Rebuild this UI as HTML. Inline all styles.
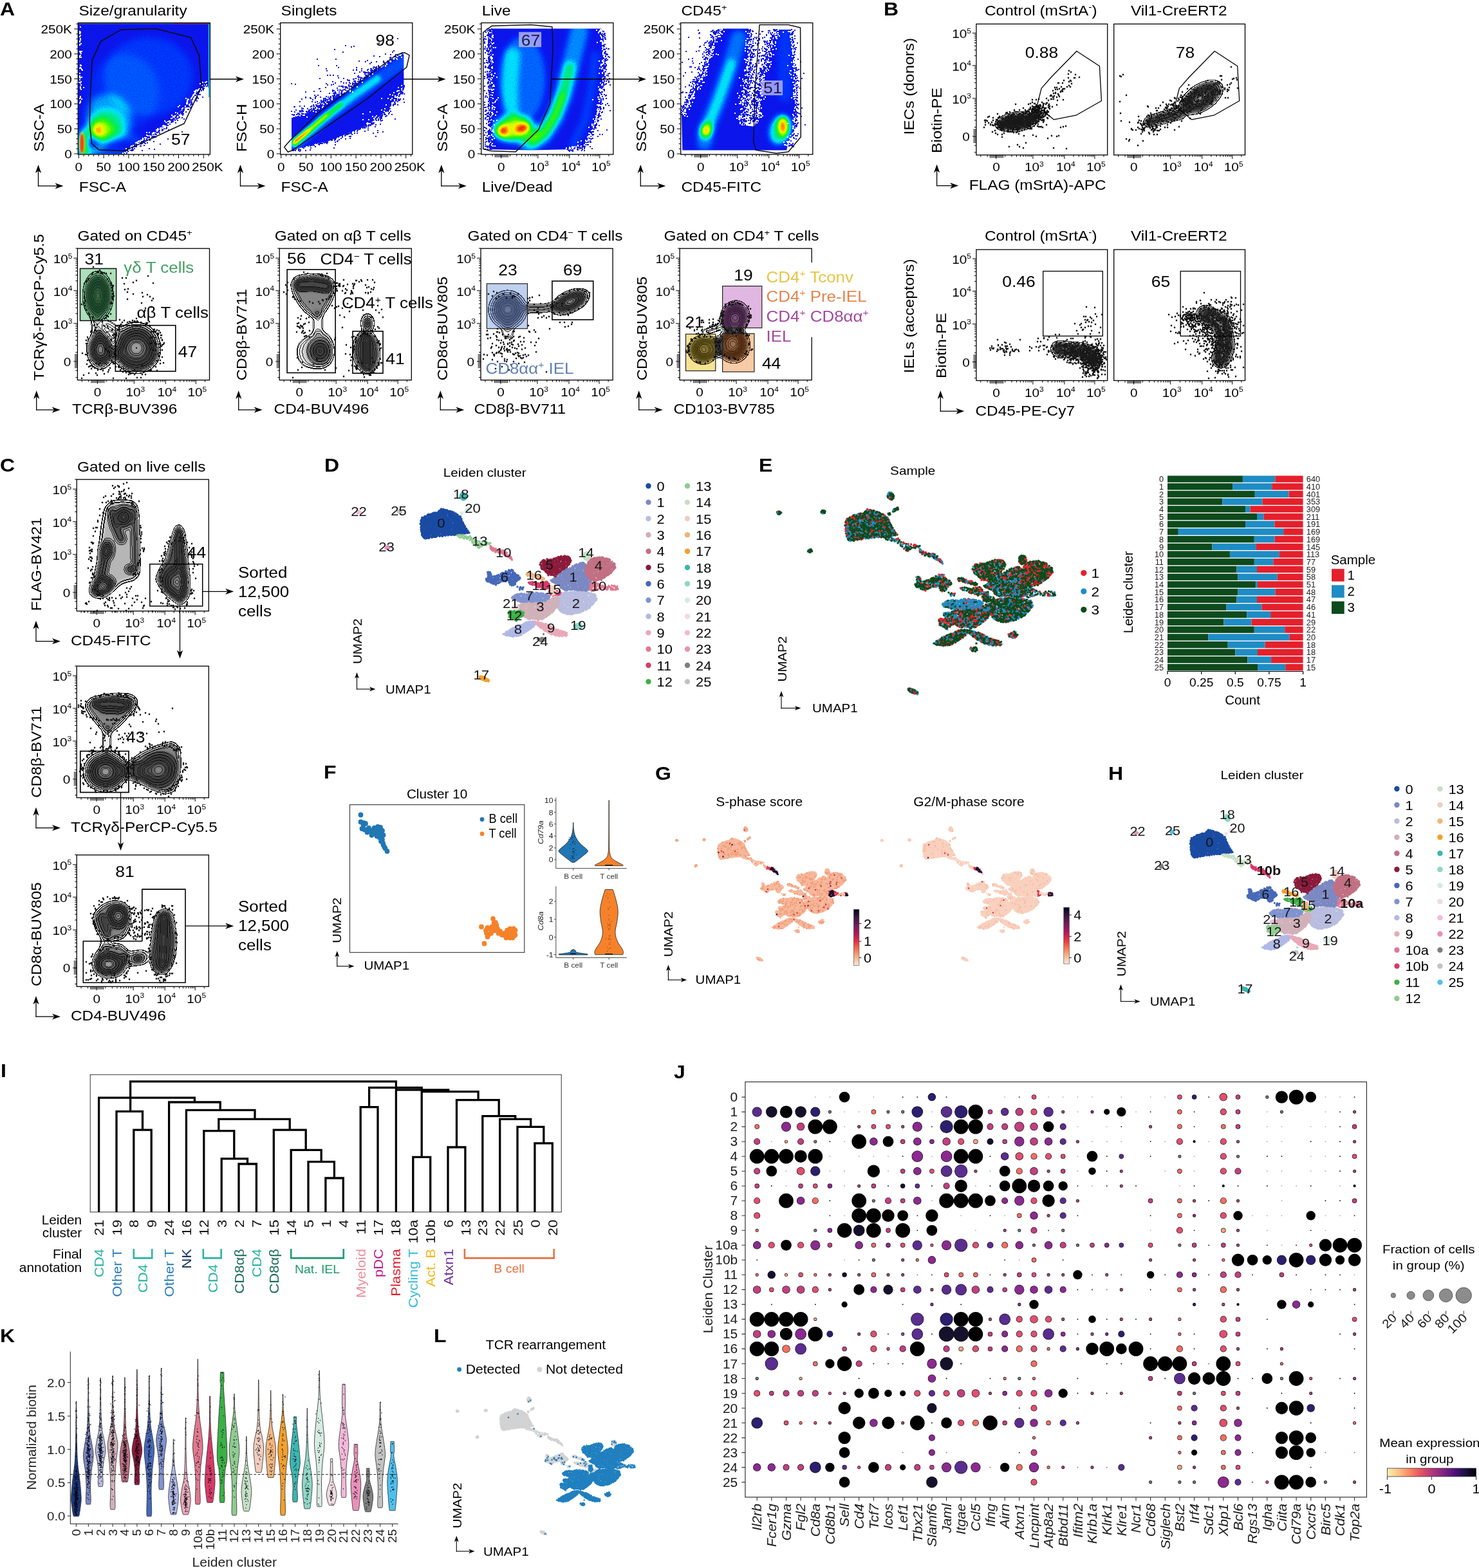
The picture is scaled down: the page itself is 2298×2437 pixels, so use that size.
<!DOCTYPE html>
<html lang="en"><head><meta charset="utf-8"><title>Figure</title><style>html,body{margin:0;padding:0;background:#fff}svg{display:block}text{font-family:"Liberation Sans",sans-serif}</style></head><body><svg width="2298" height="2437" viewBox="0 0 2298 2437"><defs><clipPath id="cp1"><rect x="121.9" y="36.1" width="203.9" height="203.3"/></clipPath><filter id="fA1" filterUnits="userSpaceOnUse" x="91.3" y="5.5" width="265.1" height="264.5" color-interpolation-filters="sRGB"><feGaussianBlur stdDeviation="5.5" result="b"/><feTurbulence type="fractalNoise" baseFrequency="0.5" numOctaves="2" seed="5" result="n"/><feColorMatrix in="n" type="matrix" values="1 0 0 0 0 1 0 0 0 0 1 0 0 0 0 0 0 0 0 1" result="m"/><feComposite in="b" in2="m" operator="arithmetic" k1="0" k2="1" k3="0.1" k4="-0.05"/><feComponentTransfer><feFuncR type="table" tableValues="0.05 0.03 0.02 0.01 0 0 0 0 0 0 0 0 0 0 0 0 0 0 0 0 0.03 0.09 0.15 0.21 0.31 0.44 0.58 0.71 0.8 0.88 0.97 1 1 1 1 0.99 0.98 0.97 0.92 0.88"/><feFuncG type="table" tableValues="0.08 0.11 0.14 0.17 0.2 0.25 0.3 0.35 0.4 0.47 0.55 0.63 0.71 0.8 0.88 0.89 0.9 0.9 0.91 0.92 0.93 0.94 0.95 0.96 0.97 0.98 0.99 1 0.99 0.97 0.95 0.88 0.76 0.65 0.54 0.42 0.31 0.21 0.15 0.08"/><feFuncB type="table" tableValues="0.92 0.94 0.95 0.97 0.98 0.99 0.99 0.99 1 1 1 1 1 1 1 0.89 0.77 0.65 0.53 0.41 0.31 0.22 0.13 0.04 0 0 0 0 0 0 0 0 0 0 0 0 0 0.01 0.02 0.04"/></feComponentTransfer></filter><clipPath id="sA1"><path d="M121.4 35.5 L326.4 35.5 L326.4 124.8 L314.9 132.5 L303.4 145.9 L288 165.1 L268.8 184.3 L240 206.4 L211.2 224.7 L192 240 L121.4 240Z"/></clipPath><clipPath id="cp2"><rect x="436.3" y="36.1" width="203.9" height="203.3"/></clipPath><filter id="fA2" filterUnits="userSpaceOnUse" x="405.7" y="5.5" width="265.1" height="264.5" color-interpolation-filters="sRGB"><feGaussianBlur stdDeviation="2.6" result="b"/><feTurbulence type="fractalNoise" baseFrequency="0.5" numOctaves="2" seed="8" result="n"/><feColorMatrix in="n" type="matrix" values="1 0 0 0 0 1 0 0 0 0 1 0 0 0 0 0 0 0 0 1" result="m"/><feComposite in="b" in2="m" operator="arithmetic" k1="0" k2="1" k3="0.1" k4="-0.05"/><feComponentTransfer><feFuncR type="table" tableValues="0.05 0.03 0.02 0.01 0 0 0 0 0 0 0 0 0 0 0 0 0 0 0 0 0.03 0.09 0.15 0.21 0.31 0.44 0.58 0.71 0.8 0.88 0.97 1 1 1 1 0.99 0.98 0.97 0.92 0.88"/><feFuncG type="table" tableValues="0.08 0.11 0.14 0.17 0.2 0.25 0.3 0.35 0.4 0.47 0.55 0.63 0.71 0.8 0.88 0.89 0.9 0.9 0.91 0.92 0.93 0.94 0.95 0.96 0.97 0.98 0.99 1 0.99 0.97 0.95 0.88 0.76 0.65 0.54 0.42 0.31 0.21 0.15 0.08"/><feFuncB type="table" tableValues="0.92 0.94 0.95 0.97 0.98 0.99 0.99 0.99 1 1 1 1 1 1 1 0.89 0.77 0.65 0.53 0.41 0.31 0.22 0.13 0.04 0 0 0 0 0 0 0 0 0 0 0 0 0 0.01 0.02 0.04"/></feComponentTransfer></filter><clipPath id="sA2"><path d="M453 181.3 L471.2 177.4 L490.4 169.8 L509.6 155.7 L528.8 146.7 L548 135.2 L567.2 119.8 L586.4 107 L605.6 95.5 L619.7 86.6 L627.4 84 L627.4 132.6 L619.7 148 L605.6 167.2 L586.4 183.8 L567.2 196.6 L548 204.3 L528.8 212 L509.6 219.7 L490.4 223.5 L471.2 228.6 L453 233.8Z"/></clipPath><clipPath id="cp3"><rect x="748.4" y="36.1" width="203.9" height="203.3"/></clipPath><filter id="fA3" filterUnits="userSpaceOnUse" x="717.8" y="5.5" width="265.1" height="264.5" color-interpolation-filters="sRGB"><feGaussianBlur stdDeviation="4.2" result="b"/><feTurbulence type="fractalNoise" baseFrequency="0.5" numOctaves="2" seed="12" result="n"/><feColorMatrix in="n" type="matrix" values="1 0 0 0 0 1 0 0 0 0 1 0 0 0 0 0 0 0 0 1" result="m"/><feComposite in="b" in2="m" operator="arithmetic" k1="0" k2="1" k3="0.1" k4="-0.05"/><feComponentTransfer><feFuncR type="table" tableValues="0.05 0.03 0.02 0.01 0 0 0 0 0 0 0 0 0 0 0 0 0 0 0 0 0.03 0.09 0.15 0.21 0.31 0.44 0.58 0.71 0.8 0.88 0.97 1 1 1 1 0.99 0.98 0.97 0.92 0.88"/><feFuncG type="table" tableValues="0.08 0.11 0.14 0.17 0.2 0.25 0.3 0.35 0.4 0.47 0.55 0.63 0.71 0.8 0.88 0.89 0.9 0.9 0.91 0.92 0.93 0.94 0.95 0.96 0.97 0.98 0.99 1 0.99 0.97 0.95 0.88 0.76 0.65 0.54 0.42 0.31 0.21 0.15 0.08"/><feFuncB type="table" tableValues="0.92 0.94 0.95 0.97 0.98 0.99 0.99 0.99 1 1 1 1 1 1 1 0.89 0.77 0.65 0.53 0.41 0.31 0.22 0.13 0.04 0 0 0 0 0 0 0 0 0 0 0 0 0 0.01 0.02 0.04"/></feComponentTransfer></filter><clipPath id="sA3"><path d="M764.4 44.6 L934.3 44.6 L939.2 86.3 L935.5 135.4 L929.4 178.3 L919.6 206.6 L909.7 226.2 L879.1 232.3 L823.9 233.5 L764.4 232.3Z"/></clipPath><clipPath id="cp4"><rect x="1058.3" y="36.1" width="203.9" height="203.3"/></clipPath><filter id="fA4" filterUnits="userSpaceOnUse" x="1027.7" y="5.5" width="265.1" height="264.5" color-interpolation-filters="sRGB"><feGaussianBlur stdDeviation="4.2" result="b"/><feTurbulence type="fractalNoise" baseFrequency="0.5" numOctaves="2" seed="21" result="n"/><feColorMatrix in="n" type="matrix" values="1 0 0 0 0 1 0 0 0 0 1 0 0 0 0 0 0 0 0 1" result="m"/><feComposite in="b" in2="m" operator="arithmetic" k1="0" k2="1" k3="0.1" k4="-0.05"/><feComponentTransfer><feFuncR type="table" tableValues="0.05 0.03 0.02 0.01 0 0 0 0 0 0 0 0 0 0 0 0 0 0 0 0 0.03 0.09 0.15 0.21 0.31 0.44 0.58 0.71 0.8 0.88 0.97 1 1 1 1 0.99 0.98 0.97 0.92 0.88"/><feFuncG type="table" tableValues="0.08 0.11 0.14 0.17 0.2 0.25 0.3 0.35 0.4 0.47 0.55 0.63 0.71 0.8 0.88 0.89 0.9 0.9 0.91 0.92 0.93 0.94 0.95 0.96 0.97 0.98 0.99 1 0.99 0.97 0.95 0.88 0.76 0.65 0.54 0.42 0.31 0.21 0.15 0.08"/><feFuncB type="table" tableValues="0.92 0.94 0.95 0.97 0.98 0.99 0.99 0.99 1 1 1 1 1 1 1 0.89 0.77 0.65 0.53 0.41 0.31 0.22 0.13 0.04 0 0 0 0 0 0 0 0 0 0 0 0 0 0.01 0.02 0.04"/></feComponentTransfer></filter><clipPath id="sA4"><path d="M1060.3 233.5 L1059 178.3 L1066.4 166.1 L1078.7 141.5 L1094.6 110.9 L1103.2 80.2 L1111.8 55.7 L1121.6 44.6 L1163.3 44.6 L1165.8 74.1 L1162.1 110.9 L1157.2 147.7 L1152.3 178.3 L1153.5 194.3 L1171.9 196.7 L1174.3 190.6 L1180.5 147.7 L1189.1 98.6 L1201.3 61.8 L1207.5 45.9 L1227.1 45.9 L1232 74.1 L1235.7 123.1 L1236.9 172.2 L1232 202.9 L1223.4 227.4 L1222.2 233.5Z"/></clipPath><clipPath id="cp5"><rect x="121" y="386.8" width="203.9" height="203.3"/></clipPath><filter id="fA5" filterUnits="userSpaceOnUse" x="90.4" y="356.2" width="265.1" height="264.5" color-interpolation-filters="sRGB"><feGaussianBlur stdDeviation="3.6" result="b"/><feComponentTransfer result="p"><feFuncR type="discrete" tableValues="0 0 0 0 0 0 0 0 1 1 1 1 1 1 0 0 0 0 0 0 1 1 1 1 1 1 0 0 0 0 0 0 1 1 1 1 1 1 0 0 0 0 0 0 1 1 1 1 1 1 0 0 0 0 0 0 1 1 1 1 1 1 0 0 0 0 0 0 1 1 1 1 1 1 0 0 0 0 0 0 1 1 1 1 1 1 1 0 0 0 0 0 0 1 1 1 1 1 1 0 0 0 0 0 0 1 1 1 1 1 1 0 0 0 0 0 0 1 1 1 1 1 1 0 0 0 0 0"/></feComponentTransfer><feConvolveMatrix order="3" kernelMatrix="0 -1 0 -1 4 -1 0 -1 0" preserveAlpha="true" result="e"/><feColorMatrix type="matrix" values="0 0 0 0 0.1 0 0 0 0 0.1 0 0 0 0 0.1 4.0 0 0 0 0" result="ln"/><feColorMatrix in="b" type="matrix" values="0 0 0 0 0.1 0 0 0 0 0.1 0 0 0 0 0.1 1 0 0 0 0"/><feComponentTransfer result="fl"><feFuncA type="table" tableValues="0 0 0.1 0.45 0.72 0.82 0.85 0.85 0.8 0.66 0.42 0.1"/></feComponentTransfer><feMerge><feMergeNode in="fl"/><feMergeNode in="ln"/></feMerge></filter><clipPath id="cp6"><rect x="434.8" y="386.8" width="203.9" height="203.3"/></clipPath><filter id="fA6" filterUnits="userSpaceOnUse" x="404.2" y="356.2" width="265.1" height="264.5" color-interpolation-filters="sRGB"><feGaussianBlur stdDeviation="3.4" result="b"/><feComponentTransfer result="p"><feFuncR type="discrete" tableValues="0 0 0 0 0 0 0 0 1 1 1 1 1 1 0 0 0 0 0 0 1 1 1 1 1 1 0 0 0 0 0 0 1 1 1 1 1 1 0 0 0 0 0 0 1 1 1 1 1 1 0 0 0 0 0 0 1 1 1 1 1 1 0 0 0 0 0 0 1 1 1 1 1 1 0 0 0 0 0 0 1 1 1 1 1 1 1 0 0 0 0 0 0 1 1 1 1 1 1 0 0 0 0 0 0 1 1 1 1 1 1 0 0 0 0 0 0 1 1 1 1 1 1 0 0 0 0 0"/></feComponentTransfer><feConvolveMatrix order="3" kernelMatrix="0 -1 0 -1 4 -1 0 -1 0" preserveAlpha="true" result="e"/><feColorMatrix type="matrix" values="0 0 0 0 0.1 0 0 0 0 0.1 0 0 0 0 0.1 4.0 0 0 0 0" result="ln"/><feColorMatrix in="b" type="matrix" values="0 0 0 0 0.1 0 0 0 0 0.1 0 0 0 0 0.1 1 0 0 0 0"/><feComponentTransfer result="fl"><feFuncA type="table" tableValues="0 0 0.1 0.45 0.72 0.82 0.85 0.85 0.8 0.66 0.42 0.1"/></feComponentTransfer><feMerge><feMergeNode in="fl"/><feMergeNode in="ln"/></feMerge></filter><clipPath id="cp7"><rect x="747.6" y="386.8" width="203.9" height="203.3"/></clipPath><filter id="fA7" filterUnits="userSpaceOnUse" x="717" y="356.2" width="265.1" height="264.5" color-interpolation-filters="sRGB"><feGaussianBlur stdDeviation="3.2" result="b"/><feComponentTransfer result="p"><feFuncR type="discrete" tableValues="0 0 0 0 0 0 0 0 1 1 1 1 1 1 0 0 0 0 0 0 1 1 1 1 1 1 0 0 0 0 0 0 1 1 1 1 1 1 0 0 0 0 0 0 1 1 1 1 1 1 0 0 0 0 0 0 1 1 1 1 1 1 0 0 0 0 0 0 1 1 1 1 1 1 0 0 0 0 0 0 1 1 1 1 1 1 1 0 0 0 0 0 0 1 1 1 1 1 1 0 0 0 0 0 0 1 1 1 1 1 1 0 0 0 0 0 0 1 1 1 1 1 1 0 0 0 0 0"/></feComponentTransfer><feConvolveMatrix order="3" kernelMatrix="0 -1 0 -1 4 -1 0 -1 0" preserveAlpha="true" result="e"/><feColorMatrix type="matrix" values="0 0 0 0 0.1 0 0 0 0 0.1 0 0 0 0 0.1 4.0 0 0 0 0" result="ln"/><feColorMatrix in="b" type="matrix" values="0 0 0 0 0.1 0 0 0 0 0.1 0 0 0 0 0.1 1 0 0 0 0"/><feComponentTransfer result="fl"><feFuncA type="table" tableValues="0 0 0.1 0.45 0.72 0.82 0.85 0.85 0.8 0.66 0.42 0.1"/></feComponentTransfer><feMerge><feMergeNode in="fl"/><feMergeNode in="ln"/></feMerge></filter><clipPath id="cp8"><rect x="1056.7" y="386.8" width="203.9" height="203.3"/></clipPath><filter id="fA8" filterUnits="userSpaceOnUse" x="1026.1" y="356.2" width="265.1" height="264.5" color-interpolation-filters="sRGB"><feGaussianBlur stdDeviation="3.2" result="b"/><feComponentTransfer result="p"><feFuncR type="discrete" tableValues="0 0 0 0 0 0 0 0 1 1 1 1 1 1 0 0 0 0 0 0 1 1 1 1 1 1 0 0 0 0 0 0 1 1 1 1 1 1 0 0 0 0 0 0 1 1 1 1 1 1 0 0 0 0 0 0 1 1 1 1 1 1 0 0 0 0 0 0 1 1 1 1 1 1 0 0 0 0 0 0 1 1 1 1 1 1 1 0 0 0 0 0 0 1 1 1 1 1 1 0 0 0 0 0 0 1 1 1 1 1 1 0 0 0 0 0 0 1 1 1 1 1 1 0 0 0 0 0"/></feComponentTransfer><feConvolveMatrix order="3" kernelMatrix="0 -1 0 -1 4 -1 0 -1 0" preserveAlpha="true" result="e"/><feColorMatrix type="matrix" values="0 0 0 0 0.1 0 0 0 0 0.1 0 0 0 0 0.1 4.0 0 0 0 0" result="ln"/><feColorMatrix in="b" type="matrix" values="0 0 0 0 0.1 0 0 0 0 0.1 0 0 0 0 0.1 1 0 0 0 0"/><feComponentTransfer result="fl"><feFuncA type="table" tableValues="0 0 0.1 0.45 0.72 0.82 0.85 0.85 0.8 0.66 0.42 0.1"/></feComponentTransfer><feMerge><feMergeNode in="fl"/><feMergeNode in="ln"/></feMerge></filter><clipPath id="cp9"><rect x="1517.5" y="37.9" width="202.6" height="202.4"/></clipPath><filter id="fB0" filterUnits="userSpaceOnUse" x="1486.9" y="7.3" width="263.8" height="263.6" color-interpolation-filters="sRGB"><feGaussianBlur stdDeviation="3.0" result="b"/><feComponentTransfer result="p"><feFuncR type="discrete" tableValues="0 0 0 0 0 0 0 0 1 1 1 1 1 1 0 0 0 0 0 0 1 1 1 1 1 1 0 0 0 0 0 0 1 1 1 1 1 1 0 0 0 0 0 0 1 1 1 1 1 1 0 0 0 0 0 0 1 1 1 1 1 1 0 0 0 0 0 0 1 1 1 1 1 1 0 0 0 0 0 0 1 1 1 1 1 1 1 0 0 0 0 0 0 1 1 1 1 1 1 0 0 0 0 0 0 1 1 1 1 1 1 0 0 0 0 0 0 1 1 1 1 1 1 0 0 0 0 0"/></feComponentTransfer><feConvolveMatrix order="3" kernelMatrix="0 -1 0 -1 4 -1 0 -1 0" preserveAlpha="true" result="e"/><feColorMatrix type="matrix" values="0 0 0 0 0.1 0 0 0 0 0.1 0 0 0 0 0.1 4.0 0 0 0 0" result="ln"/><feColorMatrix in="b" type="matrix" values="0 0 0 0 0.1 0 0 0 0 0.1 0 0 0 0 0.1 1 0 0 0 0"/><feComponentTransfer result="fl"><feFuncA type="table" tableValues="0 0 0.1 0.45 0.72 0.82 0.85 0.85 0.8 0.66 0.42 0.1"/></feComponentTransfer><feMerge><feMergeNode in="fl"/><feMergeNode in="ln"/></feMerge></filter><clipPath id="cp10"><rect x="1731.3" y="37.9" width="202.6" height="202.4"/></clipPath><filter id="fB1" filterUnits="userSpaceOnUse" x="1700.7" y="7.3" width="263.8" height="263.6" color-interpolation-filters="sRGB"><feGaussianBlur stdDeviation="3.0" result="b"/><feComponentTransfer result="p"><feFuncR type="discrete" tableValues="0 0 0 0 0 0 0 0 1 1 1 1 1 1 0 0 0 0 0 0 1 1 1 1 1 1 0 0 0 0 0 0 1 1 1 1 1 1 0 0 0 0 0 0 1 1 1 1 1 1 0 0 0 0 0 0 1 1 1 1 1 1 0 0 0 0 0 0 1 1 1 1 1 1 0 0 0 0 0 0 1 1 1 1 1 1 1 0 0 0 0 0 0 1 1 1 1 1 1 0 0 0 0 0 0 1 1 1 1 1 1 0 0 0 0 0 0 1 1 1 1 1 1 0 0 0 0 0"/></feComponentTransfer><feConvolveMatrix order="3" kernelMatrix="0 -1 0 -1 4 -1 0 -1 0" preserveAlpha="true" result="e"/><feColorMatrix type="matrix" values="0 0 0 0 0.1 0 0 0 0 0.1 0 0 0 0 0.1 4.0 0 0 0 0" result="ln"/><feColorMatrix in="b" type="matrix" values="0 0 0 0 0.1 0 0 0 0 0.1 0 0 0 0 0.1 1 0 0 0 0"/><feComponentTransfer result="fl"><feFuncA type="table" tableValues="0 0 0.1 0.45 0.72 0.82 0.85 0.85 0.8 0.66 0.42 0.1"/></feComponentTransfer><feMerge><feMergeNode in="fl"/><feMergeNode in="ln"/></feMerge></filter><clipPath id="cp11"><rect x="1517.5" y="388.5" width="202.6" height="202.4"/></clipPath><filter id="fB2" filterUnits="userSpaceOnUse" x="1486.9" y="357.9" width="263.8" height="263.6" color-interpolation-filters="sRGB"><feGaussianBlur stdDeviation="3.0" result="b"/><feComponentTransfer result="p"><feFuncR type="discrete" tableValues="0 0 0 0 0 0 0 0 1 1 1 1 1 1 0 0 0 0 0 0 1 1 1 1 1 1 0 0 0 0 0 0 1 1 1 1 1 1 0 0 0 0 0 0 1 1 1 1 1 1 0 0 0 0 0 0 1 1 1 1 1 1 0 0 0 0 0 0 1 1 1 1 1 1 0 0 0 0 0 0 1 1 1 1 1 1 1 0 0 0 0 0 0 1 1 1 1 1 1 0 0 0 0 0 0 1 1 1 1 1 1 0 0 0 0 0 0 1 1 1 1 1 1 0 0 0 0 0"/></feComponentTransfer><feConvolveMatrix order="3" kernelMatrix="0 -1 0 -1 4 -1 0 -1 0" preserveAlpha="true" result="e"/><feColorMatrix type="matrix" values="0 0 0 0 0.1 0 0 0 0 0.1 0 0 0 0 0.1 4.0 0 0 0 0" result="ln"/><feColorMatrix in="b" type="matrix" values="0 0 0 0 0.1 0 0 0 0 0.1 0 0 0 0 0.1 1 0 0 0 0"/><feComponentTransfer result="fl"><feFuncA type="table" tableValues="0 0 0.1 0.45 0.72 0.82 0.85 0.85 0.8 0.66 0.42 0.1"/></feComponentTransfer><feMerge><feMergeNode in="fl"/><feMergeNode in="ln"/></feMerge></filter><clipPath id="cp12"><rect x="1731.3" y="388.5" width="202.6" height="202.4"/></clipPath><filter id="fB3" filterUnits="userSpaceOnUse" x="1700.7" y="357.9" width="263.8" height="263.6" color-interpolation-filters="sRGB"><feGaussianBlur stdDeviation="3.0" result="b"/><feComponentTransfer result="p"><feFuncR type="discrete" tableValues="0 0 0 0 0 0 0 0 1 1 1 1 1 1 0 0 0 0 0 0 1 1 1 1 1 1 0 0 0 0 0 0 1 1 1 1 1 1 0 0 0 0 0 0 1 1 1 1 1 1 0 0 0 0 0 0 1 1 1 1 1 1 0 0 0 0 0 0 1 1 1 1 1 1 0 0 0 0 0 0 1 1 1 1 1 1 1 0 0 0 0 0 0 1 1 1 1 1 1 0 0 0 0 0 0 1 1 1 1 1 1 0 0 0 0 0 0 1 1 1 1 1 1 0 0 0 0 0"/></feComponentTransfer><feConvolveMatrix order="3" kernelMatrix="0 -1 0 -1 4 -1 0 -1 0" preserveAlpha="true" result="e"/><feColorMatrix type="matrix" values="0 0 0 0 0.1 0 0 0 0 0.1 0 0 0 0 0.1 4.0 0 0 0 0" result="ln"/><feColorMatrix in="b" type="matrix" values="0 0 0 0 0.1 0 0 0 0 0.1 0 0 0 0 0.1 1 0 0 0 0"/><feComponentTransfer result="fl"><feFuncA type="table" tableValues="0 0 0.1 0.45 0.72 0.82 0.85 0.85 0.8 0.66 0.42 0.1"/></feComponentTransfer><feMerge><feMergeNode in="fl"/><feMergeNode in="ln"/></feMerge></filter><clipPath id="cp13"><rect x="119.8" y="745.8" width="203.9" height="203.3"/></clipPath><filter id="fC1" filterUnits="userSpaceOnUse" x="89.2" y="715.2" width="265.1" height="264.5" color-interpolation-filters="sRGB"><feGaussianBlur stdDeviation="3.2" result="b"/><feComponentTransfer result="p"><feFuncR type="discrete" tableValues="0 0 0 0 0 0 0 0 1 1 1 1 1 1 0 0 0 0 0 0 1 1 1 1 1 1 0 0 0 0 0 0 1 1 1 1 1 1 0 0 0 0 0 0 1 1 1 1 1 1 0 0 0 0 0 0 1 1 1 1 1 1 0 0 0 0 0 0 1 1 1 1 1 1 0 0 0 0 0 0 1 1 1 1 1 1 1 0 0 0 0 0 0 1 1 1 1 1 1 0 0 0 0 0 0 1 1 1 1 1 1 0 0 0 0 0 0 1 1 1 1 1 1 0 0 0 0 0"/></feComponentTransfer><feConvolveMatrix order="3" kernelMatrix="0 -1 0 -1 4 -1 0 -1 0" preserveAlpha="true" result="e"/><feColorMatrix type="matrix" values="0 0 0 0 0.1 0 0 0 0 0.1 0 0 0 0 0.1 4.0 0 0 0 0" result="ln"/><feColorMatrix in="b" type="matrix" values="0 0 0 0 0.1 0 0 0 0 0.1 0 0 0 0 0.1 1 0 0 0 0"/><feComponentTransfer result="fl"><feFuncA type="table" tableValues="0 0 0.1 0.45 0.72 0.82 0.85 0.85 0.8 0.66 0.42 0.1"/></feComponentTransfer><feMerge><feMergeNode in="fl"/><feMergeNode in="ln"/></feMerge></filter><clipPath id="cp14"><rect x="119.8" y="1035.9" width="203.9" height="203.3"/></clipPath><filter id="fC2" filterUnits="userSpaceOnUse" x="89.2" y="1005.3" width="265.1" height="264.5" color-interpolation-filters="sRGB"><feGaussianBlur stdDeviation="3.2" result="b"/><feComponentTransfer result="p"><feFuncR type="discrete" tableValues="0 0 0 0 0 0 0 0 1 1 1 1 1 1 0 0 0 0 0 0 1 1 1 1 1 1 0 0 0 0 0 0 1 1 1 1 1 1 0 0 0 0 0 0 1 1 1 1 1 1 0 0 0 0 0 0 1 1 1 1 1 1 0 0 0 0 0 0 1 1 1 1 1 1 0 0 0 0 0 0 1 1 1 1 1 1 1 0 0 0 0 0 0 1 1 1 1 1 1 0 0 0 0 0 0 1 1 1 1 1 1 0 0 0 0 0 0 1 1 1 1 1 1 0 0 0 0 0"/></feComponentTransfer><feConvolveMatrix order="3" kernelMatrix="0 -1 0 -1 4 -1 0 -1 0" preserveAlpha="true" result="e"/><feColorMatrix type="matrix" values="0 0 0 0 0.1 0 0 0 0 0.1 0 0 0 0 0.1 4.0 0 0 0 0" result="ln"/><feColorMatrix in="b" type="matrix" values="0 0 0 0 0.1 0 0 0 0 0.1 0 0 0 0 0.1 1 0 0 0 0"/><feComponentTransfer result="fl"><feFuncA type="table" tableValues="0 0 0.1 0.45 0.72 0.82 0.85 0.85 0.8 0.66 0.42 0.1"/></feComponentTransfer><feMerge><feMergeNode in="fl"/><feMergeNode in="ln"/></feMerge></filter><clipPath id="cp15"><rect x="119.8" y="1329.4" width="203.9" height="203.3"/></clipPath><filter id="fC3" filterUnits="userSpaceOnUse" x="89.2" y="1298.8" width="265.1" height="264.5" color-interpolation-filters="sRGB"><feGaussianBlur stdDeviation="3.2" result="b"/><feComponentTransfer result="p"><feFuncR type="discrete" tableValues="0 0 0 0 0 0 0 0 1 1 1 1 1 1 0 0 0 0 0 0 1 1 1 1 1 1 0 0 0 0 0 0 1 1 1 1 1 1 0 0 0 0 0 0 1 1 1 1 1 1 0 0 0 0 0 0 1 1 1 1 1 1 0 0 0 0 0 0 1 1 1 1 1 1 0 0 0 0 0 0 1 1 1 1 1 1 1 0 0 0 0 0 0 1 1 1 1 1 1 0 0 0 0 0 0 1 1 1 1 1 1 0 0 0 0 0 0 1 1 1 1 1 1 0 0 0 0 0"/></feComponentTransfer><feConvolveMatrix order="3" kernelMatrix="0 -1 0 -1 4 -1 0 -1 0" preserveAlpha="true" result="e"/><feColorMatrix type="matrix" values="0 0 0 0 0.1 0 0 0 0 0.1 0 0 0 0 0.1 4.0 0 0 0 0" result="ln"/><feColorMatrix in="b" type="matrix" values="0 0 0 0 0.1 0 0 0 0 0.1 0 0 0 0 0.1 1 0 0 0 0"/><feComponentTransfer result="fl"><feFuncA type="table" tableValues="0 0 0.1 0.45 0.72 0.82 0.85 0.85 0.8 0.66 0.42 0.1"/></feComponentTransfer><feMerge><feMergeNode in="fl"/><feMergeNode in="ln"/></feMerge></filter><g id="uall"><path id="u0" d="M1371 1582h0m7 1h0m-15 7h0m2-2h0m3-2h0m2 3h0m2-2h0m2-3h0m1 5h0m3 2h0m1-4h0m2-2h0m3 4h0m1 2h0m0-6h0m2 3h0m3-2h0m1 5h0m2-2h0m4 0h0m3 0h0m6 2h0m-74 8h0m5 0h0m3-1h0m3-1h0m3-2h0m3-1h0m1 4h0m2-4h0m3 0h0m0 3h0m4 0h0m0-3h0m4 0h0m1 4h0m2-6h0m1 6h0m2-6h0m3 4h0m1-3h0m2 2h0m0 3h0m3 0h0m1-3h0m2-3h0m2 4h0m1 3h0m3-1h0m1-4h0m6 1h0m0 4h0m2-7h0m2 4h0m1-3h0m3 4h0m0-5h0m3 7h0m2-5h0m3 5h0m0-6h0m3 4h0m3-1h0m3 3h0m-99 6h0m3 1h0m3-2h0m3-4h0m1 6h0m3-3h0m4 1h0m3-2h0m2 3h0m2 2h0m0-6h0m2 3h0m2-4h0m1 6h0m2-3h0m3-2h0m1 3h0m2 3h0m1-7h0m2 5h0m1-5h0m3 5h0m2-4h0m3 3h0m1-4h0m1 7h0m1-5h0m3 0h0m1 5h0m2-6h0m2 6h0m1-3h0m1-3h0m2 1h0m0 3h0m3-1h0m2-4h0m3 7h0m3-4h0m1-2h0m4 5h0m0-5h0m2 2h0m5 1h0m0-3h0m2 6h0m1-3h0m3 3h0m1-3h0m3 3h0m0-4h0m5 2h0m0-5h0m2 7h0m3-2h0m4 1h0m-121 9h0m1-6h0m3 5h0m1-5h0m2 3h0m1 3h0m1-7h0m2 4h0m3-1h0m0 3h0m4-1h0m2-3h0m1 5h0m3-5h0m1 4h0m3-1h0m0-5h0m3 1h0m3 4h0m4 2h0m0-6h0m4 2h0m1-3h0m2 5h0m2 2h0m1-5h0m2 4h0m1-4h0m4 3h0m2-3h0m1 5h0m4 0h0m2-4h0m1 3h0m2-3h0m4 1h0m0 3h0m2-7h0m1 6h0m1-3h0m3 0h0m1-3h0m2 5h0m1-4h0m4 4h0m1-4h0m3 1h0m2 5h0m3-7h0m0 3h0m1 2h0m5-1h0m2 2h0m2-4h0m3 3h0m1-4h0m2 6h0m1-4h0m3 0h0m0 4h0m3-2h0m3-2h0m3 2h0m-126 8h0m0-3h0m4 1h0m2 3h0m3 1h0m0-5h0m3 2h0m2-4h0m3 5h0m2-4h0m1 4h0m2-3h0m2 3h0m3-3h0m3-1h0m0 3h0m1 3h0m3-5h0m4 1h0m0 4h0m3-4h0m2 3h0m3-5h0m1 3h0m4 0h0m4-3h0m3 3h0m4 1h0m4-1h0m2-3h0m1 5h0m3-4h0m2 4h0m2-4h0m1 3h0m3 2h0m0-6h0m2 3h0m3 3h0m1-6h0m2 3h0m2-1h0m2 3h0m3-3h0m1 3h0m3-5h0m1 5h0m2-3h0m3 1h0m3-4h0m1 6h0m4-2h0m1 3h0m2-3h0m3-2h0m2 4h0m2-6h0m1 4h0m2-4h0m2 5h0m-130 7h0m3-1h0m2-2h0m3 3h0m4 0h0m3-4h0m0 3h0m0 4h0m4-4h0m1 3h0m1-6h0m2 5h0m1-4h0m3 0h0m0 4h0m3-5h0m2 5h0m4-5h0m0 6h0m4-4h0m0 4h0m3-6h0m2 4h0m2 3h0m0-6h0m3-1h0m1 4h0m1-2h0m2 4h0m1-6h0m3 4h0m0 3h0m2-6h0m1 4h0m3-4h0m0 4h0m3 0h0m3-4h0m1 3h0m0 3h0m3-5h0m1 3h0m2-3h0m1 3h0m3 1h0m2-3h0m4 1h0m3-2h0m2 4h0m0-6h0m4 6h0m1-3h0m2 2h0m3 1h0m3-6h0m0 3h0m2 3h0m3-4h0m3-2h0m1 4h0m3 1h0m3-4h0m1 3h0m3 0h0m1 3h0m3-4h0m0-3h0m3 6h0m2-5h0m2 5h0m-133 9h0m1-3h0m0-3h0m3 1h0m1 3h0m3-5h0m1 3h0m3-1h0m1 3h0m3 0h0m2-2h0m3 1h0m1-3h0m2 4h0m2-5h0m0 7h0m1-3h0m3-3h0m1 3h0m2-2h0m0 4h0m3-3h0m4 3h0m1-5h0m5 1h0m0 3h0m3-4h0m1 6h0m3-5h0m2 5h0m1-4h0m3-2h0m2 3h0m3 2h0m2-5h0m2 3h0m3-2h0m1 3h0m1 2h0m3-6h0m1 6h0m4-1h0m0-3h0m2-3h0m2 6h0m2-4h0m2 3h0m2-4h0m3 4h0m2-3h0m4 0h0m2 4h0m1-6h0m2 6h0m3-4h0m1 3h0m1-5h0m3 6h0m1-4h0m3 4h0m0-6h0m3 4h0m5 1h0m3 1h0m0-5h0m3-1h0m1 5h0m2-3h0m1 4h0m2-2h0m-137 10h0m2-4h0m1 3h0m3-4h0m0 6h0m3-4h0m3-2h0m3 3h0m3 0h0m1-4h0m1 7h0m2-5h0m1 5h0m3-4h0m3 3h0m2-4h0m2 3h0m3-5h0m0 4h0m1 3h0m2-4h0m3 0h0m3 1h0m1-3h0m1 6h0m4-3h0m1 3h0m1-6h0m3 2h0m5-3h0m1 4h0m4 0h0m1-4h0m1 6h0m2-4h0m1 3h0m4 2h0m0-3h0m3 1h0m3-2h0m0 4h0m2-6h0m3 4h0m2-5h0m1 7h0m0-3h0m4-1h0m1-3h0m3 0h0m2 3h0m3 2h0m1-4h0m2 5h0m2-3h0m2 3h0m1-5h0m2 3h0m3-3h0m2 4h0m1-4h0m2-1h0m2 5h0m1-4h0m3 0h0m1 3h0m3 3h0m0-5h0m4-1h0m1 4h0m3-3h0m0 4h0m3-3h0m1 3h0m-141 6h0m2 2h0m0-6h0m4 3h0m2 2h0m0-5h0m3 4h0m1-3h0m2 6h0m1-6h0m1 4h0m4-2h0m4 3h0m2-5h0m2 3h0m2-3h0m1 4h0m2-5h0m1 7h0m1-5h0m3 2h0m1-4h0m4 0h0m0 4h0m2 3h0m2-4h0m4 4h0m1-3h0m2 3h0m1-6h0m1 4h0m3 2h0m0-6h0m3 5h0m1-6h0m1 3h0m4-1h0m2 3h0m1-4h0m2 5h0m1-3h0m2 3h0m1-4h0m3 5h0m2-3h0m3 3h0m1-5h0m2 4h0m3-3h0m3-2h0m0 6h0m4-3h0m0-4h0m2 6h0m1-6h0m2 4h0m1-2h0m3 3h0m3 0h0m1-5h0m2 6h0m0-3h0m3-1h0m1 5h0m3-1h0m1-6h0m4 4h0m1-4h0m3 7h0m1-5h0m4-1h0m0 4h0m2 2h0m1-4h0m3 3h0m0-5h0m3 5h0m2-4h0m1 3h0m-144 6h0m0 4h0m3-7h0m2 3h0m2-2h0m2 4h0m4-1h0m4 2h0m0-6h0m2 4h0m1-3h0m1 6h0m2-3h0m1-3h0m4 3h0m2-3h0m1 4h0m3-4h0m3 5h0m2-6h0m2 5h0m3 2h0m1-4h0m2 3h0m3-3h0m1 4h0m2-5h0m2 3h0m3 2h0m4-4h0m1-3h0m3 4h0m3-3h0m1 3h0m0 3h0m4-4h0m3 2h0m1-3h0m3 0h0m1 3h0m3 1h0m1-5h0m2-1h0m1 4h0m2 3h0m0-5h0m4 2h0m1 2h0m3-2h0m1-3h0m1 6h0m1-7h0m2 3h0m3 0h0m0 3h0m3-5h0m2 4h0m3-2h0m2-2h0m1 5h0m3-1h0m1-4h0m4 2h0m3 1h0m1-4h0m2 2h0m3 0h0m4-2h0m3 1h0m5-1h0m-144 12h0m2-3h0m1 6h0m1-3h0m1-4h0m2 6h0m2-5h0m2 6h0m1-6h0m3 0h0m2 2h0m4-2h0m2 3h0m3 0h0m2-3h0m0 6h0m3-7h0m2 5h0m1-3h0m3 3h0m1-4h0m2 4h0m1-3h0m3 1h0m8 0h0m5-2h0m4 2h0m2-3h0m7 1h0m8-1h0m-72 9h0m3 1h0m5-2h0m4 1h0m2-1h0" vector-effect="non-scaling-stroke"/><path id="u1" d="M1803 1750h0m5 0h0m3-1h0m3 1h0m-28 7h0m4 0h0m1-3h0m2 3h0m5-3h0m1 4h0m3-2h0m2 3h0m1-6h0m3 4h0m1-4h0m3 0h0m2 5h0m4-4h0m3 2h0m-50 10h0m6-1h0m2-5h0m2 5h0m2-3h0m3 0h0m4-1h0m1 3h0m3-2h0m0 3h0m3 2h0m0-6h0m3 5h0m1-4h0m2 3h0m4-2h0m2 3h0m2-5h0m2 5h0m1-4h0m3-2h0m1 6h0m3-3h0m1-3h0m-72 14h0m4-2h0m4-1h0m3-2h0m1 4h0m2-4h0m1 5h0m3-5h0m2 6h0m1-3h0m2-3h0m1 5h0m2-2h0m2-4h0m0 6h0m3-4h0m2 3h0m1-5h0m2 3h0m5-2h0m2 5h0m2-4h0m3 2h0m6-2h0m1 5h0m4-3h0m6-2h0m3 0h0m-77 11h0m3 1h0m1-2h0m4 0h0m3-1h0m2-2h0m1 5h0m2-6h0m0 3h0m3 3h0m0-6h0m3 6h0m2-4h0m2 5h0m3-2h0m3 0h0m0-3h0m3 5h0m3-5h0m1 5h0m2-6h0m3 0h0m1 4h0m4-5h0m1 2h0m0 4h0m4-1h0m1-4h0m3-1h0m1 5h0m3-4h0m2 6h0m2-4h0m1-3h0m4 4h0m3 2h0m0-6h0m3 5h0m1-4h0m-89 13h0m2-3h0m5-1h0m1 5h0m4-2h0m0-3h0m3-1h0m4 5h0m0-5h0m3-1h0m0 3h0m4 3h0m1-6h0m4 1h0m0 5h0m3-4h0m6 2h0m2-3h0m2 5h0m2-4h0m2 5h0m2-5h0m1 5h0m3-5h0m1 3h0m3-3h0m5 0h0m1 5h0m2-7h0m0 3h0m4 0h0m1 4h0m4-4h0m3 2h0m2-5h0m1 7h0m1-3h0m2-3h0m4-1h0m0 4h0m4 3h0m-101 7h0m4-3h0m2 3h0m1-4h0m2 4h0m3-3h0m3 3h0m3-2h0m1-3h0m5 1h0m2 3h0m4-1h0m2-3h0m1 5h0m3-1h0m1-4h0m2 3h0m4 0h0m1-4h0m3 6h0m1-6h0m3 2h0m0 3h0m3-4h0m4 4h0m6 0h0m0-3h0m3 0h0m1 4h0m2-6h0m1 6h0m4-3h0m2-3h0m2 5h0m3-2h0m1 3h0m3-2h0m1-3h0m4 3h0m2-4h0m2 4h0m1 3h0m1-6h0m5 2h0m0 4h0m2-6h0m4 5h0m-117 6h0m2 2h0m3-4h0m2 3h0m4 1h0m1-5h0m4 1h0m1 5h0m2-4h0m1 4h0m3-5h0m3-1h0m0 5h0m4-1h0m0-5h0m4 2h0m2 5h0m3-3h0m1 3h0m1-6h0m3 3h0m0 3h0m1-6h0m3 3h0m1-4h0m4 2h0m1 4h0m2-3h0m3-1h0m2 4h0m1-5h0m3-1h0m0 4h0m6 0h0m2-2h0m0 4h0m5 0h0m2-4h0m2 5h0m2-4h0m3 4h0m0-6h0m3 1h0m0 3h0m3-2h0m2 3h0m2-6h0m3 2h0m5 0h0m0 5h0m3-2h0m2-3h0m4 0h0m6-1h0m1 4h0m3 1h0m-119 3h0m5 2h0m3-3h0m2 6h0m1-4h0m2 3h0m4-3h0m2 1h0m2 3h0m2-5h0m1 4h0m5-4h0m2 3h0m6 0h0m3-1h0m1 3h0m4-6h0m2 6h0m2-3h0m3-3h0m2 4h0m2-3h0m3 5h0m3-5h0m1 4h0m2-3h0m3 2h0m4-2h0m1 3h0m6 1h0m1-4h0m3 1h0m5 2h0m0-3h0m3 2h0m3 2h0m1-6h0m4 4h0m3-3h0m0 6h0m4-3h0m2-4h0m2 4h0m2-4h0m2 2h0m2 3h0m3-2h0m-103 5h0m5 3h0m3-3h0m0 4h0m4-4h0m2 5h0m3-4h0m1 4h0m2-5h0m4 3h0m4 4h0m0-5h0m6 5h0m0-7h0m3 7h0m2-4h0m3 2h0m2-3h0m1 3h0m3-5h0m1 4h0m2-3h0m1 4h0m2-5h0m1 6h0m4-3h0m3 1h0m4-1h0m2-3h0m2 4h0m4-4h0m1 6h0m4 0h0m1-4h0m3 1h0m3 3h0m3-3h0m1 3h0m2-6h0m2 3h0m4-3h0m0 6h0m4-5h0m1 3h0m-94 5h0m2 3h0m3-4h0m1 4h0m2 3h0m2-5h0m2 2h0m2-2h0m3 5h0m2-4h0m2 2h0m1-5h0m2 7h0m4-3h0m4 2h0m3-6h0m2 5h0m3 2h0m1-7h0m1 5h0m3-4h0m1 3h0m1 3h0m4-1h0m0-5h0m3 5h0m3-1h0m1-4h0m3 5h0m2-4h0m4 2h0m1-3h0m4 5h0m0-5h0m5 4h0m3 2h0m2-6h0m2 3h0m2-4h0m1 4h0m4 3h0m1-7h0m0 4h0m-79 6h0m5 1h0m2-3h0m2 2h0m6-2h0m4 1h0m3 0h0m9 1h0m6 0h0m4 2h0m4 0h0m1-3h0m4-1h0m1 4h0m3-2h0m2 3h0m5-2h0m3 4h0m0-5h0m3 3h0m3-3h0m4-1h0" vector-effect="non-scaling-stroke"/><path id="u2" d="M1786 1839h0m-39 6h0m4-1h0m1 3h0m2-4h0m1 3h0m3-5h0m2 5h0m2-4h0m4 0h0m3 3h0m2-2h0m1-3h0m3 5h0m2-4h0m3 3h0m1-4h0m2 5h0m3-1h0m4 0h0m1-4h0m4 2h0m0 4h0m4-2h0m0 3h0m1-7h0m3 6h0m3-5h0m0 4h0m3-3h0m0 4h0m3-5h0m2 5h0m3-4h0m3 3h0m3-2h0m4-1h0m2 5h0m1-4h0m2 4h0m5-3h0m5 3h0m6 0h0m-114 8h0m5-4h0m4 1h0m1-4h0m3 7h0m1-5h0m3 1h0m3 3h0m2-2h0m2 3h0m0-6h0m5-1h0m1 4h0m1 3h0m2-4h0m0-3h0m4 4h0m0 3h0m2-7h0m1 5h0m3-5h0m0 4h0m1 3h0m2-7h0m1 7h0m1-3h0m1-4h0m5 5h0m0-5h0m3 7h0m0-6h0m2 4h0m3-2h0m3 2h0m1-3h0m4 2h0m2 3h0m0-7h0m2 4h0m2-3h0m1 6h0m2-2h0m2 2h0m2-6h0m1 4h0m2-2h0m3 2h0m0-5h0m4 6h0m7 0h0m1-4h0m3 0h0m2 5h0m2-4h0m4 4h0m1-5h0m4 2h0m-118 11h0m3-5h0m3 3h0m2-4h0m1 3h0m4 0h0m5-4h0m0 4h0m3 3h0m3-4h0m2 3h0m3-5h0m3 6h0m1-4h0m3-2h0m2 2h0m4-1h0m1 4h0m2-3h0m4 1h0m2 3h0m1-7h0m2 5h0m1-3h0m3 1h0m1 4h0m2-5h0m1-2h0m1 5h0m3-4h0m2 5h0m2-4h0m2 4h0m1-3h0m4 4h0m2-3h0m4-1h0m0 4h0m4-2h0m2-4h0m4 5h0m0-5h0m5 5h0m1-6h0m2 4h0m1 3h0m2-5h0m2 5h0m1-3h0m3 3h0m0-6h0m3 5h0m3-2h0m1-3h0m4 4h0m-119 7h0m1-2h0m2 2h0m5 1h0m0-5h0m3 7h0m0-7h0m2 3h0m3 3h0m3-2h0m5-2h0m3-2h0m0 3h0m2 4h0m2-4h0m2 3h0m0-5h0m3 4h0m2-4h0m1 4h0m5-5h0m1 5h0m3-2h0m1 4h0m3-6h0m3 3h0m2 2h0m3 0h0m0-5h0m6 2h0m4 2h0m3-3h0m2 3h0m3-5h0m4 4h0m4 2h0m0-5h0m4 0h0m1 4h0m3-2h0m0 4h0m4-1h0m2-3h0m1 3h0m3-2h0m4-1h0m3 4h0m1-4h0m2-2h0m1 3h0m3-3h0m-119 8h0m2 4h0m1 2h0m2-3h0m1-4h0m2 3h0m2 4h0m4-2h0m2-2h0m1 3h0m5-1h0m1-4h0m3 5h0m1-5h0m2 4h0m4 2h0m0-4h0m4 2h0m1-5h0m3 3h0m2-3h0m0 6h0m3 0h0m3-3h0m2 4h0m2-3h0m2-3h0m3 1h0m0 3h0m4 2h0m1-3h0m1-4h0m2 7h0m1-5h0m3-1h0m1 4h0m3 1h0m2-4h0m2 5h0m2-4h0m3 3h0m0-6h0m3 2h0m3 3h0m1-3h0m3 4h0m4 1h0m2-5h0m3 1h0m0 3h0m4-4h0m3 3h0m2-3h0m-112 6h0m4 3h0m0 4h0m3-2h0m3-3h0m1 4h0m4 0h0m1-5h0m2 2h0m2 4h0m2-2h0m4-3h0m2 5h0m1-6h0m1 4h0m4-1h0m4 0h0m3-4h0m2 4h0m3-2h0m3 2h0m6-1h0m3-3h0m0 4h0m5 1h0m1-3h0m4 1h0m1 3h0m4-6h0m0 7h0m2-4h0m3 2h0m4-2h0m1 4h0m3-2h0m1-4h0m3 5h0m1-4h0m3 2h0m3 3h0m1-4h0m3 3h0m1-3h0m5-3h0m-105 10h0m2 4h0m4-6h0m0 4h0m3 3h0m3-5h0m1 4h0m4-3h0m4 2h0m2-4h0m4 3h0m0 3h0m4-2h0m2 2h0m1-7h0m1 3h0m4 0h0m1-3h0m3 6h0m2-6h0m3 6h0m3-6h0m2 6h0m3 1h0m1-7h0m1 5h0m3-4h0m3 4h0m1-4h0m3 5h0m1-4h0m3 4h0m1-4h0m3-2h0m1 5h0m3-3h0m2 4h0m3-5h0m0 4h0m3 1h0m2-6h0m2 3h0m4-1h0m-91 8h0m3 2h0m3 2h0m1-4h0m3 1h0m1-3h0m3 7h0m0-7h0m3 3h0m3 4h0m1-3h0m4-2h0m1 4h0m2-3h0m3-2h0m0 4h0m4-4h0m0 4h0m5 1h0m1-6h0m2 3h0m3 2h0m1-4h0m2 2h0m1 3h0m4-1h0m1-5h0m5 0h0m0 4h0m1 3h0m3-4h0m1 4h0m4-4h0m3-3h0m1 3h0m8-3h0m-72 8h0m5 2h0m4-1h0m3 4h0m3 0h0m0-5h0m3 5h0m1-3h0m3 2h0m2-4h0m2 6h0m2-5h0m2 3h0m3 0h0m0-3h0m3 0h0m5 1h0m4-1h0m4 0h0" vector-effect="non-scaling-stroke"/><path id="u3" d="M1709 1863h0m6-2h0m3-3h0m2 3h0m4 1h0m0-5h0m3-1h0m3 4h0m1-4h0m2 4h0m-51 11h0m5-1h0m6 0h0m4 0h0m4-1h0m3-3h0m1 3h0m2-2h0m1 4h0m4-4h0m0 4h0m4 0h0m1-3h0m2-2h0m0 4h0m5-4h0m1 3h0m4-5h0m1 6h0m2-3h0m2-3h0m0 7h0m4-2h0m-118 9h0m4 0h0m1-3h0m4 1h0m5 1h0m2-3h0m5 4h0m1-4h0m3 4h0m4-5h0m1 4h0m4 1h0m2-4h0m1 4h0m3-2h0m1 3h0m0-7h0m3 5h0m0-5h0m3 2h0m3 3h0m1-4h0m2 3h0m2-2h0m1 4h0m2-5h0m2 4h0m3-1h0m3 3h0m0-5h0m4 1h0m2 4h0m3-6h0m0 4h0m5-5h0m1 5h0m4 1h0m0-5h0m3 4h0m1-3h0m3 3h0m2-3h0m1 3h0m2-3h0m3 4h0m2-5h0m1 3h0m2 2h0m1-4h0m3 1h0m0 3h0m4-2h0m3-2h0m-124 8h0m0 4h0m4 0h0m0-3h0m2-3h0m3 1h0m0 4h0m4-2h0m4-3h0m1 7h0m3 0h0m0-3h0m5 2h0m1-5h0m3 1h0m3 2h0m0 3h0m3-6h0m2 5h0m1-4h0m4-1h0m0 4h0m3-1h0m5-3h0m3 2h0m3-3h0m0 4h0m6-2h0m0 4h0m5-4h0m0 4h0m3-6h0m0 4h0m4 1h0m5 1h0m0-4h0m3 1h0m3-3h0m0 4h0m6-1h0m2 2h0m4-1h0m2-3h0m2 3h0m3 2h0m1-5h0m3 6h0m1-7h0m1 3h0m2 4h0m2-3h0m2-3h0m2 6h0m2-3h0m1-3h0m-121 10h0m1 3h0m0-5h0m4 1h0m1 4h0m3 1h0m1-3h0m1-3h0m2 4h0m4-3h0m1 3h0m6 1h0m3-4h0m3 4h0m0-5h0m3 4h0m4-4h0m3 0h0m0 6h0m2-3h0m4 2h0m0-6h0m4 7h0m0-5h0m2 2h0m2-4h0m2 5h0m2-5h0m1 4h0m5-2h0m1 5h0m2-3h0m3-3h0m1 5h0m2-4h0m3-1h0m2 4h0m2-4h0m2 3h0m3-3h0m3 6h0m0-7h0m3 5h0m0-3h0m3 4h0m2-6h0m1 3h0m0 4h0m2-7h0m1 3h0m2 3h0m1-5h0m2 5h0m2-4h0m1 4h0m3-2h0m4-3h0m-110 9h0m4 3h0m3-3h0m1 3h0m3-5h0m1 6h0m1-3h0m3-3h0m2 5h0m3-2h0m1-3h0m1 6h0m1-4h0m3-1h0m0 4h0m5 2h0m0-7h0m0 4h0m4-1h0m4 2h0m1-4h0m3 1h0m0 4h0m4 1h0m1-7h0m1 3h0m3 4h0m1-5h0m3 3h0m0-5h0m3 5h0m2-2h0m3-1h0m4 3h0m0-4h0m4 2h0m1 4h0m1-7h0m3 2h0m2-2h0m0 6h0m3-3h0m2 4h0m2-7h0m0 4h0m4-1h0m4 3h0m1-3h0m4-1h0m0 3h0m4-4h0m-97 9h0m1 3h0m4-2h0m0 4h0m3-5h0m4 1h0m0 3h0m3-5h0m4 3h0m0 3h0m2-7h0m1 4h0m4 1h0m2-4h0m2 6h0m3-5h0m2 4h0m3-3h0m1 4h0m3-4h0m5 3h0m1-5h0m5 2h0m0 4h0m3-2h0m0-5h0m3 3h0m1-3h0m1 4h0m2 3h0m2-5h0m1 4h0m3-1h0m1-5h0m3 3h0m1 3h0m2-5h0m1 6h0m2-4h0m2 4h0m1-4h0m1-3h0m2 4h0m6-4h0m-88 11h0m2 2h0m3 2h0m0-7h0m3 2h0m1 3h0m3-2h0m1-3h0m2 2h0m1 4h0m5-3h0m1-3h0m0 7h0m3-6h0m1 5h0m3-5h0m5 5h0m0-5h0m5 3h0m1-4h0m1 3h0m2 3h0m2-4h0m3 3h0m3 0h0m3 0h0m0-5h0m4 3h0m1 3h0m3-1h0m2-2h0m1 4h0m3-5h0m2 3h0m3-3h0m-65 6h0m5 0h0m0 4h0m3 0h0m3-4h0m1 4h0m4-2h0m3 1h0m2-3h0m2 2h0m3 2h0m4-3h0m1 3h0m3-3h0m1 5h0m2-3h0m1-3h0m0 7h0m4-4h0m2-3h0m1 3h0m3 2h0m1-3h0m3 1h0m2-2h0" vector-effect="non-scaling-stroke"/><path id="u4" d="M1846 1734h0m4 1h0m3-1h0m5-1h0m4 2h0m2-3h0m2 3h0m3 0h0m2-3h0m4 2h0m-42 6h0m0 3h0m4-5h0m0 4h0m3-1h0m1-4h0m3 0h0m0 4h0m5-1h0m3 2h0m3-4h0m3 5h0m1-5h0m5 1h0m2 3h0m1-4h0m2 5h0m3-4h0m5-3h0m1 7h0m0-4h0m2-2h0m2 6h0m2-4h0m0-3h0m2 7h0m1-6h0m1 3h0m4-2h0m3 2h0m-68 10h0m2-4h0m1 5h0m4-3h0m1 3h0m4-2h0m2-3h0m4 1h0m1-3h0m1 7h0m1-4h0m3 2h0m3-4h0m3 4h0m3-1h0m1-4h0m3 5h0m2-4h0m2 3h0m5-3h0m0 4h0m2 2h0m2-3h0m3 2h0m0-4h0m3 2h0m4 0h0m4-4h0m1 5h0m3-5h0m0 3h0m4 3h0m3-4h0m6 5h0m-85 6h0m4-1h0m4 2h0m2-4h0m3 2h0m5 2h0m0-6h0m4 1h0m1 6h0m2-3h0m2 3h0m0-5h0m2 2h0m2-3h0m3 4h0m2-3h0m2-2h0m1 3h0m1 3h0m3 0h0m1-5h0m4 0h0m0 4h0m3-3h0m0 3h0m4-1h0m2-3h0m2 3h0m1-3h0m1 5h0m2-3h0m2 4h0m3-7h0m1 4h0m4-1h0m4 1h0m4-3h0m0 4h0m3-1h0m3 2h0m0-5h0m-89 9h0m2 3h0m1-5h0m4 0h0m1 5h0m4-2h0m2 4h0m1-7h0m1 3h0m1 4h0m2-4h0m4-1h0m2 4h0m1-3h0m3 4h0m1-4h0m3 2h0m0-5h0m5 2h0m0 5h0m4 0h0m3-3h0m0 3h0m4-6h0m1 3h0m1 3h0m1-6h0m2 4h0m3-2h0m3-3h0m1 5h0m4 1h0m2-3h0m4-3h0m0 4h0m1 2h0m3-3h0m0-3h0m1 7h0m3-2h0m2-5h0m1 3h0m2 3h0m3-1h0m0-5h0m3 2h0m1 3h0m-92 5h0m1 5h0m1-3h0m4-3h0m0 3h0m4 0h0m0-4h0m4 3h0m1 4h0m5-2h0m1-5h0m2 7h0m2-5h0m1 5h0m4-5h0m5 4h0m2-4h0m4 3h0m4-3h0m3 3h0m1-3h0m4 4h0m1-3h0m3-2h0m1 4h0m2-3h0m4 2h0m2-3h0m2 6h0m2-3h0m1-3h0m4 6h0m1-5h0m5 2h0m2 2h0m2-2h0m3-3h0m-88 9h0m1 5h0m3-3h0m1-4h0m1 7h0m1-2h0m2-4h0m3 2h0m1 4h0m4-2h0m3 0h0m0-5h0m3 3h0m6 3h0m1-6h0m3 6h0m1-4h0m6 2h0m0 3h0m4 0h0m0-7h0m1 4h0m2 3h0m2-7h0m0 4h0m4 0h0m3-3h0m0 4h0m3-2h0m1 4h0m1-7h0m2 7h0m1-6h0m1 4h0m3 2h0m0-4h0m4-3h0m1 5h0m3-1h0m3 1h0m2-4h0m-79 9h0m3 3h0m4-5h0m2 3h0m4 4h0m2-7h0m0 4h0m2 3h0m2-6h0m3 1h0m0 4h0m4-4h0m0 4h0m3-5h0m1 3h0m3-1h0m2-3h0m1 4h0m3 3h0m3-5h0m1 5h0m5-3h0m3-4h0m1 5h0m3-4h0m1 3h0m3 1h0m3 1h0m2-4h0m3 2h0m2-2h0m3-2h0m-67 9h0m3-1h0m0 4h0m3 1h0m5-1h0m4-2h0m1 5h0m4-3h0m3-3h0m5-1h0m2 5h0m1-4h0m4 4h0m1-2h0m4 2h0m2 2h0m1-6h0m3 1h0m0 3h0m3-4h0m0 3h0m3-1h0m-42 5h0m2 3h0m4-1h0m2 4h0m1-5h0m2 6h0m1-3h0m1-4h0m3 1h0m0 4h0m5-5h0m1 3h0m4-2h0m3 0h0m3 2h0" vector-effect="non-scaling-stroke"/><path id="u5" d="M1729 1734h0m6-3h0m2 3h0m4-3h0m3-2h0m1 4h0m3 2h0m3-5h0m1 4h0m3 1h0m0-7h0m2 4h0m3-2h0m1 4h0m3-4h0m3 1h0m4 4h0m-85 8h0m3-2h0m4 1h0m7-4h0m3 3h0m3-1h0m2 3h0m4-4h0m4 2h0m4-4h0m1 4h0m2-5h0m2 3h0m2 3h0m3-1h0m3-5h0m3 1h0m1 4h0m3-5h0m1 4h0m4-3h0m1 5h0m4-3h0m0 3h0m5 0h0m1-3h0m2 4h0m2-6h0m3 3h0m3-3h0m1 4h0m5-2h0m2 4h0m-94 6h0m4-3h0m2 3h0m5-3h0m3 1h0m1 3h0m3-2h0m2-4h0m3 1h0m3 3h0m1 3h0m5-7h0m0 5h0m2-3h0m4 3h0m1-5h0m3 3h0m3 3h0m2-3h0m4 1h0m0-4h0m4 4h0m0-4h0m4 1h0m0 5h0m5 0h0m2-2h0m1 3h0m1-6h0m4 6h0m1-4h0m5 3h0m5-3h0m0-3h0m3 5h0m2-5h0m3 1h0m1 3h0m-94 7h0m3 2h0m3-1h0m4-1h0m2-3h0m3 4h0m5 1h0m1-4h0m3-1h0m2 6h0m3 1h0m2-4h0m3 2h0m2-5h0m2 5h0m1-4h0m4 3h0m2-4h0m3 7h0m1-7h0m2 5h0m2-3h0m2 4h0m2-4h0m4 4h0m3-2h0m3 1h0m6-1h0m6-1h0m4 1h0m3-4h0m1 5h0m4-3h0m-87 7h0m0 4h0m6-4h0m0 6h0m3-3h0m1-3h0m1 6h0m3-5h0m4 1h0m2-3h0m1 7h0m2-5h0m3 3h0m1-4h0m5 2h0m2-2h0m3 4h0m3-4h0m2 4h0m4 0h0m0-3h0m4 1h0m5-2h0m2 3h0m3-1h0m2 4h0m4-1h0m0-5h0m3-1h0m1 5h0m3-5h0m0 4h0m5 0h0m2-2h0m-78 7h0m6 2h0m4 3h0m2-3h0m2 3h0m1-6h0m4 7h0m3-4h0m2 3h0m1-6h0m2 3h0m2-3h0m3 2h0m1 4h0m3-4h0m3 0h0m3 4h0m1-6h0m3 7h0m1-6h0m2 4h0m2-5h0m1 5h0m4-1h0m3 3h0m4-4h0m4-2h0m3-1h0m-58 10h0m4 0h0m1 4h0m5 1h0m0-5h0m5-1h0m0 4h0m3-5h0m2 5h0m4-2h0m0-3h0m4 1h0m3 4h0m3-2h0m3 2h0m1-4h0m2 3h0m4-2h0m-36 10h0m7-1h0m2-3h0m2 3h0m3-1h0m3 3h0m3-5h0m4 2h0m3-2h0m-5 8h0" vector-effect="non-scaling-stroke"/><path id="u6" d="M1581 1772h0m1 3h0m4-2h0m2 2h0m2-4h0m4 2h0m-79 6h0m3 3h0m1-4h0m2 4h0m2-3h0m1 3h0m36-1h0m4 0h0m3 2h0m4-2h0m0-5h0m4 1h0m1 4h0m5-2h0m0 3h0m4-4h0m1 5h0m7-2h0m0-5h0m5 4h0m3 3h0m-85 3h0m5 5h0m1-5h0m4 2h0m0-3h0m11 6h0m5 0h0m2-2h0m5-2h0m3 3h0m4-6h0m0 7h0m1-4h0m2-2h0m0 6h0m3 0h0m1-5h0m2 5h0m2-4h0m3 2h0m2-5h0m3 4h0m2-4h0m1 7h0m2-5h0m6 0h0m0 4h0m3-1h0m2-3h0m4 4h0m0-6h0m2 3h0m5 3h0m2-3h0m4 1h0m3 1h0m-100 10h0m5-3h0m1-4h0m5 4h0m3 3h0m2-4h0m0-3h0m4 7h0m1-7h0m5 4h0m2 3h0m3-5h0m3-2h0m3 6h0m3-4h0m6 4h0m2-4h0m3 2h0m2 3h0m1-3h0m3 2h0m1-4h0m3-1h0m3 5h0m0-6h0m5 7h0m0-5h0m3 4h0m2-4h0m4 2h0m2-3h0m1 5h0m2-4h0m1 4h0m4-5h0m2 4h0m3-3h0m3 0h0m2 5h0m3-4h0m3 0h0m1 3h0m-105 5h0m2 3h0m2-6h0m1 3h0m3-3h0m1 5h0m3-4h0m0 5h0m4-4h0m0 4h0m4 0h0m2-3h0m2 2h0m1-4h0m2 3h0m5-4h0m0 5h0m2-3h0m4 2h0m2-3h0m4 0h0m1 4h0m3 0h0m3-2h0m1 4h0m3-4h0m3 4h0m2-5h0m1 5h0m2-3h0m3-3h0m3 4h0m3-2h0m1 4h0m2-4h0m2-3h0m0 6h0m4-1h0m5-2h0m1 3h0m3-6h0m3 4h0m1-4h0m1 6h0m3-3h0m4-2h0m-97 7h0m6 1h0m4 3h0m2-3h0m3 5h0m3-2h0m0-3h0m1 6h0m4-6h0m0 4h0m4-2h0m2 2h0m4-4h0m0 4h0m3-2h0m4-3h0m26 3h0m3 3h0m2-5h0m4 3h0m2-4h0m2 6h0m4-4h0m2 2h0m1-4h0m-61 10h0m44-1h0m4 0h0m1 3h0m3-4h0m3 3h0m5-3h0m7 8h0m7 5h0m2-4h0m4 5h0m2-3h0m3-1h0m-11 7h0m9-1h0" vector-effect="non-scaling-stroke"/><path id="u7" d="M1607 1847h0m6 0h0m4-1h0m4-1h0m8 1h0m7 1h0m7-2h0m4-1h0m1 3h0m5-4h0m2 4h0m2-5h0m2 3h0m4 2h0m3-5h0m4 1h0m3 2h0m4 0h0m4 2h0m0-3h0m4 1h0m3 0h0m8 2h0m-103 8h0m5-3h0m3 3h0m1-6h0m4 4h0m4-1h0m4 0h0m4-3h0m4 0h0m2 4h0m1-5h0m3 7h0m0-4h0m3-1h0m5 2h0m3 0h0m2-4h0m1 5h0m3-4h0m0 4h0m3 1h0m3-3h0m0-3h0m2 6h0m1-3h0m5-1h0m1 4h0m3-3h0m3-1h0m1 4h0m2-5h0m1 4h0m2-4h0m2 4h0m1-3h0m2 5h0m2-2h0m5-2h0m3-3h0m2 4h0m1 3h0m1-6h0m2 3h0m5-1h0m0 4h0m1-7h0m4 2h0m0 4h0m3-2h0m2 3h0m-117 3h0m2 3h0m4-1h0m0-3h0m3 4h0m4-4h0m0 4h0m4-5h0m1 5h0m2-3h0m1-2h0m0 6h0m2-3h0m2-3h0m2 4h0m3-3h0m2 5h0m2-5h0m4 2h0m3 3h0m1-4h0m3-2h0m2 4h0m3-1h0m5-1h0m2 3h0m2-2h0m1 4h0m3-4h0m2 4h0m0-7h0m2 4h0m5-1h0m1 4h0m3-4h0m5 4h0m0-4h0m1-3h0m3 2h0m3 4h0m2-6h0m2 3h0m2-3h0m5 6h0m2-2h0m1-4h0m3 5h0m4 1h0m1-5h0m4 0h0m0 4h0m-109 3h0m4 2h0m6-1h0m3 3h0m0-4h0m3 4h0m3-3h0m1 5h0m1-3h0m1-2h0m1 6h0m4-5h0m1 4h0m3 1h0m0-7h0m3 3h0m1 3h0m3-2h0m2 3h0m1-5h0m4-2h0m0 5h0m4-1h0m1-4h0m3 7h0m1-5h0m3 5h0m2-3h0m4 2h0m1-5h0m4 3h0m4-3h0m2 5h0m1-4h0m3 0h0m1 3h0m3-4h0m2 4h0m2-3h0m3-2h0m1 4h0m4-2h0m3 2h0m3-4h0m0 3h0" vector-effect="non-scaling-stroke"/><path id="u8" d="M1634 1935h0m3-1h0m4 0h0m3 1h0m2-3h0m2 1h0m3 1h0m4-3h0m2 4h0m5-3h0m-42 11h0m3 0h0m2-2h0m4-3h0m0 5h0m2-3h0m3 3h0m1-4h0m2 4h0m3-6h0m1 6h0m1-4h0m3 4h0m2-2h0m3-3h0m2 3h0m1-4h0m3 2h0m2 4h0m1-3h0m2-3h0m1 5h0m1-3h0m1-3h0m-64 15h0m3-3h0m3 3h0m1-4h0m4-2h0m1 6h0m1-3h0m2-4h0m2 7h0m1-3h0m4-2h0m3 2h0m4 1h0m1 2h0m1-6h0m3 5h0m2-3h0m3 4h0m2-5h0m2 4h0m1-3h0m3-1h0m1 3h0m2-4h0m1 3h0m0 3h0m3-2h0m1-3h0m3 2h0m-74 10h0m4 1h0m1-4h0m2 2h0m3-5h0m1 5h0m2-3h0m2 3h0m3 0h0m0-4h0m3 2h0m0 4h0m5-5h0m1 5h0m3-5h0m1 5h0m3-5h0m1 3h0m4-5h0m1 4h0m2-4h0m1 6h0m2-2h0m3 1h0m0-3h0m3 2h0m3 1h0m2 2h0m0-5h0m3 4h0m1-4h0m3 0h0m3 0h0m-77 10h0m3 0h0m1 3h0m3-5h0m1 4h0m3-2h0m1-3h0m3 6h0m1-5h0m4 5h0m1-4h0m2-2h0m1 3h0m5-1h0m0 4h0m0-7h0m5 4h0m1-4h0m3 2h0m0 3h0m3-2h0m2 4h0m1-5h0m4 3h0m2-4h0m2 6h0m1-3h0m4 2h0m0-5h0m4 3h0m1-3h0m3 0h0m-74 10h0m3 0h0m3 2h0m1-5h0m1 6h0m0-3h0m2-3h0m4 5h0m1-3h0m2 2h0m3-3h0m2 5h0m1-3h0m4 3h0m0-5h0m3 2h0m1-3h0m0 6h0m3-6h0m0 3h0m3 4h0m0-3h0m4 1h0m2-5h0m2 5h0m4-3h0m3 1h0m2 3h0m1-5h0m2 3h0m1-3h0m6-1h0m-53 8h0m7 0h0m5 1h0m4 0h0m3 2h0m4-2h0m7 0h0m4-1h0m3 0h0" vector-effect="non-scaling-stroke"/><path id="u9" d="M1661 1932h0m4 2h0m5-1h0m2 1h0m-6 3h0m3 4h0m2-3h0m0 5h0m4-1h0m0-3h0m1-3h0m2 4h0m3-4h0m0 4h0m3 0h0m2-2h0m3 2h0m3 2h0m3-3h0m3 2h0m4 1h0m-28 4h0m4 3h0m0-3h0m4-2h0m2 5h0m3 1h0m1-6h0m1 4h0m3 2h0m0-6h0m3 7h0m0-7h0m1 4h0m3-1h0m0-3h0m2 7h0m2-6h0m2 3h0m2 3h0m0-6h0m2 4h0m3-2h0m2 2h0m7 2h0m-41 1h0m4 0h0m4 1h0m0 3h0m3 3h0m1-4h0m4 3h0m2-2h0m2 2h0m1-3h0m3-3h0m1 3h0m3 1h0m3 3h0m0-7h0m2 4h0m2-4h0m1 7h0m2-6h0m1 5h0m1-3h0m2-1h0m2 3h0m2 1h0m4-1h0m5 1h0m-42 3h0m4 1h0m2-1h0m3 3h0m2-4h0m1 7h0m0-4h0m2 2h0m2-2h0m3-1h0m0 4h0m2-3h0m3 4h0m0-3h0m1-3h0m4 2h0m1-3h0m1 6h0m2-5h0m2 2h0m1-3h0m4 2h0m1 4h0m2-3h0m1 3h0m3-6h0m1 3h0m2-1h0m0 3h0m3 0h0m0-3h0m3 4h0m0-3h0m3 2h0m3-1h0m6 3h0m-53 1h0m3 1h0m2 3h0m1-3h0m3 2h0m3 0h0m3 2h0m0-3h0m3 0h0m3-2h0m1 2h0m2 4h0m3-5h0m0 3h0m3 0h0m1-4h0m3 4h0m2-4h0m1 5h0m3-4h0m0 4h0m2 2h0m1-6h0m1 4h0m1 2h0m1-7h0m1 3h0m1 4h0m1-7h0m2 5h0m1-2h0m2 3h0m-35 2h0m9 1h0m3 0h0m3-1h0m5 1h0m11 0h0" vector-effect="non-scaling-stroke"/><path id="u10a" d="M1833 1814h0m8-2h0m3-2h0m5 1h0m5 2h0m5 2h0m-24 6h0m3-4h0m4 3h0m0-4h0m4 7h0m0-4h0m4-3h0m2 3h0m6 0h0m3 4h0m1-6h0m3 2h0m5 3h0m4-1h0m18 0h0m9-1h0m5 2h0m4-1h0m8 2h0m-85 5h0m4 2h0m3-2h0m0-4h0m7 7h0m3-4h0m3 2h0m0-5h0m8 6h0m5-1h0m3-2h0m7-2h0m0 5h0m4-2h0m6-3h0m3 3h0m1-3h0m5 0h0m4 2h0m5 2h0m8-4h0m2 4h0m4-1h0m2 3h0m-87 1h0m5 4h0m4 1h0m5-1h0m5-2h0m5-1h0m27-1h0m4 0h0m10 0h0m4 1h0m4 0h0m6 0h0m4-1h0" vector-effect="non-scaling-stroke"/><path id="u10b" d="M1524 1697h0m0 5h0m3-2h0m2 2h0m-4 4h0m4 4h0m2-3h0m2 2h0m1-5h0m4 3h0m3 3h0m0-4h0m3 5h0m5-1h0m3 1h0m10 0h0m-30 1h0m6 0h0m1 4h0m3-1h0m6-2h0m1 5h0m2-3h0m2 4h0m1-5h0m4-2h0m0 6h0m1-3h0m3 3h0m1-4h0m4 5h0m0-7h0m0 3h0m3 2h0m5 1h0m-11 4h0m4 4h0m2-3h0m3-1h0m2 3h0m6 1h0m3 1h0m-12 2h0m4-1h0m3 2h0m4 2h0m1 3h0m3-4h0m2 3h0m0 3h0m2 3h0" vector-effect="non-scaling-stroke"/><path id="u11" d="M1643 1811h0m3 3h0m2-4h0m6-1h0m1 4h0m6-3h0m3 2h0m1 3h0m4-2h0m3 0h0m6 1h0m3-3h0m2 3h0m4-5h0m1 6h0m2-4h0m4 3h0m1-5h0m4-1h0m1 6h0m2-3h0m4 4h0m-56 1h0m5 2h0m6 0h0m6 4h0m4-4h0m3 3h0m1-5h0m3 3h0m1 4h0m4-4h0m4 2h0m3-2h0m4 0h0m3 2h0m0-3h0m5 4h0m0-6h0m5 4h0m-36 5h0m5 0h0m7 1h0m2 2h0m5 0h0m3-3h0m3 3h0m4 1h0m1-3h0m4 1h0m-11 5h0m13 7h0m1-4h0m3 3h0m1-4h0m4 4h0m6 1h0m5-2h0m4 0h0m8 1h0m-29 7h0m6-1h0m3-2h0m1 5h0m4-5h0m2 3h0m3-5h0m2 5h0m6-1h0m2 3h0m3-5h0m-31 6h0m5 0h0m3 3h0m6-2h0m5-1h0m4 1h0" vector-effect="non-scaling-stroke"/><path id="u12" d="M1581 1902h0m4-3h0m0 4h0m4-3h0m5 1h0m4 2h0m1-5h0m4 5h0m3-4h0m3 2h0m3-2h0m3 2h0m3-2h0m5 4h0m-43 3h0m2 3h0m4 0h0m3-2h0m2 4h0m1-6h0m5 3h0m4-1h0m4 0h0m5 2h0m0-4h0m4 6h0m2-5h0m4 3h0m0-5h0m5 3h0m2-3h0m-45 14h0m1-4h0m3 5h0m0-5h0m6 4h0m3-4h0m3 2h0m4-4h0m2 5h0m2-5h0m4 7h0m1-5h0m4 1h0m0 3h0m5-1h0m0-4h0m3 2h0m3-3h0m-37 8h0m3 2h0m5 2h0m1-4h0m5 1h0m1 4h0m4-2h0m4-1h0m-11 6h0m4 2h0" vector-effect="non-scaling-stroke"/><path id="u13" d="M1426 1663h0m5 0h0m9 0h0m-19 1h0m4 4h0m5 3h0m4-3h0m1-4h0m3 7h0m5-4h0m3 4h0m2-4h0m2 4h0m5-2h0m3 2h0m3-4h0m-19 7h0m9 1h0m3-1h0m6 5h0m3-3h0m2-4h0m5 5h0m6 1h0m-9 4h0m1 5h0m6-3h0m4-3h0m5 6h0m1-5h0m6 1h0m1 4h0m8-3h0m7 3h0m3-2h0m4 1h0m-40 4h0m8 3h0m4-2h0m3 2h0m4 1h0m2-4h0m4 0h0m2 4h0m6-1h0m5-3h0m0 5h0m4-5h0m3-2h0m2 3h0m4-3h0m-46 9h0m6-1h0m1 5h0m3-4h0m1 6h0m3-3h0m5-2h0" vector-effect="non-scaling-stroke"/><path id="u14" d="M1817 1719h0m4-2h0m2 2h0m2-2h0m2 1h0m3 0h0m-16 7h0m2-4h0m1 2h0m0 2h0m1 2h0m2-1h0m0-4h0m2 3h0m1 2h0m1-4h0m1 3h0m1-5h0m2 4h0m3-2h0m1-3h0m0 5h0m1-2h0m-18 9h0m0 3h0m1-7h0m1 3h0m1 3h0m1-1h0m1-4h0m2 4h0m2 0h0m2-5h0m1 5h0m2-5h0m0 3h0m0 3h0m2-3h0m2-3h0m0 5h0m2-4h0m0 2h0m-17 8h0m2 0h0m3-3h0m0 2h0m0 3h0m2-2h0m2-2h0m1 3h0m3-4h0" vector-effect="non-scaling-stroke"/><path id="u15" d="M1713 1823h0m5 0h0m5-1h0m-13 5h0m1-3h0m0 5h0m2-1h0m1 2h0m0-4h0m2 3h0m2-4h0m0 3h0m0 3h0m3-4h0m0 4h0m1-7h0m2 5h0m0-4h0m-13 11h0m0 2h0m1-6h0m1 1h0m1 3h0m1-4h0m1 6h0m1-4h0m0 2h0m2 0h0m2 2h0m0-4h0m3 3h0m1-4h0m1 2h0m0 4h0m-11 2h0m0 2h0m2 3h0m0-4h0m2-1h0m1 4h0m2-4h0m0 6h0m1-4h0m1 3h0m1-5h0m1 2h0m2-2h0m-10 8h0" vector-effect="non-scaling-stroke"/><path id="u16" d="M1638 1782h0m2 1h0m4-1h0m2-2h0m2 3h0m3-1h0m-15 3h0m2 2h0m1 3h0m1-4h0m2 3h0m2-4h0m1 4h0m2-3h0m2 3h0m3 1h0m0-3h0m2 2h0m1-4h0m4 1h0m0 5h0m3-1h0m3 1h0m5 0h0m3-1h0m3 1h0m-26 1h0m5 1h0m2 1h0m6 0h0m2 2h0m2-4h0m2 3h0m3 2h0m2 2h0m1-5h0m2 4h0m1-3h0m4 0h0m1 3h0m3-3h0m2 2h0m3 2h0m-11 1h0m4 2h0m3-1h0m3 0h0" vector-effect="non-scaling-stroke"/><path id="u17" d="M1490 2103h0m4-1h0m1 1h0m3 0h0m-7 2h0m0 2h0m2 2h0m1-4h0m0 2h0m2 2h0m0-3h0m2 2h0m0-2h0m2 5h0m0-7h0m0 3h0m2-2h0m1 4h0m1-3h0m1-2h0m0 4h0m1 2h0m2-3h0m0 2h0m2 2h0m0-3h0m3 3h0m2 0h0m-19 1h0m2 0h0m2 1h0m3 1h0m1-1h0m2 3h0m1-2h0m0-2h0m3 3h0m0 2h0m1-3h0m2 2h0m0-3h0m2 2h0m1 2h0m2-4h0m0 5h0m1-2h0" vector-effect="non-scaling-stroke"/><path id="u18" d="M1434 1535h0m1-2h0m2 0h0m3 1h0m2 0h0m-11 5h0m1-2h0m0 5h0m2-2h0m1 2h0m2-5h0m1 3h0m1 3h0m1-5h0m1 2h0m2 2h0m1-4h0m2 1h0m0 4h0m2 0h0m-18 1h0m1 2h0m1 2h0m2-1h0m1 2h0m0-5h0m1 3h0m2-1h0m1 3h0m2-1h0m0-3h0m1 6h0m2-6h0m1 2h0m0 3h0m2 0h0m1-5h0m-12 7h0m3 1h0m3 0h0m2-1h0" vector-effect="non-scaling-stroke"/><path id="u19" d="M1790 1943h0m2-3h0m2 3h0m3-4h0m1 4h0m2-6h0m1 6h0m3-2h0m0-3h0m-21 7h0m2 5h0m2-2h0m0-3h0m4 2h0m5 2h0m1-3h0m3 5h0m0-4h0m4 3h0m1-5h0m3 3h0m2-2h0m-23 6h0m4 0h0m3 1h0m2 3h0m1-4h0m5 2h0m4-2h0" vector-effect="non-scaling-stroke"/><path id="u20" d="M1448 1582h0m2-1h0m5-1h0m2 2h0m1-5h0m1 4h0m1-4h0m0 6h0m1-3h0m-15 8h0m1-3h0m1 3h0m1-2h0m1 1h0m2-2h0m3 0h0m-23 8h0m1 4h0m1-3h0m1 4h0m2-1h0m0-4h0" vector-effect="non-scaling-stroke"/><path id="u21" d="M1594 1885h0m2-2h0m4 4h0m0-5h0m1 3h0m3 1h0m0-3h0m2-2h0m3 4h0m-15 4h0m2-1h0m0 3h0m2 2h0m4 1h0m1-3h0m3 3h0m1-3h0m1-3h0m2 4h0m1-4h0" vector-effect="non-scaling-stroke"/><path id="u22" d="M1108 1590h0m3-2h0m2 3h0m0-3h0m1 1h0m2 0h0m2 2h0m-10 2h0m2 0h0m0 2h0m1 1h0m1-4h0m1 2h0m2-2h0m0 3h0m1-2h0m2 0h0m2-1h0" vector-effect="non-scaling-stroke"/><path id="u23" d="M1199 1702h0m2-3h0m1 3h0m1-4h0m1 4h0m1-2h0m0 3h0m0-5h0m2 0h0m0 2h0m1 1h0m-10 3h0m2 0h0m0 2h0m3-1h0m1 2h0m2-3h0m3 0h0" vector-effect="non-scaling-stroke"/><path id="u24" d="M1689 1971h0m-7 12h0m4 0h0m-15 4h0m2-3h0m3 7h0m1-5h0m3 1h0m1 3h0m3-4h0m4 4h0m2-5h0m0 3h0m1 3h0m-12 2h0m3 0h0m4 1h0" vector-effect="non-scaling-stroke"/><path id="u25" d="M1236 1590h0m2-2h0m1-2h0m1 4h0m2-5h0m0 3h0m0 2h0m2-4h0m1 2h0m2 2h0m1-3h0m-10 5h0m3 1h0m4 0h0m2-1h0" vector-effect="non-scaling-stroke"/></g><linearGradient id="rk" x1="0" y1="1" x2="0" y2="0"><stop offset="0.0" stop-color="#faebdd"/><stop offset="0.143" stop-color="#f6b48f"/><stop offset="0.286" stop-color="#f37651"/><stop offset="0.429" stop-color="#e13342"/><stop offset="0.571" stop-color="#ad1759"/><stop offset="0.714" stop-color="#701f57"/><stop offset="0.857" stop-color="#35193e"/><stop offset="1.0" stop-color="#03051a"/></linearGradient><linearGradient id="mg" x1="0" y1="0" x2="1" y2="0"><stop offset="0.0" stop-color="#fcf0b2"/><stop offset="0.125" stop-color="#fec488"/><stop offset="0.25" stop-color="#fb8861"/><stop offset="0.375" stop-color="#e85362"/><stop offset="0.5" stop-color="#b5367a"/><stop offset="0.625" stop-color="#822681"/><stop offset="0.75" stop-color="#51127c"/><stop offset="0.875" stop-color="#1d1147"/><stop offset="1.0" stop-color="#000004"/></linearGradient></defs><rect width="2298" height="2437" fill="#fff"/><g id="panel_A_top"><g clip-path="url(#cp1)"><g clip-path="url(#sA1)"><g filter="url(#fA1)"><rect x="81.3" y="-4.5" width="285.1" height="284.5" fill="#000"/><ellipse cx="230.4" cy="119" rx="70" ry="62" fill="#fff" opacity="0.11"/><ellipse cx="192" cy="144" rx="55" ry="60" fill="#fff" opacity="0.07"/><path d="M124.8 237.7 L192 237.7" fill="none" stroke="#fff" stroke-width="5" stroke-linecap="round" stroke-linejoin="round" opacity="0.35"/><path d="M172.8 201.6 L211.2 217" fill="none" stroke="#fff" stroke-width="14" stroke-linecap="round" stroke-linejoin="round" opacity="0.14"/><ellipse cx="169" cy="184.3" rx="36" ry="40" fill="#fff" opacity="0.22" transform="rotate(-30 169 184.3)"/><ellipse cx="163.2" cy="195.9" rx="30" ry="26" fill="#fff" opacity="0.25" transform="rotate(-20 163.2 195.9)"/><ellipse cx="157.5" cy="201.6" rx="17" ry="17" fill="#fff" opacity="0.4"/><ellipse cx="152.6" cy="202.6" rx="7" ry="8" fill="#fff" opacity="0.9"/><ellipse cx="130.6" cy="220.8" rx="7" ry="24" fill="#fff" opacity="0.5"/><ellipse cx="127.5" cy="223.7" rx="2.2" ry="17" fill="#fff"/><ellipse cx="127.5" cy="223.7" rx="3" ry="15" fill="#fff"/><ellipse cx="145.9" cy="233.3" rx="25" ry="5" fill="#fff" opacity="0.3" transform="rotate(-25 145.9 233.3)"/></g></g></g><path d="M197 238h0m1-2h0m1-1h0m3-3h0m0 1h0m2-1h0m0 1h0m0 1h0m1-3h0m0 2h0m1-4h0m0 1h0m0 2h0m0 2h0m1-6h0m0 5h0m2-6h0m0 1h0m0 3h0m1-3h0m1-1h0m1-3h0m0 1h0m0 1h0m0 2h0m2-5h0m4-2h0m0 1h0m0 5h0m1-7h0m0 1h0m0 1h0m0 2h0m0 3h0m1-7h0m1-1h0m0 1h0m0 2h0m0 1h0m0 11h0m2-16h0m0 1h0m0 2h0m1 1h0m0 4h0m1-8h0m1 5h0m2-9h0m0 1h0m0 2h0m0 1h0m1-5h0m0 9h0m1-9h0m0 1h0m2-2h0m0 1h0m0 1h0m0 3h0m0 14h0m1-13h0m1-8h0m0 6h0m1-6h0m1 3h0m1-1h0m1-4h0m0 1h0m1 3h0m0 2h0m0 6h0m1-8h0m0 20h0m1-24h0m0 1h0m0 4h0m1 0h0m1-7h0m0 3h0m2-3h0m1-1h0m1-3h0m0 1h0m0 2h0m1-2h0m0 4h0m1 17h0m3-23h0m0 2h0m1-6h0m0 5h0m2-2h0m2-6h0m1-1h0m0 1h0m0 6h0m1-7h0m0 2h0m0 3h0m0 1h0m1-4h0m1-4h0m0 4h0m0 21h0m1-27h0m0 1h0m0 12h0m2-9h0m2-6h0m0 3h0m1-3h0m0 2h0m0 1h0m1-5h0m1 0h0m0 1h0m0 2h0m0 1h0m1-5h0m0 1h0m1 0h0m1 2h0m1-5h0m0 1h0m0 8h0m1-11h0m0 2h0m0 3h0m2-6h0m0 5h0m0 3h0m1-11h0m0 1h0m0 3h0m1-5h0m0 8h0m1-8h0m0 1h0m0 1h0m0 5h0m1-7h0m1-1h0m1-1h0m0 1h0m0 2h0m0 1h0m1-3h0m0 9h0m0 22h0m1-35h0m0 2h0m0 1h0m0 2h0m0 2h0m0 2h0m1-6h0m0 4h0m1-9h0m0 2h0m0 1h0m0 14h0m2-19h0m1-2h0m0 1h0m0 9h0m1-8h0m1-2h0m0 1h0m1-5h0m0 1h0m0 2h0m0 3h0m0 4h0m1-5h0m0 5h0m1-10h0m0 6h0m1-9h0m0 1h0m0 2h0m1 0h0m0 3h0m0 5h0m1-11h0m0 6h0m0 3h0m1-11h0m0 4h0m0 1h0m0 2h0m1-10h0m0 1h0m0 1h0m1-3h0m0 11h0m1-13h0m0 1h0m1-2h0m2 0h0m0 8h0m1-11h0m0 9h0m1-8h0m0 6h0m0 5h0m1-13h0m0 1h0m0 6h0m1-9h0m0 4h0m0 7h0m1-14h0m0 4h0m0 1h0m0 3h0m1-5h0m1-5h0m0 2h0m0 8h0m1-8h0m1-4h0m0 1h0m0 5h0m2-7h0m0 1h0m0 2h0m0 2h0m0 12h0m1-19h0m0 2h0m0 5h0m0 1h0m1-3h0m1-3h0m1-4h0m0 2h0m2-2h0m0 4h0m1-6h0m1 1h0m0 1h0m0 1h0m0 2h0m1-6h0m0 1h0m0 2h0m0 5h0" fill="none" stroke="#1218e0" stroke-width="2" stroke-linecap="square"/><path d="M123 128h0m1-79h0m0 1h0m0 2h0m0 5h0m0 7h0m0 1h0m0 4h0m0 1h0m0 10h0m0 7h0m0 1h0m0 1h0m0 17h0m0 8h0m0 4h0m0 1h0m0 2h0m0 3h0m0 29h0m0 7h0m1-118h0m0 8h0m0 1h0m0 4h0m0 5h0m0 2h0m0 18h0m0 2h0m0 4h0m0 15h0m0 1h0m0 3h0m0 16h0m0 8h0m0 6h0m0 2h0m0 13h0m0 2h0m0 5h0m0 2h0m1-91h0m0 12h0m0 3h0m0 6h0m0 13h0m0 4h0m0 21h0m0 5h0m0 7h0m1-59h0m0 28h0m0 12h0m0 34h0m1-45h0m2 27h0m61 102h0m3-1h0m2-6h0m1 5h0m3-4h0m0 1h0m2-2h0m0 1h0m1-3h0m0 1h0m0 1h0m1-4h0m0 4h0m2-3h0m1-2h0m4-4h0m1 0h0m1-1h0m1 2h0m1-3h0m1-1h0m2 1h0m1-2h0m2 0h0m1-3h0m0 1h0m0 1h0m3-3h0m2 0h0m1-8h0m0 4h0m2 1h0m2-5h0m1 5h0m4-4h0m0 1h0m1-1h0m1-1h0m0 1h0m4-5h0m2-2h0m0 2h0m1-1h0m3-2h0m4-3h0m1-1h0m2-7h0m2 2h0m3-1h0m2-1h0m3-4h0m1-5h0m0 5h0m2-3h0m0 1h0m1-1h0m2-1h0m1-5h0m3 1h0m1-10h0m2-2h0m4 5h0m1-1h0m4-3h0m1-12h0m1 7h0m0 1h0m1-5h0m0 2h0m0 1h0m0 2h0m1-7h0m1 1h0m4-2h0m1-1h0m1-2h0m1-2h0m0 1h0m1-2h0m0 1h0m1-6h0m0 4h0m1-2h0m0 1h0m1-4h0m0 2h0m1-3h0m2 1h0m1-2h0m2-1h0m1-8h0m2 3h0m1 0h0m1-5h0m4 0h0m2-1h0" fill="none" stroke="#fff" stroke-width="2" stroke-linecap="square"/><g style="filter:blur(1.1px)"><ellipse cx="127.6" cy="222.5" rx="4.6" ry="17.5" fill="#e8d020" opacity="0.85"/><ellipse cx="127.4" cy="223" rx="2.9" ry="15" fill="#e8401a"/></g><rect x="323.8" y="36.5" width="1.8" height="114.5" fill="#19c8e8"/><rect x="122.3" y="36.1" width="203.1" height="1.2" fill="#4a6fa0"/><rect x="271.3" y="36.1" width="54" height="1.2" fill="#8a3050"/><path d="M153.6 232.9 L142.5 223.1 L139.2 192 L140.2 153.6 L143 94.1 L156.5 64.3 L188.2 46.1 L241.9 44.5 L296.7 58.6 L309.5 86.4 L313 134.4 L286.1 192 L193.9 234.3 Z" fill="none" stroke="#101018" stroke-width="1.6" stroke-linejoin="round"/><rect x="121.3" y="35.5" width="205.1" height="204.5" fill="none" stroke="#000" stroke-width="1.3"/><text transform="translate(122.3 265.5) scale(1.08 1)" font-size="19.2" text-anchor="middle">0</text><text transform="translate(161.1 265.5) scale(1.08 1)" font-size="19.2" text-anchor="middle">50</text><text transform="translate(199.9 265.5) scale(1.08 1)" font-size="19.2" text-anchor="middle">100</text><text transform="translate(238.7 265.5) scale(1.08 1)" font-size="19.2" text-anchor="middle">150</text><text transform="translate(277.5 265.5) scale(1.08 1)" font-size="19.2" text-anchor="middle">200</text><text transform="translate(322.3 265.5) scale(1.08 1)" font-size="19.2" text-anchor="middle">250K</text><text transform="translate(111.8 246) scale(1.08 1)" font-size="19.2" text-anchor="end">0</text><text transform="translate(111.8 207.2) scale(1.08 1)" font-size="19.2" text-anchor="end">50</text><text transform="translate(111.8 168.4) scale(1.08 1)" font-size="19.2" text-anchor="end">100</text><text transform="translate(111.8 129.6) scale(1.08 1)" font-size="19.2" text-anchor="end">150</text><text transform="translate(111.8 90.8) scale(1.08 1)" font-size="19.2" text-anchor="end">200</text><text transform="translate(111.8 52) scale(1.08 1)" font-size="19.2" text-anchor="end">250K</text><path d="M122.3 240v6M130.1 240v3M137.8 240v3M145.6 240v3M153.3 240v3M161.1 240v6M168.9 240v3M176.6 240v3M184.4 240v3M192.1 240v3M199.9 240v6M207.7 240v3M215.4 240v3M223.2 240v3M230.9 240v3M238.7 240v6M246.5 240v3M254.2 240v3M262 240v3M269.7 240v3M277.5 240v6M285.3 240v3M293 240v3M300.8 240v3M308.5 240v3M316.3 240v6M324.1 240v3M121.3 239h-6M121.3 231.2h-3M121.3 223.5h-3M121.3 215.7h-3M121.3 208h-3M121.3 200.2h-6M121.3 192.4h-3M121.3 184.7h-3M121.3 176.9h-3M121.3 169.2h-3M121.3 161.4h-6M121.3 153.6h-3M121.3 145.9h-3M121.3 138.1h-3M121.3 130.4h-3M121.3 122.6h-6M121.3 114.8h-3M121.3 107.1h-3M121.3 99.3h-3M121.3 91.6h-3M121.3 83.8h-6M121.3 76h-3M121.3 68.3h-3M121.3 60.5h-3M121.3 52.8h-3M121.3 45h-6M121.3 37.2h-3" stroke="#000" stroke-width="1" fill="none"/><text transform="translate(266 224.6) scale(1.08 1)" font-size="24.5">57</text><text transform="translate(122.4 23.6) scale(1.08 1)" font-size="22.6">Size/granularity</text><text transform="translate(122.8 298.2) scale(1.08 1)" font-size="22.6">FSC-A</text><text transform="translate(68.2 236) rotate(-90) scale(1.08 1)" font-size="22.6">SSC-A</text><line x1="59.5" y1="289.6" x2="59.5" y2="265.5" stroke="#000" stroke-width="1.3"/><path d="M59.5 256 L64.1 269 L59.5 265.5 L54.9 269 Z" fill="#000"/><line x1="58.9" y1="289" x2="89" y2="289" stroke="#000" stroke-width="1.3"/><path d="M98.5 289 L85.5 293.6 L89 289 L85.5 284.4 Z" fill="#000"/><line x1="326.4" y1="123" x2="369.5" y2="123" stroke="#000" stroke-width="1.3"/><path d="M379 123 L366 127.6 L369.5 123 L366 118.4 Z" fill="#000"/><g clip-path="url(#cp2)"><g clip-path="url(#sA2)"><g filter="url(#fA2)"><rect x="395.7" y="-4.5" width="285.1" height="284.5" fill="#000"/><path d="M458.4 224.8 L509.6 181.3 L560.8 142.9 L624.8 96.8" fill="none" stroke="#fff" stroke-width="20" stroke-linecap="round" stroke-linejoin="round" opacity="0.15"/><path d="M458.4 223.5 L509.6 180 L548 149.3 L586.4 122.4" fill="none" stroke="#fff" stroke-width="12" stroke-linecap="round" stroke-linejoin="round" opacity="0.25"/><path d="M457.1 222.2 L496.8 187.7 L528.8 162.1" fill="none" stroke="#fff" stroke-width="8" stroke-linecap="round" stroke-linejoin="round" opacity="0.32"/><path d="M456.5 222.2 L477.6 204.3 L507 178.7" fill="none" stroke="#fff" stroke-width="6" stroke-linecap="round" stroke-linejoin="round" opacity="0.45"/><path d="M457.1 220.3 L478.9 202.4" fill="none" stroke="#fff" stroke-width="5.5" stroke-linecap="round" stroke-linejoin="round" opacity="0.8"/><path d="M458.4 219 L471.2 208.8" fill="none" stroke="#fff" stroke-width="5.5" stroke-linecap="round" stroke-linejoin="round" opacity="1"/><path d="M459 218.4 L469.9 209.7" fill="none" stroke="#fff" stroke-width="4" stroke-linecap="round" stroke-linejoin="round" opacity="1"/></g></g></g><path d="M453 130h0m0 43h0m1 5h0m1 56h0m1-55h0m0 55h0m1-68h0m0 12h0m0 1h0m0 54h0m1-67h0m0 8h0m1-43h0m0 103h0m1-63h0m0 61h0m1-54h0m0 1h0m1-1h0m1-2h0m0 1h0m0 2h0m1-2h0m0 55h0m0 2h0m1-57h0m0 1h0m0 54h0m1-74h0m0 7h0m0 7h0m0 2h0m0 61h0m1-2h0m1-60h0m1-19h0m0 14h0m0 3h0m0 5h0m1-4h0m0 1h0m0 4h0m0 52h0m1-60h0m0 4h0m0 4h0m1 53h0m1-65h0m0 63h0m1 0h0m1-85h0m0 8h0m0 1h0m0 82h0m1-61h0m1 1h0m1-5h0m1 4h0m0 54h0m1-56h0m0 2h0m0 1h0m1-3h0m0 2h0m1-21h0m0 75h0m0 6h0m1-80h0m0 13h0m0 4h0m0 56h0m0 4h0m1-65h0m0 4h0m0 3h0m1-14h0m0 68h0m1-71h0m0 16h0m1-8h0m0 2h0m0 3h0m0 2h0m0 55h0m1-83h0m0 23h0m0 4h0m0 1h0m0 56h0m1-78h0m1 3h0m0 2h0m0 6h0m0 8h0m0 1h0m0 60h0m1-78h0m0 13h0m1 2h0m0 58h0m1-131h0m0 66h0m0 6h0m0 1h0m0 1h0m1-18h0m0 13h0m0 5h0m0 1h0m1-65h0m0 63h0m0 59h0m1-86h0m0 26h0m0 1h0m0 60h0m1-103h0m0 16h0m0 22h0m0 5h0m0 58h0m1-81h0m0 9h0m0 11h0m0 1h0m0 1h0m0 59h0m1-67h0m0 2h0m0 5h0m0 60h0m1-63h0m0 3h0m1-5h0m0 65h0m1-66h0m0 1h0m1-5h0m0 2h0m0 1h0m0 2h0m0 2h0m0 61h0m1-68h0m0 6h0m0 63h0m1-66h0m1-20h0m0 17h0m0 2h0m0 2h0m0 64h0m1-114h0m0 23h0m0 20h0m0 70h0m0 1h0m0 1h0m1-112h0m0 45h0m0 68h0m1-106h0m0 15h0m0 23h0m0 66h0m1-70h0m1 3h0m0 1h0m1-10h0m0 8h0m0 1h0m0 1h0m1-38h0m0 34h0m1-1h0m0 2h0m1-20h0m0 86h0m1 0h0m1-91h0m0 13h0m0 2h0m0 7h0m1-32h0m0 14h0m0 14h0m0 5h0m0 1h0m1-10h0m0 7h0m0 3h0m0 79h0m1-153h0m0 67h0m0 2h0m0 2h0m0 1h0m0 67h0m0 2h0m1-89h0m0 14h0m0 74h0m0 4h0m0 4h0m1-133h0m0 53h0m0 5h0m0 65h0m1-113h0m0 46h0m1-11h0m0 10h0m0 1h0m0 72h0m1-102h0m0 22h0m0 7h0m0 1h0m0 71h0m1-114h0m0 16h0m0 26h0m0 66h0m1-79h0m0 9h0m0 3h0m0 71h0m1-77h0m1 0h0m1-13h0m0 7h0m0 11h0m0 1h0m0 69h0m1-81h0m0 7h0m0 1h0m0 2h0m1-1h0m0 68h0m0 2h0m1-132h0m0 53h0m0 2h0m0 4h0m0 4h0m1-22h0m0 7h0m1 10h0m1-4h0m0 76h0m1-140h0m0 64h0m0 1h0m0 1h0m0 3h0m0 69h0m0 1h0m0 6h0m1-87h0m0 6h0m0 6h0m0 68h0m1-73h0m1-12h0m0 13h0m0 71h0m0 1h0m1-84h0m1 7h0m0 2h0m0 74h0m1-83h0m0 3h0m0 9h0m0 1h0m0 74h0m1-82h0m0 4h0m0 73h0m0 8h0m1-81h0m0 78h0m1-139h0m0 61h0m0 2h0m0 70h0m0 1h0m1-72h0m0 74h0m1-80h0m0 2h0m0 1h0m0 3h0m1-26h0m0 14h0m0 7h0m1-58h0m0 51h0m0 3h0m0 7h0m1-19h0m0 13h0m0 3h0m0 2h0m0 72h0m0 3h0m1-81h0m0 2h0m1-6h0m0 7h0m0 1h0m1-25h0m0 3h0m0 1h0m0 21h0m1 74h0m0 3h0m1-88h0m0 8h0m0 75h0m1-84h0m0 3h0m0 3h0m0 4h0m1-33h0m0 32h0m0 73h0m0 1h0m1-89h0m0 8h0m0 6h0m0 75h0m1-78h0m0 2h0m0 75h0m1-79h0m0 1h0m1-15h0m0 3h0m0 11h0m1 77h0m1-76h0m0 77h0m1-87h0m1 9h0m0 77h0m1-86h0m0 2h0m0 1h0m0 5h0m0 78h0m0 1h0m0 5h0m1-108h0m0 17h0m0 4h0m1 1h0m0 77h0m0 1h0m0 1h0m1-84h0m0 4h0m0 78h0m1-101h0m0 15h0m1-1h0m0 4h0m0 3h0m0 79h0m0 2h0m0 3h0m0 3h0m1-88h0m0 80h0m0 2h0m1-83h0m1-14h0m0 15h0m0 1h0m0 79h0m1-87h0m0 3h0m0 3h0m0 82h0m1-98h0m0 10h0m0 1h0m0 3h0m0 1h0m0 1h0m0 78h0m0 2h0m1-84h0m0 82h0m0 2h0m1-84h0m0 2h0m0 80h0m0 2h0m1-87h0m0 86h0m0 15h0m1-120h0m0 17h0m0 6h0m0 81h0m1-83h0m1-3h0m0 92h0m1-92h0m0 1h0m0 1h0m0 1h0m0 78h0m0 8h0m0 18h0m1-116h0m0 8h0m0 2h0m0 1h0m0 80h0m2-126h0m0 142h0m0 3h0m1-104h0m0 2h0m0 81h0m0 2h0m1-120h0m0 38h0m1-17h0m0 16h0m0 79h0m1-2h0m0 3h0m0 2h0m0 7h0m1-13h0m0 3h0m0 5h0m1-6h0m0 1h0m0 1h0m1-115h0m0 109h0m0 2h0m0 7h0m1 18h0m1-110h0m0 2h0m1 0h0m0 78h0m0 1h0m0 2h0m1-79h0m1-15h0m0 94h0m0 3h0m1-8h0m1-2h0m0 9h0m1-85h0m0 76h0m0 1h0m1-76h0m0 1h0m0 74h0m0 2h0m1-77h0m0 73h0m0 1h0m0 1h0m0 6h0m1-8h0m0 6h0m1-85h0m0 3h0m0 76h0m1-99h0m0 15h0m0 4h0m0 3h0m0 81h0m1-79h0m1-1h0m0 85h0m1-97h0m0 81h0m1-70h0m0 71h0m0 1h0m1-85h0m0 83h0m1-74h0m0 71h0m1-3h0m0 4h0m0 2h0m0 23h0m1-100h0m0 3h0m0 69h0m1-4h0m0 2h0m0 1h0m2-96h0m0 25h0m0 2h0m0 1h0m0 70h0m0 5h0m1-9h0m0 1h0m0 1h0m1-6h0m0 5h0m0 1h0m1-9h0m0 1h0m0 8h0m1-71h0m0 1h0m0 60h0m0 8h0m1-71h0m0 60h0m0 2h0m1-3h0m0 2h0m1-62h0m0 3h0m0 53h0m0 5h0m0 2h0m0 1h0m1-8h0m0 2h0m0 4h0m1-9h0m0 1h0m0 2h0m0 16h0m1-21h0m0 2h0m0 11h0m0 13h0" fill="none" stroke="#1218e0" stroke-width="2" stroke-linecap="square"/><path d="M454 182h0m2-1h0m2 0h0m3-1h0m2-1h0m3 1h0m5-1h0m2 0h0m4 3h0m10-9h0m4-3h0m0 4h0m2-6h0m3 1h0m5-2h0m1-2h0m1-3h0m3-3h0m2 2h0m3-5h0m5-2h0m0 1h0m13-7h0m4-4h0m3-1h0m1-1h0m0 2h0m2-2h0m2-1h0m1-1h0m2-2h0m0 1h0m0 1h0m0 2h0m2-5h0m2 6h0m7-8h0m2-6h0m6-5h0m0 4h0m1 49h0m0 9h0m1-63h0m5 69h0m1-1h0m0 2h0m0 1h0m2-8h0m0 6h0m1-74h0m1 56h0m4-59h0m0 66h0m1-69h0m1 72h0m1 1h0m1-3h0m2-2h0m1-72h0m6-4h0m1 0h0m0 49h0m0 18h0m2-69h0m2 71h0m1-4h0m1-67h0m0 1h0m1 60h0m1-63h0m2 53h0m3-6h0m1-52h0m0 1h0m0 59h0m2-2h0m0 7h0m0 1h0m0 1h0m1-14h0m0 13h0m1-2h0m1-67h0m0 52h0m1 11h0m0 1h0m1-7h0m0 2h0m2-60h0m0 60h0m1-59h0m0 50h0m1-54h0m0 53h0m0 9h0m1-14h0m0 11h0m1-6h0m0 4h0m2-59h0m1-1h0m1 4h0m0 44h0m0 5h0" fill="none" stroke="#fff" stroke-width="2" stroke-linecap="square"/><path d="M441.8 228.6 L447.5 236.3 L453.9 233.8 L571 153.1 L631.8 104.5 L636.1 85.9 L628.9 81.8 L615.8 85.3 L548 135.8 L496.8 173.6 L453 215.8 Z" fill="none" stroke="#101018" stroke-width="1.5" stroke-linejoin="round"/><rect x="435.7" y="35.5" width="205.1" height="204.5" fill="none" stroke="#000" stroke-width="1.3"/><text transform="translate(436.7 265.5) scale(1.08 1)" font-size="19.2" text-anchor="middle">0</text><text transform="translate(475.5 265.5) scale(1.08 1)" font-size="19.2" text-anchor="middle">50</text><text transform="translate(514.3 265.5) scale(1.08 1)" font-size="19.2" text-anchor="middle">100</text><text transform="translate(553.1 265.5) scale(1.08 1)" font-size="19.2" text-anchor="middle">150</text><text transform="translate(591.9 265.5) scale(1.08 1)" font-size="19.2" text-anchor="middle">200</text><text transform="translate(636.7 265.5) scale(1.08 1)" font-size="19.2" text-anchor="middle">250K</text><text transform="translate(426.2 246) scale(1.08 1)" font-size="19.2" text-anchor="end">0</text><text transform="translate(426.2 207.2) scale(1.08 1)" font-size="19.2" text-anchor="end">50</text><text transform="translate(426.2 168.4) scale(1.08 1)" font-size="19.2" text-anchor="end">100</text><text transform="translate(426.2 129.6) scale(1.08 1)" font-size="19.2" text-anchor="end">150</text><text transform="translate(426.2 90.8) scale(1.08 1)" font-size="19.2" text-anchor="end">200</text><text transform="translate(426.2 52) scale(1.08 1)" font-size="19.2" text-anchor="end">250K</text><path d="M436.7 240v6M444.5 240v3M452.2 240v3M460 240v3M467.7 240v3M475.5 240v6M483.3 240v3M491 240v3M498.8 240v3M506.5 240v3M514.3 240v6M522.1 240v3M529.8 240v3M537.6 240v3M545.3 240v3M553.1 240v6M560.9 240v3M568.6 240v3M576.4 240v3M584.1 240v3M591.9 240v6M599.7 240v3M607.4 240v3M615.2 240v3M622.9 240v3M630.7 240v6M638.5 240v3M435.7 239h-6M435.7 231.2h-3M435.7 223.5h-3M435.7 215.7h-3M435.7 208h-3M435.7 200.2h-6M435.7 192.4h-3M435.7 184.7h-3M435.7 176.9h-3M435.7 169.2h-3M435.7 161.4h-6M435.7 153.6h-3M435.7 145.9h-3M435.7 138.1h-3M435.7 130.4h-3M435.7 122.6h-6M435.7 114.8h-3M435.7 107.1h-3M435.7 99.3h-3M435.7 91.6h-3M435.7 83.8h-6M435.7 76h-3M435.7 68.3h-3M435.7 60.5h-3M435.7 52.8h-3M435.7 45h-6M435.7 37.2h-3" stroke="#000" stroke-width="1" fill="none"/><text transform="translate(583.5 71) scale(1.08 1)" font-size="24.5">98</text><text transform="translate(436.6 23.6) scale(1.08 1)" font-size="22.6">Singlets</text><text transform="translate(436.6 298.2) scale(1.08 1)" font-size="22.6">FSC-A</text><text transform="translate(382.5 236) rotate(-90) scale(1.08 1)" font-size="22.6">FSC-H</text><line x1="373.5" y1="289.6" x2="373.5" y2="265.5" stroke="#000" stroke-width="1.3"/><path d="M373.5 256 L378.1 269 L373.5 265.5 L368.9 269 Z" fill="#000"/><line x1="372.9" y1="289" x2="403" y2="289" stroke="#000" stroke-width="1.3"/><path d="M412.5 289 L399.5 293.6 L403 289 L399.5 284.4 Z" fill="#000"/><line x1="627" y1="123" x2="683" y2="123" stroke="#000" stroke-width="1.3"/><path d="M692.5 123 L679.5 127.6 L683 123 L679.5 118.4 Z" fill="#000"/><g clip-path="url(#cp3)"><g clip-path="url(#sA3)"><g filter="url(#fA3)"><rect x="707.8" y="-4.5" width="285.1" height="284.5" fill="#000"/><ellipse cx="811.6" cy="123.1" rx="37" ry="67" fill="#fff" opacity="0.2"/><path d="M793.2 184.5 L792 135.4 L795.7 86.3" fill="none" stroke="#fff" stroke-width="26" stroke-linecap="round" stroke-linejoin="round" opacity="0.2"/><ellipse cx="799.3" cy="200.4" rx="37" ry="23" fill="#fff" opacity="0.38"/><ellipse cx="796.9" cy="201.6" rx="27" ry="13" fill="#fff" opacity="0.5" transform="rotate(-8 796.9 201.6)"/><ellipse cx="782.2" cy="202.9" rx="7.5" ry="8" fill="#fff"/><ellipse cx="811.6" cy="199.2" rx="12" ry="7" fill="#fff" transform="rotate(-20 811.6 199.2)"/><path d="M821.4 223.7 L842.3 211.5 L860.7 184.5 L875.4 147.7 L887.7 98.6 L899.9 49.5" fill="none" stroke="#fff" stroke-width="30" stroke-linecap="round" stroke-linejoin="round" opacity="0.25"/><path d="M826.3 221.3 L845.9 206.6 L863.1 178.3 L876.6 141.5 L885.2 104.7" fill="none" stroke="#fff" stroke-width="18" stroke-linecap="round" stroke-linejoin="round" opacity="0.3"/><path d="M831.2 218.8 L848.4 202.9 L864.3 174.7 L874.2 147.7" fill="none" stroke="#fff" stroke-width="10" stroke-linecap="round" stroke-linejoin="round" opacity="0.25"/><path d="M891.3 223.7 L909.7 184.5 L919.6 135.4 L924.5 86.3" fill="none" stroke="#fff" stroke-width="14" stroke-linecap="round" stroke-linejoin="round" opacity="0.12"/></g></g></g><path d="M752 62h0m1-2h0m0 5h0m0 1h0m0 1h0m0 9h0m0 15h0m0 7h0m0 21h0m0 3h0m0 12h0m0 7h0m0 18h0m0 4h0m0 4h0m0 31h0m0 5h0m0 7h0m0 22h0m1-175h0m0 16h0m0 3h0m0 6h0m0 21h0m0 2h0m0 7h0m0 39h0m0 22h0m0 5h0m0 6h0m0 1h0m0 36h0m0 3h0m0 3h0m1-177h0m0 11h0m0 43h0m0 45h0m0 18h0m0 4h0m0 7h0m0 5h0m0 16h0m0 7h0m0 8h0m0 3h0m0 10h0m0 5h0m1-153h0m0 15h0m0 3h0m0 48h0m0 27h0m0 20h0m0 8h0m0 15h0m0 5h0m1-175h0m0 10h0m0 20h0m0 2h0m0 20h0m0 14h0m0 1h0m0 3h0m0 2h0m0 4h0m0 30h0m0 25h0m0 1h0m0 3h0m0 1h0m0 5h0m0 25h0m0 4h0m0 12h0m0 2h0m1-181h0m0 6h0m0 16h0m0 9h0m0 1h0m0 4h0m0 14h0m0 7h0m0 12h0m0 2h0m0 9h0m0 2h0m0 36h0m0 14h0m0 1h0m0 24h0m0 27h0m1-181h0m0 1h0m0 2h0m0 1h0m0 1h0m0 3h0m0 3h0m0 2h0m0 2h0m0 2h0m0 4h0m0 1h0m0 7h0m0 1h0m0 3h0m0 1h0m0 4h0m0 1h0m0 2h0m0 3h0m0 9h0m0 1h0m0 1h0m0 9h0m0 4h0m0 1h0m0 3h0m0 1h0m0 3h0m0 2h0m0 5h0m0 1h0m0 5h0m0 1h0m0 17h0m0 4h0m0 1h0m0 2h0m0 1h0m0 3h0m0 6h0m0 1h0m0 13h0m0 1h0m0 4h0m0 1h0m0 8h0m0 2h0m0 2h0m0 2h0m0 6h0m0 2h0m0 2h0m0 1h0m0 8h0m1-182h0m0 1h0m0 14h0m0 2h0m0 2h0m0 5h0m0 2h0m0 1h0m0 1h0m0 1h0m0 3h0m0 1h0m0 9h0m0 2h0m0 2h0m0 1h0m0 4h0m0 5h0m0 4h0m0 6h0m0 6h0m0 1h0m0 15h0m0 2h0m0 1h0m0 4h0m0 1h0m0 2h0m0 3h0m0 6h0m0 1h0m0 2h0m0 8h0m0 8h0m0 6h0m0 3h0m0 4h0m0 1h0m0 1h0m0 2h0m0 4h0m0 12h0m0 3h0m0 1h0m0 4h0m0 4h0m0 2h0m0 1h0m0 1h0m0 6h0m0 2h0m1-183h0m0 1h0m0 2h0m0 4h0m0 1h0m0 1h0m0 2h0m0 9h0m0 3h0m0 1h0m0 6h0m0 1h0m0 7h0m0 1h0m0 3h0m0 3h0m0 4h0m0 1h0m0 5h0m0 2h0m0 2h0m0 2h0m0 4h0m0 4h0m0 2h0m0 1h0m0 2h0m0 3h0m0 2h0m0 7h0m0 2h0m0 3h0m0 9h0m0 3h0m0 2h0m0 4h0m0 2h0m0 3h0m0 11h0m0 7h0m0 5h0m0 3h0m0 7h0m0 1h0m0 2h0m0 5h0m0 1h0m0 1h0m0 3h0m0 1h0m0 2h0m0 6h0m0 5h0m0 5h0m0 1h0m0 6h0m1-186h0m0 2h0m0 8h0m0 1h0m0 1h0m0 4h0m0 2h0m0 3h0m0 8h0m0 1h0m0 5h0m0 1h0m0 4h0m0 7h0m0 4h0m0 1h0m0 1h0m0 2h0m0 1h0m0 4h0m0 1h0m0 3h0m0 1h0m0 3h0m0 3h0m0 2h0m0 1h0m0 8h0m0 1h0m0 4h0m0 1h0m0 6h0m0 1h0m0 1h0m0 2h0m0 6h0m0 3h0m0 2h0m0 3h0m0 4h0m0 1h0m0 2h0m0 1h0m0 3h0m0 6h0m0 1h0m0 1h0m0 1h0m0 2h0m0 4h0m0 1h0m0 4h0m0 3h0m0 2h0m0 3h0m0 7h0m0 4h0m0 1h0m0 3h0m0 4h0m0 1h0m0 6h0m0 1h0m0 2h0m0 1h0m0 2h0m0 1h0m0 2h0m1-186h0m0 3h0m0 3h0m0 2h0m0 2h0m0 3h0m0 10h0m0 4h0m0 10h0m0 3h0m0 12h0m0 6h0m0 1h0m0 2h0m0 2h0m0 17h0m0 6h0m0 2h0m0 1h0m0 2h0m0 9h0m0 3h0m0 4h0m0 2h0m0 1h0m0 2h0m0 2h0m0 3h0m0 3h0m0 1h0m0 1h0m0 3h0m0 2h0m0 4h0m0 11h0m0 1h0m0 1h0m0 3h0m0 1h0m0 2h0m0 10h0m0 1h0m0 3h0m0 4h0m0 4h0m0 1h0m0 4h0m0 8h0m0 1h0m1-187h0m0 20h0m0 3h0m0 3h0m0 4h0m0 3h0m0 3h0m0 3h0m0 11h0m0 6h0m0 2h0m0 3h0m0 2h0m0 4h0m0 1h0m0 6h0m0 3h0m0 4h0m0 5h0m0 1h0m0 1h0m0 9h0m0 3h0m0 1h0m0 3h0m0 1h0m0 4h0m0 3h0m0 4h0m0 1h0m0 2h0m0 1h0m0 2h0m0 1h0m0 1h0m0 9h0m0 4h0m0 1h0m0 1h0m0 5h0m0 1h0m0 2h0m0 2h0m0 5h0m0 3h0m0 3h0m0 2h0m0 3h0m0 1h0m0 1h0m0 2h0m0 1h0m0 5h0m0 1h0m0 1h0m0 6h0m0 1h0m0 3h0m117 0h0m1 0h0m1 1h0m1 1h0m1 1h0m1-2h0m2-2h0m0 3h0m2-1h0m0 2h0m2-4h0m1-1h0m4-1h0m0 3h0m1-3h0m0 2h0m0 2h0m1-4h0m1 0h0m1 2h0m1-1h0m1-2h0m1 3h0m0 3h0m1-6h0m0 1h0m0 3h0m1-4h0m1 0h0m1 2h0m0 1h0m0 3h0m1-6h0m3-3h0m1-4h0m1-1h0m0 1h0m0 4h0m2-10h0m1 4h0m0 2h0m0 7h0m1-16h0m0 4h0m0 5h0m1-14h0m0 2h0m0 7h0m1 15h0m1-27h0m0 1h0m0 4h0m0 1h0m0 5h0m1-14h0m0 4h0m0 4h0m1-11h0m0 3h0m1-7h0m0 3h0m0 2h0m1-5h0m0 1h0m0 2h0m1-3h0m0 1h0m0 4h0m1-13h0m0 6h0m0 1h0m0 1h0m1-11h0m1-4h0m0 3h0m0 1h0m0 4h0m0 2h0m0 14h0m0 9h0m1-35h0m0 3h0m0 1h0m0 2h0m0 4h0m1-21h0m0 10h0m0 2h0m0 3h0m0 14h0m1-34h0m0 6h0m0 6h0m0 7h0m0 29h0m1-53h0m0 3h0m0 2h0m0 1h0m0 4h0m0 2h0m0 2h0m0 10h0m1-34h0m0 1h0m0 7h0m0 1h0m0 1h0m0 2h0m0 1h0m0 3h0m0 7h0m0 16h0m1-137h0m0 2h0m0 1h0m0 2h0m0 85h0m0 5h0m0 4h0m0 28h0m1-127h0m0 4h0m0 3h0m0 3h0m0 1h0m0 1h0m0 76h0m0 7h0m0 7h0m0 11h0m0 13h0m0 35h0m1-152h0m0 3h0m0 1h0m0 2h0m0 2h0m0 5h0m0 40h0m0 6h0m0 1h0m0 11h0m0 6h0m0 1h0m0 18h0m0 2h0m1-106h0m0 5h0m0 3h0m0 13h0m0 2h0m0 3h0m0 2h0m0 24h0m0 2h0m0 3h0m0 7h0m0 1h0m0 3h0m0 2h0m0 3h0m0 2h0m0 4h0m0 2h0m0 1h0m0 1h0m0 7h0m0 28h0m0 2h0m1-117h0m0 2h0m0 18h0m0 5h0m0 16h0m0 3h0m0 1h0m0 2h0m0 5h0m0 11h0m0 11h0m0 6h0m0 7h0m0 2h0m0 6h0m1-95h0m0 3h0m0 3h0m0 2h0m0 9h0m0 8h0m0 4h0m0 1h0m0 1h0m0 3h0m0 6h0m0 2h0m0 2h0m0 6h0m0 2h0m0 2h0m0 1h0m0 5h0m0 7h0m0 2h0m1-60h0m0 19h0m0 3h0m0 5h0m0 5h0m0 6h0m0 5h0m0 7h0m0 20h0m0 18h0m0 14h0m1-88h0m0 9h0m0 1h0m0 6h0m0 3h0m0 7h0m0 1h0m0 6h0m0 18h0m0 4h0m0 18h0m0 5h0m1-69h0m0 33h0m0 85h0m1-117h0m0 8h0m0 31h0m0 37h0m1-85h0m0 12h0m0 27h0m0 3h0m1-42h0m0 50h0m0 2h0m0 36h0m1-75h0m0 25h0m0 8h0m1 10h0m0 40h0" fill="none" stroke="#1218e0" stroke-width="2" stroke-linecap="square"/><path d="M764 105h0m0 11h0m0 94h0m1-154h0m0 12h0m0 22h0m0 1h0m0 4h0m0 9h0m0 2h0m0 15h0m0 8h0m0 11h0m0 8h0m0 16h0m0 3h0m0 2h0m0 6h0m0 3h0m0 26h0m0 13h0m0 6h0m1-168h0m0 3h0m0 27h0m0 12h0m0 37h0m0 10h0m0 9h0m0 7h0m0 17h0m0 25h0m0 10h0m0 15h0m1-160h0m0 7h0m0 44h0m0 14h0m0 7h0m0 27h0m0 22h0m0 17h0m1-71h0m0 36h0m0 24h0m0 21h0m1-101h0m0 45h0m0 8h0m0 60h0m1-153h0m0 83h0m0 22h0m2-59h0m0 35h0m0 19h0m0 13h0m2-35h0m106 78h0m0 1h0m5-2h0m0 1h0m1 0h0m3-2h0m0 2h0m1-1h0m1 0h0m1-1h0m3 0h0m3-7h0m0 5h0m0 1h0m5-8h0m0 8h0m5-2h0m2-7h0m0 1h0m0 4h0m1-3h0m2-7h0m0 6h0m1-6h0m0 3h0m1-18h0m0 9h0m0 4h0m0 2h0m1-2h0m0 1h0m1-4h0m0 3h0m1-2h0m1-6h0m1-10h0m0 2h0m0 8h0m1-48h0m0 47h0m1-17h0m0 11h0m0 2h0m1-5h0m1-5h0m0 3h0m0 1h0m2-12h0m0 4h0m0 1h0m0 2h0m1-140h0m0 134h0m0 1h0m1-116h0m0 97h0m0 8h0m0 4h0m0 2h0m0 1h0m0 3h0m1-30h0m0 18h0m0 4h0m0 1h0m0 1h0m0 1h0m1-125h0m0 84h0m0 16h0m0 3h0m0 9h0m0 2h0m0 7h0m1-123h0m0 46h0m0 19h0m0 26h0m0 14h0m0 4h0m0 5h0m1-115h0m0 58h0m0 32h0m0 8h0m0 9h0m1-109h0m0 9h0m0 9h0m0 65h0m0 10h0m0 2h0m0 1h0m0 6h0m0 2h0m1-103h0m0 2h0m0 8h0m0 6h0m0 1h0m0 36h0m0 2h0m0 37h0m0 2h0m1-93h0m0 3h0m0 8h0m0 4h0m0 44h0m0 25h0m1-67h0m0 2h0m0 2h0m0 4h0m0 4h0m0 17h0m0 1h0m0 5h0m0 5h0m0 8h0m0 1h0m0 8h0m0 1h0m0 8h0m1-64h0m0 8h0m0 6h0m0 2h0m0 2h0m0 11h0m0 3h0m1-20h0m0 1h0m0 5h0m0 3h0m0 5h0m0 3h0m0 1h0m0 1h0m1-13h0m0 2h0" fill="none" stroke="#fff" stroke-width="2" stroke-linecap="square"/><path d="M750.8 50.4 L763.9 40.3 L825.5 38.5 L857.9 41.8 L859.1 74.7 L854.6 160.5 L836.7 201.6 L801.2 235.9 L762 234.5 L750.8 231.5 Z" fill="none" stroke="#101018" stroke-width="1.5" stroke-linejoin="round"/><rect x="747.8" y="35.5" width="205.1" height="204.5" fill="none" stroke="#000" stroke-width="1.3"/><text transform="translate(778.8 265.5) scale(1.08 1)" font-size="19.2" text-anchor="middle">0</text><text transform="translate(837.8 265.5) scale(1.08 1)" font-size="19.2" text-anchor="middle">10<tspan dy="-7.7" font-size="11.1">3</tspan></text><text transform="translate(886.8 265.5) scale(1.08 1)" font-size="19.2" text-anchor="middle">10<tspan dy="-7.7" font-size="11.1">4</tspan></text><text transform="translate(933.8 265.5) scale(1.08 1)" font-size="19.2" text-anchor="middle">10<tspan dy="-7.7" font-size="11.1">5</tspan></text><text transform="translate(738.3 246) scale(1.08 1)" font-size="19.2" text-anchor="end">0</text><text transform="translate(738.3 207.2) scale(1.08 1)" font-size="19.2" text-anchor="end">50</text><text transform="translate(738.3 168.4) scale(1.08 1)" font-size="19.2" text-anchor="end">100</text><text transform="translate(738.3 129.6) scale(1.08 1)" font-size="19.2" text-anchor="end">150</text><text transform="translate(738.3 90.8) scale(1.08 1)" font-size="19.2" text-anchor="end">200</text><text transform="translate(738.3 52) scale(1.08 1)" font-size="19.2" text-anchor="end">250K</text><path d="M778.8 240v6M835.8 240v6M884.8 240v6M931.8 240v6M850.6 240v3M859.2 240v3M865.3 240v3M870 240v3M873.9 240v3M877.2 240v3M880.1 240v3M882.6 240v3M898.9 240v3M907.2 240v3M913.1 240v3M917.7 240v3M921.4 240v3M924.5 240v3M927.2 240v3M929.6 240v3M945.9 240v3M792.5 240v3M802.9 240v3M810.5 240v3M816.3 240v3M820.9 240v3M824.8 240v3M828.1 240v3M831 240v3M833.5 240v3M765.1 240v3M754.7 240v3M769.3 240v4.5M771.3 240v4.5M773.3 240v4.5M775.3 240v4.5M777.3 240v4.5M779.3 240v4.5M781.3 240v4.5M783.3 240v4.5M785.3 240v4.5M787.3 240v4.5M789.3 240v4.5M747.8 239h-6M747.8 231.2h-3M747.8 223.5h-3M747.8 215.7h-3M747.8 208h-3M747.8 200.2h-6M747.8 192.4h-3M747.8 184.7h-3M747.8 176.9h-3M747.8 169.2h-3M747.8 161.4h-6M747.8 153.6h-3M747.8 145.9h-3M747.8 138.1h-3M747.8 130.4h-3M747.8 122.6h-6M747.8 114.8h-3M747.8 107.1h-3M747.8 99.3h-3M747.8 91.6h-3M747.8 83.8h-6M747.8 76h-3M747.8 68.3h-3M747.8 60.5h-3M747.8 52.8h-3M747.8 45h-6M747.8 37.2h-3" stroke="#000" stroke-width="1" fill="none"/><rect x="806.1" y="49.7" width="35" height="23.5" fill="#b4b4ff" opacity="0.82"/><text transform="translate(809.8 70.9) scale(1.08 1)" font-size="24.5" fill="#1a1a40">67</text><text transform="translate(748.8 23.6) scale(1.08 1)" font-size="22.6">Live</text><text transform="translate(748.8 298.2) scale(1.08 1)" font-size="22.6">Live/Dead</text><text transform="translate(695 236) rotate(-90) scale(1.08 1)" font-size="22.6">SSC-A</text><line x1="685.8" y1="289.6" x2="685.8" y2="265.5" stroke="#000" stroke-width="1.3"/><path d="M685.8 256 L690.4 269 L685.8 265.5 L681.2 269 Z" fill="#000"/><line x1="685.2" y1="289" x2="715.3" y2="289" stroke="#000" stroke-width="1.3"/><path d="M724.8 289 L711.8 293.6 L715.3 289 L711.8 284.4 Z" fill="#000"/><line x1="857.5" y1="123" x2="994.5" y2="123" stroke="#000" stroke-width="1.3"/><path d="M1004 123 L991 127.6 L994.5 123 L991 118.4 Z" fill="#000"/><g clip-path="url(#cp4)"><g clip-path="url(#sA4)"><g filter="url(#fA4)"><rect x="1017.7" y="-4.5" width="285.1" height="284.5" fill="#000"/><path d="M1094.6 221.3 L1097.1 202.9 L1116.7 153.8 L1133.9 104.7 L1147.4 59.3" fill="none" stroke="#fff" stroke-width="26" stroke-linecap="round" stroke-linejoin="round" opacity="0.22"/><path d="M1097.1 202.9 L1116.7 153.8 L1136.3 98.6" fill="none" stroke="#fff" stroke-width="14" stroke-linecap="round" stroke-linejoin="round" opacity="0.22"/><ellipse cx="1097.1" cy="202.9" rx="10" ry="14" fill="#fff" opacity="0.45" transform="rotate(15 1097.1 202.9)"/><ellipse cx="1097.1" cy="202.9" rx="6" ry="7" fill="#fff" opacity="0.6"/><ellipse cx="1097.1" cy="202.9" rx="3.5" ry="4" fill="#fff" opacity="0.75"/><path d="M1219.7 147.7 L1219.7 55.7" fill="none" stroke="#fff" stroke-width="22" stroke-linecap="round" stroke-linejoin="round" opacity="0.1"/><ellipse cx="1212.4" cy="201.6" rx="17" ry="24" fill="#fff" opacity="0.42" transform="rotate(18 1212.4 201.6)"/><ellipse cx="1216.3" cy="196.7" rx="8.5" ry="17" fill="#fff" opacity="0.5"/><ellipse cx="1216.3" cy="196.7" rx="4.4" ry="11" fill="#fff"/></g></g></g><path d="M1059 144h0m0 21h0m0 6h0m0 1h0m0 3h0m0 3h0m1-81h0m0 47h0m0 24h0m1-25h0m0 23h0m0 7h0m0 1h0m0 1h0m1-57h0m0 46h0m0 3h0m0 3h0m0 2h0m0 1h0m1-8h0m0 5h0m0 1h0m1-12h0m0 3h0m0 6h0m1-55h0m0 22h0m0 16h0m0 16h0m0 1h0m1-88h0m0 64h0m0 11h0m0 4h0m0 3h0m0 1h0m1-19h0m0 11h0m0 2h0m0 1h0m0 1h0m0 3h0m0 2h0m1-9h0m1 2h0m0 2h0m1-101h0m0 34h0m0 57h0m0 3h0m1-20h0m0 1h0m0 14h0m0 6h0m1-49h0m0 40h0m0 5h0m0 1h0m0 1h0m1-23h0m0 12h0m0 1h0m0 1h0m0 6h0m0 1h0m1-45h0m0 30h0m0 9h0m0 1h0m0 5h0m0 1h0m1-38h0m0 27h0m0 8h0m1-56h0m0 4h0m0 32h0m0 3h0m0 13h0m0 1h0m0 2h0m0 1h0m1-49h0m0 26h0m0 11h0m0 1h0m0 2h0m0 4h0m0 1h0m0 3h0m1-19h0m0 5h0m0 9h0m0 1h0m1-18h0m0 3h0m0 11h0m0 1h0m0 2h0m1-36h0m0 15h0m0 7h0m0 1h0m0 10h0m0 1h0m1-12h0m0 3h0m0 4h0m0 2h0m1-56h0m0 41h0m0 2h0m0 3h0m0 3h0m0 3h0m0 2h0m1-9h0m0 1h0m0 1h0m0 7h0m1-26h0m0 11h0m0 5h0m0 3h0m0 1h0m0 2h0m1-83h0m0 59h0m0 7h0m0 9h0m0 3h0m0 3h0m0 1h0m1-77h0m0 27h0m0 25h0m0 14h0m0 8h0m0 1h0m1-76h0m0 8h0m0 14h0m0 26h0m0 8h0m0 1h0m0 7h0m0 2h0m0 6h0m1-51h0m0 45h0m0 1h0m0 3h0m1-11h0m0 7h0m0 2h0m0 2h0m1-24h0m0 19h0m1-1h0m0 1h0m0 1h0m0 1h0m1-34h0m0 5h0m0 13h0m0 5h0m0 1h0m0 4h0m0 1h0m1-9h0m0 1h0m0 5h0m0 4h0m1-44h0m0 11h0m0 6h0m0 5h0m0 11h0m0 4h0m0 1h0m0 1h0m0 1h0m1-43h0m0 30h0m0 2h0m0 2h0m0 1h0m0 5h0m0 1h0m1-34h0m0 16h0m0 2h0m0 1h0m0 7h0m0 3h0m0 3h0m0 1h0m1-41h0m0 12h0m0 4h0m0 7h0m0 7h0m0 4h0m1-24h0m0 5h0m0 4h0m0 5h0m0 8h0m1-34h0m0 21h0m0 6h0m0 1h0m1-15h0m0 3h0m0 11h0m0 1h0m1-25h0m0 11h0m0 1h0m0 2h0m0 1h0m0 1h0m0 4h0m1-17h0m0 2h0m0 4h0m0 8h0m1-19h0m0 2h0m0 5h0m0 7h0m0 2h0m1-27h0m0 11h0m0 4h0m0 1h0m0 3h0m0 1h0m1-25h0m0 6h0m0 3h0m0 5h0m0 2h0m0 3h0m0 2h0m0 1h0m0 1h0m0 1h0m0 1h0m0 1h0m1-8h0m0 1h0m0 3h0m1-23h0m0 8h0m0 1h0m0 9h0m0 1h0m0 1h0m0 2h0m1-23h0m0 3h0m0 9h0m0 1h0m0 4h0m0 1h0m0 1h0m1-14h0m0 6h0m0 4h0m0 1h0m1-14h0m0 2h0m0 2h0m1-1h0m1-2h0m0 4h0m1-6h0m0 3h0m0 1h0m1-3h0m0 3h0m0 1h0m1-6h0m1 0h0m0 3h0m1-4h0m0 2h0m0 1h0m3-3h0m32 132h0m0 3h0m1-20h0m0 7h0m0 4h0m0 3h0m0 1h0m0 5h0m0 1h0m0 4h0m0 4h0m1-40h0m0 17h0m0 6h0m0 5h0m0 4h0m0 4h0m0 4h0m1-29h0m0 3h0m0 1h0m0 2h0m0 2h0m0 2h0m0 1h0m0 8h0m0 1h0m0 7h0m0 5h0m1-36h0m0 1h0m0 3h0m0 3h0m0 12h0m0 2h0m0 2h0m0 5h0m0 1h0m0 2h0m0 4h0m1-38h0m0 2h0m0 4h0m0 2h0m0 1h0m0 5h0m0 1h0m0 2h0m0 3h0m0 5h0m0 2h0m0 4h0m0 4h0m1-49h0m0 1h0m0 2h0m0 2h0m0 2h0m0 6h0m0 3h0m0 9h0m0 3h0m0 7h0m0 12h0m0 7h0m1-145h0m0 69h0m0 18h0m0 5h0m0 1h0m0 1h0m0 4h0m0 1h0m0 8h0m0 1h0m0 3h0m0 9h0m0 8h0m0 1h0m0 11h0m1-59h0m0 11h0m0 1h0m0 3h0m0 1h0m0 3h0m0 1h0m0 1h0m0 7h0m0 4h0m0 3h0m0 8h0m0 1h0m0 4h0m0 6h0m0 4h0m1-67h0m0 1h0m0 1h0m0 1h0m0 1h0m0 7h0m0 3h0m0 1h0m0 1h0m0 1h0m0 5h0m0 1h0m0 5h0m0 1h0m0 5h0m0 4h0m0 1h0m0 4h0m0 14h0m0 2h0m1-60h0m0 1h0m0 1h0m0 3h0m0 2h0m0 7h0m0 2h0m0 1h0m0 1h0m0 9h0m0 1h0m0 6h0m0 8h0m0 8h0m0 4h0m0 4h0m1-77h0m0 1h0m0 4h0m0 1h0m0 2h0m0 3h0m0 1h0m0 3h0m0 4h0m0 1h0m0 1h0m0 1h0m0 4h0m0 1h0m0 3h0m0 3h0m0 2h0m0 8h0m0 12h0m0 4h0m0 11h0m0 16h0m1-140h0m0 7h0m0 37h0m0 6h0m0 4h0m0 6h0m0 4h0m0 1h0m0 3h0m0 4h0m0 7h0m0 5h0m0 1h0m0 6h0m0 9h0m0 2h0m0 30h0m0 13h0m1-143h0m0 1h0m0 8h0m0 4h0m0 23h0m0 3h0m0 11h0m0 1h0m0 1h0m0 1h0m0 4h0m0 1h0m0 1h0m0 8h0m0 10h0m0 6h0m0 10h0m0 12h0m0 9h0m0 20h0m1-137h0m0 1h0m0 1h0m0 13h0m0 1h0m0 3h0m0 4h0m0 5h0m0 2h0m0 1h0m0 2h0m0 7h0m0 3h0m0 3h0m0 1h0m0 1h0m0 3h0m0 7h0m0 1h0m0 4h0m0 3h0m0 9h0m0 8h0m0 7h0m0 2h0m0 27h0m0 3h0m0 8h0m0 4h0m0 4h0m0 3h0m0 1h0m0 3h0m1-139h0m0 3h0m0 1h0m0 1h0m0 5h0m0 7h0m0 12h0m0 3h0m0 4h0m0 9h0m0 2h0m0 7h0m0 12h0m0 4h0m0 3h0m0 2h0m0 9h0m0 12h0m0 3h0m0 1h0m0 15h0m0 8h0m0 8h0m0 3h0m1-132h0m0 7h0m0 11h0m0 2h0m0 7h0m0 2h0m0 7h0m0 3h0m0 16h0m0 9h0m0 2h0m0 5h0m0 32h0m0 2h0m0 3h0m0 23h0m1-137h0m0 23h0m0 1h0m0 11h0m0 4h0m0 1h0m0 1h0m0 14h0m0 1h0m0 3h0m0 8h0m0 14h0m0 7h0m0 9h0m0 12h0m0 4h0m0 9h0m0 3h0m0 7h0m0 4h0m1-135h0m0 15h0m0 3h0m0 4h0m0 6h0m0 6h0m0 2h0m0 16h0m0 15h0m0 5h0m0 34h0m0 2h0m0 1h0m0 5h0m0 10h0m0 5h0m0 3h0m0 2h0m0 4h0m0 2h0m1-129h0m0 1h0m0 10h0m0 7h0m0 1h0m0 10h0m0 22h0m0 1h0m0 14h0m0 15h0m0 6h0m0 2h0m0 4h0m0 2h0m0 1h0m0 7h0m0 20h0m0 1h0m0 5h0m1-112h0m0 7h0m0 20h0m0 5h0m0 4h0m0 14h0m0 9h0m0 4h0m0 3h0m0 14h0m0 2h0m0 3h0m0 1h0m0 1h0m0 1h0m0 2h0m0 5h0m0 1h0m0 6h0m0 2h0m1-123h0m0 29h0m0 17h0m0 25h0m0 3h0m0 2h0m0 1h0m0 19h0m0 3h0m0 20h0m0 7h0m0 1h0m0 2h0m0 1h0m1-121h0m0 11h0m0 21h0m0 4h0m0 18h0m0 17h0m0 5h0m0 5h0m0 8h0m0 2h0m0 5h0m0 1h0m0 4h0m0 5h0m0 10h0m0 1h0m0 3h0m1-135h0m0 8h0m0 17h0m0 24h0m0 7h0m0 16h0m0 13h0m0 6h0m0 2h0m0 4h0m0 10h0m0 1h0m0 2h0m0 2h0m0 2h0m0 5h0m0 3h0m0 2h0m0 3h0m0 1h0m0 2h0m0 2h0m0 1h0m1-127h0m0 44h0m0 16h0m0 4h0m0 7h0m0 8h0m0 5h0m0 10h0m0 4h0m0 3h0m0 4h0m0 1h0m0 4h0m0 1h0m0 1h0m0 2h0m0 3h0m1-112h0m0 5h0m0 2h0m0 16h0m0 8h0m0 27h0m0 10h0m0 10h0m0 2h0m0 2h0m0 5h0m0 1h0m0 10h0m0 1h0m0 2h0m0 1h0m1-51h0m0 1h0m0 16h0m0 5h0m0 10h0m0 1h0m0 2h0m0 2h0m0 8h0m1-92h0m0 16h0m0 10h0m0 2h0m0 3h0m0 34h0m0 4h0m0 2h0m0 4h0m0 1h0m0 1h0m0 2h0m0 1h0m0 1h0m0 2h0m0 1h0m0 1h0m0 1h0m0 1h0m0 6h0m1-100h0m0 2h0m0 15h0m0 1h0m0 9h0m0 1h0m0 25h0m0 6h0m0 4h0m0 7h0m0 3h0m0 6h0m0 4h0m0 3h0m0 1h0m0 2h0m1-96h0m0 29h0m0 24h0m0 1h0m0 3h0m0 6h0m0 3h0m0 3h0m0 3h0m0 2h0m0 4h0m0 7h0m0 8h0m1-37h0m0 2h0m0 5h0m0 2h0m0 1h0m0 14h0m0 5h0m1-51h0m0 5h0m0 1h0m0 2h0m0 12h0m0 2h0m0 4h0m0 4h0m0 7h0m0 5h0m0 6h0m1-86h0m0 27h0m0 25h0m0 10h0m0 3h0m0 1h0m0 9h0m0 2h0m1-77h0m0 10h0m0 14h0m0 6h0m0 7h0m0 5h0m0 9h0m0 10h0m0 1h0m0 2h0m0 1h0m0 2h0m1-30h0m0 1h0m0 4h0m0 1h0m0 12h0m0 5h0m0 2h0m0 1h0m0 3h0m0 1h0m0 1h0m1-53h0m0 39h0m0 3h0m0 1h0m0 1h0m0 1h0m0 3h0m1-54h0m0 8h0m0 9h0m0 5h0m0 6h0m0 1h0m0 7h0m0 3h0m0 1h0m0 1h0m0 6h0m1-41h0m0 1h0m0 4h0m0 7h0m0 9h0m0 8h0m0 5h0m1-22h0m0 1h0m0 3h0m0 3h0m0 5h0m0 1h0m0 3h0m0 3h0m1-41h0m0 1h0m0 11h0m0 12h0m0 4h0m0 6h0m0 2h0m0 1h0m1-27h0m0 3h0m0 2h0m0 3h0m0 5h0m0 5h0m0 3h0m0 3h0m1-21h0m0 20h0m1-39h0m0 3h0m0 20h0m0 3h0m0 6h0m1-12h0m0 13h0m1-33h0m0 15h0m0 4h0m0 3h0m1-19h0m0 8h0m0 5h0m0 2h0m0 4h0m0 1h0m0 1h0m0 1h0m1-20h0m0 6h0m0 4h0m1-9h0m0 6h0m0 2h0m1-11h0m0 4h0m0 1h0m0 1h0m0 2h0m1-4h0m0 7h0m1-16h0m0 10h0m0 1h0m1-9h0m0 5h0m0 1h0m0 2h0m1-10h0m1 1h0m0 1h0m2-2h0m17 179h0m2 1h0m0 1h0m1-4h0m1-176h0m0 179h0m1-172h0m0 158h0m0 1h0m0 6h0m0 6h0m1-179h0m0 6h0m0 7h0m0 3h0m0 1h0m0 163h0m1-176h0m0 4h0m0 4h0m0 2h0m0 3h0m0 5h0m0 142h0m0 1h0m0 14h0m0 2h0m1-177h0m0 2h0m0 9h0m0 5h0m0 7h0m0 129h0m0 3h0m0 6h0m0 12h0m1-174h0m0 15h0m0 2h0m0 6h0m0 1h0m0 3h0m0 1h0m0 4h0m0 1h0m0 4h0m0 4h0m0 109h0m0 3h0m0 1h0m0 6h0m0 5h0m0 14h0m1-158h0m0 12h0m0 3h0m0 4h0m0 5h0m0 3h0m0 2h0m0 3h0m0 90h0m0 1h0m0 3h0m0 2h0m0 10h0m0 7h0m1-168h0m0 9h0m0 4h0m0 15h0m0 5h0m0 5h0m0 21h0m0 3h0m0 75h0m0 5h0m0 10h0m1-122h0m0 24h0m0 10h0m0 4h0m0 1h0m0 2h0m0 3h0m0 16h0m0 2h0m0 9h0m0 32h0m0 4h0m0 3h0m0 1h0m0 4h0m0 3h0m0 1h0m0 15h0m1-137h0m0 31h0m0 2h0m0 2h0m0 13h0m0 5h0m0 6h0m0 12h0m0 2h0m0 5h0m0 3h0m0 5h0m0 1h0m0 3h0m0 1h0m0 2h0m0 6h0m0 1h0m0 4h0m0 8h0m0 11h0m0 19h0m1-98h0m0 7h0m0 7h0m0 4h0m0 2h0m0 3h0m0 10h0m0 1h0m0 4h0m0 1h0m0 19h0m0 4h0m0 2h0m0 5h0m0 7h0m0 2h0m0 15h0m1-144h0m0 42h0m0 12h0m0 4h0m0 7h0m0 12h0m0 4h0m0 4h0m0 5h0m0 5h0m0 1h0m0 4h0m0 8h0m0 6h0m0 11h0m0 19h0m1-119h0m0 43h0m0 27h0m0 1h0m0 6h0m0 22h0m0 17h0m1-100h0m0 18h0m0 36h0m0 14h0m2-39h0m0 40h0m1-81h0m1 85h0m1-59h0m0 46h0m3-54h0m2 80h0" fill="none" stroke="#1218e0" stroke-width="2" stroke-linecap="square"/><path d="M1061 175h0m1 1h0m0 2h0m1-5h0m1-2h0m0 5h0m0 4h0m1-10h0m0 1h0m0 2h0m1 4h0m1-10h0m1-3h0m0 1h0m0 16h0m1-19h0m0 1h0m0 3h0m2-8h0m0 1h0m0 2h0m0 1h0m0 8h0m1-10h0m1-6h0m0 10h0m0 1h0m1-12h0m1-4h0m0 1h0m0 1h0m1 8h0m1-13h0m0 1h0m0 2h0m0 3h0m0 1h0m1-8h0m0 3h0m0 5h0m1-11h0m0 2h0m0 8h0m5-21h0m0 6h0m0 2h0m1-3h0m1-9h0m0 8h0m1-9h0m0 1h0m1-4h0m0 15h0m1-15h0m0 10h0m1-11h0m0 11h0m1-14h0m0 3h0m0 2h0m1-6h0m0 1h0m0 9h0m1-12h0m1-4h0m0 4h0m0 12h0m1-16h0m0 3h0m0 3h0m1-9h0m0 1h0m1-6h0m0 1h0m0 3h0m0 1h0m1-1h0m0 4h0m0 5h0m1-20h0m0 7h0m1-10h0m0 1h0m0 1h0m0 7h0m1-15h0m0 4h0m0 8h0m1-10h0m1-4h0m0 1h0m0 3h0m1-7h0m0 6h0m1-11h0m0 1h0m0 1h0m0 4h0m1-8h0m0 5h0m0 7h0m1-16h0m0 2h0m0 7h0m1-9h0m0 3h0m0 4h0m0 6h0m1-17h0m0 1h0m0 6h0m1-2h0m1-14h0m0 3h0m0 3h0m2-10h0m0 4h0m0 25h0m1-31h0m0 12h0m1-11h0m1 3h0m0 28h0m1-32h0m0 4h0m1-7h0m0 4h0m1-4h0m0 7h0m1-10h0m0 5h0m1 11h0m1-18h0m0 1h0m0 7h0m3-4h0m17 127h0m1-14h0m2 22h0m1-39h0m2 7h0m0 30h0m0 3h0m1-64h0m0 28h0m0 12h0m0 19h0m0 2h0m0 4h0m1-5h0m0 3h0m0 6h0m0 2h0m1-59h0m0 25h0m0 2h0m0 1h0m0 9h0m1-16h0m0 15h0m0 8h0m0 3h0m0 1h0m0 1h0m1-40h0m0 11h0m0 16h0m0 15h0m0 10h0m1-71h0m0 24h0m0 9h0m0 2h0m0 3h0m0 2h0m1-37h0m0 7h0m0 8h0m0 9h0m0 6h0m0 2h0m1-22h0m0 1h0m0 5h0m0 2h0m0 5h0m0 6h0m1-63h0m0 17h0m0 1h0m0 19h0m0 21h0m1-75h0m0 4h0m0 38h0m0 8h0m0 2h0m0 11h0m1-89h0m0 14h0m0 4h0m0 3h0m0 23h0m0 4h0m0 12h0m0 8h0m0 7h0m0 3h0m1-33h0m0 11h0m0 19h0m0 3h0m1-67h0m0 10h0m0 33h0m0 3h0m0 1h0m0 8h0m0 1h0m1-64h0m0 8h0m0 20h0m0 1h0m0 10h0m0 3h0m0 5h0m0 6h0m0 4h0m0 1h0m1-42h0m0 3h0m0 4h0m0 10h0m0 1h0m0 11h0m0 3h0m1-35h0m0 1h0m0 9h0m0 9h0m0 2h0m0 3h0m0 2h0m0 1h0m1-26h0m0 1h0m0 7h0m0 1h0m0 1h0m10 112h0m1-1h0m0 4h0m1-21h0m0 2h0m0 6h0m0 3h0m1-8h0m0 2h0m0 5h0m0 8h0m1-26h0m0 3h0m0 1h0m0 6h0m0 3h0m0 2h0m0 3h0m0 3h0m1-29h0m0 1h0m0 4h0m0 1h0m0 2h0m0 1h0m0 3h0m0 3h0m0 7h0m1-20h0m0 7h0m0 12h0m1-34h0m0 3h0m0 2h0m0 30h0m0 6h0m1-42h0m0 9h0m0 6h0m0 13h0m0 8h0m0 2h0m0 4h0m1-49h0m0 4h0m0 1h0m0 5h0m1-19h0m0 1h0m0 2h0m0 22h0m0 31h0m1-61h0m0 19h0m1-22h0m0 3h0m0 4h0m0 12h0m0 1h0m0 18h0m1-42h0m0 6h0m0 8h0m0 3h0m1-27h0m0 1h0m0 29h0m0 19h0m1-52h0m0 10h0m1-5h0m0 7h0m1-16h0m0 2h0m0 10h0m1-10h0m1-11h0m0 6h0m0 1h0m0 3h0m0 1h0m0 12h0m1-21h0m1-10h0m0 19h0m0 6h0m0 1h0m1-22h0m1 1h0m0 5h0m0 8h0m0 4h0m1-28h0m0 1h0m0 12h0m1-18h0m1 2h0m0 8h0m1 8h0m2-31h0m0 17h0m1-14h0m0 8h0m0 2h0m1-14h0m0 4h0m0 2h0m0 17h0m1-19h0m0 3h0m1-9h0m1-4h0m0 4h0m0 3h0m2 2h0m6-6h0m1 171h0m1 4h0m1 0h0m2 1h0m1-6h0m1-118h0m0 90h0m0 21h0m0 8h0m0 1h0m0 3h0m1-176h0m0 171h0m1-134h0m0 134h0m1-171h0m0 65h0m0 101h0m1-159h0m0 2h0m0 52h0m0 101h0m1-148h0m0 47h0m0 6h0m1-56h0m0 7h0m0 6h0m0 24h0m0 24h0m0 31h0m1-83h0m0 1h0m0 4h0m0 5h0m0 9h0m1-11h0m0 2h0m0 2h0m0 1h0m0 2h0m0 19h0m0 25h0m0 50h0m0 9h0m0 9h0m0 3h0m0 1h0m1-116h0m0 10h0m0 1h0m0 1h0m0 1h0m0 6h0m0 1h0m0 13h0m0 11h0m0 10h0m0 6h0m0 3h0m0 3h0m0 30h0m0 17h0m1-100h0m0 3h0m0 1h0m0 7h0m0 5h0m0 8h0m0 2h0m0 9h0m0 5h0m0 9h0m0 8h0m0 18h0m0 12h0m0 3h0m0 2h0m1-79h0m0 22h0m0 1h0m0 3h0m0 11h0m0 3h0m0 3h0m0 15h0m0 17h0m1-47h0m0 3h0m0 4h0m0 1h0m0 1h0m0 10h0m0 3h0m0 6h0" fill="none" stroke="#fff" stroke-width="2" stroke-linecap="square"/><path d="M1180.1 38.5 L1224.9 38.5 L1243.6 42.9 L1244.3 212.8 L1224.9 235.9 L1206.3 238.2 L1174.5 233.3 L1170.8 220.3 L1172.7 149.3 Z" fill="none" stroke="#101018" stroke-width="1.5" stroke-linejoin="round"/><rect x="1057.7" y="35.5" width="205.1" height="204.5" fill="none" stroke="#000" stroke-width="1.3"/><text transform="translate(1088.7 265.5) scale(1.08 1)" font-size="19.2" text-anchor="middle">0</text><text transform="translate(1147.7 265.5) scale(1.08 1)" font-size="19.2" text-anchor="middle">10<tspan dy="-7.7" font-size="11.1">3</tspan></text><text transform="translate(1196.7 265.5) scale(1.08 1)" font-size="19.2" text-anchor="middle">10<tspan dy="-7.7" font-size="11.1">4</tspan></text><text transform="translate(1243.7 265.5) scale(1.08 1)" font-size="19.2" text-anchor="middle">10<tspan dy="-7.7" font-size="11.1">5</tspan></text><text transform="translate(1048.2 246) scale(1.08 1)" font-size="19.2" text-anchor="end">0</text><text transform="translate(1048.2 207.2) scale(1.08 1)" font-size="19.2" text-anchor="end">50</text><text transform="translate(1048.2 168.4) scale(1.08 1)" font-size="19.2" text-anchor="end">100</text><text transform="translate(1048.2 129.6) scale(1.08 1)" font-size="19.2" text-anchor="end">150</text><text transform="translate(1048.2 90.8) scale(1.08 1)" font-size="19.2" text-anchor="end">200</text><text transform="translate(1048.2 52) scale(1.08 1)" font-size="19.2" text-anchor="end">250K</text><path d="M1088.7 240v6M1145.7 240v6M1194.7 240v6M1241.7 240v6M1160.5 240v3M1169.1 240v3M1175.2 240v3M1179.9 240v3M1183.8 240v3M1187.1 240v3M1190 240v3M1192.5 240v3M1208.8 240v3M1217.1 240v3M1223 240v3M1227.6 240v3M1231.3 240v3M1234.4 240v3M1237.1 240v3M1239.5 240v3M1255.8 240v3M1102.4 240v3M1112.8 240v3M1120.4 240v3M1126.2 240v3M1130.8 240v3M1134.7 240v3M1138 240v3M1140.9 240v3M1143.4 240v3M1075 240v3M1064.6 240v3M1079.2 240v4.5M1081.2 240v4.5M1083.2 240v4.5M1085.2 240v4.5M1087.2 240v4.5M1089.2 240v4.5M1091.2 240v4.5M1093.2 240v4.5M1095.2 240v4.5M1097.2 240v4.5M1099.2 240v4.5M1057.7 239h-6M1057.7 231.2h-3M1057.7 223.5h-3M1057.7 215.7h-3M1057.7 208h-3M1057.7 200.2h-6M1057.7 192.4h-3M1057.7 184.7h-3M1057.7 176.9h-3M1057.7 169.2h-3M1057.7 161.4h-6M1057.7 153.6h-3M1057.7 145.9h-3M1057.7 138.1h-3M1057.7 130.4h-3M1057.7 122.6h-6M1057.7 114.8h-3M1057.7 107.1h-3M1057.7 99.3h-3M1057.7 91.6h-3M1057.7 83.8h-6M1057.7 76h-3M1057.7 68.3h-3M1057.7 60.5h-3M1057.7 52.8h-3M1057.7 45h-6M1057.7 37.2h-3" stroke="#000" stroke-width="1" fill="none"/><rect x="1183.1" y="125.1" width="33" height="23" fill="#b4b4ff" opacity="0.82"/><text transform="translate(1186.1 144.9) scale(1.08 1)" font-size="24.5" fill="#1a1a40">51</text><text transform="translate(1058.5 23.6) scale(1.08 1)" font-size="22.6">CD45<tspan dy="-8.1" font-size="13.6">+</tspan></text><text transform="translate(1058.5 298.2) scale(1.08 1)" font-size="22.6">CD45-FITC</text><text transform="translate(1004 236) rotate(-90) scale(1.08 1)" font-size="22.6">SSC-A</text><line x1="995.3" y1="289.6" x2="995.3" y2="265.5" stroke="#000" stroke-width="1.3"/><path d="M995.3 256 L999.9 269 L995.3 265.5 L990.7 269 Z" fill="#000"/><line x1="994.7" y1="289" x2="1024.8" y2="289" stroke="#000" stroke-width="1.3"/><path d="M1034.3 289 L1021.3 293.6 L1024.8 289 L1021.3 284.4 Z" fill="#000"/></g><g id="panel_A_bottom"><g clip-path="url(#cp5)"><g filter="url(#fA5)"><rect x="80.4" y="346.2" width="285.1" height="284.5" fill="#000"/><ellipse cx="152.3" cy="459.7" rx="22" ry="37" fill="#fff" opacity="0.28"/><ellipse cx="152.3" cy="459.7" rx="17.2" ry="28.9" fill="#fff" opacity="0.3"/><ellipse cx="152.3" cy="459.7" rx="12.8" ry="21.5" fill="#fff" opacity="0.36"/><ellipse cx="152.3" cy="459.7" rx="8.8" ry="14.8" fill="#fff" opacity="0.42"/><ellipse cx="152.3" cy="459.7" rx="4.8" ry="8.1" fill="#fff" opacity="0.5"/><ellipse cx="156" cy="543.2" rx="19" ry="29" fill="#fff" opacity="0.28"/><ellipse cx="156" cy="543.2" rx="14.8" ry="22.6" fill="#fff" opacity="0.3"/><ellipse cx="156" cy="543.2" rx="11" ry="16.8" fill="#fff" opacity="0.36"/><ellipse cx="156" cy="543.2" rx="7.6" ry="11.6" fill="#fff" opacity="0.42"/><ellipse cx="156" cy="543.2" rx="4.2" ry="6.4" fill="#fff" opacity="0.5"/><path d="M150.5 497.8 L152.9 514.9" fill="none" stroke="#fff" stroke-width="16" stroke-linecap="round" stroke-linejoin="round" opacity="0.2"/><path d="M165.2 502.7 L183.6 514.9" fill="none" stroke="#fff" stroke-width="10" stroke-linecap="round" stroke-linejoin="round" opacity="0.2"/><ellipse cx="211.8" cy="540.7" rx="36" ry="38" fill="#fff" opacity="0.28"/><ellipse cx="211.8" cy="540.7" rx="28.1" ry="29.6" fill="#fff" opacity="0.3"/><ellipse cx="211.8" cy="540.7" rx="20.9" ry="22" fill="#fff" opacity="0.36"/><ellipse cx="211.8" cy="540.7" rx="14.4" ry="15.2" fill="#fff" opacity="0.42"/><ellipse cx="211.8" cy="540.7" rx="7.9" ry="8.4" fill="#fff" opacity="0.5"/><ellipse cx="214.8" cy="552.7" rx="30" ry="22" fill="#fff" opacity="0.2"/><path d="M171.3 551.7 L183.6 549.3" fill="none" stroke="#fff" stroke-width="16" stroke-linecap="round" stroke-linejoin="round" opacity="0.3"/></g></g><ellipse cx="152.3" cy="459.7" rx="16" ry="29" fill="#000" opacity="0.42" style="filter:blur(3px)"/><rect x="124.5" y="417.4" width="56.1" height="81" fill="#a9d8b4" style="mix-blend-mode:multiply"/><rect x="124.5" y="417.4" width="56.1" height="81" fill="#0a3015" style="mix-blend-mode:screen"/><rect x="124.5" y="417.4" width="56.1" height="81" fill="none" stroke="#111" stroke-width="1.5"/><path d="M127 473h0m0 115h0m1-39h0m2 34h0m1-142h0m0 13h0m0 7h0m0 1h0m0 2h0m0 7h0m1-4h0m0 1h0m0 7h0m0 4h0m1 72h0m1-113h0m0 44h0m0 47h0m0 5h0m0 17h0m1-114h0m0 100h0m0 29h0m1-42h0m0 25h0m0 11h0m1-126h0m0 1h0m0 92h0m1-94h0m0 54h0m0 83h0m0 10h0m1-91h0m0 71h0m1-67h0m0 1h0m0 75h0m1-53h0m0 5h0m1-7h0m0 54h0m0 5h0m1-147h0m1-2h0m0 69h0m0 2h0m0 1h0m0 74h0m1-155h0m1 84h0m0 1h0m0 6h0m0 10h0m0 1h0m1-12h0m0 67h0m1-59h0m1-4h0m0 5h0m0 51h0m0 15h0m2-157h0m0 82h0m0 78h0m1-161h0m0 1h0m0 152h0m1-152h0m0 143h0m1-69h0m1-77h0m0 145h0m2-141h0m0 150h0m1-77h0m0 76h0m1-148h0m0 75h0m1 76h0m1-70h0m1-82h0m0 71h0m0 86h0m1-74h0m1-13h0m0 48h0m0 23h0m1-140h0m0 65h0m0 53h0m1-52h0m0 25h0m1-82h0m0 73h0m1-15h0m0 18h0m0 36h0m0 32h0m1-141h0m0 138h0m1-27h0m0 5h0m0 14h0m1-28h0m0 33h0m1-147h0m0 15h0m0 31h0m0 10h0m0 7h0m1-48h0m0 3h0m0 4h0m0 23h0m0 2h0m0 56h0m0 1h0m0 7h0m1-84h0m0 9h0m0 2h0m0 50h0m0 28h0m0 19h0m0 1h0m1-116h0m0 2h0m0 3h0m0 7h0m0 8h0m0 47h0m0 9h0m1-77h0m0 12h0m0 99h0m0 8h0m0 2h0m0 23h0m1-128h0m1 60h0m0 5h0m0 24h0m0 2h0m0 14h0m1-19h0m1-12h0m0 4h0m0 15h0m0 17h0m1-52h0m0 1h0m1-6h0m1-1h0m1 0h0m0 58h0m1-60h0m0 4h0m0 54h0m0 1h0m0 1h0m0 1h0m1-74h0m0 9h0m1 69h0m1-71h0m0 67h0m1 2h0m1-141h0m0 69h0m1 77h0m1-5h0m1-132h0m0 57h0m1-48h0m1 126h0m1-144h0m0 147h0m0 9h0m2-134h0m0 11h0m0 36h0m1-52h0m1 133h0m1-82h0m0 79h0m1 1h0m1-79h0m0 80h0m2-79h0m1-4h0m0 3h0m1-62h0m0 18h0m2 42h0m0 76h0m0 7h0m1-82h0m1 1h0m0 79h0m1-144h0m0 59h0m0 6h0m1-2h0m0 88h0m1-87h0m5 1h0m0 1h0m0 85h0m1-116h0m1-16h0m0 113h0m0 14h0m1-121h0m0 42h0m4-24h0m0 103h0m1-80h0m1 2h0m1-46h0m0 44h0m1-73h0m2 71h0m0 6h0m1-45h0m0 46h0m0 27h0m0 42h0m1-51h0m0 18h0m0 32h0m1-98h0m0 39h0m0 9h0m0 9h0m0 41h0m1-108h0m0 65h0m1-8h0m1-84h0m0 24h0m0 51h0m0 1h0m0 28h0m1-14h0m0 39h0m1-57h0m0 4h0m1 9h0m0 8h0m0 4h0m1-22h0m0 20h0m0 10h0m0 25h0m1-35h0m1-22h0m0 48h0m0 15h0m1-58h0m1 0h0m0 2h0m0 5h0m0 25h0m1-36h0m0 39h0m0 1h0m1-20h0m0 6h0m0 8h0m1-31h0m0 18h0m0 9h0m0 16h0m0 5h0m1-44h0m0 4h0m0 13h0m1-17h0m0 17h0m1-10h0m0 1h0m0 7h0m0 8h0m0 11h0m2-20h0m0 29h0m1-31h0" fill="none" stroke="#111" stroke-width="2.3" stroke-linecap="square"/><rect x="179.3" y="505.7" width="93.5" height="71.4" fill="none" stroke="#000" stroke-width="1.6"/><rect x="120.4" y="386.2" width="205.1" height="204.5" fill="none" stroke="#000" stroke-width="1.3"/><text transform="translate(151.4 616.2) scale(1.08 1)" font-size="19.2" text-anchor="middle">0</text><text transform="translate(210.4 616.2) scale(1.08 1)" font-size="19.2" text-anchor="middle">10<tspan dy="-7.7" font-size="11.1">3</tspan></text><text transform="translate(259.4 616.2) scale(1.08 1)" font-size="19.2" text-anchor="middle">10<tspan dy="-7.7" font-size="11.1">4</tspan></text><text transform="translate(306.4 616.2) scale(1.08 1)" font-size="19.2" text-anchor="middle">10<tspan dy="-7.7" font-size="11.1">5</tspan></text><text transform="translate(110.4 568.7) scale(1.08 1)" font-size="19.2" text-anchor="end">0</text><text transform="translate(112.4 510.7) scale(1.08 1)" font-size="19.2" text-anchor="end">10<tspan dy="-7.7" font-size="11.1">3</tspan></text><text transform="translate(112.4 459.7) scale(1.08 1)" font-size="19.2" text-anchor="end">10<tspan dy="-7.7" font-size="11.1">4</tspan></text><text transform="translate(112.4 409.2) scale(1.08 1)" font-size="19.2" text-anchor="end">10<tspan dy="-7.7" font-size="11.1">5</tspan></text><path d="M151.4 590.7v6M208.4 590.7v6M257.4 590.7v6M304.4 590.7v6M223.2 590.7v3M231.8 590.7v3M237.9 590.7v3M242.6 590.7v3M246.5 590.7v3M249.8 590.7v3M252.7 590.7v3M255.2 590.7v3M271.5 590.7v3M279.8 590.7v3M285.7 590.7v3M290.3 590.7v3M294 590.7v3M297.1 590.7v3M299.8 590.7v3M302.2 590.7v3M318.5 590.7v3M165.1 590.7v3M175.5 590.7v3M183.1 590.7v3M188.9 590.7v3M193.5 590.7v3M197.4 590.7v3M200.7 590.7v3M203.6 590.7v3M206.1 590.7v3M137.7 590.7v3M127.3 590.7v3M141.9 590.7v4.5M143.9 590.7v4.5M145.9 590.7v4.5M147.9 590.7v4.5M149.9 590.7v4.5M151.9 590.7v4.5M153.9 590.7v4.5M155.9 590.7v4.5M157.9 590.7v4.5M159.9 590.7v4.5M161.9 590.7v4.5M120.4 561.7h-6M120.4 502.7h-6M120.4 451.7h-6M120.4 401.2h-6M120.4 487.3h-3M120.4 478.4h-3M120.4 472h-3M120.4 467.1h-3M120.4 463h-3M120.4 459.6h-3M120.4 456.6h-3M120.4 454h-3M120.4 436.5h-3M120.4 427.6h-3M120.4 421.3h-3M120.4 416.4h-3M120.4 412.4h-3M120.4 409h-3M120.4 406.1h-3M120.4 403.5h-3M120.4 386h-3M120.4 547.5h-3M120.4 536.7h-3M120.4 528.9h-3M120.4 522.9h-3M120.4 518.1h-3M120.4 514.1h-3M120.4 510.7h-3M120.4 507.7h-3M120.4 505.1h-3M120.4 575.9h-3M120.4 586.7h-3M120.4 571.2h-4.5M120.4 569.2h-4.5M120.4 567.2h-4.5M120.4 565.2h-4.5M120.4 563.2h-4.5M120.4 561.2h-4.5M120.4 559.2h-4.5M120.4 557.2h-4.5M120.4 555.2h-4.5M120.4 553.2h-4.5M120.4 551.2h-4.5" stroke="#000" stroke-width="1" fill="none"/><text transform="translate(131.5 410.7) scale(1.08 1)" font-size="24.5">31</text><text transform="translate(276.8 554.8) scale(1.08 1)" font-size="24.5">47</text><text transform="translate(192.2 423.5) scale(1.08 1)" font-size="24" fill="#43a063">γδ T cells</text><text transform="translate(212.4 493.5) scale(1.08 1)" font-size="24">αβ T cells</text><text transform="translate(120.4 374) scale(1.08 1)" font-size="22.6">Gated on CD45<tspan dy="-8.1" font-size="13.6">+</tspan><tspan dy="8.1"></tspan></text><text transform="translate(112 642.8) scale(1.08 1)" font-size="22.6">TCRβ-BUV396</text><text transform="translate(68.3 591.5) rotate(-90) scale(1.08 1)" font-size="22.6">TCRγδ-PerCP-Cy5.5</text><line x1="56.7" y1="637.6" x2="56.7" y2="616.5" stroke="#000" stroke-width="1.3"/><path d="M56.7 607 L61.3 620 L56.7 616.5 L52.1 620 Z" fill="#000"/><line x1="56.1" y1="637" x2="84.2" y2="637" stroke="#000" stroke-width="1.3"/><path d="M93.7 637 L80.7 641.6 L84.2 637 L80.7 632.4 Z" fill="#000"/><g clip-path="url(#cp6)"><g filter="url(#fA6)"><rect x="394.2" y="346.2" width="285.1" height="284.5" fill="#000"/><path d="M453.2 441.3 L459.3 431.5 L474.1 427.8 L493.7 427.2 L510.9 431.5 L518.2 438.9 L519.5 451.1 L515.8 463.4 L509.6 475.7 L501.1 487.9 L493.7 492.9 L483.9 490.4 L474.1 483 L464.3 470.8 L456.9 456.1 Z" fill="#fff" opacity="0.3"/><path d="M466.7 442.6 L486.3 441.3 L507.2 445" fill="none" stroke="#fff" stroke-width="15" stroke-linecap="round" stroke-linejoin="round" opacity="0.6"/><path d="M493.7 490.4 L494.3 502.7 L493.7 514.9" fill="none" stroke="#fff" stroke-width="14" stroke-linecap="round" stroke-linejoin="round" opacity="0.15"/><path d="M461.8 545.6 L465.5 533.3 L476.5 524.7 L490 516.2 L501.1 514.9 L510.9 522.3 L516.4 534.6 L517 551.7 L513.3 564 L503.5 571.4 L488.8 572.6 L474.1 568.9 L464.3 559.1 Z" fill="#fff" opacity="0.2"/><ellipse cx="497.4" cy="545.6" rx="21" ry="23" fill="#fff" opacity="0.126"/><ellipse cx="497.4" cy="545.6" rx="16.4" ry="17.9" fill="#fff" opacity="0.135"/><ellipse cx="497.4" cy="545.6" rx="12.2" ry="13.3" fill="#fff" opacity="0.162"/><ellipse cx="497.4" cy="545.6" rx="8.4" ry="9.2" fill="#fff" opacity="0.189"/><ellipse cx="497.4" cy="545.6" rx="4.6" ry="5.1" fill="#fff" opacity="0.225"/><path d="M559.9 518.6 L569.7 514.9 L579.6 521.1 L585.7 533.3 L588.2 551.7 L584.5 567.7 L575.9 578.7 L567.3 578.7 L557.5 570.1 L551.3 555.4 L550.1 539.5 L553.8 527.2 Z" fill="#fff" opacity="0.45"/><path d="M569.7 527.2 L569.7 570.1" fill="none" stroke="#fff" stroke-width="9" stroke-linecap="round" stroke-linejoin="round" opacity="0.5"/><ellipse cx="571" cy="502.7" rx="10" ry="16" fill="#fff" opacity="0.126"/><ellipse cx="571" cy="502.7" rx="7.8" ry="12.5" fill="#fff" opacity="0.135"/><ellipse cx="571" cy="502.7" rx="5.8" ry="9.3" fill="#fff" opacity="0.162"/><ellipse cx="571" cy="502.7" rx="4" ry="6.4" fill="#fff" opacity="0.189"/><ellipse cx="571" cy="502.7" rx="2.2" ry="3.5" fill="#fff" opacity="0.225"/></g></g><path d="M441 454h0m3-11h0m1 14h0m1-11h0m1-7h0m0 12h0m8 10h0m0 1h0m0 125h0m1-153h0m0 28h0m1-30h0m1 33h0m3 51h0m1-51h0m0 38h0m0 4h0m0 49h0m1-62h0m0 81h0m1-107h0m0 34h0m0 6h0m1-80h0m1 81h0m0 1h0m1-42h0m0 28h0m0 10h0m1-15h0m1 16h0m0 1h0m0 9h0m0 54h0m1-64h0m0 8h0m0 48h0m1-53h0m0 4h0m1-91h0m0 81h0m0 14h0m1 5h0m1-20h0m0 14h0m1 5h0m1-27h0m0 27h0m2-97h0m2 68h0m0 8h0m1-32h0m0 45h0m0 10h0m5-53h0m1-45h0m0 140h0m5-8h0m1 2h0m1-134h0m1 0h0m0 43h0m2 3h0m1-44h0m2-2h0m0 3h0m1 37h0m1-37h0m0 38h0m3 108h0m1-146h0m1 36h0m1-40h0m1 140h0m1-135h0m1 3h0m0 32h0m1-2h0m1-2h0m1-1h0m2 15h0m2-21h0m1-15h0m0 17h0m1-11h0m0 34h0m0 49h0m1-3h0m1-73h0m0 120h0m1-132h0m0 5h0m0 4h0m0 28h0m1-37h0m0 12h0m2-8h0m0 32h0m1-35h0m0 2h0m1-2h0m0 2h0m0 2h0m0 45h0m4-38h0m0 27h0m0 30h0m1-64h0m1-10h0m0 9h0m0 141h0m1-92h0m1-37h0m1-7h0m0 6h0m0 95h0m1-14h0m1-85h0m1-9h0m0 30h0m2 104h0m1-92h0m1-6h0m0 73h0m1-94h0m0 83h0m0 20h0m1-108h0m0 3h0m0 100h0m1-101h0m0 70h0m0 44h0m1-127h0m0 15h0m0 99h0m1-110h0m0 3h0m0 92h0m0 5h0m0 2h0m1-104h0m0 80h0m0 15h0m0 5h0m1-102h0m0 128h0m1-37h0m1-96h0m0 89h0m0 3h0m0 3h0m0 39h0m0 2h0m1-136h0m0 138h0m1-6h0m0 3h0m0 2h0m1-52h0m0 42h0m2-125h0m2 85h0m1-88h0m0 87h0m0 57h0m1-142h0m1 82h0m0 46h0m0 13h0m1-96h0m1 8h0m0 26h0m0 1h0m0 2h0m0 63h0m1 4h0m1-69h0m0 1h0m1-75h0m0 12h0m0 64h0m1 1h0m1-73h0m1-12h0m0 83h0m0 2h0m0 1h0m1-66h0m0 1h0m1-10h0m0 135h0m1-59h0m0 52h0m0 9h0m2-129h0m0 39h0m0 25h0m0 61h0m0 4h0m1-134h0m0 44h0m0 21h0m1 42h0m0 22h0m1-143h0m0 141h0m1-126h0m1-3h0m0 116h0m0 16h0m1-140h0m0 84h0m0 50h0m0 2h0m1-63h0m0 11h0m1-41h0m1 88h0m1-42h0m0 4h0m0 40h0m1-97h0m0 33h0m0 25h0m0 35h0m1-37h0m0 33h0m0 3h0m1-81h0m0 24h0m0 20h0m0 34h0m0 3h0m1-33h0m0 2h0m0 6h0m0 2h0m1-9h0m0 23h0m1-17h0m0 23h0m1-83h0m0 83h0m2-71h0" fill="none" stroke="#111" stroke-width="2.3" stroke-linecap="square"/><rect x="446.1" y="418.9" width="75" height="160.5" fill="none" stroke="#000" stroke-width="1.6"/><rect x="548" y="514.8" width="47" height="65.3" fill="none" stroke="#000" stroke-width="1.6"/><rect x="434.2" y="386.2" width="205.1" height="204.5" fill="none" stroke="#000" stroke-width="1.3"/><text transform="translate(465.2 616.2) scale(1.08 1)" font-size="19.2" text-anchor="middle">0</text><text transform="translate(524.2 616.2) scale(1.08 1)" font-size="19.2" text-anchor="middle">10<tspan dy="-7.7" font-size="11.1">3</tspan></text><text transform="translate(573.2 616.2) scale(1.08 1)" font-size="19.2" text-anchor="middle">10<tspan dy="-7.7" font-size="11.1">4</tspan></text><text transform="translate(620.2 616.2) scale(1.08 1)" font-size="19.2" text-anchor="middle">10<tspan dy="-7.7" font-size="11.1">5</tspan></text><text transform="translate(424.2 568.7) scale(1.08 1)" font-size="19.2" text-anchor="end">0</text><text transform="translate(426.2 510.7) scale(1.08 1)" font-size="19.2" text-anchor="end">10<tspan dy="-7.7" font-size="11.1">3</tspan></text><text transform="translate(426.2 459.7) scale(1.08 1)" font-size="19.2" text-anchor="end">10<tspan dy="-7.7" font-size="11.1">4</tspan></text><text transform="translate(426.2 409.2) scale(1.08 1)" font-size="19.2" text-anchor="end">10<tspan dy="-7.7" font-size="11.1">5</tspan></text><path d="M465.2 590.7v6M522.2 590.7v6M571.2 590.7v6M618.2 590.7v6M537 590.7v3M545.6 590.7v3M551.7 590.7v3M556.4 590.7v3M560.3 590.7v3M563.6 590.7v3M566.5 590.7v3M569 590.7v3M585.3 590.7v3M593.6 590.7v3M599.5 590.7v3M604.1 590.7v3M607.8 590.7v3M610.9 590.7v3M613.6 590.7v3M616 590.7v3M632.3 590.7v3M478.9 590.7v3M489.3 590.7v3M496.9 590.7v3M502.7 590.7v3M507.3 590.7v3M511.2 590.7v3M514.5 590.7v3M517.4 590.7v3M519.9 590.7v3M451.5 590.7v3M441.1 590.7v3M455.7 590.7v4.5M457.7 590.7v4.5M459.7 590.7v4.5M461.7 590.7v4.5M463.7 590.7v4.5M465.7 590.7v4.5M467.7 590.7v4.5M469.7 590.7v4.5M471.7 590.7v4.5M473.7 590.7v4.5M475.7 590.7v4.5M434.2 561.7h-6M434.2 502.7h-6M434.2 451.7h-6M434.2 401.2h-6M434.2 487.3h-3M434.2 478.4h-3M434.2 472h-3M434.2 467.1h-3M434.2 463h-3M434.2 459.6h-3M434.2 456.6h-3M434.2 454h-3M434.2 436.5h-3M434.2 427.6h-3M434.2 421.3h-3M434.2 416.4h-3M434.2 412.4h-3M434.2 409h-3M434.2 406.1h-3M434.2 403.5h-3M434.2 386h-3M434.2 547.5h-3M434.2 536.7h-3M434.2 528.9h-3M434.2 522.9h-3M434.2 518.1h-3M434.2 514.1h-3M434.2 510.7h-3M434.2 507.7h-3M434.2 505.1h-3M434.2 575.9h-3M434.2 586.7h-3M434.2 571.2h-4.5M434.2 569.2h-4.5M434.2 567.2h-4.5M434.2 565.2h-4.5M434.2 563.2h-4.5M434.2 561.2h-4.5M434.2 559.2h-4.5M434.2 557.2h-4.5M434.2 555.2h-4.5M434.2 553.2h-4.5M434.2 551.2h-4.5" stroke="#000" stroke-width="1" fill="none"/><text transform="translate(446.1 410.3) scale(1.08 1)" font-size="24.5">56</text><text transform="translate(599.2 565.9) scale(1.08 1)" font-size="24.5">41</text><text transform="translate(497.6 411.4) scale(1.08 1)" font-size="24">CD4<tspan dy="-8.6" font-size="14.4">−</tspan><tspan dy="8.6"> T cells</tspan></text><text transform="translate(530.9 479.3) scale(1.08 1)" font-size="24">CD4<tspan dy="-8.6" font-size="14.4">+</tspan><tspan dy="8.6"> T cells</tspan></text><text transform="translate(426.7 374) scale(1.08 1)" font-size="22.6">Gated on αβ T cells</text><text transform="translate(425.6 642.8) scale(1.08 1)" font-size="22.6">CD4-BUV496</text><text transform="translate(382.7 591.5) rotate(-90) scale(1.08 1)" font-size="22.6">CD8β-BV711</text><line x1="370.7" y1="637.6" x2="370.7" y2="616.5" stroke="#000" stroke-width="1.3"/><path d="M370.7 607 L375.3 620 L370.7 616.5 L366.1 620 Z" fill="#000"/><line x1="370.1" y1="637" x2="398.2" y2="637" stroke="#000" stroke-width="1.3"/><path d="M407.7 637 L394.7 641.6 L398.2 637 L394.7 632.4 Z" fill="#000"/><g clip-path="url(#cp7)"><g filter="url(#fA7)"><rect x="707" y="346.2" width="285.1" height="284.5" fill="#000"/><ellipse cx="788.9" cy="481.2" rx="29" ry="29" fill="#fff" opacity="0.224"/><ellipse cx="788.9" cy="481.2" rx="22.6" ry="22.6" fill="#fff" opacity="0.24"/><ellipse cx="788.9" cy="481.2" rx="16.8" ry="16.8" fill="#fff" opacity="0.288"/><ellipse cx="788.9" cy="481.2" rx="11.6" ry="11.6" fill="#fff" opacity="0.336"/><ellipse cx="788.9" cy="481.2" rx="6.4" ry="6.4" fill="#fff" opacity="0.4"/><path d="M788.9 505.5 L788.9 516.7" fill="none" stroke="#fff" stroke-width="18" stroke-linecap="round" stroke-linejoin="round" opacity="0.15"/><path d="M814.3 479.3 L844.1 479.3 L866.5 474.9" fill="none" stroke="#fff" stroke-width="8" stroke-linecap="round" stroke-linejoin="round" opacity="0.4"/><ellipse cx="885.9" cy="468.9" rx="31" ry="15" fill="#fff" opacity="0.28" transform="rotate(-25 885.9 468.9)"/><ellipse cx="885.9" cy="468.9" rx="24.2" ry="11.7" fill="#fff" opacity="0.3" transform="rotate(-25 885.9 468.9)"/><ellipse cx="885.9" cy="468.9" rx="18" ry="8.7" fill="#fff" opacity="0.36" transform="rotate(-25 885.9 468.9)"/><ellipse cx="885.9" cy="468.9" rx="12.4" ry="6" fill="#fff" opacity="0.42" transform="rotate(-25 885.9 468.9)"/><ellipse cx="885.9" cy="468.9" rx="6.8" ry="3.3" fill="#fff" opacity="0.5" transform="rotate(-25 885.9 468.9)"/></g></g><rect x="756.4" y="440.9" width="63.1" height="69.8" fill="#b4c4e4" style="mix-blend-mode:multiply"/><rect x="756.4" y="440.9" width="63.1" height="69.8" fill="#2a3a5e" style="mix-blend-mode:screen"/><rect x="756.4" y="440.9" width="63.1" height="69.8" fill="none" stroke="#222" stroke-width="1.2"/><path d="M751 558h0m1-7h0m4-31h0m1-6h0m0 38h0m1-32h0m0 6h0m1-69h0m3 68h0m1 16h0m1-2h0m1-79h0m0 74h0m0 14h0m0 11h0m2-106h0m0 66h0m0 32h0m1 0h0m0 2h0m2 20h0m1-109h0m0 58h0m0 15h0m0 12h0m1-94h0m0 61h0m0 8h0m0 4h0m0 20h0m1-37h0m0 5h0m0 46h0m2-101h0m0 68h0m0 11h0m0 7h0m0 1h0m1-31h0m0 29h0m1 23h0m0 4h0m1-40h0m0 11h0m0 5h0m1-20h0m0 12h0m0 1h0m1-3h0m0 11h0m0 4h0m0 16h0m1-50h0m1-63h0m0 75h0m1 3h0m0 7h0m1-3h0m0 6h0m0 13h0m0 3h0m1-38h0m0 3h0m1 0h0m1-63h0m0 60h0m0 20h0m0 19h0m1-20h0m0 3h0m0 14h0m1-36h0m0 11h0m0 1h0m0 12h0m1-27h0m0 24h0m1 31h0m1-47h0m0 5h0m0 5h0m0 6h0m1-88h0m0 91h0m1-21h0m0 41h0m1-35h0m0 3h0m1-74h0m0 2h0m0 62h0m0 15h0m1-4h0m0 14h0m1-90h0m0 55h0m0 8h0m0 7h0m0 21h0m0 11h0m1-47h0m0 14h0m0 22h0m1-90h0m0 80h0m1 8h0m1 8h0m1-15h0m1 6h0m1-91h0m0 78h0m0 17h0m1-28h0m0 14h0m0 11h0m0 5h0m0 11h0m2-42h0m0 30h0m1-22h0m0 25h0m2-20h0m0 7h0m0 14h0m2-5h0m0 4h0m1-31h0m0 6h0m1 32h0m1-22h0m0 10h0m2 3h0m1-79h0m1-11h0m1 6h0m0 17h0m0 19h0m0 46h0m1-37h0m1-52h0m0 4h0m0 49h0m2 16h0m2-70h0m3 11h0m0 9h0m0 31h0m1 24h0m1-21h0m1 16h0m0 15h0m1-63h0m2-5h0m0 5h0m0 10h0m1-6h0m0 38h0m1-67h0m2 13h0m2 21h0m3-2h0m4 3h0m0 84h0m1-104h0m3 10h0m0 8h0m1 19h0m4-40h0m0 1h0m0 10h0m2-6h0m0 10h0m1-17h0m0 18h0m0 1h0m3-23h0m1 6h0m2-8h0m2 23h0m1 15h0m1-11h0m2-15h0m1-18h0m0 15h0m1 17h0m1-32h0m1 44h0m1-12h0m0 19h0m2-52h0m2 32h0m1 2h0m0 17h0m1-26h0m1-28h0m1 33h0m2 18h0m1-18h0m0 15h0m3-51h0m1 33h0m4-34h0m1 1h0m0 1h0m1 29h0m2-31h0m4 2h0m0 26h0m2-2h0m1-22h0m2 19h0m1-20h0m1 17h0m1-6h0m3-8h0" fill="none" stroke="#111" stroke-width="2.3" stroke-linecap="square"/><rect x="857.9" y="436.8" width="63.8" height="60.1" fill="none" stroke="#000" stroke-width="1.6"/><rect x="747" y="386.2" width="205.1" height="204.5" fill="none" stroke="#000" stroke-width="1.3"/><text transform="translate(778 616.2) scale(1.08 1)" font-size="19.2" text-anchor="middle">0</text><text transform="translate(837 616.2) scale(1.08 1)" font-size="19.2" text-anchor="middle">10<tspan dy="-7.7" font-size="11.1">3</tspan></text><text transform="translate(886 616.2) scale(1.08 1)" font-size="19.2" text-anchor="middle">10<tspan dy="-7.7" font-size="11.1">4</tspan></text><text transform="translate(933 616.2) scale(1.08 1)" font-size="19.2" text-anchor="middle">10<tspan dy="-7.7" font-size="11.1">5</tspan></text><text transform="translate(737 568.7) scale(1.08 1)" font-size="19.2" text-anchor="end">0</text><text transform="translate(739 510.7) scale(1.08 1)" font-size="19.2" text-anchor="end">10<tspan dy="-7.7" font-size="11.1">3</tspan></text><text transform="translate(739 459.7) scale(1.08 1)" font-size="19.2" text-anchor="end">10<tspan dy="-7.7" font-size="11.1">4</tspan></text><text transform="translate(739 409.2) scale(1.08 1)" font-size="19.2" text-anchor="end">10<tspan dy="-7.7" font-size="11.1">5</tspan></text><path d="M778 590.7v6M835 590.7v6M884 590.7v6M931 590.7v6M849.8 590.7v3M858.4 590.7v3M864.5 590.7v3M869.2 590.7v3M873.1 590.7v3M876.4 590.7v3M879.3 590.7v3M881.8 590.7v3M898.1 590.7v3M906.4 590.7v3M912.3 590.7v3M916.9 590.7v3M920.6 590.7v3M923.7 590.7v3M926.4 590.7v3M928.8 590.7v3M945.1 590.7v3M791.7 590.7v3M802.1 590.7v3M809.7 590.7v3M815.5 590.7v3M820.1 590.7v3M824 590.7v3M827.3 590.7v3M830.2 590.7v3M832.7 590.7v3M764.3 590.7v3M753.9 590.7v3M768.5 590.7v4.5M770.5 590.7v4.5M772.5 590.7v4.5M774.5 590.7v4.5M776.5 590.7v4.5M778.5 590.7v4.5M780.5 590.7v4.5M782.5 590.7v4.5M784.5 590.7v4.5M786.5 590.7v4.5M788.5 590.7v4.5M747 561.7h-6M747 502.7h-6M747 451.7h-6M747 401.2h-6M747 487.3h-3M747 478.4h-3M747 472h-3M747 467.1h-3M747 463h-3M747 459.6h-3M747 456.6h-3M747 454h-3M747 436.5h-3M747 427.6h-3M747 421.3h-3M747 416.4h-3M747 412.4h-3M747 409h-3M747 406.1h-3M747 403.5h-3M747 386h-3M747 547.5h-3M747 536.7h-3M747 528.9h-3M747 522.9h-3M747 518.1h-3M747 514.1h-3M747 510.7h-3M747 507.7h-3M747 505.1h-3M747 575.9h-3M747 586.7h-3M747 571.2h-4.5M747 569.2h-4.5M747 567.2h-4.5M747 565.2h-4.5M747 563.2h-4.5M747 561.2h-4.5M747 559.2h-4.5M747 557.2h-4.5M747 555.2h-4.5M747 553.2h-4.5M747 551.2h-4.5" stroke="#000" stroke-width="1" fill="none"/><text transform="translate(774.3 427.8) scale(1.08 1)" font-size="24.5">23</text><text transform="translate(875.1 427.8) scale(1.08 1)" font-size="24.5">69</text><text transform="translate(754.5 580.9) scale(1.08 1)" font-size="24" fill="#5f7fb8">CD8αα<tspan dy="-8.6" font-size="14.4">+</tspan><tspan dy="8.6"> IEL</tspan></text><text transform="translate(726.5 374) scale(1.08 1)" font-size="22.6">Gated on CD4<tspan dy="-8.1" font-size="13.6">−</tspan><tspan dy="8.1"> T cells</tspan></text><text transform="translate(736.6 642.8) scale(1.08 1)" font-size="22.6">CD8β-BV711</text><text transform="translate(694.8 591.5) rotate(-90) scale(1.08 1)" font-size="22.6">CD8α-BUV805</text><line x1="684.3" y1="637.6" x2="684.3" y2="616.5" stroke="#000" stroke-width="1.3"/><path d="M684.3 607 L688.9 620 L684.3 616.5 L679.7 620 Z" fill="#000"/><line x1="683.7" y1="637" x2="711.8" y2="637" stroke="#000" stroke-width="1.3"/><path d="M721.3 637 L708.3 641.6 L711.8 637 L708.3 632.4 Z" fill="#000"/><g clip-path="url(#cp8)"><g filter="url(#fA8)"><rect x="1016.1" y="346.2" width="285.1" height="284.5" fill="#000"/><ellipse cx="1092.4" cy="543.5" rx="22" ry="21" fill="#fff" opacity="0.28"/><ellipse cx="1092.4" cy="543.5" rx="17.2" ry="16.4" fill="#fff" opacity="0.3"/><ellipse cx="1092.4" cy="543.5" rx="12.8" ry="12.2" fill="#fff" opacity="0.36"/><ellipse cx="1092.4" cy="543.5" rx="8.8" ry="8.4" fill="#fff" opacity="0.42"/><ellipse cx="1092.4" cy="543.5" rx="4.8" ry="4.6" fill="#fff" opacity="0.5"/><ellipse cx="1139.8" cy="536.1" rx="24" ry="27" fill="#fff" opacity="0.28"/><ellipse cx="1139.8" cy="536.1" rx="18.7" ry="21.1" fill="#fff" opacity="0.3"/><ellipse cx="1139.8" cy="536.1" rx="13.9" ry="15.7" fill="#fff" opacity="0.36"/><ellipse cx="1139.8" cy="536.1" rx="9.6" ry="10.8" fill="#fff" opacity="0.42"/><ellipse cx="1139.8" cy="536.1" rx="5.3" ry="5.9" fill="#fff" opacity="0.5"/><ellipse cx="1142" cy="492.4" rx="21" ry="24" fill="#fff" opacity="0.28" transform="rotate(15 1142 492.4)"/><ellipse cx="1142" cy="492.4" rx="16.4" ry="18.7" fill="#fff" opacity="0.3" transform="rotate(15 1142 492.4)"/><ellipse cx="1142" cy="492.4" rx="12.2" ry="13.9" fill="#fff" opacity="0.36" transform="rotate(15 1142 492.4)"/><ellipse cx="1142" cy="492.4" rx="8.4" ry="9.6" fill="#fff" opacity="0.42" transform="rotate(15 1142 492.4)"/><ellipse cx="1142" cy="492.4" rx="4.6" ry="5.3" fill="#fff" opacity="0.5" transform="rotate(15 1142 492.4)"/><path d="M1098 540.9 L1135.3 537.2" fill="none" stroke="#fff" stroke-width="26" stroke-linecap="round" stroke-linejoin="round" opacity="0.55"/><path d="M1139.1 531.6 L1142.8 498" fill="none" stroke="#fff" stroke-width="22" stroke-linecap="round" stroke-linejoin="round" opacity="0.55"/><path d="M1094.3 516.7 L1116.7 509.2 L1131.6 494.3" fill="none" stroke="#fff" stroke-width="5" stroke-linecap="round" stroke-linejoin="round" opacity="0.3"/></g></g><ellipse cx="1092.4" cy="543.5" rx="15" ry="15" fill="#000" opacity="0.4" style="filter:blur(3px)"/><ellipse cx="1140.2" cy="536.1" rx="16" ry="19" fill="#000" opacity="0.4" style="filter:blur(3px)"/><ellipse cx="1142" cy="493.1" rx="14" ry="17" fill="#000" opacity="0.4" style="filter:blur(3px)"/><rect x="1122.6" y="444.6" width="61.2" height="65" fill="#d9b3d9" style="mix-blend-mode:multiply"/><rect x="1122.6" y="444.6" width="61.2" height="65" fill="#2f0f2f" style="mix-blend-mode:screen"/><rect x="1122.6" y="444.6" width="61.2" height="65" fill="none" stroke="#222" stroke-width="1.2"/><rect x="1065.5" y="519.3" width="46.3" height="57.1" fill="#f3dc92" style="mix-blend-mode:multiply"/><rect x="1065.5" y="519.3" width="46.3" height="57.1" fill="#3a2e00" style="mix-blend-mode:screen"/><rect x="1065.5" y="519.3" width="46.3" height="57.1" fill="none" stroke="#222" stroke-width="1.2"/><rect x="1122.6" y="518.5" width="49.3" height="59.4" fill="#f5c6a6" style="mix-blend-mode:multiply"/><rect x="1122.6" y="518.5" width="49.3" height="59.4" fill="#3d1800" style="mix-blend-mode:screen"/><rect x="1122.6" y="518.5" width="49.3" height="59.4" fill="none" stroke="#222" stroke-width="1.2"/><path d="M1066 545h0m0 2h0m2-9h0m0 10h0m1-11h0m0 9h0m0 1h0m0 1h0m1-9h0m0 2h0m0 4h0m1-10h0m0 9h0m0 2h0m0 5h0m1-41h0m0 25h0m2-36h0m0 28h0m0 1h0m0 28h0m1-28h0m0 1h0m0 1h0m1-2h0m3-15h0m0 1h0m1 12h0m1 0h0m1-7h0m0 43h0m1-50h0m0 51h0m1-54h0m1 9h0m0 5h0m1 40h0m1-42h0m0 3h0m1-4h0m0 43h0m0 2h0m2-67h0m0 3h0m0 13h0m1-2h0m0 8h0m1-22h0m1 3h0m1 22h0m1-2h0m1 44h0m2-51h0m0 9h0m2-13h0m0 7h0m0 45h0m2-65h0m0 5h0m0 16h0m1-11h0m1 11h0m0 5h0m2-16h0m0 4h0m1-6h0m0 6h0m1-15h0m0 5h0m0 3h0m0 56h0m1-34h0m1-20h0m0 49h0m0 1h0m1-26h0m0 3h0m0 21h0m1-50h0m0 27h0m0 6h0m0 3h0m0 14h0m1-44h0m0 16h0m0 12h0m0 9h0m1-39h0m0 6h0m0 24h0m1-35h0m0 29h0m0 1h0m1-35h0m0 44h0m1-29h0m0 19h0m0 5h0m0 5h0m1-47h0m0 4h0m0 30h0m0 10h0m1-7h0m0 14h0m0 4h0m1-60h0m0 32h0m1-36h0m0 5h0m0 6h0m0 6h0m1-15h0m0 12h0m1-2h0m0 2h0m1-15h0m0 4h0m0 2h0m0 12h0m1-19h0m0 23h0m0 2h0m0 44h0m1-45h0m0 3h0m0 40h0m1-78h0m0 5h0m0 35h0m1-37h0m1 78h0m1-41h0m0 3h0m1-2h0m1-40h0m0 82h0m1-85h0m0 84h0m0 3h0m1-85h0m0 85h0m2-44h0m1-44h0m0 4h0m1-4h0m0 47h0m0 2h0m1-46h0m0 44h0m1-1h0m0 40h0m1-87h0m0 88h0m1-40h0m0 1h0m0 40h0m1-86h0m0 86h0m1-46h0m0 10h0m2-52h0m0 43h0m1-42h0m0 88h0m2-87h0m0 1h0m0 42h0m1-2h0m1-41h0m0 39h0m1 2h0m0 4h0m2-43h0m1 44h0m0 1h0m2 31h0m2-42h0m0 10h0m0 4h0m0 27h0m0 2h0m1-47h0m0 1h0m0 2h0m0 14h0m0 25h0m1-42h0m0 1h0m0 15h0m0 6h0m1-47h0m0 13h0m0 30h0m0 29h0m1-75h0m0 22h0m0 2h0m1-13h0m0 4h0m0 3h0m0 5h0m0 22h0m0 13h0m0 1h0m0 1h0m1-45h0m1-11h0m0 14h0m1-4h0m0 3h0m0 51h0m1-1h0m1 0h0" fill="none" stroke="#111" stroke-width="2.3" stroke-linecap="square"/><rect x="1056.1" y="386.2" width="205.1" height="204.5" fill="none" stroke="#000" stroke-width="1.3"/><text transform="translate(1087.1 616.2) scale(1.08 1)" font-size="19.2" text-anchor="middle">0</text><text transform="translate(1146.1 616.2) scale(1.08 1)" font-size="19.2" text-anchor="middle">10<tspan dy="-7.7" font-size="11.1">3</tspan></text><text transform="translate(1195.1 616.2) scale(1.08 1)" font-size="19.2" text-anchor="middle">10<tspan dy="-7.7" font-size="11.1">4</tspan></text><text transform="translate(1242.1 616.2) scale(1.08 1)" font-size="19.2" text-anchor="middle">10<tspan dy="-7.7" font-size="11.1">5</tspan></text><text transform="translate(1046.1 568.7) scale(1.08 1)" font-size="19.2" text-anchor="end">0</text><text transform="translate(1048.1 510.7) scale(1.08 1)" font-size="19.2" text-anchor="end">10<tspan dy="-7.7" font-size="11.1">3</tspan></text><text transform="translate(1048.1 459.7) scale(1.08 1)" font-size="19.2" text-anchor="end">10<tspan dy="-7.7" font-size="11.1">4</tspan></text><text transform="translate(1048.1 409.2) scale(1.08 1)" font-size="19.2" text-anchor="end">10<tspan dy="-7.7" font-size="11.1">5</tspan></text><path d="M1087.1 590.7v6M1144.1 590.7v6M1193.1 590.7v6M1240.1 590.7v6M1158.9 590.7v3M1167.5 590.7v3M1173.6 590.7v3M1178.3 590.7v3M1182.2 590.7v3M1185.5 590.7v3M1188.4 590.7v3M1190.9 590.7v3M1207.2 590.7v3M1215.5 590.7v3M1221.4 590.7v3M1226 590.7v3M1229.7 590.7v3M1232.8 590.7v3M1235.5 590.7v3M1237.9 590.7v3M1254.2 590.7v3M1100.8 590.7v3M1111.2 590.7v3M1118.8 590.7v3M1124.6 590.7v3M1129.2 590.7v3M1133.1 590.7v3M1136.4 590.7v3M1139.3 590.7v3M1141.8 590.7v3M1073.4 590.7v3M1063 590.7v3M1077.6 590.7v4.5M1079.6 590.7v4.5M1081.6 590.7v4.5M1083.6 590.7v4.5M1085.6 590.7v4.5M1087.6 590.7v4.5M1089.6 590.7v4.5M1091.6 590.7v4.5M1093.6 590.7v4.5M1095.6 590.7v4.5M1097.6 590.7v4.5M1056.1 561.7h-6M1056.1 502.7h-6M1056.1 451.7h-6M1056.1 401.2h-6M1056.1 487.3h-3M1056.1 478.4h-3M1056.1 472h-3M1056.1 467.1h-3M1056.1 463h-3M1056.1 459.6h-3M1056.1 456.6h-3M1056.1 454h-3M1056.1 436.5h-3M1056.1 427.6h-3M1056.1 421.3h-3M1056.1 416.4h-3M1056.1 412.4h-3M1056.1 409h-3M1056.1 406.1h-3M1056.1 403.5h-3M1056.1 386h-3M1056.1 547.5h-3M1056.1 536.7h-3M1056.1 528.9h-3M1056.1 522.9h-3M1056.1 518.1h-3M1056.1 514.1h-3M1056.1 510.7h-3M1056.1 507.7h-3M1056.1 505.1h-3M1056.1 575.9h-3M1056.1 586.7h-3M1056.1 571.2h-4.5M1056.1 569.2h-4.5M1056.1 567.2h-4.5M1056.1 565.2h-4.5M1056.1 563.2h-4.5M1056.1 561.2h-4.5M1056.1 559.2h-4.5M1056.1 557.2h-4.5M1056.1 555.2h-4.5M1056.1 553.2h-4.5M1056.1 551.2h-4.5" stroke="#000" stroke-width="1" fill="none"/><rect x="1186" y="408" width="80" height="116" fill="#fff"/><text transform="translate(1140.2 436.4) scale(1.08 1)" font-size="24.5">19</text><text transform="translate(1064.4 509.2) scale(1.08 1)" font-size="24.5">21</text><text transform="translate(1183.9 572.7) scale(1.08 1)" font-size="24.5">44</text><text transform="translate(1190.6 439) scale(1.08 1)" font-size="24" fill="#e8c444">CD4<tspan dy="-8.6" font-size="14.4">+</tspan><tspan dy="8.6"> Tconv</tspan></text><text transform="translate(1190.6 468.9) scale(1.08 1)" font-size="24" fill="#e2854f">CD4<tspan dy="-8.6" font-size="14.4">+</tspan><tspan dy="8.6"> Pre-IEL</tspan></text><text transform="translate(1190.6 499.9) scale(1.08 1)" font-size="24" fill="#a2489c">CD4<tspan dy="-8.6" font-size="14.4">+</tspan><tspan dy="8.6"> CD8αα</tspan><tspan dy="-8.6" font-size="14.4">+</tspan></text><text transform="translate(1190.6 530.9) scale(1.08 1)" font-size="24" fill="#a2489c">IEL</text><text transform="translate(1031.5 374) scale(1.08 1)" font-size="22.6">Gated on CD4<tspan dy="-8.1" font-size="13.6">+</tspan><tspan dy="8.1"> T cells</tspan></text><text transform="translate(1046.5 642.8) scale(1.08 1)" font-size="22.6">CD103-BV785</text><text transform="translate(1004.7 591.5) rotate(-90) scale(1.08 1)" font-size="22.6">CD8α-BUV805</text><line x1="992.7" y1="637.6" x2="992.7" y2="616.5" stroke="#000" stroke-width="1.3"/><path d="M992.7 607 L997.3 620 L992.7 616.5 L988.1 620 Z" fill="#000"/><line x1="992.1" y1="637" x2="1020.2" y2="637" stroke="#000" stroke-width="1.3"/><path d="M1029.7 637 L1016.7 641.6 L1020.2 637 L1016.7 632.4 Z" fill="#000"/></g><g id="panel_B"><path d="M1529 198h0m1-11h0m1 3h0m0 4h0m1-7h0m2 1h0m1-6h0m1 9h0m1-10h0m2 12h0m0 1h0m2-4h0m1 4h0m0 11h0m1-22h0m0 4h0m0 8h0m1 0h0m2-2h0m0 1h0m0 9h0m1-9h0m0 13h0m1-21h0m0 7h0m1-3h0m1-13h0m0 10h0m0 3h0m0 4h0m0 4h0m0 11h0m1-26h0m0 6h0m0 2h0m0 2h0m0 5h0m1-3h0m0 1h0m0 2h0m1-17h0m0 2h0m0 5h0m0 7h0m0 2h0m0 2h0m1-11h0m0 3h0m0 2h0m0 1h0m0 1h0m1-5h0m0 7h0m0 1h0m0 3h0m1-12h0m0 3h0m0 2h0m0 2h0m0 1h0m0 3h0m1-17h0m0 3h0m0 5h0m0 4h0m0 3h0m0 4h0m0 7h0m0 4h0m1-30h0m0 6h0m0 2h0m0 4h0m0 2h0m0 3h0m1-15h0m0 7h0m0 1h0m0 4h0m0 2h0m0 1h0m1-11h0m0 2h0m0 1h0m0 6h0m0 5h0m0 4h0m1-20h0m0 1h0m0 1h0m0 1h0m0 1h0m0 1h0m0 3h0m0 2h0m1-13h0m0 1h0m0 1h0m0 2h0m0 2h0m0 4h0m0 1h0m0 1h0m0 1h0m0 1h0m1-22h0m0 6h0m0 5h0m0 4h0m0 2h0m1-18h0m0 13h0m0 1h0m0 1h0m0 1h0m0 2h0m0 1h0m0 1h0m1-20h0m0 8h0m0 1h0m0 3h0m0 5h0m0 1h0m0 3h0m0 1h0m0 1h0m0 6h0m1-24h0m0 1h0m0 3h0m0 2h0m0 3h0m0 1h0m0 1h0m0 1h0m0 1h0m0 3h0m0 2h0m0 3h0m1-21h0m0 4h0m0 3h0m0 1h0m0 3h0m0 1h0m0 3h0m0 1h0m0 7h0m1-25h0m0 4h0m0 1h0m0 1h0m0 2h0m0 1h0m0 2h0m0 1h0m0 2h0m0 3h0m0 4h0m0 29h0m1-54h0m0 13h0m0 1h0m0 1h0m0 3h0m0 2h0m0 2h0m0 2h0m1-18h0m0 3h0m0 1h0m0 5h0m0 1h0m0 1h0m0 1h0m0 1h0m0 1h0m0 1h0m0 4h0m0 1h0m0 4h0m1-25h0m0 2h0m0 1h0m0 4h0m0 2h0m0 1h0m0 3h0m0 1h0m0 3h0m0 1h0m1-16h0m0 4h0m0 1h0m0 1h0m0 3h0m0 1h0m0 2h0m0 1h0m0 1h0m0 3h0m0 1h0m1-20h0m0 3h0m0 1h0m0 4h0m0 4h0m0 1h0m0 2h0m0 4h0m0 3h0m0 2h0m1-26h0m0 4h0m0 6h0m0 2h0m0 2h0m0 3h0m0 1h0m0 5h0m0 5h0m1-24h0m0 2h0m0 1h0m0 2h0m0 4h0m0 2h0m0 1h0m0 1h0m0 2h0m0 1h0m0 1h0m0 2h0m0 1h0m0 1h0m0 4h0m1-35h0m0 1h0m0 5h0m0 4h0m0 1h0m0 1h0m0 3h0m0 2h0m0 2h0m0 1h0m0 3h0m0 1h0m0 2h0m1-12h0m0 1h0m0 1h0m0 1h0m0 1h0m0 1h0m0 2h0m0 5h0m0 1h0m1-36h0m0 12h0m0 7h0m0 4h0m0 1h0m0 4h0m0 1h0m0 1h0m0 1h0m0 2h0m0 2h0m1-12h0m0 1h0m0 1h0m0 2h0m0 1h0m0 2h0m0 1h0m0 1h0m0 1h0m0 2h0m0 4h0m0 5h0m1-32h0m0 7h0m0 3h0m0 1h0m0 1h0m0 1h0m0 1h0m0 1h0m0 2h0m0 2h0m0 3h0m0 3h0m1-17h0m0 1h0m0 1h0m0 3h0m0 1h0m0 2h0m0 2h0m0 1h0m0 5h0m0 4h0m0 2h0m0 1h0m0 20h0m1-45h0m0 3h0m0 1h0m0 1h0m0 1h0m0 1h0m0 1h0m0 2h0m0 1h0m0 1h0m0 5h0m1-20h0m0 2h0m0 2h0m0 2h0m0 1h0m0 2h0m0 1h0m0 1h0m0 1h0m0 4h0m0 3h0m0 1h0m0 1h0m0 2h0m0 1h0m0 7h0m1-37h0m0 11h0m0 1h0m0 2h0m0 1h0m0 2h0m0 1h0m0 2h0m0 3h0m0 1h0m0 5h0m0 4h0m0 24h0m1-51h0m0 6h0m0 2h0m0 1h0m0 1h0m0 1h0m0 3h0m1-10h0m0 1h0m0 2h0m0 1h0m0 1h0m0 2h0m0 1h0m0 3h0m0 2h0m0 5h0m1-20h0m0 3h0m0 4h0m0 1h0m0 1h0m0 1h0m0 1h0m0 1h0m0 2h0m0 3h0m0 3h0m1-25h0m0 4h0m0 1h0m0 4h0m0 1h0m0 2h0m0 2h0m0 2h0m0 2h0m0 3h0m0 8h0m1-23h0m0 1h0m0 1h0m0 1h0m0 1h0m0 1h0m0 1h0m0 3h0m0 1h0m0 1h0m0 2h0m0 3h0m1-28h0m0 7h0m0 1h0m0 3h0m0 2h0m0 1h0m0 1h0m0 2h0m0 1h0m0 1h0m0 1h0m0 2h0m0 1h0m0 2h0m0 5h0m0 32h0m1-48h0m0 6h0m0 3h0m0 1h0m0 1h0m0 18h0m1-34h0m0 20h0m0 1h0m0 3h0m1-30h0m0 5h0m0 5h0m0 1h0m0 1h0m0 1h0m0 1h0m0 1h0m0 1h0m0 2h0m0 5h0m1-21h0m0 9h0m0 6h0m0 1h0m0 1h0m0 1h0m0 4h0m0 1h0m0 26h0m1-46h0m0 4h0m0 2h0m0 1h0m0 2h0m0 1h0m0 6h0m0 1h0m0 1h0m0 4h0m1-25h0m0 7h0m0 2h0m0 2h0m0 1h0m0 1h0m0 1h0m0 1h0m0 2h0m0 1h0m0 7h0m1-26h0m0 2h0m0 4h0m0 5h0m0 1h0m0 1h0m0 3h0m0 6h0m0 2h0m0 3h0m1-37h0m0 19h0m0 1h0m0 2h0m0 1h0m0 2h0m0 1h0m0 1h0m0 1h0m0 1h0m0 1h0m0 2h0m1-24h0m0 3h0m0 1h0m0 3h0m0 2h0m0 4h0m0 1h0m0 1h0m0 3h0m0 2h0m0 1h0m0 5h0m1-26h0m0 6h0m0 1h0m0 1h0m0 3h0m0 1h0m0 3h0m0 1h0m0 2h0m0 1h0m0 1h0m0 2h0m0 2h0m0 2h0m0 4h0m1-39h0m0 6h0m0 2h0m0 8h0m0 2h0m0 2h0m0 1h0m0 1h0m0 5h0m0 1h0m0 1h0m0 1h0m0 3h0m0 2h0m0 1h0m0 3h0m1-23h0m0 1h0m0 2h0m0 6h0m0 1h0m0 3h0m0 1h0m0 2h0m1-22h0m0 1h0m0 2h0m0 2h0m0 2h0m0 2h0m0 1h0m0 2h0m0 2h0m0 2h0m0 5h0m0 1h0m0 7h0m1-45h0m0 4h0m0 6h0m0 4h0m0 2h0m0 1h0m0 3h0m0 2h0m0 2h0m0 2h0m0 1h0m0 1h0m0 1h0m1-16h0m0 2h0m0 1h0m0 3h0m0 1h0m0 6h0m0 1h0m0 1h0m0 3h0m0 1h0m0 1h0m0 2h0m0 2h0m0 1h0m0 17h0m1-44h0m0 5h0m0 3h0m0 1h0m0 1h0m0 1h0m0 3h0m0 2h0m0 1h0m0 2h0m0 6h0m1-30h0m0 8h0m0 1h0m0 1h0m0 2h0m0 1h0m0 2h0m0 1h0m0 1h0m0 1h0m0 4h0m0 1h0m0 3h0m0 1h0m0 4h0m0 4h0m1-35h0m0 5h0m0 2h0m0 2h0m0 1h0m0 1h0m0 8h0m0 2h0m0 1h0m0 1h0m0 3h0m0 5h0m1-26h0m0 3h0m0 1h0m0 3h0m0 2h0m0 3h0m0 1h0m0 1h0m0 1h0m0 1h0m0 4h0m0 1h0m0 1h0m0 1h0m0 2h0m1-36h0m0 8h0m0 2h0m0 1h0m0 5h0m0 3h0m0 1h0m0 2h0m0 3h0m0 3h0m0 6h0m0 2h0m0 21h0m1-46h0m0 1h0m0 3h0m0 2h0m0 3h0m0 4h0m0 2h0m0 1h0m0 2h0m0 4h0m1-23h0m0 1h0m0 5h0m0 3h0m0 2h0m0 6h0m0 2h0m0 12h0m1-31h0m0 3h0m0 1h0m0 3h0m0 2h0m0 1h0m0 1h0m0 1h0m0 1h0m0 1h0m0 1h0m0 3h0m0 2h0m0 8h0m1-39h0m0 10h0m0 2h0m0 1h0m0 1h0m0 3h0m0 1h0m0 2h0m0 1h0m0 7h0m0 2h0m0 4h0m0 1h0m0 8h0m1-31h0m0 2h0m0 1h0m0 1h0m0 8h0m0 1h0m0 1h0m0 1h0m0 1h0m0 3h0m1-22h0m0 5h0m0 5h0m0 3h0m0 3h0m0 6h0m0 1h0m0 11h0m1-33h0m0 1h0m0 8h0m0 2h0m0 1h0m0 1h0m0 5h0m0 1h0m0 3h0m1-14h0m0 3h0m0 2h0m0 4h0m0 16h0m1-38h0m0 9h0m0 7h0m0 5h0m0 3h0m0 4h0m1-21h0m0 6h0m0 7h0m0 1h0m0 6h0m0 12h0m1-37h0m0 2h0m0 1h0m0 3h0m0 9h0m0 2h0m0 4h0m0 5h0m0 3h0m1-29h0m0 10h0m0 1h0m0 3h0m0 6h0m0 5h0m0 2h0m1-20h0m0 2h0m0 1h0m0 1h0m1 2h0m0 2h0m0 2h0m0 2h0m1-18h0m0 6h0m0 6h0m1-21h0m0 7h0m0 17h0m0 17h0m1-34h0m0 12h0m0 3h0m0 3h0m0 5h0m1-10h0m0 11h0m0 31h0m1-59h0m0 8h0m0 3h0m0 7h0m1-12h0m0 5h0m0 13h0m1-15h0m0 4h0m1-20h0m1-1h0m0 6h0m1-5h0m0 5h0m0 57h0m1-45h0m1-25h0m0 10h0m1-6h0m0 6h0m0 3h0m0 76h0m1-81h0m1-13h0m1 3h0m0 5h0m0 1h0m2-9h0m0 15h0m0 12h0m0 49h0m1-73h0m0 17h0m1-27h0m0 17h0m1-17h0m0 19h0m0 63h0m1-73h0m0 12h0m2-8h0m0 1h0m0 55h0m1-63h0m1 6h0m1-12h0m0 10h0m0 3h0m1-4h0m0 17h0m0 42h0m1-72h0m0 13h0m1 0h0m2 58h0m1 35h0m1-96h0m2-20h0m0 6h0m1-11h0m0 17h0m0 6h0m2-8h0m0 10h0m1-23h0m0 14h0m1 4h0m4-9h0m1 0h0m1-5h0m6 4h0" fill="none" stroke="#111" stroke-width="2.3" stroke-linecap="square"/><g clip-path="url(#cp9)"><g filter="url(#fB0)"><rect x="1476.9" y="-2.7" width="283.8" height="283.6" fill="#000"/><ellipse cx="1579.6" cy="189.3" rx="33" ry="13" fill="#fff" opacity="0.28" transform="rotate(-8 1579.6 189.3)"/><ellipse cx="1579.6" cy="189.3" rx="25.7" ry="10.1" fill="#fff" opacity="0.3" transform="rotate(-8 1579.6 189.3)"/><ellipse cx="1579.6" cy="189.3" rx="19.1" ry="7.5" fill="#fff" opacity="0.36" transform="rotate(-8 1579.6 189.3)"/><ellipse cx="1579.6" cy="189.3" rx="13.2" ry="5.2" fill="#fff" opacity="0.42" transform="rotate(-8 1579.6 189.3)"/><ellipse cx="1579.6" cy="189.3" rx="7.3" ry="2.9" fill="#fff" opacity="0.5" transform="rotate(-8 1579.6 189.3)"/></g></g><path d="M1611.3 164.3 L1618.1 137.4 L1633.7 119.5 L1672.9 79.5 L1708.4 102.7 L1711.4 156.8 L1671.8 179.2 L1637.5 185.9 Z" fill="none" stroke="#000" stroke-width="1.3" stroke-linejoin="round"/><rect x="1516.9" y="37.3" width="203.8" height="203.6" fill="none" stroke="#000" stroke-width="1.3"/><text transform="translate(1547.9 266.4) scale(1.08 1)" font-size="19.2" text-anchor="middle">0</text><text transform="translate(1606.9 266.4) scale(1.08 1)" font-size="19.2" text-anchor="middle">10<tspan dy="-7.7" font-size="11.1">3</tspan></text><text transform="translate(1655.9 266.4) scale(1.08 1)" font-size="19.2" text-anchor="middle">10<tspan dy="-7.7" font-size="11.1">4</tspan></text><text transform="translate(1702.9 266.4) scale(1.08 1)" font-size="19.2" text-anchor="middle">10<tspan dy="-7.7" font-size="11.1">5</tspan></text><text transform="translate(1506.9 218.9) scale(1.08 1)" font-size="19.2" text-anchor="end">0</text><text transform="translate(1508.9 160.9) scale(1.08 1)" font-size="19.2" text-anchor="end">10<tspan dy="-7.7" font-size="11.1">3</tspan></text><text transform="translate(1508.9 109.9) scale(1.08 1)" font-size="19.2" text-anchor="end">10<tspan dy="-7.7" font-size="11.1">4</tspan></text><text transform="translate(1508.9 59.4) scale(1.08 1)" font-size="19.2" text-anchor="end">10<tspan dy="-7.7" font-size="11.1">5</tspan></text><path d="M1547.9 240.9v6M1604.9 240.9v6M1653.9 240.9v6M1700.9 240.9v6M1619.7 240.9v3M1628.3 240.9v3M1634.4 240.9v3M1639.1 240.9v3M1643 240.9v3M1646.3 240.9v3M1649.2 240.9v3M1651.7 240.9v3M1668 240.9v3M1676.3 240.9v3M1682.2 240.9v3M1686.8 240.9v3M1690.5 240.9v3M1693.6 240.9v3M1696.3 240.9v3M1698.7 240.9v3M1715 240.9v3M1561.6 240.9v3M1572 240.9v3M1579.6 240.9v3M1585.4 240.9v3M1590 240.9v3M1593.9 240.9v3M1597.2 240.9v3M1600.1 240.9v3M1602.6 240.9v3M1534.2 240.9v3M1523.8 240.9v3M1538.4 240.9v4.5M1540.4 240.9v4.5M1542.4 240.9v4.5M1544.4 240.9v4.5M1546.4 240.9v4.5M1548.4 240.9v4.5M1550.4 240.9v4.5M1552.4 240.9v4.5M1554.4 240.9v4.5M1556.4 240.9v4.5M1558.4 240.9v4.5M1516.9 211.9h-6M1516.9 152.9h-6M1516.9 101.9h-6M1516.9 51.4h-6M1516.9 137.5h-3M1516.9 128.6h-3M1516.9 122.2h-3M1516.9 117.3h-3M1516.9 113.2h-3M1516.9 109.8h-3M1516.9 106.8h-3M1516.9 104.2h-3M1516.9 86.7h-3M1516.9 77.8h-3M1516.9 71.5h-3M1516.9 66.6h-3M1516.9 62.6h-3M1516.9 59.2h-3M1516.9 56.3h-3M1516.9 53.7h-3M1516.9 197.7h-3M1516.9 186.9h-3M1516.9 179.1h-3M1516.9 173.1h-3M1516.9 168.3h-3M1516.9 164.3h-3M1516.9 160.9h-3M1516.9 157.9h-3M1516.9 155.3h-3M1516.9 226.1h-3M1516.9 236.9h-3M1516.9 221.4h-4.5M1516.9 219.4h-4.5M1516.9 217.4h-4.5M1516.9 215.4h-4.5M1516.9 213.4h-4.5M1516.9 211.4h-4.5M1516.9 209.4h-4.5M1516.9 207.4h-4.5M1516.9 205.4h-4.5M1516.9 203.4h-4.5M1516.9 201.4h-4.5" stroke="#000" stroke-width="1" fill="none"/><path d="M1740 118h0m0 40h0m1 18h0m1-57h0m0 69h0m3-72h0m5 32h0m0 68h0m4 3h0m1-29h0m0 27h0m3-17h0m0 1h0m2 1h0m5 0h0m3-11h0m0 7h0m0 28h0m1-45h0m0 9h0m1-3h0m0 13h0m2-8h0m1-4h0m0 5h0m0 8h0m0 7h0m1-13h0m1 0h0m0 3h0m0 4h0m0 3h0m1-13h0m0 7h0m0 1h0m0 1h0m0 1h0m0 17h0m1-30h0m0 5h0m0 6h0m0 1h0m1-1h0m0 3h0m1-11h0m0 6h0m2-11h0m0 9h0m1-15h0m0 11h0m0 5h0m1-32h0m0 23h0m0 1h0m0 3h0m0 1h0m1-27h0m0 13h0m0 9h0m0 6h0m1-6h0m0 2h0m0 3h0m0 2h0m0 2h0m0 9h0m1-25h0m0 3h0m0 4h0m0 5h0m0 1h0m0 2h0m0 12h0m1-19h0m0 10h0m1-23h0m0 9h0m1-6h0m0 3h0m0 1h0m0 12h0m0 7h0m1-6h0m0 5h0m1-12h0m0 7h0m0 3h0m1-10h0m0 11h0m0 3h0m0 2h0m1-27h0m0 14h0m0 11h0m0 6h0m1-8h0m1-13h0m0 6h0m0 8h0m1-34h0m0 14h0m0 17h0m1-27h0m0 23h0m0 1h0m0 1h0m1-25h0m0 6h0m0 5h0m0 7h0m0 8h0m0 5h0m0 6h0m1-29h0m0 23h0m1-35h0m0 20h0m1-13h0m0 8h0m0 20h0m1-24h0m0 7h0m1-22h0m0 32h0m0 5h0m1-27h0m0 4h0m0 1h0m0 13h0m1-8h0m0 3h0m0 1h0m2-29h0m0 16h0m0 4h0m0 9h0m1-9h0m1-9h0m0 5h0m0 6h0m1 17h0m1-31h0m0 10h0m0 7h0m1-22h0m0 7h0m0 20h0m1-25h0m0 3h0m0 16h0m1-15h0m0 4h0m0 4h0m0 18h0m0 4h0m1-33h0m0 12h0m0 5h0m0 7h0m1-27h0m0 13h0m1-5h0m0 2h0m0 4h0m0 1h0m0 2h0m1-23h0m0 15h0m1-8h0m0 8h0m0 9h0m0 11h0m1-34h0m0 11h0m0 1h0m0 6h0m0 1h0m0 10h0m1-24h0m0 6h0m0 20h0m1-24h0m0 8h0m0 6h0m0 2h0m1-18h0m0 1h0m0 8h0m0 1h0m0 6h0m0 5h0m1-22h0m0 4h0m0 2h0m0 6h0m0 5h0m0 5h0m0 4h0m1-35h0m0 7h0m0 10h0m0 8h0m0 8h0m0 17h0m1-49h0m0 22h0m0 2h0m1-12h0m0 3h0m0 10h0m0 5h0m1-19h0m0 4h0m1 11h0m0 7h0m1-29h0m0 17h0m1-21h0m0 13h0m0 5h0m0 2h0m1-18h0m0 10h0m0 6h0m0 10h0m0 16h0m1-37h0m1-9h0m0 7h0m0 9h0m0 2h0m0 2h0m0 5h0m1-28h0m0 10h0m0 4h0m0 11h0m0 5h0m1-26h0m0 4h0m0 12h0m0 5h0m0 15h0m1-45h0m0 7h0m0 8h0m0 17h0m1-20h0m0 2h0m0 4h0m0 3h0m0 8h0m0 12h0m1-30h0m0 2h0m0 6h0m0 9h0m1-23h0m0 10h0m0 13h0m0 1h0m0 4h0m1-23h0m0 4h0m0 7h0m1-9h0m0 4h0m0 2h0m0 1h0m1-12h0m0 4h0m0 7h0m0 1h0m0 4h0m0 5h0m0 2h0m1-10h0m1-25h0m0 12h0m0 7h0m0 1h0m0 1h0m0 2h0m0 1h0m0 6h0m0 3h0m0 4h0m1-29h0m0 6h0m0 3h0m0 7h0m0 6h0m0 11h0m1-47h0m0 21h0m0 6h0m0 7h0m0 2h0m0 6h0m1-24h0m0 3h0m0 2h0m0 2h0m0 8h0m0 3h0m1-19h0m0 9h0m0 2h0m0 6h0m0 2h0m0 4h0m0 1h0m0 11h0m1-41h0m0 29h0m1-35h0m0 8h0m0 5h0m0 2h0m0 6h0m0 3h0m0 1h0m1-6h0m0 13h0m1-10h0m0 3h0m0 1h0m1-11h0m0 10h0m0 7h0m1-30h0m0 5h0m0 9h0m0 9h0m0 5h0m1-26h0m0 5h0m0 1h0m0 3h0m0 6h0m1-12h0m0 1h0m1-5h0m0 18h0m0 4h0m0 1h0m1-24h0m0 4h0m0 22h0m1-24h0m0 16h0m0 3h0m1-23h0m0 14h0m0 15h0m1-19h0m0 2h0m0 6h0m0 1h0m0 1h0m0 17h0m1-31h0m0 3h0m0 19h0m1-19h0m0 1h0m0 15h0m1-13h0m0 28h0m1-29h0m0 9h0m0 8h0m0 7h0m1-34h0m0 7h0m0 26h0m1-30h0m0 5h0m0 4h0m0 2h0m0 10h0m0 7h0m1-26h0m0 5h0m0 10h0m1-25h0m0 23h0m0 5h0m1-11h0m0 3h0m1-9h0m0 6h0m0 3h0m1-14h0m0 3h0m0 2h0m0 1h0m0 8h0m0 9h0m1-34h0m0 28h0m0 2h0m1-18h0m0 10h0m1-13h0m0 10h0m0 1h0m0 9h0m1-22h0m0 3h0m0 13h0m1-1h0m0 4h0m1-21h0m1 5h0m0 23h0m1-17h0m0 13h0m1-22h0m0 26h0m1-8h0m0 3h0m0 3h0m1-24h0m0 7h0m0 3h0m0 3h0m0 4h0m0 6h0m1-23h0m0 10h0m1-14h0m0 12h0m0 4h0m1-16h0m0 1h0m0 7h0m1 8h0m1-17h0m0 12h0m2-4h0m0 2h0m1-12h0m0 1h0m0 3h0m0 15h0m1-4h0m2-14h0m0 12h0m0 5h0m1-28h0m0 23h0m0 2h0m0 3h0m1-5h0m1-23h0m0 6h0m1 11h0m0 10h0m0 1h0m4-9h0m0 2h0m1 13h0m3-20h0m0 7h0m0 3h0m1 10h0m1-12h0m1-4h0m1-5h0m2-27h0m0 25h0m2-6h0m2-1h0m4-1h0m1 3h0m1 13h0" fill="none" stroke="#111" stroke-width="2.3" stroke-linecap="square"/><g clip-path="url(#cp10)"><g filter="url(#fB1)"><rect x="1690.7" y="-2.7" width="283.8" height="283.6" fill="#000"/><ellipse cx="1867.1" cy="151.2" rx="36" ry="19" fill="#fff" opacity="0.28" transform="rotate(-33 1867.1 151.2)"/><ellipse cx="1867.1" cy="151.2" rx="28.1" ry="14.8" fill="#fff" opacity="0.3" transform="rotate(-33 1867.1 151.2)"/><ellipse cx="1867.1" cy="151.2" rx="20.9" ry="11" fill="#fff" opacity="0.36" transform="rotate(-33 1867.1 151.2)"/><ellipse cx="1867.1" cy="151.2" rx="14.4" ry="7.6" fill="#fff" opacity="0.42" transform="rotate(-33 1867.1 151.2)"/><ellipse cx="1867.1" cy="151.2" rx="7.9" ry="4.2" fill="#fff" opacity="0.5" transform="rotate(-33 1867.1 151.2)"/><path d="M1786.8 188.5 L1831.6 175.5 L1857.7 156.8" fill="none" stroke="#fff" stroke-width="14" stroke-linecap="round" stroke-linejoin="round" opacity="0.32"/><path d="M1783.1 190.4 L1835.3 179.2" fill="none" stroke="#fff" stroke-width="7" stroke-linecap="round" stroke-linejoin="round" opacity="0.3"/></g></g><path d="M1825.6 164.3 L1832.3 137.4 L1848 119.5 L1887.2 79.5 L1922.7 102.7 L1925.7 156.8 L1886.1 179.2 L1851.8 185.9 Z" fill="none" stroke="#000" stroke-width="1.3" stroke-linejoin="round"/><rect x="1730.7" y="37.3" width="203.8" height="203.6" fill="none" stroke="#000" stroke-width="1.3"/><text transform="translate(1761.7 266.4) scale(1.08 1)" font-size="19.2" text-anchor="middle">0</text><text transform="translate(1820.7 266.4) scale(1.08 1)" font-size="19.2" text-anchor="middle">10<tspan dy="-7.7" font-size="11.1">3</tspan></text><text transform="translate(1869.7 266.4) scale(1.08 1)" font-size="19.2" text-anchor="middle">10<tspan dy="-7.7" font-size="11.1">4</tspan></text><text transform="translate(1916.7 266.4) scale(1.08 1)" font-size="19.2" text-anchor="middle">10<tspan dy="-7.7" font-size="11.1">5</tspan></text><path d="M1761.7 240.9v6M1818.7 240.9v6M1867.7 240.9v6M1914.7 240.9v6M1833.5 240.9v3M1842.1 240.9v3M1848.2 240.9v3M1852.9 240.9v3M1856.8 240.9v3M1860.1 240.9v3M1863 240.9v3M1865.5 240.9v3M1881.8 240.9v3M1890.1 240.9v3M1896 240.9v3M1900.6 240.9v3M1904.3 240.9v3M1907.4 240.9v3M1910.1 240.9v3M1912.5 240.9v3M1928.8 240.9v3M1775.4 240.9v3M1785.8 240.9v3M1793.4 240.9v3M1799.2 240.9v3M1803.8 240.9v3M1807.7 240.9v3M1811 240.9v3M1813.9 240.9v3M1816.4 240.9v3M1748 240.9v3M1737.6 240.9v3M1752.2 240.9v4.5M1754.2 240.9v4.5M1756.2 240.9v4.5M1758.2 240.9v4.5M1760.2 240.9v4.5M1762.2 240.9v4.5M1764.2 240.9v4.5M1766.2 240.9v4.5M1768.2 240.9v4.5M1770.2 240.9v4.5M1772.2 240.9v4.5" stroke="#000" stroke-width="1" fill="none"/><text transform="translate(1592.7 89.6) scale(1.08 1)" font-size="24.5">0.88</text><text transform="translate(1826.7 89.6) scale(1.08 1)" font-size="24.5">78</text><text transform="translate(1530 24.3) scale(1.08 1)" font-size="22.6">Control (mSrtA<tspan dy="-8.5" font-size="14">-</tspan><tspan dy="8.5">)</tspan></text><text transform="translate(1757 24.3) scale(1.08 1)" font-size="22.6">Vil1-CreERT2</text><text transform="translate(1419.8 209.5) rotate(-90) scale(1.08 1)" font-size="22.6">IECs (donors)</text><text transform="translate(1463 238) rotate(-90) scale(1.08 1)" font-size="22.6">Biotin-PE</text><text transform="translate(1505.7 295) scale(1.08 1)" font-size="22.6">FLAG (mSrtA)-APC</text><line x1="1455.6" y1="289.2" x2="1455.6" y2="265.1" stroke="#000" stroke-width="1.3"/><path d="M1455.6 255.6 L1460.2 268.6 L1455.6 265.1 L1451 268.6 Z" fill="#000"/><line x1="1455" y1="288.6" x2="1479.6" y2="288.6" stroke="#000" stroke-width="1.3"/><path d="M1489.1 288.6 L1476.1 293.2 L1479.6 288.6 L1476.1 284 Z" fill="#000"/><path d="M1538 541h0m1 3h0m2-6h0m0 3h0m2 1h0m1-1h0m5 5h0m1-18h0m0 15h0m1-7h0m0 1h0m0 7h0m3-4h0m0 3h0m2-1h0m1-6h0m1 6h0m1 3h0m1-1h0m0 1h0m0 2h0m1-15h0m0 16h0m0 4h0m1-14h0m1-5h0m0 8h0m0 5h0m1-8h0m0 5h0m0 4h0m1-9h0m0 4h0m1 0h0m3-7h0m0 14h0m0 3h0m1-5h0m1-8h0m2 4h0m0 2h0m2 1h0m1 0h0m1-2h0m2-1h0m3 1h0m1 2h0m2-18h0m15 11h0m0 6h0m3-4h0m7-2h0m2-8h0m1-5h0m1 14h0m0 5h0m2-7h0m1-7h0m4 6h0m1-12h0m0 1h0m0 17h0m1-6h0m3 3h0m1-1h0m0 12h0m1-23h0m1 17h0m0 2h0m1-23h0m0 22h0m3 0h0m1-8h0m1 0h0m0 10h0m1-5h0m1-2h0m0 1h0m0 12h0m1-1h0m0 2h0m1-6h0m1-29h0m0 19h0m0 6h0m0 13h0m1-25h0m0 3h0m1-11h0m0 7h0m0 6h0m0 10h0m1 0h0m1-12h0m0 13h0m0 7h0m1-8h0m0 6h0m1-34h0m0 14h0m0 4h0m0 7h0m1-11h0m0 3h0m0 1h0m0 4h0m0 10h0m0 4h0m1-23h0m1 8h0m0 4h0m0 5h0m1-13h0m0 6h0m0 12h0m0 1h0m1-12h0m1-7h0m0 18h0m1-24h0m0 8h0m0 5h0m0 1h0m0 5h0m0 9h0m1-24h0m0 1h0m0 2h0m0 1h0m0 2h0m0 3h0m0 1h0m0 3h0m0 10h0m1-19h0m0 4h0m0 3h0m0 6h0m0 4h0m1-26h0m0 4h0m0 2h0m0 2h0m0 1h0m0 7h0m0 4h0m0 2h0m0 2h0m1-14h0m0 8h0m1-20h0m0 8h0m0 3h0m0 1h0m0 4h0m0 5h0m0 14h0m1-22h0m0 6h0m0 9h0m0 4h0m1-17h0m0 5h0m0 2h0m0 6h0m1-23h0m0 4h0m0 5h0m0 14h0m0 8h0m1-29h0m0 4h0m0 8h0m0 1h0m0 4h0m0 2h0m0 5h0m1-17h0m0 3h0m0 1h0m0 1h0m0 2h0m0 4h0m0 10h0m1-37h0m0 8h0m0 7h0m0 2h0m0 3h0m0 2h0m0 2h0m0 7h0m0 1h0m0 2h0m0 4h0m1-25h0m0 1h0m0 2h0m0 2h0m0 7h0m0 1h0m0 1h0m0 5h0m1-21h0m0 4h0m0 2h0m0 3h0m0 2h0m0 1h0m0 9h0m1-32h0m0 12h0m0 4h0m0 5h0m0 7h0m0 1h0m0 2h0m0 8h0m0 1h0m1-34h0m0 8h0m0 2h0m0 2h0m0 2h0m0 3h0m0 9h0m0 1h0m1-25h0m0 8h0m0 4h0m0 5h0m0 3h0m0 1h0m0 1h0m0 1h0m1-54h0m0 31h0m0 7h0m0 7h0m0 3h0m0 13h0m1-30h0m0 4h0m0 1h0m0 1h0m0 1h0m0 3h0m0 1h0m0 1h0m0 2h0m0 4h0m0 1h0m0 4h0m1-19h0m0 8h0m0 4h0m0 4h0m0 4h0m0 2h0m0 5h0m1-51h0m0 18h0m0 6h0m0 11h0m1-17h0m0 4h0m0 3h0m0 4h0m0 4h0m0 2h0m0 4h0m0 6h0m1-40h0m0 25h0m0 2h0m0 7h0m0 7h0m0 4h0m1-29h0m0 26h0m0 1h0m0 2h0m1-22h0m0 1h0m0 5h0m1-43h0m0 36h0m0 4h0m0 2h0m0 2h0m0 3h0m0 20h0m1-28h0m0 4h0m0 1h0m0 1h0m0 3h0m0 3h0m0 3h0m0 5h0m1-61h0m0 6h0m0 30h0m0 4h0m0 4h0m0 2h0m0 1h0m0 4h0m0 3h0m0 1h0m0 8h0m1-23h0m0 10h0m0 1h0m0 1h0m0 1h0m0 1h0m0 1h0m0 2h0m0 10h0m1-57h0m0 21h0m0 1h0m0 1h0m0 9h0m0 3h0m0 1h0m0 2h0m0 2h0m0 7h0m0 1h0m0 4h0m0 21h0m1-74h0m0 19h0m0 13h0m0 5h0m0 1h0m0 4h0m0 2h0m0 1h0m0 1h0m0 1h0m0 5h0m0 1h0m0 3h0m0 1h0m0 2h0m0 3h0m0 6h0m1-88h0m0 43h0m0 2h0m0 1h0m0 4h0m0 4h0m0 1h0m0 2h0m0 2h0m0 1h0m0 2h0m0 1h0m0 7h0m0 3h0m0 11h0m0 1h0m1-35h0m0 1h0m0 7h0m0 6h0m0 3h0m0 2h0m0 5h0m1-69h0m0 12h0m0 14h0m0 2h0m0 5h0m0 15h0m0 4h0m0 1h0m0 3h0m0 2h0m0 6h0m0 5h0m0 1h0m0 4h0m0 9h0m0 3h0m1-91h0m0 9h0m0 22h0m0 15h0m0 1h0m0 6h0m0 5h0m0 2h0m0 1h0m0 1h0m0 1h0m0 3h0m0 1h0m0 1h0m0 3h0m0 1h0m0 1h0m0 13h0m1-101h0m0 61h0m0 2h0m0 1h0m0 2h0m0 2h0m0 3h0m0 1h0m0 1h0m0 1h0m0 2h0m0 1h0m0 4h0m0 7h0m0 1h0m0 3h0m0 1h0m0 1h0m0 10h0m0 4h0m1-87h0m0 34h0m0 10h0m0 4h0m0 2h0m0 5h0m0 1h0m0 1h0m0 2h0m0 1h0m0 5h0m0 16h0m1-82h0m0 39h0m0 5h0m0 3h0m0 13h0m0 4h0m0 1h0m0 1h0m0 5h0m0 4h0m0 4h0m0 2h0m1-71h0m0 34h0m0 2h0m0 1h0m0 1h0m0 3h0m0 2h0m0 4h0m0 4h0m0 1h0m0 2h0m0 3h0m0 5h0m0 4h0m0 2h0m0 4h0m1-79h0m0 38h0m0 2h0m0 8h0m0 1h0m0 1h0m0 3h0m0 2h0m0 5h0m0 3h0m0 4h0m0 2h0m0 16h0m1-41h0m0 5h0m0 2h0m0 3h0m0 2h0m0 1h0m0 1h0m0 2h0m0 2h0m0 2h0m0 1h0m0 8h0m0 9h0m1-89h0m0 26h0m0 4h0m0 18h0m0 3h0m0 1h0m0 2h0m0 2h0m0 5h0m0 5h0m0 2h0m0 1h0m0 2h0m1-57h0m0 17h0m0 12h0m0 11h0m0 5h0m0 1h0m0 1h0m0 1h0m0 1h0m0 1h0m0 1h0m0 3h0m0 1h0m0 4h0m0 1h0m0 1h0m0 5h0m0 11h0m1-89h0m0 6h0m0 13h0m0 23h0m0 4h0m0 10h0m0 4h0m0 2h0m0 1h0m0 1h0m0 1h0m0 1h0m0 1h0m0 3h0m0 1h0m0 5h0m1-36h0m0 6h0m0 5h0m0 8h0m0 1h0m0 3h0m0 3h0m0 1h0m0 1h0m0 1h0m0 1h0m0 3h0m0 2h0m0 1h0m0 1h0m0 4h0m1-38h0m0 8h0m0 1h0m0 1h0m0 3h0m0 1h0m0 3h0m0 2h0m0 1h0m0 1h0m0 1h0m0 1h0m0 1h0m0 1h0m0 6h0m0 1h0m0 2h0m0 3h0m0 6h0m0 2h0m1-85h0m0 43h0m0 7h0m0 1h0m0 2h0m0 1h0m0 1h0m0 1h0m0 1h0m0 2h0m0 2h0m0 1h0m0 6h0m0 3h0m0 4h0m0 3h0m0 2h0m0 1h0m0 3h0m1-43h0m0 9h0m0 1h0m0 2h0m0 5h0m0 4h0m0 2h0m0 1h0m0 1h0m0 1h0m0 1h0m0 1h0m0 8h0m0 2h0m1-99h0m0 62h0m0 6h0m0 1h0m0 2h0m0 2h0m0 3h0m0 2h0m0 2h0m0 2h0m0 3h0m0 4h0m0 1h0m0 6h0m0 2h0m0 2h0m0 5h0m1-95h0m0 16h0m0 24h0m0 11h0m0 5h0m0 4h0m0 1h0m0 3h0m0 1h0m0 2h0m0 1h0m0 1h0m0 3h0m0 3h0m0 8h0m0 2h0m1-39h0m0 5h0m0 7h0m0 1h0m0 2h0m0 1h0m0 2h0m0 5h0m0 2h0m0 2h0m0 1h0m0 3h0m0 1h0m0 2h0m0 4h0m0 2h0m0 1h0m1-83h0m0 44h0m0 6h0m0 2h0m0 5h0m0 1h0m0 1h0m0 4h0m0 3h0m0 3h0m0 4h0m0 3h0m0 3h0m1-44h0m0 13h0m0 5h0m0 4h0m0 6h0m0 1h0m0 1h0m0 1h0m0 1h0m0 2h0m0 1h0m0 1h0m0 9h0m0 2h0m0 3h0m0 11h0m1-51h0m0 6h0m0 1h0m0 2h0m0 1h0m0 3h0m0 5h0m0 2h0m0 12h0m0 3h0m0 4h0m0 3h0m0 4h0m0 4h0m1-57h0m0 4h0m0 1h0m0 8h0m0 2h0m0 1h0m0 3h0m0 5h0m0 3h0m0 1h0m0 4h0m0 1h0m0 1h0m0 8h0m0 6h0m0 7h0m1-68h0m0 16h0m0 17h0m0 2h0m0 10h0m0 3h0m0 2h0m0 2h0m0 1h0m1-25h0m0 4h0m0 4h0m0 1h0m0 1h0m0 1h0m0 3h0m0 5h0m0 2h0m0 2h0m1-59h0m0 18h0m0 10h0m0 15h0m0 2h0m0 4h0m0 2h0m0 2h0m1-19h0m0 3h0m0 1h0m0 18h0m0 9h0m0 1h0m1-86h0m0 44h0m0 7h0m0 5h0m0 7h0m0 3h0m0 8h0m0 4h0m0 3h0m0 12h0m1-39h0m0 1h0m0 9h0m0 6h0m0 3h0m0 5h0m0 3h0m1-29h0m0 8h0m0 26h0m1-38h0m0 10h0m0 4h0m0 4h0m0 10h0m1-8h0m0 7h0m0 1h0m1-18h0m0 23h0m0 6h0m0 6h0m1-35h0m0 8h0m0 2h0m1 2h0" fill="none" stroke="#111" stroke-width="2.3" stroke-linecap="square"/><g clip-path="url(#cp11)"><g filter="url(#fB2)"><rect x="1476.9" y="347.9" width="283.8" height="283.6" fill="#000"/><path d="M1648.7 542.1 L1678.5 543.5 L1695.3 550.3" fill="none" stroke="#fff" stroke-width="12" stroke-linecap="round" stroke-linejoin="round" opacity="0.8"/><path d="M1644.9 542.1 L1686 546.5 L1699.1 559.6" fill="none" stroke="#fff" stroke-width="20" stroke-linecap="round" stroke-linejoin="round" opacity="0.4"/></g></g><rect x="1620.7" y="421.5" width="92.6" height="100.8" fill="none" stroke="#000" stroke-width="1.3"/><rect x="1516.9" y="387.9" width="203.8" height="203.6" fill="none" stroke="#000" stroke-width="1.3"/><text transform="translate(1547.9 617) scale(1.08 1)" font-size="19.2" text-anchor="middle">0</text><text transform="translate(1606.9 617) scale(1.08 1)" font-size="19.2" text-anchor="middle">10<tspan dy="-7.7" font-size="11.1">3</tspan></text><text transform="translate(1655.9 617) scale(1.08 1)" font-size="19.2" text-anchor="middle">10<tspan dy="-7.7" font-size="11.1">4</tspan></text><text transform="translate(1702.9 617) scale(1.08 1)" font-size="19.2" text-anchor="middle">10<tspan dy="-7.7" font-size="11.1">5</tspan></text><text transform="translate(1506.9 569.5) scale(1.08 1)" font-size="19.2" text-anchor="end">0</text><text transform="translate(1508.9 511.5) scale(1.08 1)" font-size="19.2" text-anchor="end">10<tspan dy="-7.7" font-size="11.1">3</tspan></text><text transform="translate(1508.9 460.5) scale(1.08 1)" font-size="19.2" text-anchor="end">10<tspan dy="-7.7" font-size="11.1">4</tspan></text><text transform="translate(1508.9 410) scale(1.08 1)" font-size="19.2" text-anchor="end">10<tspan dy="-7.7" font-size="11.1">5</tspan></text><path d="M1547.9 591.5v6M1604.9 591.5v6M1653.9 591.5v6M1700.9 591.5v6M1619.7 591.5v3M1628.3 591.5v3M1634.4 591.5v3M1639.1 591.5v3M1643 591.5v3M1646.3 591.5v3M1649.2 591.5v3M1651.7 591.5v3M1668 591.5v3M1676.3 591.5v3M1682.2 591.5v3M1686.8 591.5v3M1690.5 591.5v3M1693.6 591.5v3M1696.3 591.5v3M1698.7 591.5v3M1715 591.5v3M1561.6 591.5v3M1572 591.5v3M1579.6 591.5v3M1585.4 591.5v3M1590 591.5v3M1593.9 591.5v3M1597.2 591.5v3M1600.1 591.5v3M1602.6 591.5v3M1534.2 591.5v3M1523.8 591.5v3M1538.4 591.5v4.5M1540.4 591.5v4.5M1542.4 591.5v4.5M1544.4 591.5v4.5M1546.4 591.5v4.5M1548.4 591.5v4.5M1550.4 591.5v4.5M1552.4 591.5v4.5M1554.4 591.5v4.5M1556.4 591.5v4.5M1558.4 591.5v4.5M1516.9 562.5h-6M1516.9 503.5h-6M1516.9 452.5h-6M1516.9 402h-6M1516.9 488.1h-3M1516.9 479.2h-3M1516.9 472.8h-3M1516.9 467.9h-3M1516.9 463.8h-3M1516.9 460.4h-3M1516.9 457.4h-3M1516.9 454.8h-3M1516.9 437.3h-3M1516.9 428.4h-3M1516.9 422.1h-3M1516.9 417.2h-3M1516.9 413.2h-3M1516.9 409.8h-3M1516.9 406.9h-3M1516.9 404.3h-3M1516.9 548.3h-3M1516.9 537.5h-3M1516.9 529.7h-3M1516.9 523.7h-3M1516.9 518.9h-3M1516.9 514.9h-3M1516.9 511.5h-3M1516.9 508.5h-3M1516.9 505.9h-3M1516.9 576.7h-3M1516.9 587.5h-3M1516.9 572h-4.5M1516.9 570h-4.5M1516.9 568h-4.5M1516.9 566h-4.5M1516.9 564h-4.5M1516.9 562h-4.5M1516.9 560h-4.5M1516.9 558h-4.5M1516.9 556h-4.5M1516.9 554h-4.5M1516.9 552h-4.5" stroke="#000" stroke-width="1" fill="none"/><path d="M1816 489h0m3 26h0m1-9h0m1-13h0m4 16h0m0 25h0m1-42h0m1 25h0m1-19h0m1-11h0m1 31h0m0 14h0m1-42h0m1 26h0m1 2h0m1-28h0m0 2h0m1 9h0m0 3h0m0 4h0m1-13h0m1-1h0m0 2h0m0 6h0m1-25h0m0 8h0m0 6h0m0 1h0m0 5h0m0 6h0m1-13h0m0 7h0m0 1h0m0 9h0m0 1h0m0 22h0m1-41h0m1 6h0m1-6h0m0 3h0m0 5h0m0 46h0m1-63h0m0 6h0m0 3h0m0 3h0m0 4h0m0 1h0m0 8h0m0 29h0m1-42h0m0 2h0m0 3h0m0 2h0m1-12h0m0 3h0m0 6h0m0 6h0m0 10h0m1-27h0m0 9h0m0 1h0m0 5h0m0 3h0m0 26h0m1-41h0m0 3h0m0 3h0m0 6h0m0 5h0m1-21h0m0 5h0m0 7h0m0 8h0m0 3h0m1-19h0m0 2h0m0 4h0m0 3h0m0 1h0m0 17h0m0 7h0m1-42h0m0 6h0m0 3h0m0 1h0m0 2h0m0 1h0m0 3h0m0 6h0m0 6h0m0 43h0m1-56h0m0 3h0m0 1h0m0 12h0m0 1h0m1-26h0m0 3h0m0 1h0m0 1h0m0 2h0m0 11h0m0 3h0m0 3h0m1-20h0m0 4h0m0 1h0m0 3h0m0 7h0m0 21h0m1-47h0m0 1h0m0 4h0m0 9h0m0 4h0m0 1h0m0 8h0m0 2h0m0 1h0m0 12h0m1-42h0m0 9h0m0 1h0m0 12h0m0 11h0m0 19h0m1-42h0m0 1h0m0 3h0m0 2h0m0 1h0m0 11h0m0 9h0m1-36h0m0 8h0m0 7h0m0 3h0m0 7h0m0 2h0m0 6h0m0 1h0m0 14h0m0 25h0m1-54h0m0 4h0m0 5h0m0 7h0m0 4h0m1-50h0m0 2h0m0 19h0m0 2h0m0 1h0m0 7h0m0 15h0m0 8h0m0 9h0m1-36h0m0 18h0m0 1h0m1-23h0m0 1h0m0 2h0m0 5h0m0 3h0m0 27h0m0 13h0m0 4h0m1-56h0m0 1h0m0 11h0m0 2h0m0 8h0m0 12h0m0 3h0m1-29h0m0 4h0m0 1h0m0 1h0m0 17h0m0 7h0m0 21h0m1-66h0m0 4h0m0 2h0m0 5h0m0 9h0m0 12h0m0 2h0m0 16h0m0 15h0m1-82h0m0 33h0m0 12h0m0 26h0m1-66h0m0 8h0m0 9h0m0 9h0m1-4h0m0 2h0m0 18h0m0 1h0m0 23h0m1-47h0m0 13h0m0 2h0m0 7h0m1-15h0m0 5h0m0 6h0m0 1h0m0 2h0m0 4h0m0 4h0m0 6h0m1-43h0m0 8h0m0 3h0m0 8h0m0 14h0m0 22h0m0 20h0m1-103h0m0 20h0m0 3h0m0 14h0m0 1h0m0 5h0m0 1h0m0 4h0m0 2h0m0 4h0m0 4h0m0 17h0m0 4h0m0 11h0m1-64h0m0 28h0m0 2h0m0 6h0m0 6h0m0 7h0m1-37h0m0 7h0m0 7h0m0 1h0m0 10h0m0 3h0m0 9h0m0 13h0m0 4h0m0 9h0m1-79h0m0 15h0m0 5h0m0 8h0m0 1h0m0 5h0m0 20h0m0 26h0m1-82h0m0 16h0m0 4h0m0 1h0m0 1h0m0 8h0m0 4h0m0 1h0m0 1h0m0 1h0m0 4h0m0 4h0m0 16h0m0 1h0m0 5h0m1-53h0m0 5h0m0 12h0m0 3h0m0 5h0m0 1h0m0 4h0m0 4h0m0 3h0m0 9h0m0 9h0m0 18h0m0 15h0m1-96h0m0 1h0m0 19h0m0 5h0m0 5h0m0 5h0m0 10h0m0 2h0m1-56h0m0 7h0m0 8h0m0 6h0m0 5h0m0 2h0m0 5h0m0 4h0m0 12h0m0 6h0m0 15h0m0 46h0m1-115h0m0 1h0m0 6h0m0 3h0m0 7h0m0 6h0m0 10h0m0 3h0m0 8h0m0 11h0m0 4h0m0 18h0m0 9h0m1-72h0m0 12h0m0 13h0m0 18h0m0 26h0m1-82h0m0 16h0m0 22h0m0 6h0m0 4h0m0 4h0m0 21h0m0 19h0m1-100h0m0 17h0m0 27h0m0 1h0m0 25h0m0 20h0m0 16h0m1-83h0m0 3h0m0 3h0m0 1h0m0 9h0m0 1h0m0 1h0m0 4h0m0 3h0m0 3h0m0 1h0m0 6h0m0 3h0m0 4h0m0 3h0m0 7h0m0 7h0m0 5h0m1-73h0m0 11h0m0 1h0m0 3h0m0 1h0m0 6h0m0 2h0m0 10h0m0 4h0m0 8h0m0 2h0m0 7h0m0 1h0m0 4h0m0 11h0m0 18h0m1-91h0m0 1h0m0 7h0m0 2h0m0 3h0m0 1h0m0 5h0m0 1h0m0 2h0m0 14h0m0 13h0m0 1h0m0 2h0m0 3h0m0 4h0m0 10h0m0 14h0m0 6h0m1-87h0m0 3h0m0 11h0m0 8h0m0 1h0m0 39h0m0 18h0m1-79h0m0 13h0m0 5h0m0 3h0m0 1h0m0 19h0m0 10h0m0 11h0m0 2h0m0 1h0m0 4h0m0 10h0m0 3h0m1-94h0m0 12h0m0 18h0m0 5h0m0 2h0m0 6h0m0 8h0m0 12h0m0 4h0m0 2h0m0 3h0m0 7h0m0 14h0m0 3h0m0 22h0m1-105h0m0 3h0m0 3h0m0 12h0m0 3h0m0 5h0m0 8h0m0 8h0m0 7h0m0 5h0m0 3h0m0 17h0m0 21h0m1-111h0m0 5h0m0 23h0m0 3h0m0 7h0m0 14h0m0 11h0m0 4h0m0 4h0m0 3h0m0 4h0m0 5h0m0 3h0m0 11h0m0 3h0m1-68h0m0 6h0m0 11h0m0 4h0m0 6h0m0 8h0m0 2h0m0 6h0m0 13h0m0 5h0m0 2h0m0 7h0m1-87h0m0 1h0m0 4h0m0 11h0m0 9h0m0 2h0m0 2h0m0 9h0m0 11h0m0 2h0m0 2h0m0 11h0m0 1h0m0 15h0m0 16h0m0 3h0m1-91h0m0 2h0m0 8h0m0 6h0m0 6h0m0 4h0m0 8h0m0 7h0m0 6h0m0 12h0m0 1h0m0 1h0m0 10h0m0 9h0m0 1h0m0 4h0m0 4h0m1-109h0m0 25h0m0 4h0m0 12h0m0 1h0m0 1h0m0 2h0m0 2h0m0 5h0m0 4h0m0 1h0m0 2h0m0 5h0m0 1h0m0 12h0m0 6h0m0 5h0m0 3h0m0 2h0m0 13h0m0 1h0m1-88h0m0 6h0m0 3h0m0 1h0m0 1h0m0 16h0m0 5h0m0 4h0m0 1h0m0 4h0m0 6h0m0 3h0m0 7h0m0 4h0m0 3h0m0 1h0m0 10h0m0 1h0m0 2h0m0 3h0m0 2h0m1-101h0m0 12h0m0 2h0m0 10h0m0 8h0m0 5h0m0 6h0m0 1h0m0 3h0m0 3h0m0 2h0m0 1h0m0 3h0m0 10h0m0 18h0m0 1h0m0 21h0m1-90h0m0 11h0m0 21h0m0 7h0m0 3h0m0 5h0m0 9h0m0 5h0m0 1h0m0 11h0m0 7h0m1-87h0m0 1h0m0 5h0m0 1h0m0 9h0m0 12h0m0 10h0m0 1h0m0 1h0m0 5h0m0 8h0m0 17h0m0 18h0m0 1h0m1-88h0m0 20h0m0 25h0m0 4h0m0 7h0m0 1h0m0 3h0m0 17h0m0 9h0m0 4h0m0 6h0m0 5h0m1-110h0m0 3h0m0 11h0m0 8h0m0 1h0m0 1h0m0 9h0m0 5h0m0 1h0m0 1h0m0 2h0m0 5h0m0 3h0m0 5h0m0 2h0m0 2h0m0 3h0m0 3h0m0 1h0m0 1h0m0 1h0m0 3h0m0 1h0m0 3h0m0 3h0m0 7h0m0 8h0m1-80h0m0 13h0m0 6h0m0 2h0m0 3h0m0 6h0m0 5h0m0 3h0m0 2h0m0 9h0m0 4h0m0 4h0m0 10h0m0 3h0m0 8h0m1-91h0m0 11h0m0 18h0m0 10h0m0 3h0m0 7h0m0 3h0m0 6h0m0 6h0m0 3h0m0 6h0m0 2h0m0 4h0m0 1h0m0 2h0m0 6h0m0 17h0m0 3h0m1-110h0m0 15h0m0 3h0m0 5h0m0 12h0m0 3h0m0 4h0m0 2h0m0 1h0m0 2h0m0 1h0m0 1h0m0 5h0m0 1h0m0 11h0m0 3h0m0 15h0m0 17h0m1-93h0m0 18h0m0 1h0m0 2h0m0 3h0m0 1h0m0 1h0m0 21h0m0 3h0m0 9h0m0 1h0m0 3h0m0 2h0m0 5h0m0 20h0m0 14h0m1-115h0m0 34h0m0 8h0m0 5h0m0 4h0m0 11h0m0 4h0m0 3h0m0 3h0m0 11h0m0 17h0m0 1h0m0 5h0m1-85h0m0 3h0m0 6h0m0 2h0m0 10h0m0 5h0m0 4h0m0 2h0m0 9h0m0 4h0m0 7h0m0 2h0m0 14h0m0 6h0m0 7h0m0 8h0m1-98h0m0 5h0m0 9h0m0 36h0m0 4h0m0 3h0m0 3h0m0 5h0m0 1h0m0 2h0m0 2h0m0 12h0m1-91h0m0 6h0m0 5h0m0 5h0m0 1h0m0 2h0m0 28h0m0 23h0m0 3h0m0 23h0m0 7h0m0 10h0m0 1h0m1-82h0m0 4h0m0 4h0m0 1h0m0 10h0m0 12h0m0 54h0m1-90h0m0 2h0m0 1h0m0 9h0m0 1h0m0 1h0m0 5h0m0 7h0m0 10h0m0 8h0m0 2h0m0 8h0m1-73h0m0 34h0m0 7h0m0 1h0m0 5h0m0 17h0m0 15h0m1-83h0m0 3h0m0 22h0m0 1h0m0 2h0m0 7h0m0 8h0m0 2h0m0 4h0m0 13h0m0 10h0m0 23h0m0 3h0m1-109h0m0 7h0m0 11h0m0 6h0m0 7h0m0 7h0m0 2h0m0 9h0m0 6h0m0 5h0m0 1h0m0 5h0m0 32h0m0 1h0m0 14h0m1-112h0m0 11h0m0 31h0m0 14h0m0 6h0m0 15h0m0 1h0m0 1h0m0 13h0m1-61h0m0 4h0m0 4h0m0 13h0m0 1h0m0 35h0m0 24h0m1-85h0m0 17h0m0 50h0m0 2h0m1-71h0m0 14h0m0 2h0m0 3h0m0 36h0m0 4h0m1-72h0m0 22h0m0 13h0m0 18h0m1-33h0m0 14h0m0 7h0m0 19h0m0 36h0m1-108h0m0 40h0m0 14h0m0 37h0m0 31h0m1-112h0m0 19h0m0 19h0m0 11h0m0 29h0m1-67h0m0 20h0m0 4h0m0 10h0m0 16h0m0 7h0m1-37h0m0 22h0m0 8h0m0 2h0m0 19h0m1-81h0m0 27h0m0 25h0m1-25h0m0 10h0m0 8h0m1-5h0m1-18h0m0 58h0m0 2h0m1-56h0m0 39h0m1-57h0m0 64h0m1-28h0m2-45h0m0 33h0m0 11h0m0 54h0" fill="none" stroke="#111" stroke-width="2.3" stroke-linecap="square"/><g clip-path="url(#cp12)"><g filter="url(#fB3)"><rect x="1690.7" y="347.9" width="283.8" height="283.6" fill="#000"/><path d="M1880.1 490.5 L1898.8 505.5 L1902.5 539.1 L1898.8 554" fill="none" stroke="#fff" stroke-width="13" stroke-linecap="round" stroke-linejoin="round" opacity="0.8"/><path d="M1872.7 488.7 L1898.8 501.7 L1904.4 539.1 L1896.9 557.7" fill="none" stroke="#fff" stroke-width="24" stroke-linecap="round" stroke-linejoin="round" opacity="0.4"/></g></g><rect x="1834.2" y="421.5" width="93.3" height="100.8" fill="none" stroke="#000" stroke-width="1.3"/><rect x="1730.7" y="387.9" width="203.8" height="203.6" fill="none" stroke="#000" stroke-width="1.3"/><text transform="translate(1761.7 617) scale(1.08 1)" font-size="19.2" text-anchor="middle">0</text><text transform="translate(1820.7 617) scale(1.08 1)" font-size="19.2" text-anchor="middle">10<tspan dy="-7.7" font-size="11.1">3</tspan></text><text transform="translate(1869.7 617) scale(1.08 1)" font-size="19.2" text-anchor="middle">10<tspan dy="-7.7" font-size="11.1">4</tspan></text><text transform="translate(1916.7 617) scale(1.08 1)" font-size="19.2" text-anchor="middle">10<tspan dy="-7.7" font-size="11.1">5</tspan></text><path d="M1761.7 591.5v6M1818.7 591.5v6M1867.7 591.5v6M1914.7 591.5v6M1833.5 591.5v3M1842.1 591.5v3M1848.2 591.5v3M1852.9 591.5v3M1856.8 591.5v3M1860.1 591.5v3M1863 591.5v3M1865.5 591.5v3M1881.8 591.5v3M1890.1 591.5v3M1896 591.5v3M1900.6 591.5v3M1904.3 591.5v3M1907.4 591.5v3M1910.1 591.5v3M1912.5 591.5v3M1928.8 591.5v3M1775.4 591.5v3M1785.8 591.5v3M1793.4 591.5v3M1799.2 591.5v3M1803.8 591.5v3M1807.7 591.5v3M1811 591.5v3M1813.9 591.5v3M1816.4 591.5v3M1748 591.5v3M1737.6 591.5v3M1752.2 591.5v4.5M1754.2 591.5v4.5M1756.2 591.5v4.5M1758.2 591.5v4.5M1760.2 591.5v4.5M1762.2 591.5v4.5M1764.2 591.5v4.5M1766.2 591.5v4.5M1768.2 591.5v4.5M1770.2 591.5v4.5M1772.2 591.5v4.5" stroke="#000" stroke-width="1" fill="none"/><text transform="translate(1557.2 445.7) scale(1.08 1)" font-size="24.5">0.46</text><text transform="translate(1788.7 445.7) scale(1.08 1)" font-size="24.5">65</text><text transform="translate(1530 374) scale(1.08 1)" font-size="22.6">Control (mSrtA<tspan dy="-8.5" font-size="14">-</tspan><tspan dy="8.5">)</tspan></text><text transform="translate(1757 374) scale(1.08 1)" font-size="22.6">Vil1-CreERT2</text><text transform="translate(1419.8 580) rotate(-90) scale(1.08 1)" font-size="22.6">IELs (acceptors)</text><text transform="translate(1469.5 588) rotate(-90) scale(1.08 1)" font-size="22.6">Biotin-PE</text><text transform="translate(1515.4 645.5) scale(1.08 1)" font-size="22.6">CD45-PE-Cy7</text><line x1="1461.3" y1="639.7" x2="1461.3" y2="616.6" stroke="#000" stroke-width="1.3"/><path d="M1461.3 607.1 L1465.9 620.1 L1461.3 616.6 L1456.7 620.1 Z" fill="#000"/><line x1="1460.7" y1="639.1" x2="1488.8" y2="639.1" stroke="#000" stroke-width="1.3"/><path d="M1498.3 639.1 L1485.3 643.7 L1488.8 639.1 L1485.3 634.5 Z" fill="#000"/></g><g id="panel_C"><g clip-path="url(#cp13)"><g filter="url(#fC1)"><rect x="79.2" y="705.2" width="285.1" height="284.5" fill="#000"/><path d="M140.7 917.9 L146.8 899.5 L151.7 874.9 L155.4 844.3 L159.1 813.6 L164 789.1 L173.8 779.3 L189.7 778 L205.7 779.3 L211.8 785.4 L214.3 801.3 L215.5 838.1 L216.1 874.9 L215.5 893.3 L208.1 900.7 L189.7 905.6 L178.7 914.2 L162.7 925.2 L150.5 927.7 L141.9 924 Z" fill="#fff" opacity="0.24"/><ellipse cx="159.1" cy="911.7" rx="19" ry="14" fill="#fff" opacity="0.28" transform="rotate(-32 159.1 911.7)"/><ellipse cx="159.1" cy="911.7" rx="14.8" ry="10.9" fill="#fff" opacity="0.3" transform="rotate(-32 159.1 911.7)"/><ellipse cx="159.1" cy="911.7" rx="11" ry="8.1" fill="#fff" opacity="0.36" transform="rotate(-32 159.1 911.7)"/><ellipse cx="159.1" cy="911.7" rx="7.6" ry="5.6" fill="#fff" opacity="0.42" transform="rotate(-32 159.1 911.7)"/><ellipse cx="159.1" cy="911.7" rx="4.2" ry="3.1" fill="#fff" opacity="0.5" transform="rotate(-32 159.1 911.7)"/><path d="M208.1 791.5 L210 838.1 L210.6 884.7" fill="none" stroke="#fff" stroke-width="5" stroke-linecap="round" stroke-linejoin="round" opacity="0.3"/><path d="M173.8 795.2 L178.7 816.1 L188.5 838.1" fill="none" stroke="#fff" stroke-width="9" stroke-linecap="round" stroke-linejoin="round" opacity="0.28"/><ellipse cx="192.2" cy="803.8" rx="16" ry="18" fill="#fff" opacity="0.154" transform="rotate(10 192.2 803.8)"/><ellipse cx="192.2" cy="803.8" rx="12.5" ry="14" fill="#fff" opacity="0.165" transform="rotate(10 192.2 803.8)"/><ellipse cx="192.2" cy="803.8" rx="9.3" ry="10.4" fill="#fff" opacity="0.198" transform="rotate(10 192.2 803.8)"/><ellipse cx="192.2" cy="803.8" rx="6.4" ry="7.2" fill="#fff" opacity="0.231" transform="rotate(10 192.2 803.8)"/><ellipse cx="192.2" cy="803.8" rx="3.5" ry="4" fill="#fff" opacity="0.275" transform="rotate(10 192.2 803.8)"/><ellipse cx="165.2" cy="856.5" rx="10" ry="17" fill="#fff" opacity="0.168" transform="rotate(10 165.2 856.5)"/><ellipse cx="165.2" cy="856.5" rx="7.8" ry="13.3" fill="#fff" opacity="0.18" transform="rotate(10 165.2 856.5)"/><ellipse cx="165.2" cy="856.5" rx="5.8" ry="9.9" fill="#fff" opacity="0.216" transform="rotate(10 165.2 856.5)"/><ellipse cx="165.2" cy="856.5" rx="4" ry="6.8" fill="#fff" opacity="0.252" transform="rotate(10 165.2 856.5)"/><ellipse cx="165.2" cy="856.5" rx="2.2" ry="3.7" fill="#fff" opacity="0.3" transform="rotate(10 165.2 856.5)"/><ellipse cx="203.2" cy="884.7" rx="7" ry="5" fill="#fff" opacity="0.14"/><ellipse cx="203.2" cy="884.7" rx="5.5" ry="3.9" fill="#fff" opacity="0.15"/><ellipse cx="203.2" cy="884.7" rx="4.1" ry="2.9" fill="#fff" opacity="0.18"/><ellipse cx="203.2" cy="884.7" rx="2.8" ry="2" fill="#fff" opacity="0.21"/><ellipse cx="203.2" cy="884.7" rx="1.5" ry="1.1" fill="#fff" opacity="0.25"/><path d="M161.5 874.9 L156.6 899.5" fill="none" stroke="#fff" stroke-width="10" stroke-linecap="round" stroke-linejoin="round" opacity="0.3"/><path d="M278.1 816.1 L284.2 825.9 L287.9 850.4 L290.3 874.9 L292.8 899.5 L292.8 924 L286.6 933.8 L279.3 938.7 L269.5 931.4 L254.7 917.9 L243.7 900.7 L248.6 887.2 L259.7 868.8 L268.2 838.1 L273.2 821 Z" fill="#fff" opacity="0.4"/><path d="M278.1 828.3 L278.7 874.9 L278.1 926.5" fill="none" stroke="#fff" stroke-width="9" stroke-linecap="round" stroke-linejoin="round" opacity="0.45"/><ellipse cx="271.9" cy="904.4" rx="19" ry="24" fill="#fff" opacity="0.196"/><ellipse cx="271.9" cy="904.4" rx="14.8" ry="18.7" fill="#fff" opacity="0.21"/><ellipse cx="271.9" cy="904.4" rx="11" ry="13.9" fill="#fff" opacity="0.252"/><ellipse cx="271.9" cy="904.4" rx="7.6" ry="9.6" fill="#fff" opacity="0.294"/><ellipse cx="271.9" cy="904.4" rx="4.2" ry="5.3" fill="#fff" opacity="0.35"/></g></g><path d="M131 951h0m2-13h0m1-1h0m1 2h0m2-56h0m1-14h0m0 66h0m1-84h0m0 5h0m0 50h0m1-46h0m0 6h0m0 39h0m1-50h0m0 11h0m0 5h0m0 16h0m1-44h0m0 14h0m0 9h0m0 6h0m0 13h0m0 13h0m1-55h0m0 11h0m0 3h0m0 11h0m0 17h0m0 13h0m1-53h0m0 36h0m0 10h0m0 2h0m1-72h0m0 12h0m0 11h0m0 49h0m1 4h0m0 54h0m1-55h0m1-70h0m0 91h0m1-97h0m1 104h0m1-104h0m0 99h0m0 30h0m1-140h0m0 2h0m0 99h0m0 9h0m0 6h0m1-5h0m1 3h0m1-132h0m0 10h0m0 124h0m1 6h0m3-150h0m1 16h0m0 129h0m0 4h0m1-157h0m0 25h0m1 140h0m1 3h0m1-170h0m0 165h0m1-155h0m0 13h0m1 136h0m1-140h0m0 1h0m0 150h0m1-162h0m0 153h0m0 11h0m2-14h0m0 1h0m0 3h0m2-150h0m0 162h0m1-174h0m0 7h0m1 2h0m0 1h0m0 148h0m0 16h0m1-190h0m0 28h0m1-15h0m0 166h0m1-175h0m0 178h0m1 4h0m1-184h0m0 194h0m1-21h0m1-156h0m2-19h0m1 20h0m0 171h0m1-190h0m0 1h0m0 7h0m0 4h0m0 6h0m1-9h0m0 7h0m0 153h0m1-157h0m1 3h0m0 3h0m0 156h0m1-166h0m1 164h0m2-176h0m0 11h0m0 11h0m1-13h0m0 7h0m1-1h0m0 6h0m0 165h0m1-171h0m0 8h0m0 2h0m0 144h0m1 28h0m1-199h0m0 20h0m0 144h0m0 10h0m0 4h0m3-169h0m0 13h0m0 147h0m0 27h0m1-176h0m1 145h0m2-144h0m0 3h0m0 138h0m1-145h0m0 14h0m0 3h0m0 1h0m0 156h0m1-161h0m0 150h0m1-147h0m0 4h0m0 107h0m1-2h0m1 44h0m1-148h0m0 102h0m0 2h0m0 1h0m1-105h0m0 138h0m1-131h0m0 91h0m0 12h0m1 34h0m1-57h0m0 3h0m0 1h0m0 47h0m1-50h0m0 1h0m0 15h0m1-113h0m0 84h0m0 11h0m1-3h0m1-54h0m0 3h0m0 35h0m0 6h0m1-41h0m0 13h0m0 4h0m0 6h0m1-16h0m0 3h0m0 106h0m1-84h0m1 93h0m1-90h0m0 2h0m0 85h0m1-90h0m0 2h0m0 87h0m2-11h0m9 5h0m2 15h0m8-32h0m2-32h0m0 25h0m1-39h0m0 14h0m1 4h0m0 7h0m1 7h0m0 6h0m0 27h0m1-73h0m0 20h0m0 32h0m0 4h0m1-49h0m0 1h0m0 14h0m0 12h0m0 5h0m0 16h0m1-51h0m0 4h0m0 6h0m0 43h0m0 17h0m2-79h0m0 3h0m1-13h0m0 14h0m1-10h0m0 4h0m0 3h0m1 70h0m1-87h0m0 86h0m1 9h0m0 3h0m1-96h0m0 87h0m0 3h0m1-94h0m0 8h0m1-8h0m0 93h0m0 5h0m1-104h0m1 0h0m1 11h0m0 95h0m1-97h0m0 1h0m2 96h0m0 3h0m1 0h0m2-104h0m0 107h0m3-4h0m1 1h0m2-103h0m1-6h0m0 1h0m1 4h0m0 106h0m4-110h0m1 7h0m1-3h0m1 4h0m0 101h0m1-113h0m2 107h0m0 2h0m1-98h0m0 93h0m0 3h0m3-88h0m2 10h0m0 1h0m1 0h0m0 56h0m0 5h0m1-78h0m0 13h0m0 6h0m0 2h0m0 50h0m0 5h0m1 1h0m1-54h0m0 5h0m0 11h0m0 6h0m1-15h0m0 43h0m1-41h0m0 3h0m0 50h0m2-31h0m3-21h0" fill="none" stroke="#111" stroke-width="2.3" stroke-linecap="square"/><rect x="232.8" y="876.7" width="81.9" height="65.3" fill="none" stroke="#000" stroke-width="1.5"/><rect x="119.2" y="745.2" width="205.1" height="204.5" fill="none" stroke="#000" stroke-width="1.3"/><text transform="translate(150.2 975.2) scale(1.08 1)" font-size="19.2" text-anchor="middle">0</text><text transform="translate(209.2 975.2) scale(1.08 1)" font-size="19.2" text-anchor="middle">10<tspan dy="-7.7" font-size="11.1">3</tspan></text><text transform="translate(258.2 975.2) scale(1.08 1)" font-size="19.2" text-anchor="middle">10<tspan dy="-7.7" font-size="11.1">4</tspan></text><text transform="translate(305.2 975.2) scale(1.08 1)" font-size="19.2" text-anchor="middle">10<tspan dy="-7.7" font-size="11.1">5</tspan></text><text transform="translate(109.2 927.7) scale(1.08 1)" font-size="19.2" text-anchor="end">0</text><text transform="translate(111.2 869.7) scale(1.08 1)" font-size="19.2" text-anchor="end">10<tspan dy="-7.7" font-size="11.1">3</tspan></text><text transform="translate(111.2 818.7) scale(1.08 1)" font-size="19.2" text-anchor="end">10<tspan dy="-7.7" font-size="11.1">4</tspan></text><text transform="translate(111.2 768.2) scale(1.08 1)" font-size="19.2" text-anchor="end">10<tspan dy="-7.7" font-size="11.1">5</tspan></text><path d="M150.2 949.7v6M207.2 949.7v6M256.2 949.7v6M303.2 949.7v6M222 949.7v3M230.6 949.7v3M236.7 949.7v3M241.4 949.7v3M245.3 949.7v3M248.6 949.7v3M251.5 949.7v3M254 949.7v3M270.3 949.7v3M278.6 949.7v3M284.5 949.7v3M289.1 949.7v3M292.8 949.7v3M295.9 949.7v3M298.6 949.7v3M301 949.7v3M317.3 949.7v3M163.9 949.7v3M174.3 949.7v3M181.9 949.7v3M187.7 949.7v3M192.3 949.7v3M196.2 949.7v3M199.5 949.7v3M202.4 949.7v3M204.9 949.7v3M136.5 949.7v3M126.1 949.7v3M140.7 949.7v4.5M142.7 949.7v4.5M144.7 949.7v4.5M146.7 949.7v4.5M148.7 949.7v4.5M150.7 949.7v4.5M152.7 949.7v4.5M154.7 949.7v4.5M156.7 949.7v4.5M158.7 949.7v4.5M160.7 949.7v4.5M119.2 920.7h-6M119.2 861.7h-6M119.2 810.7h-6M119.2 760.2h-6M119.2 846.3h-3M119.2 837.4h-3M119.2 831h-3M119.2 826.1h-3M119.2 822h-3M119.2 818.6h-3M119.2 815.6h-3M119.2 813h-3M119.2 795.5h-3M119.2 786.6h-3M119.2 780.3h-3M119.2 775.4h-3M119.2 771.4h-3M119.2 768h-3M119.2 765.1h-3M119.2 762.5h-3M119.2 745h-3M119.2 906.5h-3M119.2 895.7h-3M119.2 887.9h-3M119.2 881.9h-3M119.2 877.1h-3M119.2 873.1h-3M119.2 869.7h-3M119.2 866.7h-3M119.2 864.1h-3M119.2 934.9h-3M119.2 945.7h-3M119.2 930.2h-4.5M119.2 928.2h-4.5M119.2 926.2h-4.5M119.2 924.2h-4.5M119.2 922.2h-4.5M119.2 920.2h-4.5M119.2 918.2h-4.5M119.2 916.2h-4.5M119.2 914.2h-4.5M119.2 912.2h-4.5M119.2 910.2h-4.5" stroke="#000" stroke-width="1" fill="none"/><text transform="translate(290.7 867.3) scale(1.08 1)" font-size="24.5">44</text><text transform="translate(120 732.7) scale(1.08 1)" font-size="22.6">Gated on live cells</text><text transform="translate(64 949.5) rotate(-90) scale(1.08 1)" font-size="22.6">FLAG-BV421</text><text transform="translate(109.9 1002.5) scale(1.08 1)" font-size="22.6">CD45-FITC</text><line x1="56" y1="997.3" x2="56" y2="974.2" stroke="#000" stroke-width="1.3"/><path d="M56 964.7 L60.6 977.7 L56 974.2 L51.4 977.7 Z" fill="#000"/><line x1="55.4" y1="996.7" x2="84.5" y2="996.7" stroke="#000" stroke-width="1.3"/><path d="M94 996.7 L81 1001.3 L84.5 996.7 L81 992.1 Z" fill="#000"/><line x1="314.7" y1="919.3" x2="353.7" y2="919.3" stroke="#000" stroke-width="1.3"/><path d="M363.2 919.3 L350.2 923.9 L353.7 919.3 L350.2 914.7 Z" fill="#000"/><text transform="translate(370 898) scale(1.08 1)" font-size="24">Sorted</text><text transform="translate(370 927.8) scale(1.08 1)" font-size="24">12,500</text><text transform="translate(370 957.6) scale(1.08 1)" font-size="24">cells</text><line x1="279.5" y1="942" x2="279.5" y2="1014" stroke="#000" stroke-width="1.3"/><path d="M279.5 1023.5 L274.9 1010.5 L279.5 1014 L284.1 1010.5 Z" fill="#000"/><g clip-path="url(#cp14)"><g filter="url(#fC2)"><rect x="79.2" y="995.3" width="285.1" height="284.5" fill="#000"/><path d="M133.3 1096.2 L140.7 1086.4 L159.1 1081.5 L183.6 1079.1 L202 1080.3 L211.8 1086.4 L210.6 1096.2 L203.2 1106.1 L193.4 1118.3 L183.6 1128.1 L173.8 1135.5 L165.2 1136.7 L156.6 1130.6 L146.8 1118.3 L138.2 1106.1 Z" fill="#fff" opacity="0.3"/><path d="M150.5 1093.8 L173.8 1092.6 L198.3 1096.2" fill="none" stroke="#fff" stroke-width="10" stroke-linecap="round" stroke-linejoin="round" opacity="0.55"/><path d="M161.5 1098.7 L186.1 1099.9" fill="none" stroke="#fff" stroke-width="16" stroke-linecap="round" stroke-linejoin="round" opacity="0.3"/><path d="M166.4 1134.3 L165.8 1152.7 L166.4 1171.1" fill="none" stroke="#fff" stroke-width="13" stroke-linecap="round" stroke-linejoin="round" opacity="0.15"/><ellipse cx="164" cy="1199.3" rx="33" ry="30" fill="#fff" opacity="0.28"/><ellipse cx="164" cy="1199.3" rx="25.7" ry="23.4" fill="#fff" opacity="0.3"/><ellipse cx="164" cy="1199.3" rx="19.1" ry="17.4" fill="#fff" opacity="0.36"/><ellipse cx="164" cy="1199.3" rx="13.2" ry="12" fill="#fff" opacity="0.42"/><ellipse cx="164" cy="1199.3" rx="7.3" ry="6.6" fill="#fff" opacity="0.5"/><path d="M203.2 1183.3 L220.4 1171.1 L244.9 1160 L268.2 1153.9 L278.1 1162.5 L279.3 1189.5 L275.6 1214 L269.5 1228.7 L257.2 1232.4 L238.8 1226.3 L220.4 1216.5 L205.7 1211.6 Z" fill="#fff" opacity="0.3"/><ellipse cx="246.2" cy="1196.8" rx="30" ry="27" fill="#fff" opacity="0.224" transform="rotate(-20 246.2 1196.8)"/><ellipse cx="246.2" cy="1196.8" rx="23.4" ry="21.1" fill="#fff" opacity="0.24" transform="rotate(-20 246.2 1196.8)"/><ellipse cx="246.2" cy="1196.8" rx="17.4" ry="15.7" fill="#fff" opacity="0.288" transform="rotate(-20 246.2 1196.8)"/><ellipse cx="246.2" cy="1196.8" rx="12" ry="10.8" fill="#fff" opacity="0.336" transform="rotate(-20 246.2 1196.8)"/><ellipse cx="246.2" cy="1196.8" rx="6.6" ry="5.9" fill="#fff" opacity="0.4" transform="rotate(-20 246.2 1196.8)"/><path d="M195.9 1198.1 L220.4 1198.1" fill="none" stroke="#fff" stroke-width="24" stroke-linecap="round" stroke-linejoin="round" opacity="0.3"/></g></g><path d="M122 1096h0m0 3h0m2 100h0m1-102h0m0 97h0m0 2h0m1-107h0m0 5h0m0 4h0m0 90h0m0 2h0m0 1h0m0 15h0m1-107h0m0 6h0m0 3h0m0 87h0m1-13h0m0 11h0m0 1h0m0 3h0m1-98h0m0 2h0m0 5h0m0 3h0m0 85h0m0 10h0m0 1h0m0 4h0m0 8h0m1-116h0m0 5h0m0 74h0m0 27h0m0 12h0m1-32h0m1-81h0m0 106h0m1-122h0m0 124h0m1-103h0m1 3h0m0 60h0m0 2h0m1 1h0m0 41h0m1-45h0m0 49h0m2-54h0m0 5h0m1-58h0m0 39h0m1-22h0m0 92h0m1-109h0m0 51h0m0 5h0m0 52h0m1-53h0m0 1h0m0 1h0m1-54h0m0 49h0m0 2h0m1-53h0m0 50h0m1-80h0m0 82h0m1-6h0m0 64h0m1-144h0m0 86h0m0 61h0m1-144h0m0 56h0m0 90h0m1-115h0m0 1h0m0 1h0m0 20h0m4-18h0m0 7h0m1-45h0m0 1h0m1-1h0m0 80h0m1-80h0m1 78h0m1 0h0m1 2h0m1-83h0m0 63h0m0 24h0m0 64h0m1-152h0m0 47h0m0 22h0m1-4h0m0 1h0m0 7h0m2-71h0m0 84h0m1-46h0m0 1h0m0 45h0m0 67h0m1-67h0m0 65h0m1-149h0m0 39h0m0 17h0m0 2h0m0 3h0m1 3h0m0 19h0m1-82h0m0 54h0m0 26h0m1-2h0m1-40h0m1 17h0m0 25h0m0 6h0m0 63h0m1-111h0m1-39h0m0 45h0m1-8h0m2 2h0m0 5h0m1 42h0m0 3h0m0 57h0m1-106h0m0 107h0m0 2h0m1-112h0m0 46h0m1-44h0m0 17h0m0 26h0m1-81h0m0 145h0m1-77h0m0 21h0m0 52h0m0 3h0m1-146h0m0 40h0m0 23h0m0 27h0m0 3h0m0 50h0m0 1h0m1-50h0m1-25h0m0 28h0m1-98h0m0 4h0m1 140h0m0 2h0m1-78h0m0 31h0m1-62h0m0 39h0m0 22h0m1-94h0m0 33h0m0 34h0m0 32h0m1-3h0m0 2h0m1-101h0m0 61h0m0 72h0m1-99h0m0 59h0m0 12h0m0 5h0m0 25h0m1-134h0m0 2h0m0 99h0m0 24h0m0 2h0m0 9h0m1-72h0m0 43h0m0 6h0m0 2h0m0 7h0m0 6h0m0 4h0m1-129h0m0 1h0m0 101h0m0 9h0m0 3h0m0 3h0m0 8h0m1-57h0m0 40h0m0 5h0m1-111h0m0 55h0m0 59h0m0 8h0m1-121h0m0 40h0m1-16h0m0 2h0m0 90h0m1-73h0m0 62h0m1-103h0m0 23h0m0 83h0m1-87h0m0 31h0m0 40h0m0 5h0m0 23h0m1-18h0m0 1h0m1-79h0m0 71h0m0 4h0m0 10h0m0 22h0m1-108h0m0 3h0m0 72h0m0 5h0m0 4h0m0 4h0m0 5h0m0 3h0m1-120h0m0 21h0m0 73h0m1-76h0m0 112h0m0 1h0m0 10h0m1-131h0m0 5h0m0 82h0m0 38h0m0 2h0m1-127h0m0 1h0m0 11h0m0 103h0m1-118h0m0 3h0m0 118h0m0 4h0m1-119h0m0 119h0m1-117h0m1 1h0m0 75h0m0 41h0m1-114h0m1 8h0m0 58h0m0 51h0m1-80h0m3-18h0m2 103h0m2-117h0m0 52h0m2-20h0m0 87h0m1-65h0m0 2h0m1 64h0m1-64h0m1-54h0m0 46h0m1 1h0m0 3h0m0 1h0m0 70h0m2-1h0m1-72h0m1 4h0m1-1h0m3-1h0m1-39h0m0 112h0m1-115h0m0 116h0m2-3h0m1-106h0m1 13h0m0 22h0m1 69h0m2 6h0m2-78h0m1-3h0m1 80h0m1-97h0m0 23h0m1 0h0m0 68h0m1-75h0m0 81h0m2-76h0m1 70h0m2 1h0m0 9h0m1-13h0m1-65h0m1 66h0m0 1h0m1 0h0m0 7h0m1-72h0m0 61h0m1-122h0m1 120h0m1-63h0m0 7h0m0 1h0m1 0h0m0 55h0m1 6h0m0 2h0m1-63h0m0 58h0m1-5h0m1-59h0m0 4h0m0 3h0m1 48h0m1-52h0m0 50h0m0 4h0m0 5h0m1-57h0m1 45h0m1 2h0m1-42h0m0 38h0m0 1h0m1-48h0m0 44h0m0 9h0m1-6h0m0 4h0m1-14h0m0 2h0m1-14h0m0 2h0m1 8h0m2-3h0m0 4h0m1-10h0m1 5h0m0 19h0m1-18h0" fill="none" stroke="#111" stroke-width="2.3" stroke-linecap="square"/><rect x="124.8" y="1167.5" width="75.2" height="64" fill="none" stroke="#000" stroke-width="1.7"/><rect x="119.2" y="1035.3" width="205.1" height="204.5" fill="none" stroke="#000" stroke-width="1.3"/><text transform="translate(150.2 1265.3) scale(1.08 1)" font-size="19.2" text-anchor="middle">0</text><text transform="translate(209.2 1265.3) scale(1.08 1)" font-size="19.2" text-anchor="middle">10<tspan dy="-7.7" font-size="11.1">3</tspan></text><text transform="translate(258.2 1265.3) scale(1.08 1)" font-size="19.2" text-anchor="middle">10<tspan dy="-7.7" font-size="11.1">4</tspan></text><text transform="translate(305.2 1265.3) scale(1.08 1)" font-size="19.2" text-anchor="middle">10<tspan dy="-7.7" font-size="11.1">5</tspan></text><text transform="translate(109.2 1217.8) scale(1.08 1)" font-size="19.2" text-anchor="end">0</text><text transform="translate(111.2 1159.8) scale(1.08 1)" font-size="19.2" text-anchor="end">10<tspan dy="-7.7" font-size="11.1">3</tspan></text><text transform="translate(111.2 1108.8) scale(1.08 1)" font-size="19.2" text-anchor="end">10<tspan dy="-7.7" font-size="11.1">4</tspan></text><text transform="translate(111.2 1058.3) scale(1.08 1)" font-size="19.2" text-anchor="end">10<tspan dy="-7.7" font-size="11.1">5</tspan></text><path d="M150.2 1239.8v6M207.2 1239.8v6M256.2 1239.8v6M303.2 1239.8v6M222 1239.8v3M230.6 1239.8v3M236.7 1239.8v3M241.4 1239.8v3M245.3 1239.8v3M248.6 1239.8v3M251.5 1239.8v3M254 1239.8v3M270.3 1239.8v3M278.6 1239.8v3M284.5 1239.8v3M289.1 1239.8v3M292.8 1239.8v3M295.9 1239.8v3M298.6 1239.8v3M301 1239.8v3M317.3 1239.8v3M163.9 1239.8v3M174.3 1239.8v3M181.9 1239.8v3M187.7 1239.8v3M192.3 1239.8v3M196.2 1239.8v3M199.5 1239.8v3M202.4 1239.8v3M204.9 1239.8v3M136.5 1239.8v3M126.1 1239.8v3M140.7 1239.8v4.5M142.7 1239.8v4.5M144.7 1239.8v4.5M146.7 1239.8v4.5M148.7 1239.8v4.5M150.7 1239.8v4.5M152.7 1239.8v4.5M154.7 1239.8v4.5M156.7 1239.8v4.5M158.7 1239.8v4.5M160.7 1239.8v4.5M119.2 1210.8h-6M119.2 1151.8h-6M119.2 1100.8h-6M119.2 1050.3h-6M119.2 1136.4h-3M119.2 1127.5h-3M119.2 1121.1h-3M119.2 1116.2h-3M119.2 1112.1h-3M119.2 1108.7h-3M119.2 1105.7h-3M119.2 1103.1h-3M119.2 1085.6h-3M119.2 1076.7h-3M119.2 1070.4h-3M119.2 1065.5h-3M119.2 1061.5h-3M119.2 1058.1h-3M119.2 1055.2h-3M119.2 1052.6h-3M119.2 1035.1h-3M119.2 1196.6h-3M119.2 1185.8h-3M119.2 1178h-3M119.2 1172h-3M119.2 1167.2h-3M119.2 1163.2h-3M119.2 1159.8h-3M119.2 1156.8h-3M119.2 1154.2h-3M119.2 1225h-3M119.2 1235.8h-3M119.2 1220.3h-4.5M119.2 1218.3h-4.5M119.2 1216.3h-4.5M119.2 1214.3h-4.5M119.2 1212.3h-4.5M119.2 1210.3h-4.5M119.2 1208.3h-4.5M119.2 1206.3h-4.5M119.2 1204.3h-4.5M119.2 1202.3h-4.5M119.2 1200.3h-4.5" stroke="#000" stroke-width="1" fill="none"/><text transform="translate(196 1154) scale(1.08 1)" font-size="24.5">43</text><text transform="translate(64 1240) rotate(-90) scale(1.08 1)" font-size="22.6">CD8β-BV711</text><text transform="translate(109.9 1293.3) scale(1.08 1)" font-size="22.6">TCRγδ-PerCP-Cy5.5</text><line x1="56" y1="1287.3" x2="56" y2="1264.2" stroke="#000" stroke-width="1.3"/><path d="M56 1254.7 L60.6 1267.7 L56 1264.2 L51.4 1267.7 Z" fill="#000"/><line x1="55.4" y1="1286.7" x2="84.5" y2="1286.7" stroke="#000" stroke-width="1.3"/><path d="M94 1286.7 L81 1291.3 L84.5 1286.7 L81 1282.1 Z" fill="#000"/><line x1="187.5" y1="1231.5" x2="187.5" y2="1312.5" stroke="#000" stroke-width="1.3"/><path d="M187.5 1322 L182.9 1309 L187.5 1312.5 L192.1 1309 Z" fill="#000"/><g clip-path="url(#cp15)"><g filter="url(#fC3)"><rect x="79.2" y="1288.8" width="285.1" height="284.5" fill="#000"/><path d="M145.6 1429.9 L149.3 1417.7 L159.1 1407.9 L173.8 1401.7 L188.5 1403 L198.3 1410.3 L201.4 1426.3 L200.8 1438.5 L195.9 1450.8 L188.5 1458.2 L171.3 1460.6 L159.1 1456.9 L150.5 1444.7 Z" fill="#fff" opacity="0.3"/><ellipse cx="183.6" cy="1423.8" rx="17" ry="19" fill="#fff" opacity="0.252"/><ellipse cx="183.6" cy="1423.8" rx="13.3" ry="14.8" fill="#fff" opacity="0.27"/><ellipse cx="183.6" cy="1423.8" rx="9.9" ry="11" fill="#fff" opacity="0.324"/><ellipse cx="183.6" cy="1423.8" rx="6.8" ry="7.6" fill="#fff" opacity="0.378"/><ellipse cx="183.6" cy="1423.8" rx="3.7" ry="4.2" fill="#fff" opacity="0.45"/><path d="M159.1 1426.3 L165.2 1444.7" fill="none" stroke="#fff" stroke-width="12" stroke-linecap="round" stroke-linejoin="round" opacity="0.25"/><path d="M146.8 1493.7 L150.5 1481.5 L159.1 1471.7 L173.8 1468 L188.5 1469.2 L198.3 1479 L195.9 1499.9 L188.5 1513.4 L173.8 1518.3 L159.1 1517 L149.3 1508.5 Z" fill="#fff" opacity="0.3"/><ellipse cx="168.9" cy="1498.6" rx="24" ry="18" fill="#fff" opacity="0.28"/><ellipse cx="168.9" cy="1498.6" rx="18.7" ry="14" fill="#fff" opacity="0.3"/><ellipse cx="168.9" cy="1498.6" rx="13.9" ry="10.4" fill="#fff" opacity="0.36"/><ellipse cx="168.9" cy="1498.6" rx="9.6" ry="7.2" fill="#fff" opacity="0.42"/><ellipse cx="168.9" cy="1498.6" rx="5.3" ry="4" fill="#fff" opacity="0.5"/><path d="M195.9 1491.3 L220.4 1487.6" fill="none" stroke="#fff" stroke-width="20" stroke-linecap="round" stroke-linejoin="round" opacity="0.25"/><ellipse cx="214.3" cy="1490.1" rx="9" ry="7" fill="#fff" opacity="0.112"/><ellipse cx="214.3" cy="1490.1" rx="7" ry="5.5" fill="#fff" opacity="0.12"/><ellipse cx="214.3" cy="1490.1" rx="5.2" ry="4.1" fill="#fff" opacity="0.144"/><ellipse cx="214.3" cy="1490.1" rx="3.6" ry="2.8" fill="#fff" opacity="0.168"/><ellipse cx="214.3" cy="1490.1" rx="2" ry="1.5" fill="#fff" opacity="0.2"/><path d="M165.2 1456.9 L162.7 1469.2" fill="none" stroke="#fff" stroke-width="14" stroke-linecap="round" stroke-linejoin="round" opacity="0.15"/><path d="M244.9 1420.1 L257.2 1414 L265.8 1420.1 L269.5 1438.5 L271.9 1456.9 L270.7 1481.5 L265.8 1499.9 L257.2 1510.9 L247.4 1512.1 L237.6 1503.6 L233.9 1487.6 L237.6 1463.1 L240 1438.5 Z" fill="#fff" opacity="0.45"/><path d="M254.7 1426.3 L254.1 1463.1 L252.3 1499.9" fill="none" stroke="#fff" stroke-width="9" stroke-linecap="round" stroke-linejoin="round" opacity="0.5"/></g></g><path d="M134 1495h0m0 17h0m0 11h0m3 0h0m2-25h0m1 24h0m1-102h0m0 77h0m0 11h0m0 1h0m0 1h0m1-23h0m0 29h0m0 5h0m1-94h0m0 59h0m1-3h0m0 26h0m1-88h0m0 10h0m0 5h0m1-28h0m0 24h0m0 2h0m0 80h0m1-95h0m1-7h0m0 24h0m0 2h0m0 3h0m1-27h0m0 1h0m0 26h0m0 2h0m1 4h0m0 69h0m0 1h0m0 7h0m1-72h0m1 56h0m0 14h0m1-70h0m1-52h0m0 6h0m0 41h0m0 29h0m2 1h0m1-75h0m0 51h0m1 72h0m0 2h0m1-125h0m0 111h0m0 8h0m0 1h0m1-126h0m0 77h0m0 2h0m0 48h0m1-125h0m5 77h0m0 47h0m1-128h0m0 66h0m2 1h0m0 14h0m0 51h0m1-2h0m1-127h0m1 75h0m0 40h0m0 14h0m0 1h0m1-8h0m0 8h0m2-131h0m0 129h0m1-129h0m1 74h0m1-76h0m0 1h0m0 63h0m0 55h0m0 3h0m1-120h0m0 1h0m0 59h0m1-60h0m0 123h0m0 3h0m0 2h0m0 2h0m1-51h0m1-79h0m0 60h0m1 5h0m1-64h0m0 60h0m1-62h0m1 129h0m3-65h0m1-4h0m1-1h0m2 62h0m0 4h0m1-117h0m0 113h0m1-62h0m0 64h0m1-5h0m0 5h0m1-7h0m0 2h0m1-113h0m0 77h0m0 8h0m0 2h0m1-37h0m0 59h0m1-82h0m0 67h0m1-85h0m0 3h0m0 11h0m0 13h0m0 9h0m0 5h0m0 2h0m0 35h0m0 6h0m0 4h0m0 5h0m0 3h0m0 17h0m1-110h0m0 5h0m0 29h0m0 52h0m1-69h0m0 25h0m1-41h0m0 85h0m0 3h0m1-89h0m0 1h0m0 6h0m0 17h0m0 3h0m0 2h0m1-22h0m1-8h0m0 23h0m0 12h0m0 10h0m1-46h0m0 11h0m0 10h0m0 19h0m0 9h0m1-44h0m0 4h0m0 14h0m0 9h0m0 7h0m1-20h0m0 3h0m0 22h0m0 1h0m1-43h0m0 20h0m0 28h0m1-36h0m0 16h0m0 1h0m0 3h0m1-1h0m0 13h0m1-37h0m0 33h0m0 1h0m0 59h0m1-93h0m0 2h0m1 5h0m0 15h0m0 5h0m0 9h0m1-22h0m0 8h0m0 15h0m1-38h0m0 25h0m1-23h0m0 35h0m1-40h0m0 15h0m1-4h0m0 16h0m0 9h0m3-10h0m1-26h0m0 20h0m0 1h0m0 16h0m0 1h0m1-18h0m0 16h0m1 58h0m1-95h0m0 34h0m0 10h0m0 1h0m1-26h0m0 15h0m0 4h0m0 6h0m1-43h0m0 19h0m0 7h0m1-27h0m0 24h0m0 19h0m0 17h0m1-33h0m0 8h0m0 26h0m0 3h0m0 1h0m1-42h0m0 15h0m0 1h0m0 16h0m0 14h0m0 8h0m1-70h0m0 36h0m0 5h0m0 16h0m0 10h0m1-72h0m0 32h0m0 40h0m0 3h0m0 5h0m1-59h0m0 6h0m0 64h0m1-95h0m0 14h0m0 13h0m0 61h0m1-75h0m0 79h0m0 3h0m0 1h0m1-83h0m0 3h0m1-4h0m0 1h0m0 90h0m2-4h0m0 3h0m1-91h0m0 93h0m0 5h0m1-103h0m1 1h0m0 96h0m1-2h0m0 8h0m1-103h0m1 106h0m1-5h0m0 8h0m1 0h0m1-16h0m0 8h0m1-112h0m0 1h0m0 2h0m2-2h0m0 114h0m0 3h0m1-2h0m1-115h0m0 114h0m1-111h0m0 104h0m0 8h0m0 1h0m1-6h0m1-4h0m1 3h0m1-103h0m2-2h0m0 1h0m0 94h0m0 9h0m1-3h0m3-105h0m0 89h0m0 1h0m0 3h0m0 12h0m1-105h0m0 6h0m0 99h0m1-19h0m1-9h0m0 4h0m1-67h0m0 10h0m1 45h0m0 9h0m1-37h0m0 1h0m0 1h0m0 13h0m1-30h0m0 17h0m0 7h0m0 39h0m1-44h0m0 12h0" fill="none" stroke="#111" stroke-width="2.3" stroke-linecap="square"/><path d="M129.3 1462.7 L220.8 1462.7 L220.8 1382.1 L288 1382.1 L288 1527.2 L129.3 1527.2 Z" fill="none" stroke="#000" stroke-width="1.6" stroke-linejoin="round"/><rect x="119.2" y="1328.8" width="205.1" height="204.5" fill="none" stroke="#000" stroke-width="1.3"/><text transform="translate(150.2 1558.8) scale(1.08 1)" font-size="19.2" text-anchor="middle">0</text><text transform="translate(209.2 1558.8) scale(1.08 1)" font-size="19.2" text-anchor="middle">10<tspan dy="-7.7" font-size="11.1">3</tspan></text><text transform="translate(258.2 1558.8) scale(1.08 1)" font-size="19.2" text-anchor="middle">10<tspan dy="-7.7" font-size="11.1">4</tspan></text><text transform="translate(305.2 1558.8) scale(1.08 1)" font-size="19.2" text-anchor="middle">10<tspan dy="-7.7" font-size="11.1">5</tspan></text><text transform="translate(109.2 1511.3) scale(1.08 1)" font-size="19.2" text-anchor="end">0</text><text transform="translate(111.2 1453.3) scale(1.08 1)" font-size="19.2" text-anchor="end">10<tspan dy="-7.7" font-size="11.1">3</tspan></text><text transform="translate(111.2 1402.3) scale(1.08 1)" font-size="19.2" text-anchor="end">10<tspan dy="-7.7" font-size="11.1">4</tspan></text><text transform="translate(111.2 1351.8) scale(1.08 1)" font-size="19.2" text-anchor="end">10<tspan dy="-7.7" font-size="11.1">5</tspan></text><path d="M150.2 1533.3v6M207.2 1533.3v6M256.2 1533.3v6M303.2 1533.3v6M222 1533.3v3M230.6 1533.3v3M236.7 1533.3v3M241.4 1533.3v3M245.3 1533.3v3M248.6 1533.3v3M251.5 1533.3v3M254 1533.3v3M270.3 1533.3v3M278.6 1533.3v3M284.5 1533.3v3M289.1 1533.3v3M292.8 1533.3v3M295.9 1533.3v3M298.6 1533.3v3M301 1533.3v3M317.3 1533.3v3M163.9 1533.3v3M174.3 1533.3v3M181.9 1533.3v3M187.7 1533.3v3M192.3 1533.3v3M196.2 1533.3v3M199.5 1533.3v3M202.4 1533.3v3M204.9 1533.3v3M136.5 1533.3v3M126.1 1533.3v3M140.7 1533.3v4.5M142.7 1533.3v4.5M144.7 1533.3v4.5M146.7 1533.3v4.5M148.7 1533.3v4.5M150.7 1533.3v4.5M152.7 1533.3v4.5M154.7 1533.3v4.5M156.7 1533.3v4.5M158.7 1533.3v4.5M160.7 1533.3v4.5M119.2 1504.3h-6M119.2 1445.3h-6M119.2 1394.3h-6M119.2 1343.8h-6M119.2 1429.9h-3M119.2 1421h-3M119.2 1414.6h-3M119.2 1409.7h-3M119.2 1405.6h-3M119.2 1402.2h-3M119.2 1399.2h-3M119.2 1396.6h-3M119.2 1379.1h-3M119.2 1370.2h-3M119.2 1363.9h-3M119.2 1359h-3M119.2 1355h-3M119.2 1351.6h-3M119.2 1348.7h-3M119.2 1346.1h-3M119.2 1328.6h-3M119.2 1490.1h-3M119.2 1479.3h-3M119.2 1471.5h-3M119.2 1465.5h-3M119.2 1460.7h-3M119.2 1456.7h-3M119.2 1453.3h-3M119.2 1450.3h-3M119.2 1447.7h-3M119.2 1518.5h-3M119.2 1529.3h-3M119.2 1513.8h-4.5M119.2 1511.8h-4.5M119.2 1509.8h-4.5M119.2 1507.8h-4.5M119.2 1505.8h-4.5M119.2 1503.8h-4.5M119.2 1501.8h-4.5M119.2 1499.8h-4.5M119.2 1497.8h-4.5M119.2 1495.8h-4.5M119.2 1493.8h-4.5" stroke="#000" stroke-width="1" fill="none"/><text transform="translate(179.2 1362.7) scale(1.08 1)" font-size="24.5">81</text><text transform="translate(64 1533) rotate(-90) scale(1.08 1)" font-size="22.6">CD8α-BUV805</text><text transform="translate(109.9 1585.9) scale(1.08 1)" font-size="22.6">CD4-BUV496</text><line x1="56" y1="1580.6" x2="56" y2="1557.5" stroke="#000" stroke-width="1.3"/><path d="M56 1548 L60.6 1561 L56 1557.5 L51.4 1561 Z" fill="#000"/><line x1="55.4" y1="1580" x2="84.5" y2="1580" stroke="#000" stroke-width="1.3"/><path d="M94 1580 L81 1584.6 L84.5 1580 L81 1575.4 Z" fill="#000"/><line x1="288" y1="1439.2" x2="353.7" y2="1439.2" stroke="#000" stroke-width="1.3"/><path d="M363.2 1439.2 L350.2 1443.8 L353.7 1439.2 L350.2 1434.6 Z" fill="#000"/><text transform="translate(370 1417.3) scale(1.08 1)" font-size="24">Sorted</text><text transform="translate(370 1447.1) scale(1.08 1)" font-size="24">12,500</text><text transform="translate(370 1476.9) scale(1.08 1)" font-size="24">cells</text></g><g id="panel_D"><g transform="translate(0 0) scale(0.5 0.5)" fill="none" stroke-linecap="round" stroke-width="3.4"><use href="#u0" stroke="#1a4ba3"/><use href="#u1" stroke="#7b88c2"/><use href="#u2" stroke="#b9bde0"/><use href="#u3" stroke="#d1b1b9"/><use href="#u4" stroke="#c17083"/><use href="#u5" stroke="#8b1a3a"/><use href="#u6" stroke="#4668b8"/><use href="#u7" stroke="#8093d0"/><use href="#u8" stroke="#b0b8e6"/><use href="#u9" stroke="#e8a9b9"/><use href="#u10a" stroke="#e0788f"/><use href="#u10b" stroke="#e0788f"/><use href="#u11" stroke="#d83a68"/><use href="#u12" stroke="#3bb045"/><use href="#u13" stroke="#8fcc90"/><use href="#u14" stroke="#c5e0c5"/><use href="#u15" stroke="#f0cdbf"/><use href="#u16" stroke="#f0b47c"/><use href="#u17" stroke="#f2a02e"/><use href="#u18" stroke="#3cb6b2"/><use href="#u19" stroke="#8fd6c6"/><use href="#u20" stroke="#d7ece1"/><use href="#u21" stroke="#f0dbe0"/><use href="#u22" stroke="#f2b9d9"/><use href="#u23" stroke="#e891b9"/><use href="#u24" stroke="#7f7f7f"/><use href="#u25" stroke="#c2c2c2"/></g><text transform="translate(716.3 774.8) scale(1.08 1)" font-size="20.5" text-anchor="middle" fill="#151515">18</text><text transform="translate(734.6 796.7) scale(1.08 1)" font-size="20.5" text-anchor="middle" fill="#151515">20</text><text transform="translate(557.6 801.9) scale(1.08 1)" font-size="20.5" text-anchor="middle" fill="#151515">22</text><text transform="translate(619.5 800.5) scale(1.08 1)" font-size="20.5" text-anchor="middle" fill="#151515">25</text><text transform="translate(685.4 819.5) scale(1.08 1)" font-size="20.5" text-anchor="middle" fill="#151515">0</text><text transform="translate(600.5 856.9) scale(1.08 1)" font-size="20.5" text-anchor="middle" fill="#151515">23</text><text transform="translate(745.2 848.1) scale(1.08 1)" font-size="20.5" text-anchor="middle" fill="#151515">13</text><text transform="translate(782.2 865.7) scale(1.08 1)" font-size="20.5" text-anchor="middle" fill="#151515">10</text><text transform="translate(910.6 866.4) scale(1.08 1)" font-size="20.5" text-anchor="middle" fill="#151515">14</text><text transform="translate(853.6 885) scale(1.08 1)" font-size="20.5" text-anchor="middle" fill="#151515">5</text><text transform="translate(930 885.7) scale(1.08 1)" font-size="20.5" text-anchor="middle" fill="#151515">4</text><text transform="translate(829.7 900.5) scale(1.08 1)" font-size="20.5" text-anchor="middle" fill="#151515">16</text><text transform="translate(783.9 904) scale(1.08 1)" font-size="20.5" text-anchor="middle" fill="#151515">6</text><text transform="translate(890.6 904.4) scale(1.08 1)" font-size="20.5" text-anchor="middle" fill="#151515">1</text><text transform="translate(837.8 917.4) scale(1.08 1)" font-size="20.5" text-anchor="middle" fill="#151515">11</text><text transform="translate(859.6 922.7) scale(1.08 1)" font-size="20.5" text-anchor="middle" fill="#151515">15</text><text transform="translate(930 918.1) scale(1.08 1)" font-size="20.5" text-anchor="middle" fill="#151515">10</text><text transform="translate(822.6 933.2) scale(1.08 1)" font-size="20.5" text-anchor="middle" fill="#151515">7</text><text transform="translate(793.4 944.9) scale(1.08 1)" font-size="20.5" text-anchor="middle" fill="#151515">21</text><text transform="translate(839.5 950.1) scale(1.08 1)" font-size="20.5" text-anchor="middle" fill="#151515">3</text><text transform="translate(894.8 944.5) scale(1.08 1)" font-size="20.5" text-anchor="middle" fill="#151515">2</text><text transform="translate(799.1 963.9) scale(1.08 1)" font-size="20.5" text-anchor="middle" fill="#151515">12</text><text transform="translate(805 985.3) scale(1.08 1)" font-size="20.5" text-anchor="middle" fill="#151515">8</text><text transform="translate(856.1 982.5) scale(1.08 1)" font-size="20.5" text-anchor="middle" fill="#151515">9</text><text transform="translate(898.3 979) scale(1.08 1)" font-size="20.5" text-anchor="middle" fill="#151515">19</text><text transform="translate(839.2 1003.6) scale(1.08 1)" font-size="20.5" text-anchor="middle" fill="#151515">24</text><text transform="translate(747.7 1056.4) scale(1.08 1)" font-size="20.5" text-anchor="middle" fill="#151515">17</text><text transform="translate(753.2 741) scale(1.08 1)" font-size="19.2" text-anchor="middle">Leiden cluster</text><circle cx="1007.5" cy="755.3" r="4.2" fill="#1a4ba3"/><text transform="translate(1020.5 762.9) scale(1.08 1)" font-size="20.2">0</text><circle cx="1007.5" cy="780.6" r="4.2" fill="#7b88c2"/><text transform="translate(1020.5 788.2) scale(1.08 1)" font-size="20.2">1</text><circle cx="1007.5" cy="806" r="4.2" fill="#b9bde0"/><text transform="translate(1020.5 813.6) scale(1.08 1)" font-size="20.2">2</text><circle cx="1007.5" cy="831.3" r="4.2" fill="#d1b1b9"/><text transform="translate(1020.5 838.9) scale(1.08 1)" font-size="20.2">3</text><circle cx="1007.5" cy="856.7" r="4.2" fill="#c17083"/><text transform="translate(1020.5 864.3) scale(1.08 1)" font-size="20.2">4</text><circle cx="1007.5" cy="882" r="4.2" fill="#8b1a3a"/><text transform="translate(1020.5 889.6) scale(1.08 1)" font-size="20.2">5</text><circle cx="1007.5" cy="907.3" r="4.2" fill="#4668b8"/><text transform="translate(1020.5 914.9) scale(1.08 1)" font-size="20.2">6</text><circle cx="1007.5" cy="932.7" r="4.2" fill="#8093d0"/><text transform="translate(1020.5 940.3) scale(1.08 1)" font-size="20.2">7</text><circle cx="1007.5" cy="958" r="4.2" fill="#b0b8e6"/><text transform="translate(1020.5 965.6) scale(1.08 1)" font-size="20.2">8</text><circle cx="1007.5" cy="983.4" r="4.2" fill="#e8a9b9"/><text transform="translate(1020.5 991) scale(1.08 1)" font-size="20.2">9</text><circle cx="1007.5" cy="1008.7" r="4.2" fill="#e0788f"/><text transform="translate(1020.5 1016.3) scale(1.08 1)" font-size="20.2">10</text><circle cx="1007.5" cy="1034" r="4.2" fill="#d83a68"/><text transform="translate(1020.5 1041.6) scale(1.08 1)" font-size="20.2">11</text><circle cx="1007.5" cy="1059.4" r="4.2" fill="#3bb045"/><text transform="translate(1020.5 1067) scale(1.08 1)" font-size="20.2">12</text><circle cx="1068" cy="755.3" r="4.2" fill="#8fcc90"/><text transform="translate(1081 762.9) scale(1.08 1)" font-size="20.2">13</text><circle cx="1068" cy="780.6" r="4.2" fill="#c5e0c5"/><text transform="translate(1081 788.2) scale(1.08 1)" font-size="20.2">14</text><circle cx="1068" cy="806" r="4.2" fill="#f0cdbf"/><text transform="translate(1081 813.6) scale(1.08 1)" font-size="20.2">15</text><circle cx="1068" cy="831.3" r="4.2" fill="#f0b47c"/><text transform="translate(1081 838.9) scale(1.08 1)" font-size="20.2">16</text><circle cx="1068" cy="856.7" r="4.2" fill="#f2a02e"/><text transform="translate(1081 864.3) scale(1.08 1)" font-size="20.2">17</text><circle cx="1068" cy="882" r="4.2" fill="#3cb6b2"/><text transform="translate(1081 889.6) scale(1.08 1)" font-size="20.2">18</text><circle cx="1068" cy="907.3" r="4.2" fill="#8fd6c6"/><text transform="translate(1081 914.9) scale(1.08 1)" font-size="20.2">19</text><circle cx="1068" cy="932.7" r="4.2" fill="#d7ece1"/><text transform="translate(1081 940.3) scale(1.08 1)" font-size="20.2">20</text><circle cx="1068" cy="958" r="4.2" fill="#f0dbe0"/><text transform="translate(1081 965.6) scale(1.08 1)" font-size="20.2">21</text><circle cx="1068" cy="983.4" r="4.2" fill="#f2b9d9"/><text transform="translate(1081 991) scale(1.08 1)" font-size="20.2">22</text><circle cx="1068" cy="1008.7" r="4.2" fill="#e891b9"/><text transform="translate(1081 1016.3) scale(1.08 1)" font-size="20.2">23</text><circle cx="1068" cy="1034" r="4.2" fill="#7f7f7f"/><text transform="translate(1081 1041.6) scale(1.08 1)" font-size="20.2">24</text><circle cx="1068" cy="1059.4" r="4.2" fill="#c2c2c2"/><text transform="translate(1081 1067) scale(1.08 1)" font-size="20.2">25</text><text transform="translate(561.5 1032) rotate(-90) scale(1.08 1)" font-size="19">UMAP2</text><text transform="translate(599 1078) scale(1.08 1)" font-size="19">UMAP1</text><line x1="554.5" y1="1071.6" x2="554.5" y2="1052" stroke="#000" stroke-width="1.1"/><path d="M554.5 1045 L557.9 1054.5 L554.5 1052 L551.1 1054.5 Z" fill="#000"/><line x1="553.9" y1="1071" x2="576.5" y2="1071" stroke="#000" stroke-width="1.1"/><path d="M583.5 1071 L574 1074.4 L576.5 1071 L574 1067.6 Z" fill="#000"/></g><g id="panel_E"><path d="M1210 797h0m3 0.5h0m47.5 56.5h0m0.5 1.5h0m53.5-37h0m0.5-9.5h0m1 5.5h0m1 17h0m1 1.5h0m5.5-3h0m1.5-28.5h0m2.5 13h0m0.5 25h0m0.5-19h0m1 5.5h0m0.5-14h0m0.5 1.5h0m0.5-13h0m1 10h0m1.5-8.5h0m0.5 13h0m0 2.5h0m1.5-16h0m0 25.5h0m0 9.5h0m1 1.5h0m2.5-11.5h0m0.5-26.5h0m0.5 19h0m1-19h0m0 37h0m1-8h0m0.5-27.5h0m0.5 29.5h0m1-11h0m0.5-11.5h0m3.5-9.5h0m0 28h0m1.5-34h0m1 12.5h0m0 5h0m1-18h0m0.5 18.5h0m1.5 19h0m0.5-3.5h0m0.5-26h0m1.5 27.5h0m1.5-16h0m2-17h0m0 5.5h0m2 26h0m1-29h0m1.5 2.5h0m2.5 24.5h0m0.5 10h0m1-1h0m0.5-8h0m0.5-9.5h0m2.5 3.5h0m0.5 2h0m1.5 8h0m1.5-13h0m1 9h0m0.5-18.5h0m0.5 7.5h0m0.5-3.5h0m0.5 11.5h0m0 9.5h0m1.5 3.5h0m0.5-65.5h0m0 28h0m1 10h0m0 7.5h0m0.5-45.5h0m0 39.5h0m0 17.5h0m2.5-56h0m0.5-5h0m1 9h0m2 51h0m1.5 4h0m1-4h0m15 18.5h0m5.5 12h0m0.5-11h0m0 225h0m2 2h0m1-0.5h0m0.5 1.5h0m1-227.5h0m0.5 228.5h0m0.5-2h0m2 3h0m1 2h0m0.5-2.5h0m1.5 3h0m0.5-228.5h0m1 225h0m1.5 2.5h0m0 1h0m1-179.5h0m0.5 179h0m3.5-179h0m5.5 18h0m1.5-6h0m1.5-50h0m0 57.5h0m0.5-59.5h0m2 51h0m2-49.5h0m0 53h0m1-50h0m2.5 48h0m0.5-9.5h0m3-41h0m1.5 49.5h0m1-47h0m1 42h0m0 7h0m0.5-44.5h0m0.5 42h0m0.5 90.5h0m2-96h0m0 92h0m1.5-92.5h0m1.5 97h0m0.5-29h0m1-98h0m0 119.5h0m0.5-77.5h0m0.5-22h0m0.5 109.5h0m1-96.5h0m0 2h0m0.5 10.5h0m1.5-23.5h0m1 9.5h0m0 2.5h0m0.5 62h0m0.5-14h0m0 11h0m0.5-3h0m2-55h0m0 29.5h0m0 27.5h0m0.5 3h0m0 29.5h0m1-96.5h0m0 9h0m2 63.5h0m1-7h0m1 2h0m2-6.5h0m0 31h0m0.5-55.5h0m0 15h0m1 48.5h0m1-37.5h0m0 4.5h0m0 2.5h0m0 14h0m2 0h0m2-21h0m1 4h0m0 17h0m0.5-19h0m0 5h0m0.5-9.5h0m1-8h0m0.5-4h0m0 35h0m1-2h0m1-81h0m0 91h0m0.5-3.5h0m1-88.5h0m0 74h0m0 5.5h0m0.5-77.5h0m0.5 50h0m0.5 38.5h0m1-37.5h0m0.5 19.5h0m1.5-70.5h0m0.5 52h0m0 5h0m0 4h0m0 8.5h0m0.5-29.5h0m1.5-6.5h0m0.5-35.5h0m0.5 51h0m0 31h0m1-77h0m0 79.5h0m0.5-25h0m0.5-59h0m0.5 49.5h0m1 12h0m0 12h0m0.5-38.5h0m0 23.5h0m0.5-12.5h0m0.5-40.5h0m0 51.5h0m0.5-27h0m2.5-9.5h0m1 36h0m0.5-19h0m0 31h0m0 5h0m0 32h0m0.5-22h0m0.5-79h0m0 56.5h0m1-5.5h0m0 11h0m0 40.5h0m0.5-60.5h0m0 39h0m0.5-50h0m0.5-28.5h0m0 41.5h0m0 12h0m0 11.5h0m0.5-41h0m0.5 53h0m0 26.5h0m0.5-95.5h0m1 7.5h0m1 10.5h0m0 37.5h0m0.5-58.5h0m0 41h0m0 36.5h0m0.5-5h0m0.5 2h0m0.5-105h0m0 88.5h0m0.5-19h0m0.5-67h0m0 65.5h0m0.5-6h0m0.5-26h0m1.5-0.5h0m1-35h0m0 8h0m0 101h0m2-97h0m0 19h0m0 6h0m0.5 66h0m0.5-84.5h0m0 51h0m0 4h0m0 37.5h0m1-113.5h0m0 19h0m0.5 66h0m1-74.5h0m1 10.5h0m0.5-20.5h0m0 106h0m1-65h0m0 2.5h0m0.5-29h0m0.5 28h0m0.5 7.5h0m0.5-30h0m0 53h0m0.5-75.5h0m0 42h0m0.5 23h0m0.5-48h0m0.5 7h0m0 52.5h0m0 3.5h0m0.5-44.5h0m0 15h0m0 2.5h0m0.5 61h0m1-111h0m0.5 51h0m0 15.5h0m0.5-65.5h0m0 45.5h0m1 15h0m0 5.5h0m0 3.5h0m0.5-75h0m0.5 3.5h0m0 57.5h0m0.5-46h0m0 63h0m0.5-43h0m0.5 34.5h0m1-55h0m0 65h0m0.5-63h0m0.5-20.5h0m0.5 16h0m0 29.5h0m0 22.5h0m0.5 53h0m0.5-122.5h0m0.5 43.5h0m0.5-30.5h0m0 56h0m0 62h0m1-79h0m0 27h0m0.5 50.5h0m1-108h0m0.5 39.5h0m0 2.5h0m0 23.5h0m0 40.5h0m0.5-125.5h0m0.5 122h0m0 2h0m1.5-100h0m0 103.5h0m2-42.5h0m0.5-58.5h0m1 52h0m0.5 47.5h0m1-87h0m0.5 89h0m0.5-110h0m0 30h0m1 36.5h0m0.5-83h0m0 24h0m0 15h0m0.5-42.5h0m2 22h0m1 3h0m0 15h0m0.5-13.5h0m0 26.5h0m0 20.5h0m1-52h0m0.5 6h0m0 11.5h0m2.5-6.5h0m0.5-8h0m0 70.5h0m0.5-8h0m0 27.5h0m0.5-85h0m0.5 25.5h0m1.5-21h0m0 14.5h0m1-32.5h0m0.5 47h0m0.5 21h0m0 28h0m1-95.5h0m1 17.5h0m0.5 81h0m0.5-99h0m0.5 97h0m0.5-63h0m0 8.5h0m0 9h0m1-35.5h0m0.5 7.5h0m0.5-29h0m0 57.5h0m0.5-53.5h0m0 21h0m0.5 18.5h0m0 19.5h0m0.5 44.5h0m1-94h0m0 9h0m1 40.5h0m1-57.5h0m0 32.5h0m0.5-13.5h0m1.5-33h0m0.5 32.5h0m0 6h0m1-39h0m0 2.5h0m0 41h0m0.5 12.5h0m0.5-62.5h0m0 26h0m1-20h0m0 28.5h0m0 8.5h0m0.5-40h0m0 4.5h0m0.5-6.5h0m0.5 5h0m0.5 19.5h0m0 10.5h0m0 40.5h0m0 2h0m0.5-70.5h0m0 56.5h0m0.5-10h0m0.5 5h0m0.5-26.5h0m0 23.5h0m0.5-41h0m0 22h0m0.5-32.5h0m0 37.5h0m1-42h0m0 9.5h0m0 39.5h0m0.5-25h0m0 2h0m0 28h0m0.5-38.5h0m1-7.5h0m0 2h0m0 12h0m0 9h0m0 26.5h0m0.5-34h0m0.5 51.5h0m0.5-65h0m0 12h0m0.5-6h0m0 8.5h0m0 6.5h0m1-1h0m0 45h0m0.5-39h0m0.5-14.5h0m0 25h0m0.5 34.5h0m0.5-57.5h0m0.5-8.5h0m0 6.5h0m0.5-8.5h0m0.5-4h0m0.5 68.5h0m1-59.5h0m0 17h0m0.5 7h0m0.5-22h0m0.5 14.5h0m1.5-24h0m0.5 39h0m1-36h0m0.5 2h0m0 24.5h0m0.5-21h0m0 31.5h0m0.5-36.5h0m0 9.5h0m0 10.5h0m0.5-9h0m0 3.5h0m0 3.5h0m0.5 4.5h0m1-20.5h0m0.5 11h0m0.5-1.5h0m0.5-19h0m0.5 10h0m0 5.5h0m0.5-13.5h0m1 19h0m0 3h0m0.5 22h0m1-13h0m1-30.5h0m1 5.5h0m0 17.5h0m0.5-12h0m1.5-4h0m0.5 20h0m1-25h0m0 43.5h0m2.5-32.5h0m1 1.5h0m1-12.5h0m0 17h0m0 2.5h0m0 24h0m2-39.5h0m1 14.5h0m0.5 29.5h0m1-2h0m0.5-34h0m0.5 3.5h0m1.5-2h0m2-2h0" fill="none" stroke="#e4202c" stroke-width="3.5" stroke-linecap="round"/><path d="M1209 797.5h0m1.5-2.5h0m1.5 0.5h0m2 1.5h0m43 57.5h0m1.5-0.5h0m23-58h0m34.5 15.5h0m1 15h0m1 9.5h0m1-9h0m0.5 5h0m1-2.5h0m0.5 9.5h0m1-8.5h0m2-10.5h0m0 5h0m2-6h0m2.5 17h0m1-7h0m1-10h0m1 6.5h0m0.5 1.5h0m0.5-23h0m0.5-4.5h0m0.5 23.5h0m0.5-24.5h0m0 28h0m3-13.5h0m0.5 14h0m0 6.5h0m0.5-4h0m0.5-27.5h0m0 19h0m1-7h0m0 14.5h0m3-22h0m0.5 28.5h0m1-2.5h0m1-20.5h0m0 25h0m0.5-36.5h0m0 16.5h0m0.5-7.5h0m0 18h0m0.5-4.5h0m2.5-16h0m0.5 30h0m0.5-38h0m0 3.5h0m0.5 10.5h0m0 3h0m0.5-19.5h0m0.5 5.5h0m0.5-3.5h0m1-1.5h0m0 20h0m1.5-8h0m1-15.5h0m1.5 17h0m2-5.5h0m2.5 20h0m0.5-10.5h0m1-10h0m1.5 7h0m0.5 8h0m1.5-11h0m1 9h0m3-14h0m1 12h0m1 2.5h0m0.5-12h0m0.5 21h0m0.5-5.5h0m1 1.5h0m1.5 5h0m2 2.5h0m1-25.5h0m1-5h0m0.5 14h0m0 24h0m0.5-66.5h0m2 47h0m0 21h0m0.5-4.5h0m1.5-69h0m0 57h0m0.5 2.5h0m1.5 13.5h0m1.5-11.5h0m1 14h0m4-2h0m5 6h0m3.5 0.5h0m3.5 5h0m1.5 1.5h0m5.5-3h0m0 222h0m2-1h0m0.5 2.5h0m8.5-176h0m2-48.5h0m1.5 64.5h0m1-16h0m0.5-44h0m2 60h0m1-53h0m2.5 55h0m2-53.5h0m2 43.5h0m8 2h0m0.5-46h0m0.5 1.5h0m0 2h0m3 135.5h0m4 1.5h0m3.5-2h0m0.5-94.5h0m0 90h0m0.5-126.5h0m0.5 128.5h0m0.5-102h0m3 0h0m1.5 44h0m0 28.5h0m1-29.5h0m0 3h0m0 30.5h0m1.5-56h0m0 27.5h0m0.5-2.5h0m0 16.5h0m1 1h0m0.5-3h0m0.5-2.5h0m0.5-35.5h0m0.5-4.5h0m0 78h0m0 2h0m0.5-35.5h0m1-16h0m0 12h0m0 25h0m0.5-41.5h0m1-34.5h0m0.5 8h0m0 34.5h0m0.5 9h0m1 35.5h0m0.5-51h0m0 23h0m0.5-27.5h0m0.5 3h0m0 3.5h0m0 16h0m0.5-30h0m1 7h0m0 11h0m0 51.5h0m0.5-34.5h0m0.5-15h0m0 46.5h0m1-60h0m0 17.5h0m0.5 2h0m0.5 38h0m1-2.5h0m0.5-48.5h0m0 9.5h0m0 20h0m1.5-30.5h0m0 1.5h0m0.5-6.5h0m0 11h0m0 47.5h0m0.5 5.5h0m1-55.5h0m0.5-2.5h0m0.5 5.5h0m1-8.5h0m0 10.5h0m0.5 24.5h0m1.5-35h0m0 23.5h0m0.5 8.5h0m0.5-34h0m0 11h0m0 40h0m0.5-48.5h0m1 31.5h0m0 7h0m0.5-40.5h0m0 2h0m0.5-21h0m0 16.5h0m0 10.5h0m0 15.5h0m0.5 25.5h0m0.5-46h0m0 3.5h0m1-1.5h0m0 4.5h0m0 12h0m0 12.5h0m0 13.5h0m0.5-48h0m0 2h0m0 30.5h0m0.5 22.5h0m0.5-5.5h0m0.5-18.5h0m0.5-49.5h0m0 2h0m0 16h0m0 6.5h0m0 5h0m0 16.5h0m0.5-23h0m0 9.5h0m0 26h0m0.5-43h0m0 41.5h0m1-32h0m0.5-5.5h0m0 11h0m0 27.5h0m0 10h0m0.5-34.5h0m0 30h0m0.5-76h0m0.5 2h0m0.5 60.5h0m0.5 2h0m0.5-64h0m0.5 31.5h0m0.5-31h0m0 36h0m0 20h0m0.5 8h0m0 7h0m1-38.5h0m0 15h0m0.5-6h0m0.5-5.5h0m0 2h0m0 29.5h0m0 37h0m0.5-73.5h0m0.5-2.5h0m0 40h0m0.5-55.5h0m0 27h0m0.5-9h0m0 10.5h0m0.5-6h0m0.5-1.5h0m0 45.5h0m0.5-18h0m1-84.5h0m0.5 57.5h0m0 28h0m0.5-22.5h0m1 21.5h0m0.5-27h0m0 35h0m0 1.5h0m0.5-30h0m0 2.5h0m0 34.5h0m1-19.5h0m0 5.5h0m0.5-35.5h0m1 2h0m1 20h0m0.5-33h0m0 14.5h0m0 23.5h0m1-7h0m0 33h0m0.5-41h0m0.5 1h0m1 8h0m0 32h0m0.5-97h0m0 45.5h0m0 7.5h0m0.5 47.5h0m1-53.5h0m0 1.5h0m1 2h0m0 2h0m0 19h0m0.5-67.5h0m0.5 43.5h0m0 53.5h0m0.5-45.5h0m0.5-6h0m0 12h0m0.5 7h0m2 6h0m0 37.5h0m1-5h0m0.5-5.5h0m0.5-42h0m1 45h0m0.5-82h0m0 35h0m0 4h0m1-42.5h0m0.5 26h0m0 60.5h0m0.5-45h0m0.5-25.5h0m0 20h0m0 53.5h0m0.5-91.5h0m0 40h0m0 4.5h0m0 44.5h0m0.5-65.5h0m0.5 73.5h0m0.5-46.5h0m1 38h0m0.5-48h0m0.5 55.5h0m0.5-52.5h0m0.5-8.5h0m0 56.5h0m1-89.5h0m0 32h0m0.5 8.5h0m3-37h0m2 31.5h0m0.5-33h0m0 94h0m0.5-88.5h0m0.5-17.5h0m1-3h0m0 25h0m0 29h0m0.5-47h0m0 20.5h0m0.5-5h0m0 38h0m0.5-50.5h0m0 10.5h0m0.5 8.5h0m0 36.5h0m0.5-86.5h0m0 15.5h0m0.5 33.5h0m0 27h0m0 52.5h0m0.5-87.5h0m0.5 23.5h0m0.5-13h0m0.5-18.5h0m0 20.5h0m0.5-24h0m0 7.5h0m0 12.5h0m0 32h0m0.5-61h0m1.5 72.5h0m0.5-24.5h0m0 2h0m0.5-23.5h0m0.5 30h0m0.5-5h0m0.5-33h0m1 27.5h0m0 9.5h0m0.5-20h0m0 17.5h0m1.5-27h0m0 28.5h0m0 14h0m1.5-59h0m0.5 9.5h0m1 46.5h0m1-19h0m0.5-6.5h0m0.5-31.5h0m0 39.5h0m0.5-45.5h0m0 10h0m0 5h0m0 27h0m1-16.5h0m0 12.5h0m0.5 5h0m0.5-32h0m0.5 24h0m0 13.5h0m0 20h0m1-68.5h0m0 46h0m0.5 5.5h0m0.5-62.5h0m1.5 55.5h0m0.5-37h0m0 78.5h0m0.5-89h0m0.5 30.5h0m0.5-26h0m0 16.5h0m0.5 49h0m1-58h0m0 13.5h0m1-9h0m0 12h0m1-10h0m1-28.5h0m0 24.5h0m0 15.5h0m0.5 7.5h0m0 3.5h0m0.5 3.5h0m1-20h0m0 12.5h0m1-32h0m0 2h0m0 24h0m1-6h0m0.5-10.5h0m0 23h0m0 28h0m0.5-69h0m1.5 53.5h0m0.5-15.5h0m1-6h0m1 33.5h0m1.5-48.5h0m1 24.5h0m0 21h0m1-27.5h0m0.5-2h0m0 2.5h0m0 22.5h0m1-28.5h0m0 22.5h0m0.5-23h0m3 0h0m2 27.5h0m1.5-32h0m0 19h0m0.5 7h0m0.5-1.5h0m1.5-27.5h0m0 31.5h0m0.5-2h0m2.5-22.5h0m1-40h0m15 23.5h0m1 19.5h0m8.5 4.5h0m3 0h0m3-5.5h0" fill="none" stroke="#1f8cc4" stroke-width="3.5" stroke-linecap="round"/><path d="M1207.5 796h0m2.5 0.5h0m0.5 1.5h0m45 59h0m3.5-2h0m0.5 1.5h0m0.5 0.5h0m0.5-2h0m15.5-59h0m1 1h0m2-3.5h0m0 1.5h0m1-1.5h0m0.5 1.5h0m0 2.5h0m1.5-3h0m31 22h0m1.5-0.5h0m0 13h0m0.5-5.5h0m0.5 9.5h0m0.5-7.5h0m1-4h0m1.5 18h0m0.5-26h0m0 6.5h0m0 10h0m0.5-14h0m0 22h0m0.5-32h0m0 29.5h0m0.5-31.5h0m0 15.5h0m0.5-5.5h0m0 4h0m0.5-8h0m0.5 26h0m0.5-29h0m0 2h0m0 16h0m0.5-9.5h0m0 12h0m1-24h0m0 11h0m0 3h0m0.5-9.5h0m0 4.5h0m0 10.5h0m0.5 3.5h0m0 2h0m0 7.5h0m0.5-29.5h0m0 14h0m0.5-11h0m0 23.5h0m0.5-6.5h0m0 14h0m0.5-40h0m0 12h0m0.5-9.5h0m0.5 15.5h0m0 5.5h0m0 9.5h0m0.5-24.5h0m0 1.5h0m0 17h0m1-24h0m0 34h0m1-13.5h0m0 9h0m0.5 5h0m0.5-8.5h0m0 2.5h0m0.5-17.5h0m0 2.5h0m0 2.5h0m0 14.5h0m0 2h0m0 3h0m0.5-8.5h0m0.5-22h0m0.5-3.5h0m0 27h0m0.5-20.5h0m0.5 26.5h0m0.5-32h0m0.5 28.5h0m1-34.5h0m0 31.5h0m0.5-28.5h0m0.5-5h0m0 38h0m1-18.5h0m0 13.5h0m0.5-27.5h0m1 29.5h0m0.5-31.5h0m0 20.5h0m0.5-7h0m0.5-11h0m0 21h0m0 1.5h0m0 4.5h0m0.5-22.5h0m0 11h0m0.5 4h0m1-27.5h0m0 4h0m0.5 4h0m0.5-9h0m0 19.5h0m0 15h0m0.5-32.5h0m0 5h0m0.5 17h0m0.5-25h0m0.5 9.5h0m0.5 9h0m0 4.5h0m0.5-21.5h0m0 40.5h0m0.5-14.5h0m1 7h0m0.5-16.5h0m1.5 16h0m0 5.5h0m0 2h0m1-16h0m0.5 12h0m0.5-38.5h0m0 9h0m0 7.5h0m0 25.5h0m0.5-22h0m0.5-7.5h0m0 9.5h0m0 10h0m0.5-21h0m0 25h0m0.5-7h0m0.5-25h0m0 33h0m0 3h0m0.5-29.5h0m0.5-5.5h0m0 2.5h0m0 7h0m0.5 12.5h0m0.5-26.5h0m0 22.5h0m0 16.5h0m0.5-9.5h0m0 6h0m0.5-22.5h0m0 12h0m0 17h0m0.5-14h0m0 10.5h0m0.5-1.5h0m0 3.5h0m0.5-23.5h0m0 15h0m0.5-13.5h0m0 7.5h0m0.5-11h0m0 7h0m0 7.5h0m1.5-5.5h0m0 1.5h0m0.5-6h0m0 20.5h0m0.5-32h0m0 23h0m0.5-3.5h0m0.5-5h0m0.5 11.5h0m0.5-20.5h0m0.5-6.5h0m0 16h0m0 16.5h0m0.5-29.5h0m1 27h0m0.5-25.5h0m0.5-1.5h0m0 18h0m0 5.5h0m0.5-8.5h0m0 5h0m0.5 6h0m0.5-30h0m0 18h0m1-11h0m1 6.5h0m0 13h0m1-12h0m0 19h0m0.5-17h0m0.5-7h0m0.5 23h0m0.5-3.5h0m1-16.5h0m0.5 6.5h0m0 3.5h0m0 8.5h0m1-26.5h0m0.5 4h0m0 12.5h0m0.5-7.5h0m0.5-42h0m0 54.5h0m0 13.5h0m0.5-21h0m0 5h0m0.5-49.5h0m0.5 47.5h0m0.5-54.5h0m0 32h0m0 25h0m0 8.5h0m0.5-63h0m0 5h0m0.5 26h0m0 22h0m0.5-9.5h0m0 4.5h0m0 15.5h0m0.5-63h0m0 2.5h0m0 27.5h0m0 24.5h0m0.5-50h0m0 52.5h0m1 7h0m0.5-64h0m0 2h0m0 45.5h0m0.5 23.5h0m0.5-19h0m0 8h0m0 7.5h0m1-62.5h0m0 46h0m0.5-49.5h0m0 24h0m1-24.5h0m0 1.5h0m0 23h0m0.5-1.5h0m0 30.5h0m0.5 15.5h0m0.5-45h0m0.5-1.5h0m0.5 39h0m0.5-4h0m1.5-36.5h0m1-2.5h0m0 42h0m1-42h0m1.5 53h0m1-2.5h0m2 8.5h0m8.5-2.5h0m1.5 8h0m2.5-1.5h0m0 2.5h0m2.5-1h0m0.5-4h0m1 226.5h0m0.5-224.5h0m0 219.5h0m1.5 3h0m1-1h0m0.5-222h0m0.5 225.5h0m0.5-4h0m0 1.5h0m1 1h0m0.5 1.5h0m0.5-167h0m0.5 166h0m0 2h0m0.5-166h0m1-1.5h0m0.5-4h0m0.5-2h0m1-7.5h0m1 2h0m0.5 2.5h0m0 5h0m0.5 5.5h0m0.5-63h0m0.5 9.5h0m0 49.5h0m1-3.5h0m0 11h0m2-56.5h0m0 53.5h0m0.5 4h0m0.5-6h0m0.5-50.5h0m1 52h0m2-3.5h0m0 5h0m1.5-9.5h0m0.5 5h0m1.5 7h0m1-53.5h0m1 39.5h0m1 7.5h0m0.5-6h0m0.5-38h0m1.5 38.5h0m1.5 0h0m0.5-5h0m0 1.5h0m1.5-35.5h0m0 36.5h0m0.5 11h0m0.5-14h0m1.5-33h0m0 36.5h0m0 98.5h0m1.5-97.5h0m0 98.5h0m1.5-96.5h0m0 92h0m0.5-86h0m0 87.5h0m0.5 4.5h0m0.5-138h0m0.5 33.5h0m0 2h0m0 98h0m2.5-101h0m0 105.5h0m0.5-88.5h0m0 55.5h0m0.5-97.5h0m0 35.5h0m0.5 4.5h0m0 84h0m0.5-90.5h0m0.5-6.5h0m0 67.5h0m0 2.5h0m0 32.5h0m1-4h0m0.5-123h0m0 116.5h0m0 2.5h0m0.5-91h0m0.5 2h0m0 10.5h0m0.5 49.5h0m0 28h0m0.5-79.5h0m1 43h0m0 39.5h0m0 4.5h0m0.5-2h0m0.5-79.5h0m0.5-17h0m0 8.5h0m0 62.5h0m0.5 25.5h0m0 5h0m0.5-89.5h0m0 47.5h0m1-54.5h0m0 93.5h0m0 2h0m0.5-99h0m0 12h0m0 81h0m1-20.5h0m0.5 18h0m1-36.5h0m0 30h0m0.5-82h0m0 33.5h0m0 55.5h0m0.5-73h0m0 79.5h0m0.5-38.5h0m0.5 3h0m0.5-62.5h0m0.5 51.5h0m0 3h0m0 17h0m0 28.5h0m0.5-3h0m0.5-76h0m0 67.5h0m0.5-21h0m0 15h0m0.5-77.5h0m0 47h0m0.5-32.5h0m0 67h0m0.5-48.5h0m0 21h0m0 26h0m0 3h0m1.5 9.5h0m1-56.5h0m0 14h0m0.5 6h0m0 28.5h0m0.5-66.5h0m0 25h0m0 14.5h0m0.5-3h0m0.5 5h0m0 26h0m0.5-50.5h0m0.5 45.5h0m0 10.5h0m0.5-44h0m0 8.5h0m1 20.5h0m1.5-24h0m0 5.5h0m0 3h0m0 20.5h0m0.5 6h0m0.5-46.5h0m0 14.5h0m0.5 5h0m0 12.5h0m0 7h0m0.5-21.5h0m0 29.5h0m0.5-43.5h0m0.5 30h0m0.5-31.5h0m0 36.5h0m1-25.5h0m0 27.5h0m0.5-32.5h0m0 10h0m0 21h0m1-37h0m0 29h0m1-78h0m0 89.5h0m0.5-77h0m0 38h0m0 28h0m1-75.5h0m0 87h0m0.5-92h0m0 53.5h0m0 35h0m0.5-7.5h0m0.5-24h0m0 3h0m0 10h0m0 12.5h0m1-77h0m0 8.5h0m0 65.5h0m0.5 7.5h0m0.5-5.5h0m0.5-15.5h0m0 4h0m0 18.5h0m0.5-32h0m0.5 3h0m0.5-45h0m0.5 4.5h0m0 29h0m0.5 24.5h0m0 8h0m1-65h0m0 35h0m0.5-33h0m0.5 36.5h0m0 20h0m0.5-25h0m0 22.5h0m0.5-50.5h0m0.5-14.5h0m0 48h0m0 5h0m0.5 11.5h0m0.5-7h0m0 13h0m0.5-69h0m0 10.5h0m0.5 43.5h0m0.5 3.5h0m0.5-56.5h0m0 44h0m0 24.5h0m0.5-54.5h0m0 32.5h0m0.5-4.5h0m0 61h0m0.5-103.5h0m0 8.5h0m0 2.5h0m0 55.5h0m0.5-89.5h0m0 21h0m0 54h0m0 3h0m0 25.5h0m1 20h0m0.5-122.5h0m0 97.5h0m0 27h0m0.5-104h0m0.5-16.5h0m0 18h0m0 44h0m0.5-66.5h0m0 33.5h0m0 17h0m0 13.5h0m0 11.5h0m0 27.5h0m0 19.5h0m0.5-116h0m0.5-10h0m0.5 24h0m0 3.5h0m0 41.5h0m0 38h0m0 17.5h0m0 6.5h0m0.5-128.5h0m0 90.5h0m0.5-97.5h0m0 10.5h0m0 19.5h0m0 9.5h0m0.5 19.5h0m0 20h0m0 51h0m0.5-118h0m0 20h0m0 5.5h0m0 9h0m0 43.5h0m0 41.5h0m0.5-23h0m0 8h0m0.5-106h0m0.5 3h0m0 65.5h0m0 38.5h0m0.5-114.5h0m0.5 69.5h0m1.5-29.5h0m0 45.5h0m0 5.5h0m0 13h0m0.5-103.5h0m1 112.5h0m0.5-34h0m0 2.5h0m0 8h0m1-78.5h0m0 67h0m0.5-69.5h0m0 61.5h0m0.5-27h0m0 38.5h0m0 30h0m0 4h0m0.5-113h0m0 14h0m0 57.5h0m0.5-68h0m0 41h0m0 31.5h0m0.5 33.5h0m0.5-36.5h0m0.5 3.5h0m0.5-66h0m0 3h0m0 2.5h0m0 30.5h0m0 64.5h0m0.5-117.5h0m0 68h0m0 2.5h0m0 3h0m0 2h0m0.5-60h0m0 34.5h0m0 66h0m0.5-112.5h0m0 74h0m0 3.5h0m0.5-45h0m0 18.5h0m0.5-32.5h0m0 27.5h0m0 3h0m0 18h0m0 47h0m0.5-110.5h0m0 46h0m0 4h0m0 11.5h0m0 11.5h0m0 41.5h0m0.5-103h0m0 18.5h0m0 9h0m0.5-41h0m0.5-6h0m0 14.5h0m0.5 33.5h0m0 2h0m0 8.5h0m0.5-56.5h0m0 3h0m0 41h0m0.5-33.5h0m0 42.5h0m0 21.5h0m0 1.5h0m0 7.5h0m0.5-86.5h0m0 9h0m0 116.5h0m0.5-103h0m0 3.5h0m0 57.5h0m0.5-45h0m0 42.5h0m1-77.5h0m0 14h0m0 47h0m0 15h0m0.5-65.5h0m0 2h0m0 11h0m0.5-15.5h0m0 64.5h0m0 45.5h0m0.5-61.5h0m0 64h0m0.5-114.5h0m0 16.5h0m0 3h0m0 7h0m0.5-21.5h0m0 55.5h0m0.5-45.5h0m0 2.5h0m0 4.5h0m0.5 36.5h0m0.5-63.5h0m0 64h0m0 9.5h0m0.5-68.5h0m0 26h0m0.5-34.5h0m0 12.5h0m0 13h0m0 58.5h0m0 36.5h0m1-86.5h0m0 36h0m0.5-66h0m0 17.5h0m0.5-22.5h0m0 30.5h0m0.5 51h0m0.5-55h0m0 2h0m0 5.5h0m0 23h0m0.5-36h0m0 41h0m0 59h0m0 1.5h0m0.5-114.5h0m0 70.5h0m0 6.5h0m0.5-84.5h0m0 23h0m0 8h0m0.5-28h0m0 3h0m0 5h0m0 28h0m0 26.5h0m0 6.5h0m0 16.5h0m0.5-43.5h0m0 37h0m0 4.5h0m0.5-39.5h0m0 2h0m0 77.5h0m0.5-122h0m0 8.5h0m0 13h0m0 2.5h0m0.5 61h0m0.5-93.5h0m0 5h0m0 9.5h0m0 6.5h0m0 68h0m0.5-72.5h0m0 19.5h0m0 43.5h0m0 7.5h0m0.5-75.5h0m0 51.5h0m0 63h0m0.5-116.5h0m0 85h0m0.5-88h0m0 19h0m0 11h0m0 24.5h0m0 10.5h0m0 54h0m0.5-109h0m0 11.5h0m0 28h0m0.5-23.5h0m0 33.5h0m0 3.5h0m0.5-44.5h0m0 66h0m0.5-80h0m0 23.5h0m0 29.5h0m0.5 7h0m0 2h0m0.5-69h0m0 58.5h0m0 17h0m0 13.5h0m0.5-90.5h0m0 11.5h0m0 7h0m0 29.5h0m0.5-3h0m0 7.5h0m0 5.5h0m0 8h0m0 3.5h0m0 9h0m0 6h0m0 2h0m0.5-6h0m0.5-82.5h0m0 28h0m0 65.5h0m0.5-55.5h0m0.5 29h0m0 1.5h0m0.5-5.5h0m0.5-27h0m0 3h0m0 7h0m0 36.5h0m0 13.5h0m0.5-23.5h0m0 15.5h0m0 6h0m0.5-81h0m0 71h0m0.5-34h0m0 4.5h0m0.5-35.5h0m0 19.5h0m0 5.5h0m0 16.5h0m0 4.5h0m0 2h0m0 24h0m0.5-81.5h0m0 26.5h0m0.5-15h0m0.5 2.5h0m0 42h0m0 20.5h0m0.5-52h0m0 27.5h0m0.5 20.5h0m0 14h0m0.5-66h0m0 7.5h0m0 7.5h0m0 5.5h0m0 8.5h0m0 4h0m0 13h0m0 3h0m0.5-58.5h0m0 28h0m0 6.5h0m0.5-31.5h0m0 2h0m0 69.5h0m0.5-59h0m0.5 8.5h0m0 1.5h0m1-29h0m0 22.5h0m0 14.5h0m0 23.5h0m0 16h0m0.5-47h0m0 4h0m0 11h0m0 12h0m0.5 1.5h0m0.5-41h0m0 4h0m0 6h0m0.5 14.5h0m0 19.5h0m0 11.5h0m0 2h0m0.5-45.5h0m0 26.5h0m0 44h0m0.5-87h0m0 23h0m1-38h0m0 10h0m0 67.5h0m0.5-64h0m0 31h0m0 10h0m0 13.5h0m0 6h0m0.5-76h0m0 26h0m0 9h0m0 27.5h0m0 5h0m1-39h0m0 9.5h0m0 18h0m0 51h0m0.5-92.5h0m0 32.5h0m0.5-14.5h0m0 17h0m0 10.5h0m0 12.5h0m0.5-20.5h0m0 18.5h0m0.5-2h0m0.5-68.5h0m0 35h0m0.5-32.5h0m0 9.5h0m0 13.5h0m0 49h0m0.5-32h0m0 1.5h0m0 8h0m0 9h0m0 15.5h0m0 21.5h0m0 7.5h0m0.5-36.5h0m0.5-19.5h0m0 21.5h0m0.5 4h0m0.5-22.5h0m0 25.5h0m0 27h0m0.5-94h0m0 21h0m0.5 12h0m0 6.5h0m0 3.5h0m0 13.5h0m0 3.5h0m0.5 4h0m0.5-38.5h0m0 33h0m0 34.5h0m0.5-26.5h0m0.5-67.5h0m0 6.5h0m0 21.5h0m0 20.5h0m0 6h0m0 38.5h0m0.5-83h0m0 12.5h0m0.5-3.5h0m0 47.5h0m0.5-62.5h0m0 53h0m0.5-65h0m0 57.5h0m0.5-55h0m0 4h0m0 41h0m0.5-67h0m0 71.5h0m0 19h0m0.5-14.5h0m0.5-75h0m0 1h0m0 66.5h0m0.5-10.5h0m0 12.5h0m0.5-40.5h0m0 17h0m0 7.5h0m0.5-50h0m0 77.5h0m0 4h0m0.5-67.5h0m0 4h0m0 71h0m0.5-55.5h0m0.5-39h0m0 12h0m0 8.5h0m0 29.5h0m0 5h0m0 38.5h0m0.5-71.5h0m0 10.5h0m0 36.5h0m0 2.5h0m0.5-72.5h0m0.5 35.5h0m0 23.5h0m0 16h0m0.5-29.5h0m0 32h0m0.5-37h0m0 14.5h0m0 31h0m0.5-78.5h0m0 15h0m0.5-17h0m0 20h0m0 65.5h0m0.5-61.5h0m0 57h0m0 6h0m0.5-89h0m0 6.5h0m0 27h0m0 16h0m0 3h0m0 18.5h0m0.5-5h0m0.5-61h0m0 5.5h0m0 29h0m0 4h0m0 12h0m0 31.5h0m0.5-14h0m0.5-69h0m0 23.5h0m0.5 17h0m0 2h0m0 34.5h0m0 2h0m0.5-50.5h0m0 32h0m0.5-25.5h0m0 2h0m0 19h0m0.5-24h0m0.5 6.5h0m0 11h0m0 19.5h0m0 7.5h0m0 3h0m1-71.5h0m0 49h0m0.5-23h0m0 30.5h0m0.5-28.5h0m0 31.5h0m0.5-64.5h0m0 2.5h0m0 15h0m0 9h0m0.5-22.5h0m0.5 30.5h0m0 9.5h0m0 2.5h0m0 4h0m0 13h0m0 6.5h0m0.5-38h0m1 4h0m0.5-20h0m0 26h0m0.5-28h0m0 48h0m0.5-59h0m0.5 21h0m0 23h0m0.5-31.5h0m0 25.5h0m0.5-19h0m0.5-2h0m0.5-2h0m0 14h0m0.5-34h0m1 15.5h0m2 17.5h0m0.5-8h0m0.5-8.5h0m0.5-3.5h0m0 5h0m0 18h0m0.5-9h0m0.5-19h0m0.5-3h0m0 20h0m0.5 4.5h0m0.5-30.5h0m0 13.5h0m0.5 6h0m0.5-12h0m0 28h0m0.5-14.5h0m0.5-19.5h0m0 12h0m0 4.5h0m0.5-7.5h0m0.5 16.5h0m0 6h0m0.5-24h0m0.5-3h0m0 16h0m0.5 29.5h0m0.5-48.5h0m0 4.5h0m0 4.5h0m1.5-3h0m0 19h0m0.5-25.5h0m0 2h0m0 17.5h0m0 2.5h0m1-11.5h0m0 5.5h0m0.5-15.5h0m0.5 11.5h0m0 11h0m0.5-8.5h0m0 10.5h0m0.5-5.5h0m1-11h0m0 4.5h0m0 32.5h0m0.5-24h0m0 2.5h0m1-22h0m0 4h0m0.5 6.5h0m0.5 6h0m1.5 5.5h0m4-13h0m2-2h0m0 3h0m0.5 2h0m0.5 34h0m1 2h0m1 1.5h0m2-0.5h0" fill="none" stroke="#0d4a1c" stroke-width="3.5" stroke-linecap="round"/><path d="M1208.5 798.5h0m1-3.5h0m2.5 2.5h0m102 15h0m0 10h0m0 3h0m0.5-5h0m1.5-14h0m0 24h0m1-17.5h0m0 3h0m2 8h0m3.5-19.5h0m2.5 12h0m1-12h0m1 30.5h0m1-28h0m2 9.5h0m0.5-8h0m0 19h0m3 8h0m2.5-31h0m2.5 6h0m0 28h0m0.5-30.5h0m0.5-9.5h0m1.5 8.5h0m6.5-15.5h0m0.5 11h0m0 3h0m1.5-5h0m2-6h0m0.5 31h0m0.5-10.5h0m0 12.5h0m0.5-5h0m1.5-11.5h0m1 14.5h0m1 8.5h0m1-9.5h0m3.5-23h0m0.5 4.5h0m0.5 5h0m2 21h0m2.5-34h0m0.5 12.5h0m0 16.5h0m1.5-16h0m1.5-6h0m0 4h0m0 17h0m2.5-18h0m0.5-7.5h0m1 12h0m0.5 7h0m0.5-18h0m0 32.5h0m7-61h0m0.5 2.5h0m1 55h0m0.5-9.5h0m0.5-47.5h0m1.5-3h0m1 60.5h0m5.5-1h0m0 8h0m3-47h0m0 46h0m8 6h0m1 10h0m9.5 217.5h0m1.5 1.5h0m4-224h0m0 226.5h0m1.5-228h0m0.5 230.5h0m1.5-229.5h0m6 8.5h0m1 44h0m1 6h0m2-44.5h0m1.5-4.5h0m2 2h0m2.5 52h0m1.5-7h0m2 6.5h0m2.5-48.5h0m5 46h0m4-10h0m2-30h0m1 2h0m0 38.5h0m1-37.5h0m1 22h0m0 70h0m1 3.5h0m1-97h0m0 129h0m0.5-37h0m0 2h0m0.5-60.5h0m1.5-30h0m0 89h0m0 4h0m0.5-73h0m0.5 8h0m0.5 6.5h0m0.5 90h0m1-35h0m1.5-65h0m1 91.5h0m3 14h0m0.5-41.5h0m0.5-49.5h0m0 56.5h0m0 30h0m1-55.5h0m0.5 29h0m1-66h0m0 87h0m1 2.5h0m0.5-52.5h0m0 16h0m3 8h0m1-4.5h0m0 24h0m0.5-63.5h0m0 36h0m1-6h0m0 13h0m0 32h0m1-75.5h0m1.5 28.5h0m0.5-5h0m2 35h0m1-81h0m0 69.5h0m0 3.5h0m0.5-14h0m1.5-2h0m0.5 7.5h0m0.5 8h0m0.5-24.5h0m0 35h0m0.5-69h0m0 55.5h0m0 23.5h0m0.5-90.5h0m0.5 52.5h0m0 5.5h0m0 2h0m0.5 1.5h0m0.5 2h0m1.5-18.5h0m1 26h0m1-23.5h0m0 38.5h0m3-56h0m0.5 5h0m0.5 44h0m0.5-12.5h0m1.5-27h0m0.5 21.5h0m1-2h0m1-58h0m0.5 81.5h0m1.5-82h0m0 16.5h0m1 40h0m0 23h0m0.5-79h0m1 39.5h0m0.5 28h0m0.5-17h0m0 3.5h0m0.5 6.5h0m0.5-76.5h0m0 58.5h0m1 12.5h0m0 31.5h0m0.5-26h0m0.5-86.5h0m0 89h0m1 25.5h0m1-50.5h0m0 23.5h0m0 8h0m0.5-24.5h0m0.5 10h0m0 5h0m0.5 20.5h0m0.5-38.5h0m0 26.5h0m0.5-59h0m0.5 45h0m0.5 3h0m1-66.5h0m1 21.5h0m0 8h0m0 23h0m0.5-71.5h0m0 80h0m0 9h0m0.5-77.5h0m0 97.5h0m0 11.5h0m0.5-79h0m0.5-40h0m0 8.5h0m0 58.5h0m0.5 54h0m1.5-79h0m0 10h0m0.5 17h0m0 18h0m0.5-76.5h0m0 101h0m0.5-35h0m0.5-19.5h0m0 55.5h0m0.5-64h0m0 1h0m1-38h0m0.5 13h0m0 57h0m0.5-66.5h0m0 49h0m0 23h0m0.5-36h0m0.5-5h0m0 1.5h0m0 27h0m0.5-21h0m0 28h0m0.5-31h0m0.5 62h0m0.5-62.5h0m0.5 68.5h0m0.5 5.5h0m1-71h0m1.5-25h0m0 4h0m0 5h0m0.5-2h0m0 18h0m0.5-33h0m1.5-11h0m0 67.5h0m0.5-40h0m0 81.5h0m0.5-2h0m0 7.5h0m0.5-1.5h0m1-87.5h0m0 43h0m1 43.5h0m0.5-44h0m2.5-81h0m1 124h0m0.5-106.5h0m2 55.5h0m0 52.5h0m1 3.5h0m0.5-4h0m0.5-128h0m0 130h0m1.5-69.5h0m0 25.5h0m1-85.5h0m0 18.5h0m0.5 6.5h0m0.5 13h0m0.5-32.5h0m0 2h0m1 7.5h0m0 11h0m1.5 39h0m1-3h0m0.5-34.5h0m1 2h0m0 18.5h0m0.5 45.5h0m0.5-37.5h0m3-27h0m0.5 50.5h0m0 12.5h0m0.5-72.5h0m0.5 4h0m2-1h0m0 62.5h0m0.5 30h0m2-96h0m0 2.5h0m0 23.5h0m0 74.5h0m1-95.5h0m0 30h0m0.5 33.5h0m0.5 27h0m1 3h0m0 2h0m1.5-56.5h0m1 51.5h0m0.5-100.5h0m0 24.5h0m0 82h0m0.5-99h0m1 9.5h0m1.5-16h0m0 29h0m1.5-33.5h0m1.5 67.5h0m1-78.5h0m0 25.5h0m1 9h0m0.5-21h0m0 18.5h0m1-5.5h0m0.5-8.5h0m0 7h0m0.5-1.5h0m0.5 12.5h0m0 25.5h0m1-36h0m0 21.5h0m0 9.5h0m1-54h0m0.5-4.5h0m0 13.5h0m1-2h0m0 16.5h0m0.5 10h0m0.5 35.5h0m0.5-73h0m0.5 1h0m0 19h0m0.5-8h0m0.5-10.5h0m1 14.5h0m0 17.5h0m0.5 33.5h0m0.5-54.5h0m1 5h0m0 14h0m2-20h0m2.5-6.5h0m0.5 10h0m0 2.5h0m0 9.5h0m0 13h0m1 18h0m0.5-8h0m0.5-39.5h0m2 25.5h0m0 4h0m0.5-33.5h0m0 15.5h0m1 7h0m0.5 6h0m0.5-30h0m0.5 35h0m2-2h0m1.5-19h0m0 20.5h0m2-20.5h0m0 17.5h0m0.5-21.5h0m2 18.5h0m4-1h0m0.5-20.5h0m2.5-5.5h0m0 3.5h0m0.5 2.5h0m2.5 9.5h0m0.5 35h0m1-36h0m1.5-1h0m0.5-5.5h0m0 11.5h0" fill="none" stroke="#e4202c" stroke-width="3.5" stroke-linecap="round"/><path d="M1208 797.5h0m3.5-0.5h0m45 61h0m1-2h0m0.5 1.5h0m19.5-61.5h0m1 2h0m37 29h0m0.5-8h0m0 16h0m1-12h0m1-4.5h0m1-11h0m1.5 4.5h0m0 22h0m0 6.5h0m0.5-13h0m1 13h0m1.5-4h0m0.5-26h0m1.5 4.5h0m1.5 6h0m0.5 9h0m1 1.5h0m0.5-17h0m0.5-14h0m4 19.5h0m0 8h0m1.5-19h0m1 2.5h0m0 2.5h0m0 5h0m1.5-11.5h0m0.5 7.5h0m1 8.5h0m1-14h0m7-8h0m0 13h0m1.5-20.5h0m0.5 23h0m2 1h0m0.5 12h0m1-25h0m2 11.5h0m0 19.5h0m0.5-29h0m0.5 5.5h0m1 1h0m0 4h0m2-21h0m1 2h0m0 15h0m1 14.5h0m0.5 6.5h0m0.5-39h0m0 26h0m0.5-22h0m0.5 31.5h0m0.5-2.5h0m1.5-31.5h0m0 38h0m1.5-29.5h0m1 23.5h0m1.5 3h0m2.5-8h0m1-21h0m3 27.5h0m3.5 4h0m1-24.5h0m0.5-42.5h0m0 1h0m1 4h0m0.5-7h0m0.5 53.5h0m1-53.5h0m3 62h0m0 5h0m0.5-56.5h0m1 47.5h0m0 9h0m0.5-39.5h0m0.5-1h0m0 45.5h0m3.5 3.5h0m15.5 7h0m4 0h0m0 223.5h0m3.5 3.5h0m2-3.5h0m2 0h0m5 3h0m1.5 4.5h0m1-170.5h0m1-5h0m3-49h0m1 1.5h0m2 48h0m5-41h0m3.5 44h0m6 4h0m1-4.5h0m1-44h0m2.5 6h0m0 39h0m1-43.5h0m0.5 134.5h0m1-128.5h0m0 42h0m1-5h0m0.5-11h0m2 12h0m3-11.5h0m0.5 13.5h0m0.5-38.5h0m1 101h0m1-96.5h0m0.5 125.5h0m1 2.5h0m0.5-110.5h0m0 60h0m0 36h0m0.5 3h0m0.5-39.5h0m0.5-14h0m0.5-3h0m0.5-31.5h0m0.5 36.5h0m1-6.5h0m0 24h0m0 35.5h0m1-88.5h0m0 33.5h0m0 15.5h0m0 16.5h0m1 18h0m0 2.5h0m0.5-39.5h0m1-11h0m0.5-4.5h0m0.5 3h0m0 18h0m0 37.5h0m1-53.5h0m0 3h0m0 8h0m1 15h0m2-32.5h0m0 22h0m0.5-14h0m1-18.5h0m0.5 10h0m0.5 7h0m0.5-5h0m0 9h0m0.5 10.5h0m0 4.5h0m0 23h0m1-25.5h0m0.5-22.5h0m0 10.5h0m1 13.5h0m0.5-3h0m0.5-21.5h0m0 23.5h0m1-3.5h0m1.5-21.5h0m0 4.5h0m0.5 46.5h0m0.5-44h0m0 3h0m0.5 18h0m0.5 8.5h0m1-30h0m0 23h0m1-30.5h0m0.5-32h0m0.5 39h0m0 5.5h0m0.5-47h0m1 35.5h0m0.5 13h0m2-15.5h0m0 15h0m1.5-4h0m0 25.5h0m1.5-64h0m2 57.5h0m0 23.5h0m0.5-51h0m0 6.5h0m0.5 5h0m1.5-8h0m0 44.5h0m0.5-38h0m0.5-9h0m0.5-3h0m0.5 41.5h0m0.5-29.5h0m0.5 24h0m0 12.5h0m0.5-43.5h0m0.5 11h0m0 39h0m0.5-15.5h0m1-39h0m1 9.5h0m0.5 3.5h0m0.5-11.5h0m0 48h0m1-59.5h0m0 18h0m0.5 43.5h0m0.5-51h0m0 10h0m1 14h0m0.5-65.5h0m0 54.5h0m1.5-7.5h0m0 5.5h0m0.5 18h0m0 27.5h0m0.5-48.5h0m0.5-2h0m1 51h0m0.5-56h0m0 7.5h0m0 1.5h0m0 27h0m0 18h0m0.5-100h0m0 107.5h0m0.5-57h0m0 13.5h0m0 8h0m0.5-23.5h0m0 31.5h0m0.5 27h0m0.5-49.5h0m0.5-62.5h0m0 39.5h0m0 16.5h0m0.5 29h0m0.5-4h0m1-18h0m0 42h0m0.5-20h0m0.5 29h0m1-48.5h0m0 13.5h0m0.5-38.5h0m0.5-2h0m0.5-35.5h0m0.5 35h0m0.5 7.5h0m0 19.5h0m0 41h0m0 10.5h0m0.5-49.5h0m1.5 13h0m0 33.5h0m0.5-61.5h0m0 60h0m1-3h0m0.5-44h0m0.5 43h0m0.5-69h0m0.5-13h0m0 30h0m0.5-12.5h0m0.5 1h0m0.5-47h0m0 27h0m0.5 23h0m1.5-15h0m0 84.5h0m2-54.5h0m0.5 4.5h0m0 53.5h0m0.5-88.5h0m0.5 82.5h0m0.5-91h0m0 10h0m0 84.5h0m1-87.5h0m0 48h0m0.5-84.5h0m0 21.5h0m0.5-9h0m0.5 73h0m0.5-7.5h0m2-72.5h0m0 62h0m0 6h0m0 4.5h0m0.5-2.5h0m0.5-34.5h0m1-18h0m1 9.5h0m1 24h0m0.5-57.5h0m0 36.5h0m0.5-5.5h0m0 40.5h0m0.5-69h0m0.5 15h0m0.5 6h0m0 102h0m2-55h0m0.5-19h0m0 9h0m0 24.5h0m1-35.5h0m0 6h0m0 17.5h0m1-56.5h0m0.5 10h0m1.5 3h0m0.5 8h0m0.5-10h0m0 48h0m1-9h0m0 18.5h0m2-37h0m0.5-31h0m0.5 45h0m1-46.5h0m0 70.5h0m0.5-38h0m0.5 27h0m0.5-18.5h0m0.5 57.5h0m0.5-53h0m0.5-23h0m1-9.5h0m0 83h0m1-50.5h0m0.5-33h0m0 61h0m1-45.5h0m0 5.5h0m0 3h0m0 10.5h0m0 12.5h0m0 9h0m0.5-58h0m0 90h0m0.5-42.5h0m1 7h0m0.5-54.5h0m0 60.5h0m0.5-45h0m1-27.5h0m0 34.5h0m0.5 58.5h0m0.5-99h0m0 16h0m0 14h0m0 36h0m1.5-47h0m0.5 47.5h0m2 8h0m0 3.5h0m1-57h0m0 17.5h0m0.5 30.5h0m0.5-12.5h0m0.5 7h0m0.5-54.5h0m0 5.5h0m0 2h0m3 52.5h0m1.5-15.5h0m0.5 16.5h0m1-7h0m0.5-55h0m1 24h0m1.5 37h0m1.5-35.5h0m0 22h0m1-15.5h0m0 21.5h0m0.5-30.5h0m1 19h0m0.5 11h0m1.5-17h0m3.5-3.5h0m2.5 2h0m1.5-27h0m0.5 21.5h0m4.5-0.5h0m3.5 4.5h0m2.5-22h0m4 23h0m11-6h0" fill="none" stroke="#1f8cc4" stroke-width="3.5" stroke-linecap="round"/><path d="M1209.5 799h0m1.5-3.5h0m0.5 3.5h0m1.5-2.5h0m43 59.5h0m1 1h0m1.5-1h0m0 2.5h0m1-4.5h0m2 3h0m15-62h0m1-1.5h0m1.5 2.5h0m2.5 1h0m32.5 14h0m3.5-2.5h0m0 29.5h0m0.5-32h0m0 22.5h0m1-18h0m0.5-1.5h0m1 14.5h0m0.5-15.5h0m0 8h0m0 5h0m1.5 12.5h0m0.5-21h0m0 8.5h0m0 18h0m1.5-4.5h0m0.5-3h0m0 8h0m0.5-28.5h0m0 12.5h0m1 8h0m0 6h0m1-21h0m0.5 6h0m2-17h0m0 4.5h0m0.5 11h0m0.5-19h0m1 4h0m0 15.5h0m1 3.5h0m1-11.5h0m0.5-10h0m0 20.5h0m0.5 5h0m0.5-7h0m0.5-23.5h0m0.5 26h0m0.5-8h0m1-11h0m0 19.5h0m0.5-5.5h0m0.5-7h0m0 24.5h0m0.5-2h0m0.5-30h0m0 11.5h0m1 18h0m0.5-36.5h0m0 14.5h0m0.5 5h0m0 15.5h0m0.5-18.5h0m1-16.5h0m0 12.5h0m0 6h0m0 5.5h0m0 2h0m0.5-6h0m0 9.5h0m1 6.5h0m0.5-27.5h0m0.5 24.5h0m0.5-33.5h0m0 23h0m0 14.5h0m0.5-10.5h0m0.5 5.5h0m0.5-21h0m0.5-11.5h0m0 35.5h0m0.5-14h0m0 12.5h0m0.5-36h0m0 27h0m0 2.5h0m0.5-16h0m0 5.5h0m0.5 6h0m0 5.5h0m0.5-18.5h0m0.5-7h0m0 23.5h0m1-3h0m0.5-17.5h0m0 4h0m0 26h0m1-34.5h0m0.5-4h0m0 7.5h0m0 16.5h0m2-24h0m0.5 10.5h0m0 16.5h0m0 8.5h0m0.5-29h0m0 25h0m0.5-18.5h0m1.5 8.5h0m1-13.5h0m0.5-6h0m0.5 33h0m0 2h0m1.5-36.5h0m0.5 11h0m0.5-3.5h0m0 6h0m0 8.5h0m0 5.5h0m0.5 7.5h0m0.5-17.5h0m1-16.5h0m0 26h0m1-20.5h0m0.5 11h0m0 6.5h0m0.5-21.5h0m0.5 3h0m0 6.5h0m0.5 7h0m0.5 20.5h0m0.5-23h0m0 10h0m0 6h0m0 3h0m1 1.5h0m0.5-33.5h0m0 30.5h0m0.5-24.5h0m0 5h0m0.5 13h0m0 11.5h0m1-10h0m1-20.5h0m0 31.5h0m0.5-28.5h0m0 7h0m1-9h0m0.5 4h0m0 29h0m0.5-14.5h0m0 9.5h0m0 2.5h0m0.5-19.5h0m1.5 0.5h0m0 10.5h0m0.5-55h0m0 35.5h0m0.5 26.5h0m0.5-22h0m0.5 17h0m0.5-4h0m0 10.5h0m1-38h0m0.5-30h0m1 8.5h0m0 39h0m0 13h0m0.5-60h0m0 63.5h0m1-55h0m0 43h0m1-51.5h0m0 3.5h0m0.5 1.5h0m0.5-4.5h0m0 60h0m0.5-54h0m1.5 57h0m0.5-40.5h0m0.5 39h0m1.5-37h0m0.5-2.5h0m2 0.5h0m0.5 1h0m0 52h0m5-1.5h0m2 7h0m6 0.5h0m0 5.5h0m2-4.5h0m1.5 221.5h0m1 1h0m0.5-3.5h0m1 5h0m3.5 1.5h0m0.5-4.5h0m3.5 1h0m0.5-221h0m0 56h0m2-58.5h0m0.5 51.5h0m0 7h0m0.5 4.5h0m0.5 163.5h0m1.5-226h0m0 61h0m1.5-2h0m1.5-7h0m0.5 7.5h0m0 2h0m2.5-3.5h0m1.5 5h0m0.5-4.5h0m1-5h0m0 2.5h0m1-42.5h0m0 52h0m2.5-54.5h0m0 41h0m0 12h0m2.5 1h0m0.5-50.5h0m1 40.5h0m0.5-44.5h0m0 53.5h0m1.5-5.5h0m0.5-8.5h0m0 13h0m1.5-8h0m1.5-1.5h0m0.5 6.5h0m1-43h0m0 39h0m0.5-2.5h0m1-42h0m0 38h0m2-4h0m1-29h0m0 33.5h0m1.5 2h0m1 99h0m1.5-100h0m0 10h0m0 54h0m0.5-66h0m1 11h0m1 7.5h0m0 77h0m0.5-93.5h0m0 71h0m0.5-59h0m0 86.5h0m1-88h0m0 84h0m0.5-78.5h0m0.5 82h0m0.5-88h0m0 92h0m0.5-104.5h0m0 18.5h0m0 57h0m1-71h0m0.5-3h0m0 101.5h0m0.5-7h0m0.5-19.5h0m0 15.5h0m0 6h0m0 3.5h0m0.5-88.5h0m0 59h0m0.5 22h0m0.5-49h0m0 10.5h0m0.5-54.5h0m0 77.5h0m1-13.5h0m0 9.5h0m0 14.5h0m1-22h0m0.5-57.5h0m0 35.5h0m0 15h0m0 42.5h0m0.5-67.5h0m0 62.5h0m0.5-41h0m0.5-47h0m0 94.5h0m0.5-12h0m0.5 6.5h0m0.5-41.5h0m0 30.5h0m1-77h0m0 78.5h0m1-82h0m0 66h0m0.5-25.5h0m0 19h0m0 33h0m0 1.5h0m1-48.5h0m0.5 7.5h0m0 40h0m1-60h0m0 58h0m0.5-42.5h0m0 44.5h0m0.5-28.5h0m0.5 24.5h0m1-60.5h0m0 62h0m0.5-6.5h0m0.5-20h0m0.5 12.5h0m0.5-33h0m0.5 40h0m0 5.5h0m0.5-8.5h0m0.5 4.5h0m0 2h0m0.5-20.5h0m0.5 24h0m0.5-4h0m1.5-93.5h0m0 56h0m0.5-51.5h0m1-4h0m0 92h0m0 2.5h0m0.5-51h0m0.5 16h0m1-59.5h0m0 72.5h0m0 9h0m0.5 4.5h0m1 1.5h0m0.5-87h0m0 75.5h0m0 13h0m0.5-18h0m0.5-53h0m0 32.5h0m0 12.5h0m0 24h0m1-84.5h0m0 1.5h0m0.5 34.5h0m0.5 34h0m0.5-69h0m0.5 51.5h0m0 3.5h0m1-7.5h0m0.5 3.5h0m0 9h0m0.5 4.5h0m0.5-24h0m1.5 9h0m0 4.5h0m0 26h0m0.5-1.5h0m0.5-1h0m1-14.5h0m0.5-10h0m0.5-40.5h0m0 69h0m0.5-34.5h0m0 30h0m0.5-32h0m0 8h0m0.5 27h0m0.5-67h0m0 33.5h0m2 32h0m1.5-60h0m0 91h0m0.5-60h0m0 37.5h0m0.5-75.5h0m0.5 60.5h0m0 32h0m0.5-53.5h0m0 3h0m0 12.5h0m0 2h0m0.5-61h0m0.5-30h0m1 81h0m0 9.5h0m0.5-50h0m0.5 63.5h0m0 26.5h0m0.5-117h0m0 25.5h0m0 81.5h0m0.5-120.5h0m0.5 28h0m0 103h0m0.5-41h0m0 21.5h0m0.5-113.5h0m0.5 17h0m0 21.5h0m0 9.5h0m0 41.5h0m0.5-85h0m0 65.5h0m0 16.5h0m0 19h0m0.5-90h0m0 3.5h0m0 26.5h0m0 70h0m1-107.5h0m0 70.5h0m0 7h0m0.5-50.5h0m0.5-34.5h0m0 109.5h0m0.5-90.5h0m0 1.5h0m0 51h0m0.5 42h0m0.5-112.5h0m0.5 86.5h0m0 24h0m1-42h0m0.5-71.5h0m0 40.5h0m0.5 69.5h0m0.5-108h0m0 11.5h0m0 5h0m0 103.5h0m0.5-114h0m0 58h0m0 53.5h0m0.5-63h0m0 33.5h0m0.5-42h0m0 3.5h0m0 1.5h0m0 70h0m0.5-121h0m0 32.5h0m0 45h0m0 39.5h0m0 2h0m0.5-97h0m0 23.5h0m0.5-41h0m0.5 49h0m0 30h0m0.5-76h0m0 46.5h0m0 2h0m0.5-57.5h0m0 11h0m0 22h0m0 90.5h0m0.5-73.5h0m0 13h0m0 21h0m0.5 29.5h0m0.5-97.5h0m0 4.5h0m0 35.5h0m0 3h0m0 5.5h0m0.5 15.5h0m0 43.5h0m0.5-115.5h0m0 44.5h0m0.5-17.5h0m0.5-19h0m0 27.5h0m0 8h0m0.5-38.5h0m0 41.5h0m0 2h0m0 8.5h0m0.5-66h0m0 59h0m0.5-48h0m0 8h0m0 9.5h0m0 27h0m0 68.5h0m0.5-101h0m0 17h0m0 77h0m1-119.5h0m0.5 22h0m0 45.5h0m0.5-33h0m0 85h0m0.5-114h0m0 49.5h0m0 4h0m0.5-58h0m0 19.5h0m0 23h0m0.5-20.5h0m0 41.5h0m0 10h0m0 3.5h0m0.5-70.5h0m0 54h0m0.5-63h0m0.5 5.5h0m0 20.5h0m0 46h0m0.5-40h0m0 28h0m0 14h0m0 5.5h0m0 1.5h0m0.5-16.5h0m0 67h0m0.5-121.5h0m0 4.5h0m0 42.5h0m0 5h0m0 15.5h0m0.5-56h0m0 54h0m0 48.5h0m0.5-78.5h0m0 2h0m0 19.5h0m0 19.5h0m0.5-36.5h0m0 27h0m0 51.5h0m0.5-57h0m0 2.5h0m0.5-75.5h0m0 20.5h0m0 8.5h0m0 35h0m0 64h0m0.5-81h0m0.5-16.5h0m0 94.5h0m0.5-57h0m0.5-31h0m0.5 5h0m0.5 13h0m0 36h0m0 41h0m0.5-125h0m0 33.5h0m0 21.5h0m0 6h0m0.5-2.5h0m0 4.5h0m0 13h0m0.5-79.5h0m0 16h0m0 22.5h0m0.5 51.5h0m0.5-72.5h0m0 2h0m0 44.5h0m0 7.5h0m0.5 9h0m0.5-43.5h0m0.5-38.5h0m0 12h0m0 13h0m0 12h0m0 9.5h0m0 80h0m0.5-82.5h0m0 48.5h0m0.5 38.5h0m1-56h0m0 19.5h0m0.5-78.5h0m0 12.5h0m0 61.5h0m0 35.5h0m0.5-117.5h0m0 64h0m0.5-61h0m0 33h0m0 8h0m0 10h0m0 15.5h0m0.5-48.5h0m0 5h0m0.5-25h0m0 13.5h0m0 9.5h0m0.5 7.5h0m0 51.5h0m0.5-86.5h0m0 2h0m0.5 26h0m0 34.5h0m0 22.5h0m0.5-66.5h0m0.5-21.5h0m0 49.5h0m0 34h0m0.5-78h0m0 66h0m0 8.5h0m0 6.5h0m0 6h0m0.5-90.5h0m0.5 58.5h0m0 9h0m0.5-65.5h0m0 31.5h0m0.5 30.5h0m0 16h0m1-66h0m0 28.5h0m0 46.5h0m0.5-28.5h0m0 2h0m0 1.5h0m0 19.5h0m0.5-72h0m0 65.5h0m0.5-20.5h0m0 2h0m0 9h0m0 2.5h0m0.5-44.5h0m0 54.5h0m0.5-42h0m0 5.5h0m0 10.5h0m0.5 6.5h0m0 17.5h0m1.5-34h0m0 45.5h0m0 24h0m0.5-104h0m0 3h0m0 10.5h0m0.5 42.5h0m0 17.5h0m0.5-6h0m0.5-27.5h0m0 22.5h0m0.5-36h0m0 49.5h0m0 24h0m0.5-47h0m0.5-30.5h0m0 19h0m0 23h0m0.5-49h0m0.5-11h0m0.5 2.5h0m0 70.5h0m0.5-16.5h0m0.5-55h0m0 5h0m0 3.5h0m0 10.5h0m0 3.5h0m1-1.5h0m0 25h0m0 10h0m0 17.5h0m0.5-32.5h0m0.5-42h0m0 17h0m0 34.5h0m0 9h0m0 36.5h0m0.5-99h0m0 60h0m1-51.5h0m0 87.5h0m0.5-36.5h0m0 9h0m0.5-15h0m0 22h0m0.5-33h0m0 2h0m0 7.5h0m0 46h0m0.5-97.5h0m0 8.5h0m0 20h0m0.5-35.5h0m0 25h0m0 29.5h0m0 7.5h0m0 13h0m0.5-66.5h0m0 36.5h0m0.5 6h0m0.5 23h0m0.5-46.5h0m0 19.5h0m0 12h0m0 13h0m0.5-70.5h0m0 7.5h0m0 11.5h0m0 34.5h0m1-68.5h0m0 4h0m0 9.5h0m0.5 45.5h0m0.5-12h0m0 40h0m0.5-90h0m0 6.5h0m0 15.5h0m0 22.5h0m0 35h0m0 5.5h0m0.5-80.5h0m0.5 3h0m0 54h0m0 27h0m0.5-85h0m0 7.5h0m0 35h0m0 21.5h0m0 3h0m0 5.5h0m0 15h0m0 2h0m0.5-94.5h0m0 35.5h0m0 47h0m0.5-78h0m0 19h0m0 31.5h0m0 6.5h0m0 14h0m0.5-64h0m0 32.5h0m0 47h0m0.5-65h0m0 60h0m0.5-81h0m0 79.5h0m0.5-78h0m0 5.5h0m0 18h0m0 11.5h0m0 7.5h0m0.5-46.5h0m0 19h0m0.5-21h0m0 34h0m0 16.5h0m0 42.5h0m0.5-81h0m0 58h0m0.5-61h0m0 39.5h0m0 32h0m0.5-80h0m0.5 21.5h0m0 28h0m0.5-48h0m0 31h0m0 49h0m0.5-62h0m0 15.5h0m0.5 4h0m0 34h0m0 7h0m0.5-27h0m0 17.5h0m0.5-48h0m0 59h0m2-52h0m0 1.5h0m0 42.5h0m0.5-63.5h0m1 20.5h0m0 14.5h0m0 7.5h0m0 32.5h0m1-66h0m0 28h0m1-38.5h0m0 13.5h0m0 8.5h0m0 46.5h0m0.5-56.5h0m0 16h0m0 34h0m0.5-36.5h0m0 4.5h0m0 9.5h0m0.5 30.5h0m0.5-50.5h0m0 12h0m0 18.5h0m0.5-42h0m0 19h0m1.5-27h0m0 10h0m0.5-8h0m0 29h0m1-23h0m0 4.5h0m0 14h0m1-15.5h0m0 18h0m0.5 8h0m1-16h0m0 30.5h0m0.5-40.5h0m0.5-8h0m0.5-4h0m0.5 1.5h0m0 3.5h0m0 41.5h0m0.5-39.5h0m0 45h0m0.5-48.5h0m1 20h0m0 14h0m0 13.5h0m0.5-18.5h0m1.5-23.5h0m0.5 19h0m0.5 2.5h0m0.5-6.5h0m0.5-4.5h0m0 30.5h0m0.5-48h0m0 11h0m0 15h0m0.5-11h0m0 8.5h0m0.5 8h0m0.5-13.5h0m0.5 3.5h0m0.5-17.5h0m0 7h0m0 4.5h0m1-3.5h0m0 39.5h0m0.5-27.5h0m0.5-6h0m1.5-15.5h0m0 18.5h0m0 28.5h0m1-32h0m0 9.5h0m1-16h0m1 14.5h0m1-15.5h0m0 4.5h0m1.5 34.5h0m0.5-38h0m0.5 8h0m0 26h0m0.5-39.5h0m0 7h0m1-1.5h0m1.5 35h0m0.5-38h0m0 5h0m0.5 2.5h0m5 33.5h0" fill="none" stroke="#0d4a1c" stroke-width="3.5" stroke-linecap="round"/><text transform="translate(1418.2 738) scale(1.08 1)" font-size="19.2" text-anchor="middle">Sample</text><circle cx="1683.8" cy="890.6" r="4.6" fill="#e4202c"/><text transform="translate(1695.6 898.2) scale(1.08 1)" font-size="21">1</text><circle cx="1683.8" cy="919.1" r="4.6" fill="#1f8cc4"/><text transform="translate(1695.6 926.7) scale(1.08 1)" font-size="21">2</text><circle cx="1683.8" cy="947.6" r="4.6" fill="#0d4a1c"/><text transform="translate(1695.6 955.2) scale(1.08 1)" font-size="21">3</text><text transform="translate(1222 1059.6) rotate(-90) scale(1.08 1)" font-size="19">UMAP2</text><text transform="translate(1262 1107) scale(1.08 1)" font-size="19">UMAP1</text><line x1="1214" y1="1101.2" x2="1214" y2="1081" stroke="#000" stroke-width="1.1"/><path d="M1214 1074 L1217.4 1083.5 L1214 1081 L1210.6 1083.5 Z" fill="#000"/><line x1="1213.4" y1="1100.6" x2="1237.4" y2="1100.6" stroke="#000" stroke-width="1.1"/><path d="M1244.4 1100.6 L1234.9 1104 L1237.4 1100.6 L1234.9 1097.2 Z" fill="#000"/><rect x="1814" y="739.4" width="116.9" height="10.3" fill="#0d4a1c"/><rect x="1930.9" y="739.4" width="50.5" height="10.3" fill="#1f8cc4"/><rect x="1981.4" y="739.4" width="43.2" height="10.3" fill="#e4202c"/><text transform="translate(1808 749.2)" font-size="12.8" text-anchor="end" fill="#222">0</text><text transform="translate(2029.8 749.2)" font-size="12.8" fill="#222">640</text><rect x="1814" y="751.1" width="101.1" height="10.3" fill="#0d4a1c"/><rect x="1915.1" y="751.1" width="61.1" height="10.3" fill="#1f8cc4"/><rect x="1976.2" y="751.1" width="48.4" height="10.3" fill="#e4202c"/><text transform="translate(1808 760.9)" font-size="12.8" text-anchor="end" fill="#222">1</text><text transform="translate(2029.8 760.9)" font-size="12.8" fill="#222">410</text><rect x="1814" y="762.8" width="135.8" height="10.3" fill="#0d4a1c"/><rect x="1949.8" y="762.8" width="52.6" height="10.3" fill="#1f8cc4"/><rect x="2002.5" y="762.8" width="22.1" height="10.3" fill="#e4202c"/><text transform="translate(1808 772.6)" font-size="12.8" text-anchor="end" fill="#222">2</text><text transform="translate(2029.8 772.6)" font-size="12.8" fill="#222">401</text><rect x="1814" y="774.5" width="85.3" height="10.3" fill="#0d4a1c"/><rect x="1899.3" y="774.5" width="62.1" height="10.3" fill="#1f8cc4"/><rect x="1961.4" y="774.5" width="63.2" height="10.3" fill="#e4202c"/><text transform="translate(1808 784.3)" font-size="12.8" text-anchor="end" fill="#222">3</text><text transform="translate(2029.8 784.3)" font-size="12.8" fill="#222">353</text><rect x="1814" y="786.2" width="121.1" height="10.3" fill="#0d4a1c"/><rect x="1935.1" y="786.2" width="7.4" height="10.3" fill="#1f8cc4"/><rect x="1942.5" y="786.2" width="82.1" height="10.3" fill="#e4202c"/><text transform="translate(1808 796)" font-size="12.8" text-anchor="end" fill="#222">4</text><text transform="translate(2029.8 796)" font-size="12.8" fill="#222">309</text><rect x="1814" y="797.9" width="139" height="10.3" fill="#0d4a1c"/><rect x="1953" y="797.9" width="10.5" height="10.3" fill="#1f8cc4"/><rect x="1963.5" y="797.9" width="61.1" height="10.3" fill="#e4202c"/><text transform="translate(1808 807.7)" font-size="12.8" text-anchor="end" fill="#222">5</text><text transform="translate(2029.8 807.7)" font-size="12.8" fill="#222">211</text><rect x="1814" y="809.6" width="121.1" height="10.3" fill="#0d4a1c"/><rect x="1935.1" y="809.6" width="45.3" height="10.3" fill="#1f8cc4"/><rect x="1980.4" y="809.6" width="44.2" height="10.3" fill="#e4202c"/><text transform="translate(1808 819.4)" font-size="12.8" text-anchor="end" fill="#222">6</text><text transform="translate(2029.8 819.4)" font-size="12.8" fill="#222">191</text><rect x="1814" y="821.3" width="16.8" height="10.3" fill="#0d4a1c"/><rect x="1830.8" y="821.3" width="163.2" height="10.3" fill="#1f8cc4"/><rect x="1994.1" y="821.3" width="30.5" height="10.3" fill="#e4202c"/><text transform="translate(1808 831.1)" font-size="12.8" text-anchor="end" fill="#222">7</text><text transform="translate(2029.8 831.1)" font-size="12.8" fill="#222">169</text><rect x="1814" y="833" width="134.8" height="10.3" fill="#0d4a1c"/><rect x="1948.8" y="833" width="31.6" height="10.3" fill="#1f8cc4"/><rect x="1980.4" y="833" width="44.2" height="10.3" fill="#e4202c"/><text transform="translate(1808 842.8)" font-size="12.8" text-anchor="end" fill="#222">8</text><text transform="translate(2029.8 842.8)" font-size="12.8" fill="#222">169</text><rect x="1814" y="844.7" width="69.5" height="10.3" fill="#0d4a1c"/><rect x="1883.5" y="844.7" width="68.4" height="10.3" fill="#1f8cc4"/><rect x="1951.9" y="844.7" width="72.7" height="10.3" fill="#e4202c"/><text transform="translate(1808 854.5)" font-size="12.8" text-anchor="end" fill="#222">9</text><text transform="translate(2029.8 854.5)" font-size="12.8" fill="#222">145</text><rect x="1814" y="856.4" width="96.9" height="10.3" fill="#0d4a1c"/><rect x="1910.9" y="856.4" width="76.9" height="10.3" fill="#1f8cc4"/><rect x="1987.7" y="856.4" width="36.9" height="10.3" fill="#e4202c"/><text transform="translate(1808 866.2)" font-size="12.8" text-anchor="end" fill="#222">10</text><text transform="translate(2029.8 866.2)" font-size="12.8" fill="#222">113</text><rect x="1814" y="868.1" width="134.8" height="10.3" fill="#0d4a1c"/><rect x="1948.8" y="868.1" width="29.5" height="10.3" fill="#1f8cc4"/><rect x="1978.3" y="868.1" width="46.3" height="10.3" fill="#e4202c"/><text transform="translate(1808 877.9)" font-size="12.8" text-anchor="end" fill="#222">11</text><text transform="translate(2029.8 877.9)" font-size="12.8" fill="#222">77</text><rect x="1814" y="879.8" width="107.4" height="10.3" fill="#0d4a1c"/><rect x="1921.4" y="879.8" width="31.6" height="10.3" fill="#1f8cc4"/><rect x="1953" y="879.8" width="71.6" height="10.3" fill="#e4202c"/><text transform="translate(1808 889.6)" font-size="12.8" text-anchor="end" fill="#222">12</text><text transform="translate(2029.8 889.6)" font-size="12.8" fill="#222">59</text><rect x="1814" y="891.6" width="109.5" height="10.3" fill="#0d4a1c"/><rect x="1923.5" y="891.6" width="61.1" height="10.3" fill="#1f8cc4"/><rect x="1984.6" y="891.6" width="40" height="10.3" fill="#e4202c"/><text transform="translate(1808 901.3)" font-size="12.8" text-anchor="end" fill="#222">13</text><text transform="translate(2029.8 901.3)" font-size="12.8" fill="#222">58</text><rect x="1814" y="903.3" width="136.9" height="10.3" fill="#0d4a1c"/><rect x="1950.9" y="903.3" width="3.2" height="10.3" fill="#1f8cc4"/><rect x="1954" y="903.3" width="70.6" height="10.3" fill="#e4202c"/><text transform="translate(1808 913)" font-size="12.8" text-anchor="end" fill="#222">14</text><text transform="translate(2029.8 913)" font-size="12.8" fill="#222">51</text><rect x="1814" y="915" width="109.5" height="10.3" fill="#0d4a1c"/><rect x="1923.5" y="915" width="57.9" height="10.3" fill="#1f8cc4"/><rect x="1981.4" y="915" width="43.2" height="10.3" fill="#e4202c"/><text transform="translate(1808 924.7)" font-size="12.8" text-anchor="end" fill="#222">15</text><text transform="translate(2029.8 924.7)" font-size="12.8" fill="#222">48</text><rect x="1814" y="926.7" width="107.4" height="10.3" fill="#0d4a1c"/><rect x="1921.4" y="926.7" width="31.6" height="10.3" fill="#1f8cc4"/><rect x="1953" y="926.7" width="71.6" height="10.3" fill="#e4202c"/><text transform="translate(1808 936.4)" font-size="12.8" text-anchor="end" fill="#222">16</text><text transform="translate(2029.8 936.4)" font-size="12.8" fill="#222">47</text><rect x="1814" y="938.4" width="91.6" height="10.3" fill="#0d4a1c"/><rect x="1905.6" y="938.4" width="54.8" height="10.3" fill="#1f8cc4"/><rect x="1960.4" y="938.4" width="64.2" height="10.3" fill="#e4202c"/><text transform="translate(1808 948.1)" font-size="12.8" text-anchor="end" fill="#222">17</text><text transform="translate(2029.8 948.1)" font-size="12.8" fill="#222">46</text><rect x="1814" y="950.1" width="123.2" height="10.3" fill="#0d4a1c"/><rect x="1937.2" y="950.1" width="36.9" height="10.3" fill="#1f8cc4"/><rect x="1974.1" y="950.1" width="50.5" height="10.3" fill="#e4202c"/><text transform="translate(1808 959.8)" font-size="12.8" text-anchor="end" fill="#222">18</text><text transform="translate(2029.8 959.8)" font-size="12.8" fill="#222">41</text><rect x="1814" y="961.8" width="87.4" height="10.3" fill="#0d4a1c"/><rect x="1901.4" y="961.8" width="43.2" height="10.3" fill="#1f8cc4"/><rect x="1944.6" y="961.8" width="80" height="10.3" fill="#e4202c"/><text transform="translate(1808 971.5)" font-size="12.8" text-anchor="end" fill="#222">19</text><text transform="translate(2029.8 971.5)" font-size="12.8" fill="#222">29</text><rect x="1814" y="973.5" width="134.8" height="10.3" fill="#0d4a1c"/><rect x="1948.8" y="973.5" width="47.4" height="10.3" fill="#1f8cc4"/><rect x="1996.2" y="973.5" width="28.4" height="10.3" fill="#e4202c"/><text transform="translate(1808 983.2)" font-size="12.8" text-anchor="end" fill="#222">20</text><text transform="translate(2029.8 983.2)" font-size="12.8" fill="#222">22</text><rect x="1814" y="985.2" width="63.2" height="10.3" fill="#0d4a1c"/><rect x="1877.2" y="985.2" width="126.4" height="10.3" fill="#1f8cc4"/><rect x="2003.5" y="985.2" width="21.1" height="10.3" fill="#e4202c"/><text transform="translate(1808 994.9)" font-size="12.8" text-anchor="end" fill="#222">21</text><text transform="translate(2029.8 994.9)" font-size="12.8" fill="#222">20</text><rect x="1814" y="996.9" width="93.7" height="10.3" fill="#0d4a1c"/><rect x="1907.7" y="996.9" width="57.9" height="10.3" fill="#1f8cc4"/><rect x="1965.6" y="996.9" width="59" height="10.3" fill="#e4202c"/><text transform="translate(1808 1006.6)" font-size="12.8" text-anchor="end" fill="#222">22</text><text transform="translate(2029.8 1006.6)" font-size="12.8" fill="#222">18</text><rect x="1814" y="1008.6" width="105.3" height="10.3" fill="#0d4a1c"/><rect x="1919.3" y="1008.6" width="34.7" height="10.3" fill="#1f8cc4"/><rect x="1954" y="1008.6" width="70.6" height="10.3" fill="#e4202c"/><text transform="translate(1808 1018.3)" font-size="12.8" text-anchor="end" fill="#222">23</text><text transform="translate(2029.8 1018.3)" font-size="12.8" fill="#222">18</text><rect x="1814" y="1020.3" width="124.3" height="10.3" fill="#0d4a1c"/><rect x="1938.3" y="1020.3" width="36.9" height="10.3" fill="#1f8cc4"/><rect x="1975.1" y="1020.3" width="49.5" height="10.3" fill="#e4202c"/><text transform="translate(1808 1030)" font-size="12.8" text-anchor="end" fill="#222">24</text><text transform="translate(2029.8 1030)" font-size="12.8" fill="#222">17</text><rect x="1814" y="1032" width="140" height="10.3" fill="#0d4a1c"/><rect x="1954" y="1032" width="43.2" height="10.3" fill="#1f8cc4"/><rect x="1997.2" y="1032" width="27.4" height="10.3" fill="#e4202c"/><text transform="translate(1808 1041.8)" font-size="12.8" text-anchor="end" fill="#222">25</text><text transform="translate(2029.8 1041.8)" font-size="12.8" fill="#222">15</text><path d="M1814 1043.5H2024.6M1814 1043v5M1866.7 1043v5M1919.3 1043v5M1971.9 1043v5M2024.6 1043v5" stroke="#000" stroke-width="1.2" fill="none"/><text transform="translate(1814 1066.7)" font-size="19.2" text-anchor="middle">0</text><text transform="translate(1866.7 1066.7)" font-size="19.2" text-anchor="middle">0.25</text><text transform="translate(1919.3 1066.7)" font-size="19.2" text-anchor="middle">0.5</text><text transform="translate(1971.9 1066.7)" font-size="19.2" text-anchor="middle">0.75</text><text transform="translate(2024.6 1066.7)" font-size="19.2" text-anchor="middle">1</text><text transform="translate(1930.5 1095.4)" font-size="20.5" text-anchor="middle">Count</text><text transform="translate(1760 920.4) rotate(-90)" font-size="20.5" text-anchor="middle">Leiden cluster</text><text transform="translate(2067.7 876.5)" font-size="20.5">Sample</text><rect x="2069" y="884.2" width="19.7" height="19.5" fill="#e4202c"/><text transform="translate(2093.6 900.6)" font-size="20.5">1</text><rect x="2069" y="909.4" width="19.7" height="19.5" fill="#1f8cc4"/><text transform="translate(2093.6 925.8)" font-size="20.5">2</text><rect x="2069" y="934.6" width="19.7" height="19.5" fill="#0d4a1c"/><text transform="translate(2093.6 951)" font-size="20.5">3</text></g><g id="panel_F"><text transform="translate(679.1 1241) scale(1.02 1)" font-size="20.3" text-anchor="middle">Cluster 10</text><rect x="543.5" y="1250.7" width="271.3" height="229.6" fill="none" stroke="#333" stroke-width="1.1"/><path d="M560.5 1266.5h0m0 11h0m2 10.5h0m2-5h0m0.5-4h0m1.5 10.5h0m1.5-9.5h0m2.5 13.5h0m2.5-6.5h0m0 4h0m3 1.5h0m1.5 5.5h0m0.5-7.5h0m0.5 6h0m3-9.5h0m1.5 5.5h0m1.5-3h0m1 5.5h0m0 4.5h0m1.5-14.5h0m0 8.5h0m1.5-4h0m1.5 12.5h0m0.5-5.5h0m0.5-10.5h0m1 21.5h0m2-16.5h0m0 14h0m1 5.5h0m0.5-12.5h0m0 15h0m1.5 3h0m1.5 2.5h0m3 4.5h0" fill="none" stroke="#1f77b4" stroke-width="7.8" stroke-linecap="round"/><path d="M748 1440.5h0m4.5 26h0m2.5-20.5h0m1 4.5h0m1.5-8.5h0m0 14h0m1.5-3h0m1.5-9.5h0m2.5 7h0m1.5-10h0m1.5-12.5h0m1.5 7h0m0 11h0m1-4h0m1.5-8h0m0.5 12h0m1-8h0m1.5 5.5h0m1.5 7h0m2.5-3h0m1.5 3h0m1.5 2.5h0m1 0h0m3-2.5h0m1.5 2.5h0m1 1.5h0m0 3h0m1.5-11.5h0m0 4.5h0m1.5 0h0m1.5 5.5h0m1.5-12.5h0m0 14h0m1-11.5h0m0 7h0m1.5-8h0m0 4h0m1.5 1.5h0m0 7h0m1.5-14h0m1 4h0m0 7h0m1.5-8.5h0m0 7h0" fill="none" stroke="#f5822a" stroke-width="7.8" stroke-linecap="round"/><circle cx="749" cy="1273.5" r="3.4" fill="#1f77b4"/><circle cx="749" cy="1295.9" r="3.4" fill="#f5822a"/><text transform="translate(759.6 1279) scale(0.93 1)" font-size="19.5">B cell</text><text transform="translate(759.6 1302) scale(0.93 1)" font-size="19.5">T cell</text><text transform="translate(530.2 1465.7) rotate(-90) scale(1.08 1)" font-size="19">UMAP2</text><text transform="translate(565.4 1507.3) scale(1.08 1)" font-size="19">UMAP1</text><line x1="523.8" y1="1502.3" x2="523.8" y2="1485.1" stroke="#000" stroke-width="1.1"/><path d="M523.8 1478.1 L527.2 1487.6 L523.8 1485.1 L520.4 1487.6 Z" fill="#000"/><line x1="523.2" y1="1501.7" x2="543.4" y2="1501.7" stroke="#000" stroke-width="1.1"/><path d="M550.4 1501.7 L540.9 1505.1 L543.4 1501.7 L540.9 1498.3 Z" fill="#000"/><text transform="translate(859.6 1247.9) scale(1.08 1)" font-size="11.3" text-anchor="end" fill="#222">10</text><text transform="translate(859.6 1266.5) scale(1.08 1)" font-size="11.3" text-anchor="end" fill="#222">8</text><text transform="translate(859.6 1284.8) scale(1.08 1)" font-size="11.3" text-anchor="end" fill="#222">6</text><text transform="translate(859.6 1303.4) scale(1.08 1)" font-size="11.3" text-anchor="end" fill="#222">4</text><text transform="translate(859.6 1321.9) scale(1.08 1)" font-size="11.3" text-anchor="end" fill="#222">2</text><text transform="translate(859.6 1340.2) scale(1.08 1)" font-size="11.3" text-anchor="end" fill="#222">0</text><path d="M863.8 1239.6V1349.7H973.9M863.8 1243.8h-3M863.8 1262.4h-3M863.8 1280.7h-3M863.8 1299.3h-3M863.8 1317.8h-3M863.8 1336.1h-3M890.7 1349.7v3M946.2 1349.7v3" fill="none" stroke="#333" stroke-width="0.9"/><text transform="translate(843.5 1293.7) rotate(-90) scale(1.08 1)" font-size="11.5" text-anchor="middle" font-style="italic" fill="#222">Cd79a</text><text transform="translate(890.7 1365.5)" font-size="11.8" text-anchor="middle" fill="#333">B cell</text><text transform="translate(946.2 1365.5)" font-size="11.8" text-anchor="middle" fill="#333">T cell</text><path d="M890.4 1278.5C890.4 1280.1 890.6 1284.7 890.1 1288.2C889.6 1291.6 889.3 1295.6 887.7 1299.3C886.1 1303 883.7 1306.9 880.7 1310.3C877.7 1313.8 871.7 1317.7 869.7 1320.1C867.7 1322.4 867.5 1322.4 868.7 1324.2C869.9 1326.1 873.9 1328.8 876.7 1331.1C879.5 1333.5 883.7 1336.6 885.7 1338.1C887.7 1339.6 888.2 1339.9 888.7 1340.3L892.7 1340.3C893.2 1339.9 893.7 1339.6 895.7 1338.1C897.7 1336.6 901.9 1333.5 904.7 1331.1C907.5 1328.8 911.5 1326.1 912.7 1324.2C913.9 1322.4 913.7 1322.4 911.7 1320.1C909.7 1317.7 903.7 1313.8 900.7 1310.3C897.7 1306.9 895.3 1303 893.7 1299.3C892.1 1295.6 891.8 1291.6 891.3 1288.2C890.9 1284.7 891 1280.1 891 1278.5Z" fill="#1f77b4" stroke="#222" stroke-width="0.8"/><path d="M946 1243.8C946 1254 946 1290.9 945.8 1304.8C945.6 1318.7 945.6 1321.9 944.7 1327C943.8 1332.1 942.5 1333 940.2 1335.3C938 1337.6 933.8 1339.4 931.2 1340.9C928.6 1342.3 925.8 1343.4 924.7 1344.2C923.6 1345 924.7 1345.3 924.7 1345.6L967.7 1345.6C967.7 1345.3 968.8 1345 967.7 1344.2C966.6 1343.4 963.8 1342.3 961.2 1340.9C958.6 1339.4 954.5 1337.6 952.2 1335.3C950 1333 948.6 1332.1 947.7 1327C946.8 1321.9 946.8 1318.7 946.6 1304.8C946.4 1290.9 946.4 1254 946.4 1243.8Z" fill="#f5822a" stroke="#222" stroke-width="0.8"/><path d="M883.5 1304.5h0m1-3h0m1 16.5h0m0.5-5.5h0m0.5 21.5h0m1-31h0m0.5 1h0m0 26.5h0m1-31h0m0 12.5h0m0 18h0m0 5h0m0.5-33h0m0 7h0m0 14h0m0 9h0m0 1h0m0.5-23.5h0m0 10h0m0 7h0m0.5-24.5h0m0 4h0m0 18h0m0 7h0m0 2.5h0m0.5-25h0m0 11h0m0 3.5h0m0.5 1.5h0m0.5-6h0m0 10h0m0 5.5h0m0.5-34h0m0 11h0m0 11h0m0.5 4h0m0.5-18h0m0.5 4h0m0.5 9h0m1 7.5h0" fill="none" stroke="#111" stroke-width="1.2" stroke-linecap="round"/><line x1="940" y1="1344.7" x2="952" y2="1344.7" stroke="#111" stroke-width="1.4"/><text transform="translate(859.6 1405.1) scale(1.08 1)" font-size="11.3" text-anchor="end" fill="#222">2</text><text transform="translate(859.6 1432.9) scale(1.08 1)" font-size="11.3" text-anchor="end" fill="#222">1</text><text transform="translate(859.6 1460.6) scale(1.08 1)" font-size="11.3" text-anchor="end" fill="#222">0</text><text transform="translate(859.6 1487.8) scale(1.08 1)" font-size="11.3" text-anchor="end" fill="#222">-1</text><path d="M863.8 1377.5V1488.4H973.9M863.8 1401h-3M863.8 1428.8h-3M863.8 1456.5h-3M863.8 1483.7h-3M890.7 1488.4v3M946.2 1488.4v3" fill="none" stroke="#333" stroke-width="0.9"/><text transform="translate(843.5 1431.5) rotate(-90) scale(1.08 1)" font-size="11.5" text-anchor="middle" font-style="italic" fill="#222">Cd8a</text><text transform="translate(890.7 1504.2)" font-size="11.8" text-anchor="middle" fill="#333">B cell</text><text transform="translate(946.2 1504.2)" font-size="11.8" text-anchor="middle" fill="#333">T cell</text><path d="M890.2 1475.6C889.7 1475.9 888 1476.6 887.2 1477.3C886.5 1478 887.5 1479.3 885.7 1480.1C884 1480.8 879.5 1481.3 876.7 1481.7C873.9 1482.2 870 1482.5 868.7 1482.8C867.4 1483.2 868.7 1483.8 868.7 1484L912.7 1484C912.7 1483.8 914 1483.2 912.7 1482.8C911.4 1482.5 907.5 1482.2 904.7 1481.7C901.9 1481.3 897.5 1480.8 895.7 1480.1C894 1479.3 895 1478 894.2 1477.3C893.5 1476.6 891.7 1475.9 891.2 1475.6Z" fill="#1f77b4" stroke="#222" stroke-width="0.8"/><path d="M940.7 1382.5C940.5 1382.7 940.6 1381.1 939.7 1383.8C938.8 1386.6 936.5 1393.8 935.2 1399.1C934 1404.4 932.5 1410.2 932.2 1415.7C932 1421.3 933 1426.8 933.7 1432.4C934.4 1437.9 936.6 1443.9 936.5 1449C936.4 1454.1 934.9 1458.7 933.2 1462.9C931.5 1467 927.8 1471.2 926.2 1474C924.7 1476.7 924.2 1477.9 923.9 1479.5C923.7 1481.1 924.6 1483 924.7 1483.7L967.7 1483.7C967.8 1483 968.8 1481.1 968.5 1479.5C968.2 1477.9 967.8 1476.7 966.2 1474C964.7 1471.2 960.9 1467 959.2 1462.9C957.5 1458.7 956 1454.1 955.9 1449C955.8 1443.9 958 1437.9 958.7 1432.4C959.4 1426.8 960.5 1421.3 960.2 1415.7C960 1410.2 958.5 1404.4 957.2 1399.1C956 1393.8 953.6 1386.6 952.7 1383.8C951.8 1381.1 951.9 1382.7 951.7 1382.5Z" fill="#f5822a" stroke="#222" stroke-width="0.8"/><path d="M941 1459h0m0.5-66.5h0m2 79.5h0m0 6.5h0m0.5-89.5h0m0 46.5h0m0 4.5h0m0.5-44h0m0 86h0m0.5-87h0m0 16.5h0m0 1.5h0m0 25h0m0 4.5h0m0 16.5h0m0 16.5h0m0.5-62.5h0m0 9.5h0m0 21.5h0m0.5-16h0m0 26.5h0m0 4.5h0m0 8h0m0.5-37h0m0 7h0m0 8.5h0m0.5-43.5h0m0 36.5h0m0 18h0m0 4h0m0 13h0m0.5-83h0m0 77h0m0.5-58h0m0 24.5h0m0 2.5h0m0 0.5h0m0 6.5h0m0 10.5h0m0 10.5h0m0.5-24h0m0 33h0m0.5-14h0m1.5-27.5h0" fill="none" stroke="#7a2a10" stroke-width="1.2" stroke-linecap="round"/><line x1="940" y1="1482.8" x2="952" y2="1482.8" stroke="#111" stroke-width="1.4"/><line x1="886" y1="1482.3" x2="895" y2="1482.3" stroke="#111" stroke-width="1.4"/></g><g id="panel_G"><use href="#uall" transform="translate(685.6 739.5) scale(0.3288 0.356)" fill="none" stroke-linecap="round" stroke-width="2.3" stroke="#f6b799"/><path d="M1051 1305h0m0 1.5h0m29 40.5h0m1.5-2.5h0m12.5-40.5h0m21 15h0m0.5 4h0m1 5.5h0m1.5 3.5h0m2.5-7h0m0.5-6.5h0m1.5-9h0m0.5 5h0m0 16h0m0.5-1h0m2-15.5h0m0 2h0m0 10.5h0m0.5 7h0m0.5-5.5h0m1.5-17.5h0m0 5.5h0m2-6h0m0.5 12.5h0m0.5 6.5h0m0 5h0m0.5-16.5h0m0 2h0m0 7.5h0m1 2h0m0.5-16.5h0m0.5 19h0m1-22h0m0.5 11.5h0m0.5-6.5h0m0 12h0m0.5-10h0m0.5 9.5h0m1-22.5h0m0 25.5h0m0.5-17h0m0 13.5h0m1.5-3.5h0m1 5.5h0m0.5-14.5h0m1.5 11.5h0m0.5-4h0m0 7h0m0.5 2h0m1.5-4.5h0m0 3h0m1-16.5h0m0 15.5h0m0.5-7h0m0 4.5h0m2-15h0m0.5 2h0m0 17h0m1.5-14.5h0m0 15h0m1-19h0m0.5 7.5h0m0.5 1.5h0m1.5-2.5h0m2.5 0h0m0.5-29h0m0 19.5h0m0.5-18.5h0m0.5 19.5h0m0 11.5h0m0 10.5h0m1 1.5h0m0.5-8h0m0.5-35h0m2 16.5h0m0 29.5h0m1-5h0m1-27.5h0m3.5 32.5h0m0.5 4h0m5.5 3h0m4.5 150h0m0.5-152.5h0m1 153h0m3-151h0m0 40h0m2.5-0.5h0m1-3h0m4.5 8.5h0m2-9h0m0 9.5h0m0.5-4.5h0m0.5-5.5h0m6 6.5h0m1.5-34h0m0 1h0m1.5 2.5h0m0 90h0m0.5-2.5h0m1-65h0m0.5 66h0m2-83.5h0m0 15h0m0 10h0m0.5-8.5h0m1.5-4h0m0.5 52.5h0m1-48h0m0 61.5h0m0.5-32.5h0m0 31.5h0m0.5-21.5h0m0.5-35.5h0m0 24h0m0.5-2h0m0 20.5h0m0.5 15.5h0m0.5 7h0m0.5-60.5h0m0 31h0m0 2h0m0 5h0m0.5-7.5h0m1-12h0m0 34h0m0.5-23h0m0 31h0m0.5-38.5h0m0.5 9.5h0m0.5-17.5h0m0 3.5h0m0.5 8.5h0m0 26.5h0m1-44h0m0 28.5h0m1-2.5h0m0 14.5h0m0 6h0m0.5-27.5h0m0.5-4.5h0m0.5 26h0m0.5-27.5h0m0 3.5h0m0.5 8h0m0.5-14.5h0m0 17h0m0 2h0m0 16.5h0m1-39.5h0m0.5-23h0m0 37h0m0.5-2h0m1.5 23.5h0m0.5-4h0m0.5-55h0m1 33h0m0 1.5h0m0 14.5h0m0.5-19.5h0m0.5 15h0m0 11h0m0.5-54h0m0 8.5h0m0 32h0m0 7h0m0.5-20h0m0 29.5h0m1-55h0m0 38h0m0.5-15.5h0m0 6.5h0m0.5 9.5h0m0 5h0m0 4h0m0.5-27.5h0m0.5 20h0m0.5 1.5h0m0.5-15h0m0 8h0m0.5-16h0m0.5-6.5h0m0 33.5h0m0.5-45.5h0m0 30.5h0m1.5-4h0m1-6.5h0m0 3.5h0m0.5 17h0m0 1.5h0m0 12.5h0m0 14h0m0.5-56h0m1-8.5h0m0 41.5h0m0.5-58.5h0m0 33.5h0m0.5 1.5h0m0 34h0m0.5-69.5h0m0 85h0m1-34h0m0 4.5h0m0 4h0m0.5-2h0m0 9h0m1-66.5h0m0 45.5h0m0.5-36.5h0m1-13h0m0 39h0m0.5-22.5h0m0 14h0m0 10.5h0m0 7.5h0m0 5.5h0m0.5-41h0m0 61.5h0m0.5-66h0m0 3h0m0.5-6.5h0m0 51h0m0 2h0m0.5 19.5h0m0.5-43h0m0 3.5h0m0 6.5h0m0 3.5h0m0 9h0m0.5-23h0m0 42.5h0m0 5.5h0m0.5-72h0m0 13h0m0 9h0m0 47h0m0.5-48h0m0 15h0m0 6.5h0m0.5-22.5h0m0 19.5h0m0.5-39h0m0.5-8.5h0m0 3h0m0 28h0m0 1.5h0m0 17.5h0m0 22.5h0m0.5-70.5h0m1 33h0m0.5 46.5h0m0.5-86h0m0.5 7h0m0 10.5h0m0 10.5h0m0 17h0m0.5 2h0m0 6.5h0m1-29.5h0m0 26.5h0m0 29h0m0.5 3h0m0.5-60.5h0m0 62.5h0m0.5-76h0m0 28.5h0m0.5-35h0m0 19h0m0.5-13.5h0m0 3h0m0 39.5h0m0.5 1.5h0m0 31.5h0m0.5-67h0m0 5.5h0m0 23h0m0 36.5h0m0.5-25.5h0m0 3h0m0.5-49h0m0 6.5h0m0 4h0m1 28h0m0.5 6h0m0.5-45h0m0 4.5h0m0 1.5h0m0.5 17.5h0m0.5 10.5h0m0 6h0m0 11.5h0m0.5-26.5h0m0 17h0m0.5-33h0m0 4h0m0.5 25h0m0.5-13h0m0 1.5h0m0.5-30.5h0m0.5 12h0m0 34.5h0m0.5-31h0m1.5-4h0m0 9h0m0.5 22h0m0.5 10.5h0m0.5-28.5h0m0 11h0m0 10.5h0m0.5-37h0m0 12.5h0m0 7h0m0 28h0m0.5-10.5h0m0.5 2.5h0m0.5-14h0m0 10.5h0m0.5-7h0m0 8.5h0m0 9.5h0m1-43h0m0 9h0m0 4h0m0 46.5h0m1-40h0m0 3.5h0m0 2h0m0 14.5h0m1-41h0m0.5 5h0m0 12.5h0m0 42.5h0m0.5-67h0m0 11h0m0.5-7h0m0 26.5h0m0.5-30h0m0 22h0m0 9.5h0m0 35.5h0m0.5-23h0m0.5-48.5h0m0 53h0m0.5 18h0m0.5-37h0m0.5-12h0m1-18h0m0 19h0m0 8h0m0 18h0m0.5-28.5h0m0 25.5h0m0.5-5h0m0.5-47.5h0m0.5 10h0m0 38.5h0m0.5-31h0m0 12.5h0m0.5-29.5h0m0 32h0m0 8h0m0 8.5h0m1-15.5h0m0 9.5h0m0.5-42.5h0m0 55h0m0.5-53.5h0m0 16.5h0m0.5 10h0m0 4h0m0.5-9h0m0 26h0m0 5.5h0m0.5-2.5h0m0.5-23.5h0m0 20.5h0m0.5-49h0m0 23h0m0 9.5h0m0.5-26h0m0 8.5h0m0.5-12h0m0 5h0m1-5h0m0 11h0m0 1.5h0m1 1h0m1-12.5h0m0 42h0m0.5-35.5h0m0.5 30h0m0.5-29.5h0m0 18.5h0m0 13h0m0 1.5h0m1-43.5h0m0 46.5h0m0.5-45.5h0m0 8h0m1-6h0m1.5 20.5h0m0 6h0m2.5-19h0m0 10.5h0m0 2h0m0.5-16.5h0m0.5 7.5h0m0 7h0m0.5 10h0m0.5 3h0m0.5-32.5h0m0.5 20h0m1-18.5h0m0.5 12h0m1-10h0m0.5-3h0m1 5.5h0m1.5 3h0m1.5 2.5h0m1.5-2h0m2 0h0" fill="none" stroke="#f19a78" stroke-width="2.4" stroke-linecap="round"/><path d="M1121 1322.5h0m3 2h0m10-13.5h0m8 12h0m14.5-32.5h0m34 95.5h0m2.5-4h0m17 58h0m23.5-18.5h0m0 7.5h0m5-10h0m4.5-16h0m8 5h0m5.5-7h0m0.5-20.5h0m4 35h0m6-32.5h0m5 32.5h0m2.5-15.5h0m1-23h0m4.5 33h0m3-4h0m3.5 6.5h0m3-39h0m1-3h0m6-10.5h0m3 14.5h0m0.5-3h0m6.5 20.5h0m1-27.5h0" fill="none" stroke="#d8354a" stroke-width="2.5" stroke-linecap="round"/><path d="M1116.5 1325h0m7 6.5h0m14-18.5h0m69.5 108h0m41-28h0m7.5 14.5h0m35-30.5h0" fill="none" stroke="#4a1a4a" stroke-width="2.5" stroke-linecap="round"/><path d="M1191.5 1350.5h0m0.5-2h0m0.5-1.5h0m0 3h0m0.5-1.5h0m1.5 1h0m0.5-1h0m0 2.5h0m0.5-1h0m0.5-1.5h0m0 3h0m0.5-2h0m1-0.5h0m99 36.5h0m0 1.5h0m1 1.5h0m0 2.5h0m0.5-4.5h0m1 0.5h0m0 4h0m1-1h0m0.5-2h0m1.5 0h0" fill="none" stroke="#d8354a" stroke-width="2.4" stroke-linecap="round"/><path d="M1198 1350h0m0 1.5h0m1-3h0m0 2.5h0m0.5-1h0m0.5 2.5h0m1-3.5h0m0 1h0m0 1.5h0m0 2.5h0m0.5-3h0m0 2h0m1-0.5h0m0 2.5h0m1-4h0m0 2.5h0m0.5 1h0m0.5 1h0m1-1.5h0m0.5 2h0m0.5-1.5h0m0 3h0m1-2h0m0.5 1h0m0 1.5h0m0.5 1h0m80 26.5h0m0 4.5h0m0 2h0m0.5-4h0m0.5 3h0m0.5-5h0m0 7h0m0.5-4h0m0 1.5h0m0.5-6h0m0 3h0m0 6h0m0.5-7.5h0m0.5-2h0m0.5 3h0m0 1.5h0m0 4.5h0m0.5-1.5h0m0.5-7h0m0.5 1.5h0m0 4h0m0.5-3h0m0 5.5h0m0.5-7.5h0m0 4h0m0 1.5h0m1 1.5h0m17.5-4.5h0m1 2h0m0 2.5h0m0.5-1.5h0m0.5 1h0m0.5-3h0m0 1.5h0m1 1.5h0" fill="none" stroke="#7a1f5a" stroke-width="2.6" stroke-linecap="round"/><path d="M1198 1350h0m0 1.5h0m1-3h0m0.5 1.5h0m1.5-1h0m0 1h0m0 1.5h0m0.5-0.5h0m1 1.5h0m0 2.5h0m1-1.5h0m0.5 1h0m1.5-0.5h0m0.5 2h0m0.5-1.5h0m1 1h0m0.5 2.5h0m0.5 1h0m80 31h0m0 2h0m1-1h0m0.5-5h0m0 7h0m0.5-4h0m0.5-1.5h0m0 6h0m0.5-7.5h0m1 2.5h0m0 4.5h0m0.5-1.5h0m0.5-7h0m0.5 1.5h0m0.5 1h0m0.5 2h0m0 1.5h0m1 1.5h0m18.5-2.5h0m0 2.5h0m0.5-1.5h0m1-0.5h0m1 1.5h0" fill="none" stroke="#1a1028" stroke-width="2.6" stroke-linecap="round"/><use href="#uall" transform="translate(1004.4 739.5) scale(0.3288 0.356)" fill="none" stroke-linecap="round" stroke-width="2.3" stroke="#f8d0bd"/><path d="M1400.5 1344.5h0m0.5 2h0m13.5-40h0m20 16.5h0m0.5-1h0m0.5-9.5h0m1 4.5h0m0 2h0m1 2.5h0m0.5-7h0m6.5 2.5h0m4.5 9.5h0m2-18.5h0m0 25h0m1.5-24.5h0m0.5 5.5h0m0.5 2h0m1.5-13.5h0m2.5 17.5h0m2.5-14h0m3 19h0m0.5-2.5h0m1-11h0m0 15.5h0m1-16.5h0m0 5.5h0m2.5 6.5h0m0 3.5h0m2.5-12.5h0m0.5 12.5h0m1 1h0m3-37h0m0 23h0m2 6.5h0m2.5 2.5h0m0.5-30.5h0m2 38h0m6.5 11.5h0m7.5 147h0m0.5 1.5h0m7-115.5h0m1 1.5h0m5.5-28h0m11.5 95h0m1-67.5h0m1 66h0m5-70.5h0m0 41.5h0m0 32h0m2.5-18h0m0 14h0m1-64.5h0m0 4.5h0m0 46.5h0m1-50.5h0m0.5 43h0m0.5-42.5h0m0.5 26h0m1 13.5h0m0 6.5h0m0 17.5h0m1-3.5h0m1-45.5h0m1 19h0m1.5 4.5h0m3-40.5h0m0 2.5h0m0.5 22.5h0m1 37.5h0m2.5-19.5h0m0 15h0m1-18h0m1.5 19h0m1.5-17.5h0m0.5-9.5h0m1.5 14h0m1-33.5h0m0 16h0m0.5 20.5h0m0.5 9.5h0m0.5-31.5h0m1-2h0m0.5-34h0m0 31h0m0.5-16h0m0.5 29h0m0.5 14.5h0m1-64h0m0 4.5h0m2.5 33h0m0.5 17.5h0m4.5-49.5h0m0 69.5h0m2.5-39.5h0m0 41.5h0m0.5-68.5h0m0 28.5h0m0.5-32h0m1.5 20.5h0m0 56h0m0.5-46h0m0.5 8.5h0m0.5-22h0m1.5 55h0m0 7h0m2-57.5h0m0.5 19h0m0 33h0m0.5-81.5h0m0.5 27h0m0.5 16.5h0m2.5-42.5h0m0 2h0m0.5 46.5h0m0 9.5h0m1 26.5h0m0.5-30.5h0m0.5-2.5h0m0.5-10.5h0m1-19h0m0 31h0m1-53.5h0m0.5 3.5h0m0 55.5h0m1 3.5h0m2.5-22h0m0.5-11h0m1 17h0m0.5-28.5h0m0.5 26.5h0m0.5-1.5h0m0 9h0m1.5-33h0m1 13h0m1 2h0m4-21.5h0m0.5 38.5h0m0.5-51h0m2-4h0m0 5h0m0.5 16.5h0m0 11.5h0m5-26.5h0m1-1.5h0m0 9h0m0.5 40h0m0.5-26.5h0m1-11h0m0.5-7.5h0m1 15.5h0m0 24.5h0m1-10h0m1-17.5h0m0.5 14h0m5-23.5h0m0.5 8h0m3.5-14h0m2 10.5h0m3.5 22.5h0m4-3.5h0" fill="none" stroke="#f6bba2" stroke-width="2.4" stroke-linecap="round"/><path d="M1443 1313h0m25 13h0m5 2.5h0m32 52h0m21-10h0m7 41h0m10 7h0m11.5-11h0m5-8.5h0m57-8h0" fill="none" stroke="#d8354a" stroke-width="2.5" stroke-linecap="round"/><path d="M1442 1333h0" fill="none" stroke="#4a1a4a" stroke-width="2.5" stroke-linecap="round"/><path d="M1513.5 1348.5h0m0 1h0m0.5 1.5h0m0.5-2.5h0m0 1.5h0m0.5 1.5h0m0.5-2h0m1-0.5h0m95.5 35.5h0m0.5 1.5h0m0 4h0m0.5 2.5h0m0.5-5.5h0m0 2h0m0 1.5h0m0.5-5.5h0m1 7h0" fill="none" stroke="#d8354a" stroke-width="2.4" stroke-linecap="round"/><path d="M1517 1350h0m0 1.5h0m1-3h0m0 2.5h0m0.5-1h0m0 2.5h0m1-3.5h0m0 1h0m0 1.5h0m0.5 2.5h0m0.5-3h0m0 2h0m1-0.5h0m0 2.5h0m0.5-1.5h0m0.5-2.5h0m0 3.5h0m1 1h0m0.5-1.5h0m1 2h0m104 34h0m0.5-2.5h0m0 4.5h0m1-1h0m0.5-3h0m0 4h0m1.5-4.5h0m0.5 2h0m0 2.5h0m0.5-1.5h0m1 1h0m0.5-3h0m0 1.5h0m0.5 1.5h0" fill="none" stroke="#7a1f5a" stroke-width="2.6" stroke-linecap="round"/><path d="M1517 1350h0m0 1.5h0m1-3h0m0.5 1.5h0m1-1h0m0 1h0m0 1.5h0m1-0.5h0m1 1.5h0m0 2.5h0m0.5-1.5h0m0.5 1h0m1.5-0.5h0m1 2h0m104 34h0m0.5 2h0m1.5-4h0m0 4h0m1.5-4.5h0m0.5 4.5h0m1.5-0.5h0m0.5-3h0m0 1.5h0" fill="none" stroke="#1a1028" stroke-width="2.6" stroke-linecap="round"/><text transform="translate(1179.7 1253) scale(1.08 1)" font-size="19.4" text-anchor="middle">S-phase score</text><text transform="translate(1505.4 1253) scale(1.08 1)" font-size="19.4" text-anchor="middle">G2/M-phase score</text><rect x="1326.4" y="1413.5" width="8.5" height="87.2" fill="url(#rk)" stroke="#444" stroke-width="0.6"/><line x1="1334.9" y1="1435.4" x2="1338.4" y2="1435.4" stroke="#000" stroke-width="0.9"/><text transform="translate(1341.9 1442.6) scale(1.08 1)" font-size="20">2</text><line x1="1334.9" y1="1463" x2="1338.4" y2="1463" stroke="#000" stroke-width="0.9"/><text transform="translate(1341.9 1470.2) scale(1.08 1)" font-size="20">1</text><line x1="1334.9" y1="1488.4" x2="1338.4" y2="1488.4" stroke="#000" stroke-width="0.9"/><text transform="translate(1341.9 1495.6) scale(1.08 1)" font-size="20">0</text><rect x="1652.8" y="1410.4" width="8.5" height="87.6" fill="url(#rk)" stroke="#444" stroke-width="0.6"/><line x1="1661.3" y1="1422" x2="1664.8" y2="1422" stroke="#000" stroke-width="0.9"/><text transform="translate(1668.3 1429.2) scale(1.08 1)" font-size="20">4</text><line x1="1661.3" y1="1455.3" x2="1664.8" y2="1455.3" stroke="#000" stroke-width="0.9"/><text transform="translate(1668.3 1462.5) scale(1.08 1)" font-size="20">2</text><line x1="1661.3" y1="1488.4" x2="1664.8" y2="1488.4" stroke="#000" stroke-width="0.9"/><text transform="translate(1668.3 1495.6) scale(1.08 1)" font-size="20">0</text><text transform="translate(1045.3 1487.2) rotate(-90) scale(1.08 1)" font-size="19">UMAP2</text><text transform="translate(1080.6 1528.7) scale(1.08 1)" font-size="19">UMAP1</text><line x1="1038.4" y1="1523.6" x2="1038.4" y2="1506.5" stroke="#000" stroke-width="1.1"/><path d="M1038.4 1499.5 L1041.8 1509 L1038.4 1506.5 L1035 1509 Z" fill="#000"/><line x1="1037.8" y1="1523" x2="1060.2" y2="1523" stroke="#000" stroke-width="1.1"/><path d="M1067.2 1523 L1057.7 1526.4 L1060.2 1523 L1057.7 1519.6 Z" fill="#000"/></g><g id="panel_H"><g transform="translate(1280.9 546.1) scale(0.435 0.47)" fill="none" stroke-linecap="round" stroke-width="3.1"><use href="#u0" stroke="#1a4ba3"/><use href="#u1" stroke="#7b88c2"/><use href="#u2" stroke="#b9bde0"/><use href="#u3" stroke="#d1b1b9"/><use href="#u4" stroke="#c17083"/><use href="#u5" stroke="#8b1a3a"/><use href="#u6" stroke="#4668b8"/><use href="#u7" stroke="#8093d0"/><use href="#u8" stroke="#b0b8e6"/><use href="#u9" stroke="#e8a9b9"/><use href="#u10a" stroke="#e0788f"/><use href="#u10b" stroke="#d83a68"/><use href="#u11" stroke="#3bb045"/><use href="#u12" stroke="#8fcc90"/><use href="#u13" stroke="#c5e0c5"/><use href="#u14" stroke="#f0cdbf"/><use href="#u15" stroke="#f0b47c"/><use href="#u16" stroke="#f2a02e"/><use href="#u17" stroke="#3cb6b2"/><use href="#u18" stroke="#8fd6c6"/><use href="#u19" stroke="#d7ece1"/><use href="#u20" stroke="#f0dbe0"/><use href="#u21" stroke="#f2b9d9"/><use href="#u22" stroke="#e891b9"/><use href="#u23" stroke="#7f7f7f"/><use href="#u24" stroke="#c2c2c2"/><use href="#u25" stroke="#4fc0ee"/></g><text transform="translate(1906.7 1273.1) scale(1.08 1)" font-size="20" text-anchor="middle" fill="#151515">18</text><text transform="translate(1922.6 1294.1) scale(1.08 1)" font-size="20" text-anchor="middle" fill="#151515">20</text><text transform="translate(1767.6 1298.6) scale(1.08 1)" font-size="20" text-anchor="middle" fill="#151515">22</text><text transform="translate(1822.1 1298) scale(1.08 1)" font-size="20" text-anchor="middle" fill="#151515">25</text><text transform="translate(1879.2 1316.1) scale(1.08 1)" font-size="20" text-anchor="middle" fill="#151515">0</text><text transform="translate(1805.2 1352.2) scale(1.08 1)" font-size="20" text-anchor="middle" fill="#151515">23</text><text transform="translate(1932.8 1343.2) scale(1.08 1)" font-size="20" text-anchor="middle" fill="#151515">13</text><text transform="translate(1971.7 1360.2) scale(1.08 1)" font-size="20" text-anchor="middle" font-weight="bold" fill="#151515">10b</text><text transform="translate(2077.3 1360.8) scale(1.08 1)" font-size="20" text-anchor="middle" fill="#151515">14</text><text transform="translate(2026.9 1378.3) scale(1.08 1)" font-size="20" text-anchor="middle" fill="#151515">5</text><text transform="translate(2093.9 1379.3) scale(1.08 1)" font-size="20" text-anchor="middle" fill="#151515">4</text><text transform="translate(2006.2 1393) scale(1.08 1)" font-size="20" text-anchor="middle" fill="#151515">16</text><text transform="translate(1966.3 1396.8) scale(1.08 1)" font-size="20" text-anchor="middle" fill="#151515">6</text><text transform="translate(2059.4 1396.8) scale(1.08 1)" font-size="20" text-anchor="middle" fill="#151515">1</text><text transform="translate(2100.3 1411.2) scale(1.08 1)" font-size="20" text-anchor="middle" font-weight="bold" fill="#151515">10a</text><text transform="translate(2014.1 1408.9) scale(1.08 1)" font-size="20" text-anchor="middle" fill="#151515">11</text><text transform="translate(2032.3 1414.4) scale(1.08 1)" font-size="20" text-anchor="middle" fill="#151515">15</text><text transform="translate(1999.8 1424.9) scale(1.08 1)" font-size="20" text-anchor="middle" fill="#151515">7</text><text transform="translate(1974.3 1436.1) scale(1.08 1)" font-size="20" text-anchor="middle" fill="#151515">21</text><text transform="translate(2014.8 1441.5) scale(1.08 1)" font-size="20" text-anchor="middle" fill="#151515">3</text><text transform="translate(2063.6 1435.1) scale(1.08 1)" font-size="20" text-anchor="middle" fill="#151515">2</text><text transform="translate(1979.4 1454.9) scale(1.08 1)" font-size="20" text-anchor="middle" fill="#151515">12</text><text transform="translate(1983.8 1474) scale(1.08 1)" font-size="20" text-anchor="middle" fill="#151515">8</text><text transform="translate(2029.1 1472.7) scale(1.08 1)" font-size="20" text-anchor="middle" fill="#151515">9</text><text transform="translate(2066.8 1469.2) scale(1.08 1)" font-size="20" text-anchor="middle" fill="#151515">19</text><text transform="translate(2014.8 1493.1) scale(1.08 1)" font-size="20" text-anchor="middle" fill="#151515">24</text><text transform="translate(1934.4 1543.5) scale(1.08 1)" font-size="20" text-anchor="middle" fill="#151515">17</text><text transform="translate(1960.9 1211) scale(1.08 1)" font-size="19.2" text-anchor="middle">Leiden cluster</text><circle cx="2170.4" cy="1226" r="4.2" fill="#1a4ba3"/><text transform="translate(2183.4 1233.6) scale(1.08 1)" font-size="20.2">0</text><circle cx="2170.4" cy="1251" r="4.2" fill="#7b88c2"/><text transform="translate(2183.4 1258.6) scale(1.08 1)" font-size="20.2">1</text><circle cx="2170.4" cy="1276.1" r="4.2" fill="#b9bde0"/><text transform="translate(2183.4 1283.7) scale(1.08 1)" font-size="20.2">2</text><circle cx="2170.4" cy="1301.2" r="4.2" fill="#d1b1b9"/><text transform="translate(2183.4 1308.8) scale(1.08 1)" font-size="20.2">3</text><circle cx="2170.4" cy="1326.2" r="4.2" fill="#c17083"/><text transform="translate(2183.4 1333.8) scale(1.08 1)" font-size="20.2">4</text><circle cx="2170.4" cy="1351.2" r="4.2" fill="#8b1a3a"/><text transform="translate(2183.4 1358.8) scale(1.08 1)" font-size="20.2">5</text><circle cx="2170.4" cy="1376.3" r="4.2" fill="#4668b8"/><text transform="translate(2183.4 1383.9) scale(1.08 1)" font-size="20.2">6</text><circle cx="2170.4" cy="1401.3" r="4.2" fill="#8093d0"/><text transform="translate(2183.4 1408.9) scale(1.08 1)" font-size="20.2">7</text><circle cx="2170.4" cy="1426.4" r="4.2" fill="#b0b8e6"/><text transform="translate(2183.4 1434) scale(1.08 1)" font-size="20.2">8</text><circle cx="2170.4" cy="1451.5" r="4.2" fill="#e8a9b9"/><text transform="translate(2183.4 1459) scale(1.08 1)" font-size="20.2">9</text><circle cx="2170.4" cy="1476.5" r="4.2" fill="#e0788f"/><text transform="translate(2183.4 1484.1) scale(1.08 1)" font-size="20.2">10a</text><circle cx="2170.4" cy="1501.5" r="4.2" fill="#d83a68"/><text transform="translate(2183.4 1509.1) scale(1.08 1)" font-size="20.2">10b</text><circle cx="2170.4" cy="1526.6" r="4.2" fill="#3bb045"/><text transform="translate(2183.4 1534.2) scale(1.08 1)" font-size="20.2">11</text><circle cx="2170.4" cy="1551.7" r="4.2" fill="#8fcc90"/><text transform="translate(2183.4 1559.2) scale(1.08 1)" font-size="20.2">12</text><circle cx="2237.4" cy="1226" r="4.2" fill="#c5e0c5"/><text transform="translate(2250.4 1233.6) scale(1.08 1)" font-size="20.2">13</text><circle cx="2237.4" cy="1251" r="4.2" fill="#f0cdbf"/><text transform="translate(2250.4 1258.6) scale(1.08 1)" font-size="20.2">14</text><circle cx="2237.4" cy="1276.1" r="4.2" fill="#f0b47c"/><text transform="translate(2250.4 1283.7) scale(1.08 1)" font-size="20.2">15</text><circle cx="2237.4" cy="1301.2" r="4.2" fill="#f2a02e"/><text transform="translate(2250.4 1308.8) scale(1.08 1)" font-size="20.2">16</text><circle cx="2237.4" cy="1326.2" r="4.2" fill="#3cb6b2"/><text transform="translate(2250.4 1333.8) scale(1.08 1)" font-size="20.2">17</text><circle cx="2237.4" cy="1351.2" r="4.2" fill="#8fd6c6"/><text transform="translate(2250.4 1358.8) scale(1.08 1)" font-size="20.2">18</text><circle cx="2237.4" cy="1376.3" r="4.2" fill="#d7ece1"/><text transform="translate(2250.4 1383.9) scale(1.08 1)" font-size="20.2">19</text><circle cx="2237.4" cy="1401.3" r="4.2" fill="#f0dbe0"/><text transform="translate(2250.4 1408.9) scale(1.08 1)" font-size="20.2">20</text><circle cx="2237.4" cy="1426.4" r="4.2" fill="#f2b9d9"/><text transform="translate(2250.4 1434) scale(1.08 1)" font-size="20.2">21</text><circle cx="2237.4" cy="1451.5" r="4.2" fill="#e891b9"/><text transform="translate(2250.4 1459) scale(1.08 1)" font-size="20.2">22</text><circle cx="2237.4" cy="1476.5" r="4.2" fill="#7f7f7f"/><text transform="translate(2250.4 1484.1) scale(1.08 1)" font-size="20.2">23</text><circle cx="2237.4" cy="1501.5" r="4.2" fill="#c2c2c2"/><text transform="translate(2250.4 1509.1) scale(1.08 1)" font-size="20.2">24</text><circle cx="2237.4" cy="1526.6" r="4.2" fill="#4fc0ee"/><text transform="translate(2250.4 1534.2) scale(1.08 1)" font-size="20.2">25</text><text transform="translate(1749.4 1517.8) rotate(-90) scale(1.08 1)" font-size="19">UMAP2</text><text transform="translate(1786.7 1562.5) scale(1.08 1)" font-size="19">UMAP1</text><line x1="1741.5" y1="1557" x2="1741.5" y2="1537" stroke="#000" stroke-width="1.1"/><path d="M1741.5 1530 L1744.9 1539.5 L1741.5 1537 L1738.1 1539.5 Z" fill="#000"/><line x1="1740.9" y1="1556.4" x2="1764.8" y2="1556.4" stroke="#000" stroke-width="1.1"/><path d="M1771.8 1556.4 L1762.3 1559.8 L1764.8 1556.4 L1762.3 1553 Z" fill="#000"/></g><g id="panel_I"><rect x="140.2" y="1670.2" width="732" height="213.6" fill="none" stroke="#333" stroke-width="1"/><path d="M207.8 1883.8V1756.2H235.2V1883.8M181 1883.8V1727.4H221.5V1756.2M153.6 1883.8V1706.2H302.4V1713M262.6 1883.8V1713H342.2V1725.4M289.4 1883.8V1725.4H396V1739.4M339.8 1757.6V1739.4H450.2V1756.2M316.8 1883.8V1757.6H363.8V1800.8M344.2 1883.8V1800.8H384.5V1809M371 1883.8V1809H398.4V1883.8M425.3 1883.8V1756.2H475.2V1787.4M452.2 1883.8V1787.4H499.2V1805.6M479 1883.8V1805.6H519.4V1831M505.9 1883.8V1831H533.3V1883.8M202.6 1727.4V1680.8H615.4V1883.8M560.2 1883.8V1720.6H587V1883.8M573.6 1720.6V1690.4H655.2V1798.4M641.8 1883.8V1798.4H668.7V1883.8M615.4 1693.8V1693.8H698.4V1693.8M655.2 1696.6V1696.6H743.1V1709.6M696 1883.8V1783H722.9V1883.8M709.5 1783V1709.6H775.2V1734.6M749.8 1883.8V1734.6H800.7V1739.4M776.7 1883.8V1739.4H824.7V1751.4M804 1883.8V1751.4H844.8V1776.8M830.9 1883.8V1776.8H858.3V1883.8" fill="none" stroke="#000" stroke-width="3.3" stroke-linejoin="miter" stroke-linecap="butt"/><text transform="translate(127.2 1903) scale(1.08 1)" font-size="19.3" text-anchor="end">Leiden</text><text transform="translate(127.2 1923.4) scale(1.08 1)" font-size="19.3" text-anchor="end">cluster</text><text transform="translate(127.2 1955.8) scale(1.08 1)" font-size="19.3" text-anchor="end">Final</text><text transform="translate(127.2 1977.4) scale(1.08 1)" font-size="19.3" text-anchor="end">annotation</text><text transform="translate(161.2 1895.8) rotate(-90) scale(1.08 1)" font-size="20.5" text-anchor="end" fill="#111">21</text><text transform="translate(188.6 1895.8) rotate(-90) scale(1.08 1)" font-size="20.5" text-anchor="end" fill="#111">19</text><text transform="translate(215.4 1895.8) rotate(-90) scale(1.08 1)" font-size="20.5" text-anchor="end" fill="#111">8</text><text transform="translate(242.8 1895.8) rotate(-90) scale(1.08 1)" font-size="20.5" text-anchor="end" fill="#111">9</text><text transform="translate(270.2 1895.8) rotate(-90) scale(1.08 1)" font-size="20.5" text-anchor="end" fill="#111">24</text><text transform="translate(297 1895.8) rotate(-90) scale(1.08 1)" font-size="20.5" text-anchor="end" fill="#111">16</text><text transform="translate(324.4 1895.8) rotate(-90) scale(1.08 1)" font-size="20.5" text-anchor="end" fill="#111">12</text><text transform="translate(351.8 1895.8) rotate(-90) scale(1.08 1)" font-size="20.5" text-anchor="end" fill="#111">3</text><text transform="translate(378.6 1895.8) rotate(-90) scale(1.08 1)" font-size="20.5" text-anchor="end" fill="#111">2</text><text transform="translate(406 1895.8) rotate(-90) scale(1.08 1)" font-size="20.5" text-anchor="end" fill="#111">7</text><text transform="translate(432.9 1895.8) rotate(-90) scale(1.08 1)" font-size="20.5" text-anchor="end" fill="#111">15</text><text transform="translate(459.8 1895.8) rotate(-90) scale(1.08 1)" font-size="20.5" text-anchor="end" fill="#111">14</text><text transform="translate(486.6 1895.8) rotate(-90) scale(1.08 1)" font-size="20.5" text-anchor="end" fill="#111">5</text><text transform="translate(513.5 1895.8) rotate(-90) scale(1.08 1)" font-size="20.5" text-anchor="end" fill="#111">1</text><text transform="translate(540.9 1895.8) rotate(-90) scale(1.08 1)" font-size="20.5" text-anchor="end" fill="#111">4</text><text transform="translate(567.8 1895.8) rotate(-90) scale(1.08 1)" font-size="20.5" text-anchor="end" fill="#111">11</text><text transform="translate(594.6 1895.8) rotate(-90) scale(1.08 1)" font-size="20.5" text-anchor="end" fill="#111">17</text><text transform="translate(622 1895.8) rotate(-90) scale(1.08 1)" font-size="20.5" text-anchor="end" fill="#111">18</text><text transform="translate(649.4 1895.8) rotate(-90) scale(1.08 1)" font-size="20.5" text-anchor="end" fill="#111">10a</text><text transform="translate(676.3 1895.8) rotate(-90) scale(1.08 1)" font-size="20.5" text-anchor="end" fill="#111">10b</text><text transform="translate(703.6 1895.8) rotate(-90) scale(1.08 1)" font-size="20.5" text-anchor="end" fill="#111">6</text><text transform="translate(730.5 1895.8) rotate(-90) scale(1.08 1)" font-size="20.5" text-anchor="end" fill="#111">13</text><text transform="translate(757.4 1895.8) rotate(-90) scale(1.08 1)" font-size="20.5" text-anchor="end" fill="#111">23</text><text transform="translate(784.3 1895.8) rotate(-90) scale(1.08 1)" font-size="20.5" text-anchor="end" fill="#111">22</text><text transform="translate(811.6 1895.8) rotate(-90) scale(1.08 1)" font-size="20.5" text-anchor="end" fill="#111">25</text><text transform="translate(838.5 1895.8) rotate(-90) scale(1.08 1)" font-size="20.5" text-anchor="end" fill="#111">0</text><text transform="translate(865.9 1895.8) rotate(-90) scale(1.08 1)" font-size="20.5" text-anchor="end" fill="#111">20</text><text transform="translate(161.2 1941) rotate(-90) scale(1.08 1)" font-size="20.5" text-anchor="end" fill="#2bb3a3">CD4</text><text transform="translate(188.6 1941) rotate(-90) scale(1.08 1)" font-size="20.5" text-anchor="end" fill="#2b7db8">Other T</text><text transform="translate(229.1 1965) rotate(-90) scale(1.08 1)" font-size="20.5" text-anchor="end" fill="#2bb3a3">CD4</text><text transform="translate(270.2 1941) rotate(-90) scale(1.08 1)" font-size="20.5" text-anchor="end" fill="#2b7db8">Other T</text><text transform="translate(297 1941) rotate(-90) scale(1.08 1)" font-size="20.5" text-anchor="end" fill="#1c3768">NK</text><text transform="translate(337.8 1965) rotate(-90) scale(1.08 1)" font-size="20.5" text-anchor="end" fill="#2bb3a3">CD4</text><text transform="translate(378.6 1941) rotate(-90) scale(1.08 1)" font-size="20.5" text-anchor="end" fill="#1b6b5c">CD8αβ</text><text transform="translate(406 1941) rotate(-90) scale(1.08 1)" font-size="20.5" text-anchor="end" fill="#2bb3a3">CD4</text><text transform="translate(432.9 1941) rotate(-90) scale(1.08 1)" font-size="20.5" text-anchor="end" fill="#1b6b5c">CD8αβ</text><text transform="translate(567.8 1941) rotate(-90) scale(1.08 1)" font-size="20.5" text-anchor="end" fill="#e8909f">Myeloid</text><text transform="translate(594.6 1941) rotate(-90) scale(1.08 1)" font-size="20.5" text-anchor="end" fill="#c01f8e">pDC</text><text transform="translate(622 1941) rotate(-90) scale(1.08 1)" font-size="20.5" text-anchor="end" fill="#e0202e">Plasma</text><text transform="translate(649.4 1941) rotate(-90) scale(1.08 1)" font-size="20.5" text-anchor="end" fill="#33b9d9">Cycling T</text><text transform="translate(676.3 1941) rotate(-90) scale(1.08 1)" font-size="20.5" text-anchor="end" fill="#f2b81f">Act. B</text><text transform="translate(703.6 1941) rotate(-90) scale(1.08 1)" font-size="20.5" text-anchor="end" fill="#6f2f9f">Atxn1</text><path d="M207.8 1941V1955.4H236.2V1941" fill="none" stroke="#2bb3a3" stroke-width="2.6"/><path d="M315.8 1941V1955.4H343.7V1941" fill="none" stroke="#2bb3a3" stroke-width="2.6"/><path d="M452.2 1941V1955.4H533.8V1941" fill="none" stroke="#1d9a6c" stroke-width="2.6"/><path d="M721.9 1941V1955.4H860.7V1941" fill="none" stroke="#e8703f" stroke-width="2.6"/><text transform="translate(493 1979.4) scale(1.08 1)" font-size="18" text-anchor="middle" fill="#1d9a6c">Nat. IEL</text><text transform="translate(791.1 1978.4) scale(1.08 1)" font-size="18" text-anchor="middle" fill="#e8703f">B cell</text></g><g id="panel_J"><rect x="1157.9" y="1681.5" width="965.5" height="645.4" fill="none" stroke="#333" stroke-width="1.2"/><path d="M2014.1 1705.1h0M1515.9 1728.1h0M1266.8 1751.1h0M1289.4 1751.1h0M1493.2 1751.1h0M1515.9 1751.1h0M1334.7 1774.2h0M1176.2 1797.2h0M1198.8 1797.2h0M1221.5 1797.2h0M1266.8 1797.2h0M1493.2 1797.2h0M1515.9 1797.2h0M1583.8 1843.2h0M1221.5 1866.2h0M1334.7 1866.2h0M1470.6 1866.2h0M1493.2 1866.2h0M1515.9 1866.2h0M1334.7 1889.3h0M1357.4 1889.3h0M1312.1 1912.3h0M1357.4 1912.3h0M1402.7 1912.3h0M2082 1935.3h0M2104.6 1935.3h0M2014.1 1958.3h0M1176.2 2050.4h0M1198.8 2050.4h0M1221.5 2050.4h0M1244.1 2050.4h0M1493.2 2050.4h0M1515.9 2050.4h0M1266.8 2073.4h0M1515.9 2073.4h0M1176.2 2096.4h0M1198.8 2096.4h0M1425.3 2096.4h0M1719.7 2096.4h0M1765 2096.4h0M1312.1 2119.5h0M1787.6 2119.5h0M1810.3 2119.5h0M1832.9 2119.5h0M1900.8 2119.5h0M1900.8 2142.5h0M2014.1 2142.5h0M2014.1 2188.5h0M1425.3 2211.5h0M1538.5 2211.5h0M2014.1 2234.6h0M2014.1 2257.6h0M1991.4 2303.6h0M2014.1 2303.6h0" fill="none" stroke="#000" stroke-width="22.8" stroke-linecap="round"/><path d="M1470.6 2073.4h0M1493.2 2073.4h0" fill="none" stroke="#1a1020" stroke-width="23.7" stroke-linecap="round"/><path d="M1470.6 2073.4h0M1493.2 2073.4h0" fill="none" stroke="#16112b" stroke-width="22.3" stroke-linecap="round"/><path d="M1991.4 1705.1h0M1221.5 1728.1h0M1244.1 1797.2h0M1357.4 1820.2h0M1493.2 1843.2h0M1606.5 1843.2h0M1629.1 1866.2h0M1380 1889.3h0M1447.9 1889.3h0M2059.4 1935.3h0M1923.5 1958.3h0M2059.4 1958.3h0M2104.6 1958.3h0M1221.5 2073.4h0M1697 2096.4h0M1855.6 2142.5h0M1878.2 2142.5h0M1312.1 2188.5h0M1991.4 2188.5h0M1334.7 2211.5h0M1380 2211.5h0M1312.1 2234.6h0M1991.4 2234.6h0M1991.4 2257.6h0" fill="none" stroke="#000" stroke-width="19.4" stroke-linecap="round"/><path d="M1493.2 1728.1h0M1470.6 1751.1h0M1470.6 2050.4h0" fill="none" stroke="#1a1020" stroke-width="20.3" stroke-linecap="round"/><path d="M1493.2 1728.1h0M1470.6 1751.1h0M1470.6 2050.4h0" fill="none" stroke="#2c1f6e" stroke-width="18.9" stroke-linecap="round"/><path d="M1493.2 1820.2h0M1493.2 1935.3h0M1425.3 2050.4h0M1198.8 2119.5h0M1493.2 2280.6h0" fill="none" stroke="#1a1020" stroke-width="20.3" stroke-linecap="round"/><path d="M1493.2 1820.2h0M1493.2 1935.3h0M1425.3 2050.4h0M1198.8 2119.5h0M1493.2 2280.6h0" fill="none" stroke="#5a2d8e" stroke-width="18.9" stroke-linecap="round"/><path d="M1470.6 2119.5h0" fill="none" stroke="#1a1020" stroke-width="20.3" stroke-linecap="round"/><path d="M1470.6 2119.5h0" fill="none" stroke="#16112b" stroke-width="18.9" stroke-linecap="round"/><path d="M1312.1 1705.1h0M2036.7 1705.1h0M1629.1 1751.1h0M1380 1774.2h0M1697 1797.2h0M1198.8 1820.2h0M1561.2 1820.2h0M1561.2 1843.2h0M1629.1 1843.2h0M1538.5 1866.2h0M1402.7 1889.3h0M1447.9 1912.3h0M1221.5 1935.3h0M1946.1 1958.3h0M1334.7 2004.4h0M1742.3 2096.4h0M1968.8 2142.5h0M1357.4 2165.5h0M1470.6 2211.5h0M2036.7 2234.6h0M1312.1 2257.6h0M1357.4 2280.6h0M1312.1 2303.6h0M2036.7 2303.6h0" fill="none" stroke="#000" stroke-width="16.8" stroke-linecap="round"/><path d="M1198.8 1728.1h0M1244.1 1728.1h0M1334.7 1912.3h0M1447.9 2303.6h0" fill="none" stroke="#1a1020" stroke-width="17.7" stroke-linecap="round"/><path d="M1198.8 1728.1h0M1244.1 1728.1h0M1334.7 1912.3h0M1447.9 2303.6h0" fill="none" stroke="#16112b" stroke-width="16.3" stroke-linecap="round"/><path d="M1425.3 1728.1h0M1176.2 2211.5h0M1266.8 2280.6h0" fill="none" stroke="#1a1020" stroke-width="17.7" stroke-linecap="round"/><path d="M1425.3 1728.1h0M1176.2 2211.5h0M1266.8 2280.6h0" fill="none" stroke="#2c1f6e" stroke-width="16.3" stroke-linecap="round"/><path d="M1470.6 1728.1h0M1470.6 1820.2h0M1493.2 2004.4h0M1561.2 2050.4h0M1425.3 2073.4h0M1629.1 2073.4h0M1244.1 2096.4h0M1832.9 2142.5h0" fill="none" stroke="#1a1020" stroke-width="17.7" stroke-linecap="round"/><path d="M1470.6 1728.1h0M1470.6 1820.2h0M1493.2 2004.4h0M1561.2 2050.4h0M1425.3 2073.4h0M1629.1 2073.4h0M1244.1 2096.4h0M1832.9 2142.5h0" fill="none" stroke="#5a2d8e" stroke-width="16.3" stroke-linecap="round"/><path d="M1425.3 1797.2h0M1470.6 1797.2h0M1244.1 2073.4h0M1900.8 2303.6h0" fill="none" stroke="#1a1020" stroke-width="17.7" stroke-linecap="round"/><path d="M1425.3 1797.2h0M1470.6 1797.2h0M1244.1 2073.4h0M1900.8 2303.6h0" fill="none" stroke="#8b2a8f" stroke-width="16.3" stroke-linecap="round"/><path d="M1176.2 1728.1h0M1629.1 1728.1h0M1425.3 1935.3h0M1470.6 2004.4h0M1583.8 2211.5h0" fill="none" stroke="#1a1020" stroke-width="15.3" stroke-linecap="round"/><path d="M1176.2 1728.1h0M1629.1 1728.1h0M1425.3 1935.3h0M1470.6 2004.4h0M1583.8 2211.5h0" fill="none" stroke="#5a2d8e" stroke-width="13.9" stroke-linecap="round"/><path d="M1266.8 1728.1h0M1266.8 1820.2h0M1991.4 1958.3h0M2036.7 1958.3h0" fill="none" stroke="#1a1020" stroke-width="15.3" stroke-linecap="round"/><path d="M1266.8 1728.1h0M1266.8 1820.2h0M1991.4 1958.3h0M2036.7 1958.3h0" fill="none" stroke="#2c1f6e" stroke-width="13.9" stroke-linecap="round"/><path d="M1742.3 1728.1h0M1651.7 1843.2h0M1923.5 1889.3h0M2036.7 1889.3h0M1968.8 1958.3h0M2082 1958.3h0M1674.4 1981.3h0M1606.5 2027.4h0M1991.4 2027.4h0M1289.4 2119.5h0M1334.7 2165.5h0M1651.7 2165.5h0M2036.7 2257.6h0M1289.4 2280.6h0M1561.2 2280.6h0" fill="none" stroke="#000" stroke-width="14.4" stroke-linecap="round"/><path d="M1221.5 1751.1h0M1425.3 1751.1h0M1583.8 1774.2h0M1583.8 1866.2h0M1266.8 1935.3h0M1470.6 1935.3h0M1583.8 2004.4h0M1447.9 2119.5h0M1470.6 2280.6h0M1515.9 2280.6h0M1606.5 2280.6h0" fill="none" stroke="#1a1020" stroke-width="15.3" stroke-linecap="round"/><path d="M1221.5 1751.1h0M1425.3 1751.1h0M1583.8 1774.2h0M1583.8 1866.2h0M1266.8 1935.3h0M1470.6 1935.3h0M1583.8 2004.4h0M1447.9 2119.5h0M1470.6 2280.6h0M1515.9 2280.6h0M1606.5 2280.6h0" fill="none" stroke="#8b2a8f" stroke-width="13.9" stroke-linecap="round"/><path d="M1583.8 1751.1h0" fill="none" stroke="#1a1020" stroke-width="15.3" stroke-linecap="round"/><path d="M1583.8 1751.1h0" fill="none" stroke="#bf417e" stroke-width="13.9" stroke-linecap="round"/><path d="M1380 2004.4h0M1447.9 2188.5h0" fill="none" stroke="#1a1020" stroke-width="15.3" stroke-linecap="round"/><path d="M1380 2004.4h0M1447.9 2188.5h0" fill="none" stroke="#16112b" stroke-width="13.9" stroke-linecap="round"/><path d="M1447.9 1705.1h0M2036.7 2188.5h0" fill="none" stroke="#1a1020" stroke-width="12.5" stroke-linecap="round"/><path d="M1447.9 1705.1h0M2036.7 2188.5h0" fill="none" stroke="#2c1f6e" stroke-width="11.1" stroke-linecap="round"/><path d="M1900.8 1705.1h0M1583.8 1797.2h0M1244.1 1820.2h0M1606.5 2050.4h0M1900.8 2073.4h0M1515.9 2165.5h0M1900.8 2211.5h0" fill="none" stroke="#1a1020" stroke-width="12.5" stroke-linecap="round"/><path d="M1900.8 1705.1h0M1583.8 1797.2h0M1244.1 1820.2h0M1606.5 2050.4h0M1900.8 2073.4h0M1515.9 2165.5h0M1900.8 2211.5h0" fill="none" stroke="#e0506e" stroke-width="11.1" stroke-linecap="round"/><path d="M1561.2 1728.1h0M1561.2 1797.2h0M1425.3 2004.4h0M1629.1 2004.4h0" fill="none" stroke="#1a1020" stroke-width="12.5" stroke-linecap="round"/><path d="M1561.2 1728.1h0M1561.2 1797.2h0M1425.3 2004.4h0M1629.1 2004.4h0" fill="none" stroke="#5a2d8e" stroke-width="11.1" stroke-linecap="round"/><path d="M1583.8 1728.1h0M1244.1 1751.1h0M1606.5 1751.1h0M1470.6 1774.2h0M1606.5 1774.2h0M1606.5 1820.2h0M1176.2 2004.4h0M1221.5 2004.4h0M1244.1 2004.4h0M1515.9 2004.4h0M1176.2 2073.4h0M1493.2 2165.5h0" fill="none" stroke="#1a1020" stroke-width="12.5" stroke-linecap="round"/><path d="M1583.8 1728.1h0M1244.1 1751.1h0M1606.5 1751.1h0M1470.6 1774.2h0M1606.5 1774.2h0M1606.5 1820.2h0M1176.2 2004.4h0M1221.5 2004.4h0M1244.1 2004.4h0M1515.9 2004.4h0M1176.2 2073.4h0M1493.2 2165.5h0" fill="none" stroke="#bf417e" stroke-width="11.1" stroke-linecap="round"/><path d="M1357.4 1774.2h0M1425.3 1774.2h0M1629.1 1774.2h0M1425.3 1820.2h0M1244.1 1866.2h0M1425.3 1866.2h0M1606.5 1889.3h0M1176.2 1935.3h0M1334.7 1935.3h0M1583.8 1935.3h0M1629.1 1935.3h0M1447.9 1958.3h0M1606.5 2004.4h0M2014.1 2027.4h0M1198.8 2073.4h0M1447.9 2142.5h0M1629.1 2165.5h0M1357.4 2211.5h0M1606.5 2211.5h0M1923.5 2211.5h0M1176.2 2280.6h0M1198.8 2280.6h0" fill="none" stroke="#1a1020" stroke-width="12.5" stroke-linecap="round"/><path d="M1357.4 1774.2h0M1425.3 1774.2h0M1629.1 1774.2h0M1425.3 1820.2h0M1244.1 1866.2h0M1425.3 1866.2h0M1606.5 1889.3h0M1176.2 1935.3h0M1334.7 1935.3h0M1583.8 1935.3h0M1629.1 1935.3h0M1447.9 1958.3h0M1606.5 2004.4h0M2014.1 2027.4h0M1198.8 2073.4h0M1447.9 2142.5h0M1629.1 2165.5h0M1357.4 2211.5h0M1606.5 2211.5h0M1923.5 2211.5h0M1176.2 2280.6h0M1198.8 2280.6h0" fill="none" stroke="#8b2a8f" stroke-width="11.1" stroke-linecap="round"/><path d="M1697 1820.2h0M1787.6 1981.3h0M1697 2050.4h0M1380 2165.5h0" fill="none" stroke="#000" stroke-width="11.6" stroke-linecap="round"/><path d="M1198.8 1981.3h0" fill="none" stroke="#1a1020" stroke-width="12.5" stroke-linecap="round"/><path d="M1198.8 1981.3h0" fill="none" stroke="#16112b" stroke-width="11.1" stroke-linecap="round"/><path d="M1221.5 2096.4h0" fill="none" stroke="#1a1020" stroke-width="12.5" stroke-linecap="round"/><path d="M1221.5 2096.4h0" fill="none" stroke="#f2705f" stroke-width="11.1" stroke-linecap="round"/><path d="M1606.5 1728.1h0M1900.8 1728.1h0M1493.2 1774.2h0M1832.9 1774.2h0M1900.8 1774.2h0M1629.1 1797.2h0M1900.8 1797.2h0M1900.8 1820.2h0M1176.2 1866.2h0M1606.5 1866.2h0M1176.2 1889.3h0M1900.8 1889.3h0M1832.9 1912.3h0M1198.8 1935.3h0M1244.1 1935.3h0M1515.9 1935.3h0M1266.8 2004.4h0M1583.8 2050.4h0M1629.1 2050.4h0M1900.8 2050.4h0M1357.4 2073.4h0M1583.8 2073.4h0M1606.5 2073.4h0M1357.4 2096.4h0M1515.9 2096.4h0M1606.5 2096.4h0M1900.8 2096.4h0M1176.2 2165.5h0M1425.3 2165.5h0M1470.6 2165.5h0M1583.8 2165.5h0M1606.5 2165.5h0M1606.5 2188.5h0M1900.8 2188.5h0M1493.2 2211.5h0M1606.5 2303.6h0" fill="none" stroke="#1a1020" stroke-width="10.1" stroke-linecap="round"/><path d="M1606.5 1728.1h0M1900.8 1728.1h0M1493.2 1774.2h0M1832.9 1774.2h0M1900.8 1774.2h0M1629.1 1797.2h0M1900.8 1797.2h0M1900.8 1820.2h0M1176.2 1866.2h0M1606.5 1866.2h0M1176.2 1889.3h0M1900.8 1889.3h0M1832.9 1912.3h0M1198.8 1935.3h0M1244.1 1935.3h0M1515.9 1935.3h0M1266.8 2004.4h0M1583.8 2050.4h0M1629.1 2050.4h0M1900.8 2050.4h0M1357.4 2073.4h0M1583.8 2073.4h0M1606.5 2073.4h0M1357.4 2096.4h0M1515.9 2096.4h0M1606.5 2096.4h0M1900.8 2096.4h0M1176.2 2165.5h0M1425.3 2165.5h0M1470.6 2165.5h0M1583.8 2165.5h0M1606.5 2165.5h0M1606.5 2188.5h0M1900.8 2188.5h0M1493.2 2211.5h0M1606.5 2303.6h0" fill="none" stroke="#e0506e" stroke-width="8.7" stroke-linecap="round"/><path d="M1719.7 1728.1h0M1312.1 2027.4h0M2036.7 2027.4h0M1402.7 2165.5h0M1855.6 2257.6h0M1402.7 2280.6h0" fill="none" stroke="#000" stroke-width="9.2" stroke-linecap="round"/><path d="M1538.5 1751.1h0M1561.2 1751.1h0M1176.2 1774.2h0M1244.1 1774.2h0M1176.2 1820.2h0M1923.5 1820.2h0M1470.6 1843.2h0M1380 1866.2h0M1606.5 1912.3h0M1651.7 1935.3h0M1900.8 1981.3h0M1923.5 1981.3h0M1402.7 2096.4h0M1470.6 2096.4h0M1334.7 2119.5h0M1221.5 2165.5h0M1244.1 2165.5h0M1266.8 2165.5h0M1606.5 2257.6h0M1221.5 2280.6h0M1244.1 2280.6h0M1380 2280.6h0M1425.3 2280.6h0" fill="none" stroke="#1a1020" stroke-width="10.1" stroke-linecap="round"/><path d="M1538.5 1751.1h0M1561.2 1751.1h0M1176.2 1774.2h0M1244.1 1774.2h0M1176.2 1820.2h0M1923.5 1820.2h0M1470.6 1843.2h0M1380 1866.2h0M1606.5 1912.3h0M1651.7 1935.3h0M1900.8 1981.3h0M1923.5 1981.3h0M1402.7 2096.4h0M1470.6 2096.4h0M1334.7 2119.5h0M1221.5 2165.5h0M1244.1 2165.5h0M1266.8 2165.5h0M1606.5 2257.6h0M1221.5 2280.6h0M1244.1 2280.6h0M1380 2280.6h0M1425.3 2280.6h0" fill="none" stroke="#bf417e" stroke-width="8.7" stroke-linecap="round"/><path d="M1651.7 1751.1h0M1651.7 1774.2h0M1651.7 1866.2h0M1651.7 1889.3h0M1538.5 1935.3h0M1538.5 2004.4h0M1651.7 2096.4h0M1447.9 2165.5h0M1855.6 2188.5h0M1651.7 2211.5h0M1742.3 2280.6h0M1923.5 2303.6h0" fill="none" stroke="#1a1020" stroke-width="10.1" stroke-linecap="round"/><path d="M1651.7 1751.1h0M1651.7 1774.2h0M1651.7 1866.2h0M1651.7 1889.3h0M1538.5 1935.3h0M1538.5 2004.4h0M1651.7 2096.4h0M1447.9 2165.5h0M1855.6 2188.5h0M1651.7 2211.5h0M1742.3 2280.6h0M1923.5 2303.6h0" fill="none" stroke="#5a2d8e" stroke-width="8.7" stroke-linecap="round"/><path d="M1538.5 1774.2h0" fill="none" stroke="#1a1020" stroke-width="10.1" stroke-linecap="round"/><path d="M1538.5 1774.2h0" fill="none" stroke="#16112b" stroke-width="8.7" stroke-linecap="round"/><path d="M1606.5 1797.2h0M1583.8 1820.2h0M1266.8 1866.2h0M1900.8 1866.2h0M1561.2 1935.3h0M1900.8 2004.4h0M1583.8 2096.4h0M1832.9 2096.4h0M1606.5 2119.5h0M1515.9 2211.5h0M1900.8 2234.6h0M1583.8 2280.6h0" fill="none" stroke="#1a1020" stroke-width="10.1" stroke-linecap="round"/><path d="M1606.5 1797.2h0M1583.8 1820.2h0M1266.8 1866.2h0M1900.8 1866.2h0M1561.2 1935.3h0M1900.8 2004.4h0M1583.8 2096.4h0M1832.9 2096.4h0M1606.5 2119.5h0M1515.9 2211.5h0M1900.8 2234.6h0M1583.8 2280.6h0" fill="none" stroke="#f2705f" stroke-width="8.7" stroke-linecap="round"/><path d="M1561.2 1866.2h0M1832.9 1981.3h0M1357.4 2004.4h0M1651.7 2004.4h0M1561.2 2073.4h0M1561.2 2096.4h0M1447.9 2234.6h0M1923.5 2234.6h0M1447.9 2257.6h0M1923.5 2257.6h0" fill="none" stroke="#1a1020" stroke-width="10.1" stroke-linecap="round"/><path d="M1561.2 1866.2h0M1832.9 1981.3h0M1357.4 2004.4h0M1651.7 2004.4h0M1561.2 2073.4h0M1561.2 2096.4h0M1447.9 2234.6h0M1923.5 2234.6h0M1447.9 2257.6h0M1923.5 2257.6h0" fill="none" stroke="#8b2a8f" stroke-width="8.7" stroke-linecap="round"/><path d="M1289.4 2073.4h0M1742.3 2073.4h0M1855.6 2234.6h0" fill="none" stroke="#1a1020" stroke-width="10.1" stroke-linecap="round"/><path d="M1289.4 2073.4h0M1742.3 2073.4h0M1855.6 2234.6h0" fill="none" stroke="#2c1f6e" stroke-width="8.7" stroke-linecap="round"/><path d="M1606.5 1705.1h0M1832.9 1705.1h0M1357.4 1751.1h0M1380 1751.1h0M1651.7 1797.2h0M2104.6 1797.2h0M1447.9 1820.2h0M1266.8 1843.2h0M1402.7 1935.3h0M1787.6 1935.3h0M1244.1 1981.3h0M1470.6 1981.3h0M1606.5 1981.3h0M1198.8 2004.4h0M2104.6 2050.4h0M1923.5 2119.5h0M1900.8 2165.5h0M1221.5 2211.5h0M1923.5 2280.6h0" fill="none" stroke="#1a1020" stroke-width="7.5" stroke-linecap="round"/><path d="M1606.5 1705.1h0M1832.9 1705.1h0M1357.4 1751.1h0M1380 1751.1h0M1651.7 1797.2h0M2104.6 1797.2h0M1447.9 1820.2h0M1266.8 1843.2h0M1402.7 1935.3h0M1787.6 1935.3h0M1244.1 1981.3h0M1470.6 1981.3h0M1606.5 1981.3h0M1198.8 2004.4h0M2104.6 2050.4h0M1923.5 2119.5h0M1900.8 2165.5h0M1221.5 2211.5h0M1923.5 2280.6h0" fill="none" stroke="#e0506e" stroke-width="6.1" stroke-linecap="round"/><path d="M1855.6 1705.1h0" fill="none" stroke="#1a1020" stroke-width="7.5" stroke-linecap="round"/><path d="M1855.6 1705.1h0" fill="none" stroke="#2c1f6e" stroke-width="6.1" stroke-linecap="round"/><path d="M1923.5 1705.1h0M1538.5 1728.1h0M1923.5 1728.1h0M1923.5 1751.1h0M2104.6 1751.1h0M1402.7 1774.2h0M1561.2 1774.2h0M1402.7 1820.2h0M1651.7 1820.2h0M1176.2 1843.2h0M1244.1 1843.2h0M1357.4 1843.2h0M1402.7 1866.2h0M1787.6 1866.2h0M2104.6 1866.2h0M1380 1912.3h0M1289.4 1935.3h0M1697 1935.3h0M1855.6 1935.3h0M1900.8 1935.3h0M1583.8 1981.3h0M1991.4 1981.3h0M1402.7 2004.4h0M1561.2 2004.4h0M1923.5 2050.4h0M1538.5 2073.4h0M1923.5 2073.4h0M1312.1 2096.4h0M1538.5 2096.4h0M1855.6 2119.5h0M1787.6 2142.5h0M1198.8 2165.5h0M1832.9 2165.5h0M1923.5 2165.5h0M1561.2 2211.5h0M1447.9 2280.6h0" fill="none" stroke="#1a1020" stroke-width="7.5" stroke-linecap="round"/><path d="M1923.5 1705.1h0M1538.5 1728.1h0M1923.5 1728.1h0M1923.5 1751.1h0M2104.6 1751.1h0M1402.7 1774.2h0M1561.2 1774.2h0M1402.7 1820.2h0M1651.7 1820.2h0M1176.2 1843.2h0M1244.1 1843.2h0M1357.4 1843.2h0M1402.7 1866.2h0M1787.6 1866.2h0M2104.6 1866.2h0M1380 1912.3h0M1289.4 1935.3h0M1697 1935.3h0M1855.6 1935.3h0M1900.8 1935.3h0M1583.8 1981.3h0M1991.4 1981.3h0M1402.7 2004.4h0M1561.2 2004.4h0M1923.5 2050.4h0M1538.5 2073.4h0M1923.5 2073.4h0M1312.1 2096.4h0M1538.5 2096.4h0M1855.6 2119.5h0M1787.6 2142.5h0M1198.8 2165.5h0M1832.9 2165.5h0M1923.5 2165.5h0M1561.2 2211.5h0M1447.9 2280.6h0" fill="none" stroke="#bf417e" stroke-width="6.1" stroke-linecap="round"/><path d="M1357.4 1728.1h0M1832.9 1728.1h0M1176.2 1751.1h0M1832.9 1751.1h0M1900.8 1751.1h0M1832.9 1820.2h0M1832.9 1866.2h0M1583.8 1889.3h0M1832.9 1889.3h0M1357.4 1935.3h0M1606.5 1958.3h0M1357.4 1981.3h0M1493.2 1981.3h0M1515.9 1981.3h0M1832.9 2004.4h0M1266.8 2119.5h0M1832.9 2188.5h0M1629.1 2211.5h0M1832.9 2234.6h0M1900.8 2257.6h0M1900.8 2280.6h0" fill="none" stroke="#1a1020" stroke-width="7.5" stroke-linecap="round"/><path d="M1357.4 1728.1h0M1832.9 1728.1h0M1176.2 1751.1h0M1832.9 1751.1h0M1900.8 1751.1h0M1832.9 1820.2h0M1832.9 1866.2h0M1583.8 1889.3h0M1832.9 1889.3h0M1357.4 1935.3h0M1606.5 1958.3h0M1357.4 1981.3h0M1493.2 1981.3h0M1515.9 1981.3h0M1832.9 2004.4h0M1266.8 2119.5h0M1832.9 2188.5h0M1629.1 2211.5h0M1832.9 2234.6h0M1900.8 2257.6h0M1900.8 2280.6h0" fill="none" stroke="#f2705f" stroke-width="6.1" stroke-linecap="round"/><path d="M1447.9 1774.2h0M1289.4 1843.2h0M1289.4 1912.3h0M1380 1935.3h0M1719.7 1935.3h0M1855.6 1981.3h0M1651.7 2073.4h0M1561.2 2165.5h0M1855.6 2211.5h0" fill="none" stroke="#1a1020" stroke-width="7.5" stroke-linecap="round"/><path d="M1447.9 1774.2h0M1289.4 1843.2h0M1289.4 1912.3h0M1380 1935.3h0M1719.7 1935.3h0M1855.6 1981.3h0M1651.7 2073.4h0M1561.2 2165.5h0M1855.6 2211.5h0" fill="none" stroke="#8b2a8f" stroke-width="6.1" stroke-linecap="round"/><path d="M1515.9 1774.2h0M1900.8 1912.3h0M1493.2 2096.4h0M1832.9 2280.6h0" fill="none" stroke="#1a1020" stroke-width="7.5" stroke-linecap="round"/><path d="M1515.9 1774.2h0M1900.8 1912.3h0M1493.2 2096.4h0M1832.9 2280.6h0" fill="none" stroke="#f9a77a" stroke-width="6.1" stroke-linecap="round"/><path d="M1742.3 1797.2h0M1425.3 1843.2h0M1742.3 1935.3h0M1312.1 2280.6h0" fill="none" stroke="#1a1020" stroke-width="7.5" stroke-linecap="round"/><path d="M1742.3 1797.2h0M1425.3 1843.2h0M1742.3 1935.3h0M1312.1 2280.6h0" fill="none" stroke="#5a2d8e" stroke-width="6.1" stroke-linecap="round"/><path d="M1402.7 1843.2h0M1312.1 1981.3h0" fill="none" stroke="#1a1020" stroke-width="7.5" stroke-linecap="round"/><path d="M1402.7 1843.2h0M1312.1 1981.3h0" fill="none" stroke="#16112b" stroke-width="6.1" stroke-linecap="round"/><path d="M1968.8 1705.1h0M1289.4 1728.1h0M1380 1728.1h0M1402.7 1728.1h0M1991.4 1728.1h0M1266.8 1774.2h0M1832.9 1797.2h0M1923.5 1797.2h0M1357.4 1866.2h0M1266.8 1912.3h0M1583.8 1912.3h0M1651.7 1912.3h0M1606.5 1935.3h0M1674.4 1935.3h0M1832.9 1935.3h0M1357.4 1958.3h0M1176.2 2142.5h0M1583.8 2142.5h0M1991.4 2142.5h0M1855.6 2165.5h0M1787.6 2303.6h0M1832.9 2303.6h0M1855.6 2303.6h0M2059.4 2303.6h0" fill="none" stroke="#1a1020" stroke-width="5.1" stroke-linecap="round"/><path d="M1968.8 1705.1h0M1289.4 1728.1h0M1380 1728.1h0M1402.7 1728.1h0M1991.4 1728.1h0M1266.8 1774.2h0M1832.9 1797.2h0M1923.5 1797.2h0M1357.4 1866.2h0M1266.8 1912.3h0M1583.8 1912.3h0M1651.7 1912.3h0M1606.5 1935.3h0M1674.4 1935.3h0M1832.9 1935.3h0M1357.4 1958.3h0M1176.2 2142.5h0M1583.8 2142.5h0M1991.4 2142.5h0M1855.6 2165.5h0M1787.6 2303.6h0M1832.9 2303.6h0M1855.6 2303.6h0M2059.4 2303.6h0" fill="none" stroke="#777" stroke-width="3.7" stroke-linecap="round"/><path d="M1651.7 1728.1h0M2104.6 1728.1h0M1334.7 1751.1h0M1402.7 1751.1h0M1787.6 1751.1h0M1674.4 1774.2h0M1923.5 1774.2h0M2104.6 1774.2h0M1515.9 1820.2h0M1629.1 1820.2h0M1742.3 1820.2h0M2104.6 1820.2h0M1334.7 1843.2h0M1742.3 1843.2h0M1674.4 1866.2h0M1855.6 1866.2h0M1923.5 1866.2h0M1629.1 1889.3h0M1561.2 1912.3h0M1923.5 1912.3h0M1923.5 1935.3h0M1402.7 1958.3h0M1787.6 1958.3h0M1855.6 1958.3h0M1289.4 1981.3h0M1334.7 1981.3h0M1380 1981.3h0M1402.7 1981.3h0M1561.2 1981.3h0M1629.1 1981.3h0M1651.7 1981.3h0M1719.7 1981.3h0M1289.4 2004.4h0M1447.9 2004.4h0M1742.3 2004.4h0M1855.6 2004.4h0M1923.5 2004.4h0M2104.6 2004.4h0M1900.8 2027.4h0M1538.5 2050.4h0M1651.7 2050.4h0M1742.3 2050.4h0M1787.6 2050.4h0M1334.7 2073.4h0M1402.7 2073.4h0M1697 2073.4h0M2104.6 2073.4h0M1923.5 2096.4h0M1991.4 2096.4h0M2104.6 2142.5h0M1312.1 2165.5h0M1538.5 2165.5h0M1697 2165.5h0M1742.3 2165.5h0M2036.7 2165.5h0M1923.5 2188.5h0M1289.4 2211.5h0M1402.7 2211.5h0M1674.4 2211.5h0M1832.9 2211.5h0M1787.6 2234.6h0M1651.7 2280.6h0M1697 2280.6h0M1855.6 2280.6h0M2104.6 2303.6h0" fill="none" stroke="#1a1020" stroke-width="5.1" stroke-linecap="round"/><path d="M1651.7 1728.1h0M2104.6 1728.1h0M1334.7 1751.1h0M1402.7 1751.1h0M1787.6 1751.1h0M1674.4 1774.2h0M1923.5 1774.2h0M2104.6 1774.2h0M1515.9 1820.2h0M1629.1 1820.2h0M1742.3 1820.2h0M2104.6 1820.2h0M1334.7 1843.2h0M1742.3 1843.2h0M1674.4 1866.2h0M1855.6 1866.2h0M1923.5 1866.2h0M1629.1 1889.3h0M1561.2 1912.3h0M1923.5 1912.3h0M1923.5 1935.3h0M1402.7 1958.3h0M1787.6 1958.3h0M1855.6 1958.3h0M1289.4 1981.3h0M1334.7 1981.3h0M1380 1981.3h0M1402.7 1981.3h0M1561.2 1981.3h0M1629.1 1981.3h0M1651.7 1981.3h0M1719.7 1981.3h0M1289.4 2004.4h0M1447.9 2004.4h0M1742.3 2004.4h0M1855.6 2004.4h0M1923.5 2004.4h0M2104.6 2004.4h0M1900.8 2027.4h0M1538.5 2050.4h0M1651.7 2050.4h0M1742.3 2050.4h0M1787.6 2050.4h0M1334.7 2073.4h0M1402.7 2073.4h0M1697 2073.4h0M2104.6 2073.4h0M1923.5 2096.4h0M1991.4 2096.4h0M2104.6 2142.5h0M1312.1 2165.5h0M1538.5 2165.5h0M1697 2165.5h0M1742.3 2165.5h0M2036.7 2165.5h0M1923.5 2188.5h0M1289.4 2211.5h0M1402.7 2211.5h0M1674.4 2211.5h0M1832.9 2211.5h0M1787.6 2234.6h0M1651.7 2280.6h0M1697 2280.6h0M1855.6 2280.6h0M2104.6 2303.6h0" fill="none" stroke="#a8456f" stroke-width="3.7" stroke-linecap="round"/><path d="M1697 1728.1h0M1855.6 1889.3h0M1447.9 2027.4h0M1583.8 2027.4h0M1719.7 2073.4h0M1674.4 2096.4h0" fill="none" stroke="#1a1020" stroke-width="5.1" stroke-linecap="round"/><path d="M1697 1728.1h0M1855.6 1889.3h0M1447.9 2027.4h0M1583.8 2027.4h0M1719.7 2073.4h0M1674.4 2096.4h0" fill="none" stroke="#8b2a8f" stroke-width="3.7" stroke-linecap="round"/><path d="M1221.5 1774.2h0M1221.5 1981.3h0M1266.8 2050.4h0M1244.1 2142.5h0" fill="none" stroke="#1a1020" stroke-width="5.1" stroke-linecap="round"/><path d="M1221.5 1774.2h0M1221.5 1981.3h0M1266.8 2050.4h0M1244.1 2142.5h0" fill="none" stroke="#f9a77a" stroke-width="3.7" stroke-linecap="round"/><path d="M1855.6 1774.2h0M1900.8 1843.2h0M2104.6 1843.2h0M1923.5 2027.4h0" fill="none" stroke="#000" stroke-width="4.2" stroke-linecap="round"/><path d="M1176.2 1912.3h0M1425.3 1958.3h0M1900.8 1958.3h0M1176.2 1981.3h0M1266.8 1981.3h0M1832.9 2050.4h0M1832.9 2073.4h0M1629.1 2096.4h0M1991.4 2119.5h0M1561.2 2142.5h0M1606.5 2142.5h0M1244.1 2211.5h0M2104.6 2211.5h0M1606.5 2234.6h0M1832.9 2257.6h0M1629.1 2280.6h0" fill="none" stroke="#1a1020" stroke-width="5.1" stroke-linecap="round"/><path d="M1176.2 1912.3h0M1425.3 1958.3h0M1900.8 1958.3h0M1176.2 1981.3h0M1266.8 1981.3h0M1832.9 2050.4h0M1832.9 2073.4h0M1629.1 2096.4h0M1991.4 2119.5h0M1561.2 2142.5h0M1606.5 2142.5h0M1244.1 2211.5h0M2104.6 2211.5h0M1606.5 2234.6h0M1832.9 2257.6h0M1629.1 2280.6h0" fill="none" stroke="#f2705f" stroke-width="3.7" stroke-linecap="round"/><path d="M1447.9 1935.3h0M2036.7 1935.3h0M1380 2096.4h0M2036.7 2142.5h0M1289.4 2165.5h0M1266.8 2211.5h0M1334.7 2280.6h0M1968.8 2303.6h0" fill="none" stroke="#1a1020" stroke-width="5.1" stroke-linecap="round"/><path d="M1447.9 1935.3h0M2036.7 1935.3h0M1380 2096.4h0M2036.7 2142.5h0M1289.4 2165.5h0M1266.8 2211.5h0M1334.7 2280.6h0M1968.8 2303.6h0" fill="none" stroke="#e0506e" stroke-width="3.7" stroke-linecap="round"/><path d="M1855.6 2027.4h0" fill="none" stroke="#1a1020" stroke-width="5.1" stroke-linecap="round"/><path d="M1855.6 2027.4h0" fill="none" stroke="#2c1f6e" stroke-width="3.7" stroke-linecap="round"/><path d="M1266.8 1705.1h0M1289.4 1705.1h0M1357.4 1705.1h0M1561.2 1705.1h0M1629.1 1705.1h0M1651.7 1705.1h0M1674.4 1705.1h0M1697 1705.1h0M1742.3 1705.1h0M1787.6 1705.1h0M1810.3 1705.1h0M2059.4 1705.1h0M2082 1705.1h0M1312.1 1728.1h0M1334.7 1728.1h0M1447.9 1728.1h0M1674.4 1728.1h0M1765 1728.1h0M1968.8 1728.1h0M2059.4 1728.1h0M1312.1 1751.1h0M1674.4 1751.1h0M1719.7 1751.1h0M1968.8 1751.1h0M1991.4 1751.1h0M2036.7 1751.1h0M2059.4 1751.1h0M1198.8 1774.2h0M1312.1 1774.2h0M1697 1774.2h0M1719.7 1774.2h0M1742.3 1774.2h0M1810.3 1774.2h0M1878.2 1774.2h0M1968.8 1774.2h0M1991.4 1774.2h0M2059.4 1774.2h0M1289.4 1797.2h0M1334.7 1797.2h0M1357.4 1797.2h0M1380 1797.2h0M1447.9 1797.2h0M1674.4 1797.2h0M1855.6 1797.2h0M2036.7 1797.2h0M2059.4 1797.2h0M1221.5 1820.2h0M1289.4 1820.2h0M1312.1 1820.2h0M1380 1820.2h0M1538.5 1820.2h0M1674.4 1820.2h0M1810.3 1820.2h0M1855.6 1820.2h0M1968.8 1820.2h0M1991.4 1820.2h0M2036.7 1820.2h0M2059.4 1820.2h0M1221.5 1843.2h0M1312.1 1843.2h0M1515.9 1843.2h0M1697 1843.2h0M1832.9 1843.2h0M1991.4 1843.2h0M2014.1 1843.2h0M2082 1843.2h0M1447.9 1866.2h0M1991.4 1866.2h0M1312.1 1889.3h0M1493.2 1889.3h0M1561.2 1889.3h0M1946.1 1889.3h0M1968.8 1889.3h0M1991.4 1889.3h0M2059.4 1889.3h0M2082 1889.3h0M1515.9 1912.3h0M1787.6 1912.3h0M1968.8 1912.3h0M2059.4 1912.3h0M2104.6 1912.3h0M1991.4 1935.3h0M1312.1 1958.3h0M1583.8 1958.3h0M2104.6 1981.3h0" fill="none" stroke="#aaa" stroke-width="1.8" stroke-linecap="round"/><path d="M1402.7 1705.1h0M1425.3 1705.1h0M1470.6 1705.1h0M1583.8 1705.1h0M1878.2 1705.1h0M2104.6 1705.1h0M1787.6 1728.1h0M1855.6 1728.1h0M2082 1728.1h0M1447.9 1751.1h0M1742.3 1751.1h0M1855.6 1751.1h0M2082 1751.1h0M1289.4 1774.2h0M1787.6 1774.2h0M2036.7 1774.2h0M2082 1774.2h0M1402.7 1797.2h0M1538.5 1797.2h0M1719.7 1797.2h0M1787.6 1797.2h0M1968.8 1797.2h0M1991.4 1797.2h0M2082 1797.2h0M1719.7 1820.2h0M2082 1820.2h0M1198.8 1843.2h0M1380 1843.2h0M1447.9 1843.2h0M1538.5 1843.2h0M1674.4 1843.2h0M1719.7 1843.2h0M1765 1843.2h0M1855.6 1843.2h0M1923.5 1843.2h0M1968.8 1843.2h0M2036.7 1843.2h0M1289.4 1866.2h0M1878.2 1866.2h0M2059.4 1866.2h0M2082 1866.2h0M1289.4 1889.3h0M1425.3 1889.3h0M1538.5 1889.3h0M1674.4 1889.3h0M1787.6 1889.3h0M2104.6 1889.3h0M1425.3 1912.3h0M1629.1 1912.3h0M1855.6 1912.3h0M2036.7 1912.3h0M1878.2 1935.3h0M1968.8 1935.3h0M2014.1 1935.3h0M1176.2 1958.3h0M1334.7 1958.3h0M1561.2 1958.3h0M1651.7 1958.3h0M1447.9 1981.3h0M1538.5 1981.3h0M1697 1981.3h0M1742.3 1981.3h0M1810.3 1981.3h0M1878.2 1981.3h0M1946.1 1981.3h0M2014.1 1981.3h0M2059.4 1981.3h0M2082 1981.3h0M1674.4 2004.4h0M1697 2004.4h0M1787.6 2004.4h0M2036.7 2004.4h0M2059.4 2004.4h0M2082 2004.4h0M1198.8 2027.4h0M1266.8 2027.4h0M1402.7 2027.4h0M1493.2 2027.4h0M2104.6 2027.4h0M1674.4 2050.4h0M1719.7 2050.4h0M1765 2050.4h0M1968.8 2050.4h0M1380 2073.4h0M1447.9 2073.4h0M1674.4 2073.4h0M1787.6 2073.4h0M1855.6 2073.4h0M2082 2073.4h0M1787.6 2096.4h0M1855.6 2096.4h0M1968.8 2096.4h0M2104.6 2096.4h0M1357.4 2119.5h0M1380 2119.5h0M1402.7 2119.5h0M1493.2 2119.5h0M1719.7 2119.5h0M1742.3 2119.5h0M1334.7 2142.5h0M1470.6 2142.5h0M1538.5 2142.5h0M1674.4 2142.5h0M1810.3 2142.5h0M1923.5 2142.5h0M1946.1 2142.5h0M2082 2142.5h0M1674.4 2165.5h0M1719.7 2165.5h0M1991.4 2165.5h0M2104.6 2165.5h0M1583.8 2188.5h0M1968.8 2188.5h0M2104.6 2188.5h0M1447.9 2211.5h0M1787.6 2211.5h0M2036.7 2211.5h0M1583.8 2257.6h0M1946.1 2257.6h0M2036.7 2280.6h0M1946.1 2303.6h0" fill="none" stroke="#000" stroke-width="1.8" stroke-linecap="round"/><path d="M1425.3 1981.3h0M1719.7 2004.4h0M1878.2 2119.5h0M1402.7 2257.6h0M1470.6 2257.6h0M2059.4 2257.6h0M2104.6 2257.6h0M1538.5 2280.6h0M1674.4 2280.6h0M1719.7 2280.6h0" fill="none" stroke="#bf417e" stroke-width="1.8" stroke-linecap="round"/><text transform="translate(1146.2 1712.1) scale(1.08 1)" font-size="19.4" text-anchor="end" fill="#1a1a1a">0</text><text transform="translate(1146.2 1735.1) scale(1.08 1)" font-size="19.4" text-anchor="end" fill="#1a1a1a">1</text><text transform="translate(1146.2 1758.1) scale(1.08 1)" font-size="19.4" text-anchor="end" fill="#1a1a1a">2</text><text transform="translate(1146.2 1781.2) scale(1.08 1)" font-size="19.4" text-anchor="end" fill="#1a1a1a">3</text><text transform="translate(1146.2 1804.2) scale(1.08 1)" font-size="19.4" text-anchor="end" fill="#1a1a1a">4</text><text transform="translate(1146.2 1827.2) scale(1.08 1)" font-size="19.4" text-anchor="end" fill="#1a1a1a">5</text><text transform="translate(1146.2 1850.2) scale(1.08 1)" font-size="19.4" text-anchor="end" fill="#1a1a1a">6</text><text transform="translate(1146.2 1873.2) scale(1.08 1)" font-size="19.4" text-anchor="end" fill="#1a1a1a">7</text><text transform="translate(1146.2 1896.3) scale(1.08 1)" font-size="19.4" text-anchor="end" fill="#1a1a1a">8</text><text transform="translate(1146.2 1919.3) scale(1.08 1)" font-size="19.4" text-anchor="end" fill="#1a1a1a">9</text><text transform="translate(1146.2 1942.3) scale(1.08 1)" font-size="19.4" text-anchor="end" fill="#1a1a1a">10a</text><text transform="translate(1146.2 1965.3) scale(1.08 1)" font-size="19.4" text-anchor="end" fill="#1a1a1a">10b</text><text transform="translate(1146.2 1988.3) scale(1.08 1)" font-size="19.4" text-anchor="end" fill="#1a1a1a">11</text><text transform="translate(1146.2 2011.4) scale(1.08 1)" font-size="19.4" text-anchor="end" fill="#1a1a1a">12</text><text transform="translate(1146.2 2034.4) scale(1.08 1)" font-size="19.4" text-anchor="end" fill="#1a1a1a">13</text><text transform="translate(1146.2 2057.4) scale(1.08 1)" font-size="19.4" text-anchor="end" fill="#1a1a1a">14</text><text transform="translate(1146.2 2080.4) scale(1.08 1)" font-size="19.4" text-anchor="end" fill="#1a1a1a">15</text><text transform="translate(1146.2 2103.4) scale(1.08 1)" font-size="19.4" text-anchor="end" fill="#1a1a1a">16</text><text transform="translate(1146.2 2126.5) scale(1.08 1)" font-size="19.4" text-anchor="end" fill="#1a1a1a">17</text><text transform="translate(1146.2 2149.5) scale(1.08 1)" font-size="19.4" text-anchor="end" fill="#1a1a1a">18</text><text transform="translate(1146.2 2172.5) scale(1.08 1)" font-size="19.4" text-anchor="end" fill="#1a1a1a">19</text><text transform="translate(1146.2 2195.5) scale(1.08 1)" font-size="19.4" text-anchor="end" fill="#1a1a1a">20</text><text transform="translate(1146.2 2218.5) scale(1.08 1)" font-size="19.4" text-anchor="end" fill="#1a1a1a">21</text><text transform="translate(1146.2 2241.6) scale(1.08 1)" font-size="19.4" text-anchor="end" fill="#1a1a1a">22</text><text transform="translate(1146.2 2264.6) scale(1.08 1)" font-size="19.4" text-anchor="end" fill="#1a1a1a">23</text><text transform="translate(1146.2 2287.6) scale(1.08 1)" font-size="19.4" text-anchor="end" fill="#1a1a1a">24</text><text transform="translate(1146.2 2310.6) scale(1.08 1)" font-size="19.4" text-anchor="end" fill="#1a1a1a">25</text><text transform="translate(1183.4 2337) rotate(-90) scale(1.08 1)" font-size="20" text-anchor="end" font-style="italic" fill="#1a1a1a">Il2rb</text><text transform="translate(1206 2337) rotate(-90) scale(1.08 1)" font-size="20" text-anchor="end" font-style="italic" fill="#1a1a1a">Fcer1g</text><text transform="translate(1228.7 2337) rotate(-90) scale(1.08 1)" font-size="20" text-anchor="end" font-style="italic" fill="#1a1a1a">Gzma</text><text transform="translate(1251.3 2337) rotate(-90) scale(1.08 1)" font-size="20" text-anchor="end" font-style="italic" fill="#1a1a1a">Fgl2</text><text transform="translate(1274 2337) rotate(-90) scale(1.08 1)" font-size="20" text-anchor="end" font-style="italic" fill="#1a1a1a">Cd8a</text><text transform="translate(1296.6 2337) rotate(-90) scale(1.08 1)" font-size="20" text-anchor="end" font-style="italic" fill="#1a1a1a">Cd8b1</text><text transform="translate(1319.3 2337) rotate(-90) scale(1.08 1)" font-size="20" text-anchor="end" font-style="italic" fill="#1a1a1a">Sell</text><text transform="translate(1341.9 2337) rotate(-90) scale(1.08 1)" font-size="20" text-anchor="end" font-style="italic" fill="#1a1a1a">Cd4</text><text transform="translate(1364.6 2337) rotate(-90) scale(1.08 1)" font-size="20" text-anchor="end" font-style="italic" fill="#1a1a1a">Tcf7</text><text transform="translate(1387.2 2337) rotate(-90) scale(1.08 1)" font-size="20" text-anchor="end" font-style="italic" fill="#1a1a1a">Icos</text><text transform="translate(1409.9 2337) rotate(-90) scale(1.08 1)" font-size="20" text-anchor="end" font-style="italic" fill="#1a1a1a">Lef1</text><text transform="translate(1432.5 2337) rotate(-90) scale(1.08 1)" font-size="20" text-anchor="end" font-style="italic" fill="#1a1a1a">Tbx21</text><text transform="translate(1455.1 2337) rotate(-90) scale(1.08 1)" font-size="20" text-anchor="end" font-style="italic" fill="#1a1a1a">Slamf6</text><text transform="translate(1477.8 2337) rotate(-90) scale(1.08 1)" font-size="20" text-anchor="end" font-style="italic" fill="#1a1a1a">Jaml</text><text transform="translate(1500.4 2337) rotate(-90) scale(1.08 1)" font-size="20" text-anchor="end" font-style="italic" fill="#1a1a1a">Itgae</text><text transform="translate(1523.1 2337) rotate(-90) scale(1.08 1)" font-size="20" text-anchor="end" font-style="italic" fill="#1a1a1a">Ccl5</text><text transform="translate(1545.7 2337) rotate(-90) scale(1.08 1)" font-size="20" text-anchor="end" font-style="italic" fill="#1a1a1a">Ifng</text><text transform="translate(1568.4 2337) rotate(-90) scale(1.08 1)" font-size="20" text-anchor="end" font-style="italic" fill="#1a1a1a">Airn</text><text transform="translate(1591 2337) rotate(-90) scale(1.08 1)" font-size="20" text-anchor="end" font-style="italic" fill="#1a1a1a">Atxn1</text><text transform="translate(1613.7 2337) rotate(-90) scale(1.08 1)" font-size="20" text-anchor="end" font-style="italic" fill="#1a1a1a">Lncpint</text><text transform="translate(1636.3 2337) rotate(-90) scale(1.08 1)" font-size="20" text-anchor="end" font-style="italic" fill="#1a1a1a">Atp8a2</text><text transform="translate(1658.9 2337) rotate(-90) scale(1.08 1)" font-size="20" text-anchor="end" font-style="italic" fill="#1a1a1a">Btbd11</text><text transform="translate(1681.6 2337) rotate(-90) scale(1.08 1)" font-size="20" text-anchor="end" font-style="italic" fill="#1a1a1a">Ifitm2</text><text transform="translate(1704.2 2337) rotate(-90) scale(1.08 1)" font-size="20" text-anchor="end" font-style="italic" fill="#1a1a1a">Klrb1a</text><text transform="translate(1726.9 2337) rotate(-90) scale(1.08 1)" font-size="20" text-anchor="end" font-style="italic" fill="#1a1a1a">Klrk1</text><text transform="translate(1749.5 2337) rotate(-90) scale(1.08 1)" font-size="20" text-anchor="end" font-style="italic" fill="#1a1a1a">Klre1</text><text transform="translate(1772.2 2337) rotate(-90) scale(1.08 1)" font-size="20" text-anchor="end" font-style="italic" fill="#1a1a1a">Ncr1</text><text transform="translate(1794.8 2337) rotate(-90) scale(1.08 1)" font-size="20" text-anchor="end" font-style="italic" fill="#1a1a1a">Cd68</text><text transform="translate(1817.5 2337) rotate(-90) scale(1.08 1)" font-size="20" text-anchor="end" font-style="italic" fill="#1a1a1a">Siglech</text><text transform="translate(1840.1 2337) rotate(-90) scale(1.08 1)" font-size="20" text-anchor="end" font-style="italic" fill="#1a1a1a">Bst2</text><text transform="translate(1862.8 2337) rotate(-90) scale(1.08 1)" font-size="20" text-anchor="end" font-style="italic" fill="#1a1a1a">Irf4</text><text transform="translate(1885.4 2337) rotate(-90) scale(1.08 1)" font-size="20" text-anchor="end" font-style="italic" fill="#1a1a1a">Sdc1</text><text transform="translate(1908 2337) rotate(-90) scale(1.08 1)" font-size="20" text-anchor="end" font-style="italic" fill="#1a1a1a">Xbp1</text><text transform="translate(1930.7 2337) rotate(-90) scale(1.08 1)" font-size="20" text-anchor="end" font-style="italic" fill="#1a1a1a">Bcl6</text><text transform="translate(1953.3 2337) rotate(-90) scale(1.08 1)" font-size="20" text-anchor="end" font-style="italic" fill="#1a1a1a">Rgs13</text><text transform="translate(1976 2337) rotate(-90) scale(1.08 1)" font-size="20" text-anchor="end" font-style="italic" fill="#1a1a1a">Igha</text><text transform="translate(1998.6 2337) rotate(-90) scale(1.08 1)" font-size="20" text-anchor="end" font-style="italic" fill="#1a1a1a">Ciita</text><text transform="translate(2021.3 2337) rotate(-90) scale(1.08 1)" font-size="20" text-anchor="end" font-style="italic" fill="#1a1a1a">Cd79a</text><text transform="translate(2043.9 2337) rotate(-90) scale(1.08 1)" font-size="20" text-anchor="end" font-style="italic" fill="#1a1a1a">Cxcr5</text><text transform="translate(2066.6 2337) rotate(-90) scale(1.08 1)" font-size="20" text-anchor="end" font-style="italic" fill="#1a1a1a">Birc5</text><text transform="translate(2089.2 2337) rotate(-90) scale(1.08 1)" font-size="20" text-anchor="end" font-style="italic" fill="#1a1a1a">Cdk1</text><text transform="translate(2111.8 2337) rotate(-90) scale(1.08 1)" font-size="20" text-anchor="end" font-style="italic" fill="#1a1a1a">Top2a</text><path d="M1157.9 1705.1h-5.5M1157.9 1728.1h-5.5M1157.9 1751.1h-5.5M1157.9 1774.2h-5.5M1157.9 1797.2h-5.5M1157.9 1820.2h-5.5M1157.9 1843.2h-5.5M1157.9 1866.2h-5.5M1157.9 1889.3h-5.5M1157.9 1912.3h-5.5M1157.9 1935.3h-5.5M1157.9 1958.3h-5.5M1157.9 1981.3h-5.5M1157.9 2004.4h-5.5M1157.9 2027.4h-5.5M1157.9 2050.4h-5.5M1157.9 2073.4h-5.5M1157.9 2096.4h-5.5M1157.9 2119.5h-5.5M1157.9 2142.5h-5.5M1157.9 2165.5h-5.5M1157.9 2188.5h-5.5M1157.9 2211.5h-5.5M1157.9 2234.6h-5.5M1157.9 2257.6h-5.5M1157.9 2280.6h-5.5M1157.9 2303.6h-5.5M1176.2 2326.9v5.5M1198.8 2326.9v5.5M1221.5 2326.9v5.5M1244.1 2326.9v5.5M1266.8 2326.9v5.5M1289.4 2326.9v5.5M1312.1 2326.9v5.5M1334.7 2326.9v5.5M1357.4 2326.9v5.5M1380 2326.9v5.5M1402.7 2326.9v5.5M1425.3 2326.9v5.5M1447.9 2326.9v5.5M1470.6 2326.9v5.5M1493.2 2326.9v5.5M1515.9 2326.9v5.5M1538.5 2326.9v5.5M1561.2 2326.9v5.5M1583.8 2326.9v5.5M1606.5 2326.9v5.5M1629.1 2326.9v5.5M1651.7 2326.9v5.5M1674.4 2326.9v5.5M1697 2326.9v5.5M1719.7 2326.9v5.5M1742.3 2326.9v5.5M1765 2326.9v5.5M1787.6 2326.9v5.5M1810.3 2326.9v5.5M1832.9 2326.9v5.5M1855.6 2326.9v5.5M1878.2 2326.9v5.5M1900.8 2326.9v5.5M1923.5 2326.9v5.5M1946.1 2326.9v5.5M1968.8 2326.9v5.5M1991.4 2326.9v5.5M2014.1 2326.9v5.5M2036.7 2326.9v5.5M2059.4 2326.9v5.5M2082 2326.9v5.5M2104.6 2326.9v5.5" fill="none" stroke="#333" stroke-width="1.1"/><text transform="translate(1106.9 2004) rotate(-90) scale(1.08 1)" font-size="19.6" text-anchor="middle" fill="#1a1a1a">Leiden Cluster</text><text transform="translate(2219.7 1948) scale(1.08 1)" font-size="19" text-anchor="middle">Fraction of cells</text><text transform="translate(2219.7 1972.8) scale(1.08 1)" font-size="19" text-anchor="middle">in group (%)</text><circle cx="2164.9" cy="2013.3" r="3.6" fill="#8c8c8c" stroke="#444" stroke-width="0.8"/><line x1="2164.9" y1="2037.4" x2="2164.9" y2="2042.8" stroke="#333" stroke-width="1"/><text transform="translate(2171.4 2049.5) rotate(-45) scale(1.08 1)" font-size="19" text-anchor="end" fill="#1a1a1a">20</text><circle cx="2192.1" cy="2013.3" r="6.1" fill="#8c8c8c" stroke="#444" stroke-width="0.8"/><line x1="2192.1" y1="2037.4" x2="2192.1" y2="2042.8" stroke="#333" stroke-width="1"/><text transform="translate(2198.6 2049.5) rotate(-45) scale(1.08 1)" font-size="19" text-anchor="end" fill="#1a1a1a">40</text><circle cx="2219.4" cy="2013.3" r="8.3" fill="#8c8c8c" stroke="#444" stroke-width="0.8"/><line x1="2219.4" y1="2037.4" x2="2219.4" y2="2042.8" stroke="#333" stroke-width="1"/><text transform="translate(2225.9 2049.5) rotate(-45) scale(1.08 1)" font-size="19" text-anchor="end" fill="#1a1a1a">60</text><circle cx="2246.6" cy="2013.3" r="10.3" fill="#8c8c8c" stroke="#444" stroke-width="0.8"/><line x1="2246.6" y1="2037.4" x2="2246.6" y2="2042.8" stroke="#333" stroke-width="1"/><text transform="translate(2253.1 2049.5) rotate(-45) scale(1.08 1)" font-size="19" text-anchor="end" fill="#1a1a1a">80</text><circle cx="2274.2" cy="2013.3" r="12.2" fill="#8c8c8c" stroke="#444" stroke-width="0.8"/><line x1="2274.2" y1="2037.4" x2="2274.2" y2="2042.8" stroke="#333" stroke-width="1"/><text transform="translate(2280.7 2049.5) rotate(-45) scale(1.08 1)" font-size="19" text-anchor="end" fill="#1a1a1a">100</text><text transform="translate(2221.4 2248.6) scale(1.08 1)" font-size="19" text-anchor="middle">Mean expression</text><text transform="translate(2221.4 2273.5) scale(1.08 1)" font-size="19" text-anchor="middle">in group</text><rect x="2155.4" y="2282" width="138.1" height="12.9" fill="url(#mg)" stroke="#333" stroke-width="0.8"/><line x1="2155.4" y1="2295" x2="2155.4" y2="2300" stroke="#333" stroke-width="1"/><text transform="translate(2152.4 2321) scale(1.08 1)" font-size="20" text-anchor="middle">-1</text><line x1="2224.4" y1="2295" x2="2224.4" y2="2300" stroke="#333" stroke-width="1"/><text transform="translate(2224.4 2321) scale(1.08 1)" font-size="20" text-anchor="middle">0</text><line x1="2293.5" y1="2295" x2="2293.5" y2="2300" stroke="#333" stroke-width="1"/><text transform="translate(2293.5 2321) scale(1.08 1)" font-size="20" text-anchor="middle">1</text></g><g id="panel_K"><path d="M118.2 2178C118.1 2187.6 118 2219.6 117.7 2235.6C117.3 2251.6 116.9 2263.2 116.1 2274C115.2 2284.8 113.7 2291.8 112.8 2300.7C111.9 2309.6 110.8 2320.4 110.6 2327.3C110.4 2334.2 111.3 2337.5 111.8 2342C112.3 2346.5 113.2 2352.1 113.7 2354.5C114.2 2357 114.7 2356.3 114.9 2356.7L121.9 2356.7C122.1 2356.3 122.6 2357 123.1 2354.5C123.6 2352.1 124.5 2346.5 125 2342C125.5 2337.5 126.4 2334.2 126.2 2327.3C126 2320.4 124.9 2309.6 124 2300.7C123.1 2291.8 121.6 2284.8 120.7 2274C119.9 2263.2 119.5 2251.6 119.2 2235.6C118.8 2219.6 118.7 2187.6 118.7 2178Z" fill="#1b3a82" stroke="#2a2a2a" stroke-width="0.8"/><path d="M137 2140.7C137 2149.2 136.9 2177.6 136.5 2191.9C136.2 2206.1 135.8 2217.2 135 2226C134.1 2234.8 132.6 2238.4 131.7 2244.7C130.8 2250.9 129.4 2256.5 129.5 2263.3C129.6 2270.2 131.7 2278.3 132.5 2285.7C133.2 2293.2 133.9 2300.5 134 2308.1C134.2 2315.8 133.4 2326.6 133.4 2331.6C133.4 2336.6 134 2336.9 134.2 2338L140.4 2338C140.5 2336.9 141.2 2336.6 141.2 2331.6C141.2 2326.6 140.4 2315.8 140.6 2308.1C140.7 2300.5 141.4 2293.2 142.1 2285.7C142.9 2278.3 145 2270.2 145.1 2263.3C145.2 2256.5 143.8 2250.9 142.9 2244.7C142 2238.4 140.4 2234.8 139.6 2226C138.8 2217.2 138.4 2206.1 138 2191.9C137.7 2177.6 137.6 2149.2 137.5 2140.7Z" fill="#7b88c2" stroke="#2a2a2a" stroke-width="0.8"/><path d="M155.9 2141.7C155.9 2149.6 155.8 2175.9 155.4 2189.1C155.1 2202.2 154.7 2212.5 153.8 2220.7C153 2228.8 151.5 2232.2 150.6 2238C149.7 2243.8 148.3 2249.7 148.4 2255.3C148.5 2261 150.6 2266.3 151.3 2271.8C152.1 2277.3 152.8 2283 152.9 2288.3C153.1 2293.6 152.3 2300.2 152.3 2303.9C152.3 2307.5 152.9 2309.2 153.1 2310.3L159.3 2310.3C159.4 2309.2 160.1 2307.5 160.1 2303.9C160.1 2300.2 159.3 2293.6 159.5 2288.3C159.6 2283 160.3 2277.3 161 2271.8C161.8 2266.3 163.9 2261 164 2255.3C164.1 2249.7 162.7 2243.8 161.8 2238C160.9 2232.2 159.3 2228.8 158.5 2220.7C157.7 2212.5 157.3 2202.2 156.9 2189.1C156.6 2175.9 156.5 2149.6 156.4 2141.7Z" fill="#b9bde0" stroke="#2a2a2a" stroke-width="0.8"/><path d="M174.8 2138C174.7 2145.7 174.7 2171.5 174.3 2184.4C174 2197.3 173.5 2207.5 172.7 2215.3C171.9 2223.2 170.4 2226 169.5 2231.3C168.6 2236.7 167.1 2239.7 167.3 2247.3C167.4 2254.9 169.5 2267.1 170.2 2276.9C171 2286.8 171.6 2296.1 171.8 2306.5C172 2317 171.2 2333 171.2 2339.6C171.2 2346.2 171.8 2344.9 172 2346L178.2 2346C178.3 2344.9 179 2346.2 179 2339.6C179 2333 178.2 2317 178.4 2306.5C178.5 2296.1 179.2 2286.8 179.9 2276.9C180.7 2267.1 182.7 2254.9 182.9 2247.3C183 2239.7 181.6 2236.7 180.7 2231.3C179.8 2226 178.2 2223.2 177.4 2215.3C176.6 2207.5 176.2 2197.3 175.8 2184.4C175.5 2171.5 175.4 2145.7 175.3 2138Z" fill="#d1b1b9" stroke="#2a2a2a" stroke-width="0.8"/><path d="M193.7 2140.7C193.6 2149.5 193.6 2178.8 193.2 2193.5C192.9 2208.1 192.4 2219.9 191.6 2228.7C190.8 2237.4 189.3 2240.2 188.4 2246C187.4 2251.8 186.3 2257.1 186.2 2263.3C186 2269.6 186.8 2277 187.3 2283.3C187.9 2289.6 188.8 2297.9 189.3 2301.2C189.8 2304.5 190.3 2303 190.5 2303.3L197.5 2303.3C197.7 2303 198.1 2304.5 198.6 2301.2C199.2 2297.9 200.1 2289.6 200.6 2283.3C201.1 2277 201.9 2269.6 201.8 2263.3C201.6 2257.1 200.5 2251.8 199.6 2246C198.7 2240.2 197.1 2237.4 196.3 2228.7C195.5 2219.9 195.1 2208.1 194.7 2193.5C194.4 2178.8 194.3 2149.5 194.2 2140.7Z" fill="#c17083" stroke="#2a2a2a" stroke-width="0.8"/><path d="M212.6 2128.4C212.5 2137.9 212.5 2169.5 212.1 2185.4C211.8 2201.2 211.3 2214.3 210.5 2223.3C209.7 2232.3 208.2 2234 207.2 2239.3C206.3 2244.7 204.9 2250.1 205.1 2255.3C205.2 2260.6 207.3 2265.8 208 2271C208.8 2276.2 209.4 2281.7 209.6 2286.7C209.7 2291.7 208.9 2297.7 209 2301.2C209 2304.7 209.6 2306.5 209.7 2307.6L216 2307.6C216.1 2306.5 216.7 2304.7 216.8 2301.2C216.8 2297.7 216 2291.7 216.1 2286.7C216.3 2281.7 216.9 2276.2 217.7 2271C218.5 2265.8 220.5 2260.6 220.7 2255.3C220.8 2250.1 219.4 2244.7 218.5 2239.3C217.6 2234 216 2232.3 215.2 2223.3C214.4 2214.3 214 2201.2 213.6 2185.4C213.3 2169.5 213.2 2137.9 213.1 2128.4Z" fill="#8b1a3a" stroke="#2a2a2a" stroke-width="0.8"/><path d="M231.5 2138C231.4 2145.7 231.4 2171.5 231 2184.4C230.7 2197.3 230.2 2206.8 229.4 2215.3C228.6 2223.8 227 2228.7 226.1 2235.3C225.2 2242 223.8 2246.9 224 2255.3C224.1 2263.7 226.2 2275.6 226.9 2285.7C227.7 2295.9 228.3 2305.4 228.5 2316.1C228.6 2326.9 227.8 2343.5 227.9 2350.3C227.9 2357 228.5 2355.6 228.6 2356.7L234.9 2356.7C235 2355.6 235.6 2357 235.7 2350.3C235.7 2343.5 234.9 2326.9 235 2316.1C235.2 2305.4 235.8 2295.9 236.6 2285.7C237.3 2275.6 239.4 2263.7 239.6 2255.3C239.7 2246.9 238.3 2242 237.4 2235.3C236.5 2228.7 234.9 2223.8 234.1 2215.3C233.3 2206.8 232.9 2197.3 232.5 2184.4C232.2 2171.5 232.1 2145.7 232 2138Z" fill="#4668b8" stroke="#2a2a2a" stroke-width="0.8"/><path d="M250.4 2126.3C250.3 2134.4 250.2 2161.4 249.9 2174.9C249.5 2188.4 249.1 2199.3 248.3 2207.3C247.5 2215.4 245.9 2218 245 2223.3C244.1 2228.7 242.7 2232.9 242.8 2239.3C243 2245.8 245.1 2254.5 245.8 2262.1C246.6 2269.6 247.2 2277 247.4 2284.8C247.5 2292.5 246.7 2303.6 246.7 2308.7C246.8 2313.7 247.4 2314 247.5 2315.1L253.8 2315.1C253.9 2314 254.5 2313.7 254.5 2308.7C254.6 2303.6 253.8 2292.5 253.9 2284.8C254.1 2277 254.7 2269.6 255.5 2262.1C256.2 2254.5 258.3 2245.8 258.4 2239.3C258.6 2232.9 257.2 2228.7 256.3 2223.3C255.4 2218 253.8 2215.4 253 2207.3C252.2 2199.3 251.7 2188.4 251.4 2174.9C251 2161.4 251 2134.4 250.9 2126.3Z" fill="#8093d0" stroke="#2a2a2a" stroke-width="0.8"/><path d="M269.3 2236.7C269.2 2241.5 269.1 2257.5 268.8 2265.5C268.4 2273.5 268 2278.1 267.2 2284.7C266.4 2291.2 264.8 2298 263.9 2304.7C263 2311.3 261.9 2318.9 261.7 2324.7C261.6 2330.4 262.4 2334.8 262.9 2339.3C263.4 2343.9 264.3 2349.4 264.9 2351.9C265.4 2354.3 265.8 2353.6 266 2354L273 2354C273.2 2353.6 273.7 2354.3 274.2 2351.9C274.7 2349.4 275.6 2343.9 276.2 2339.3C276.7 2334.8 277.5 2330.4 277.3 2324.7C277.2 2318.9 276.1 2311.3 275.2 2304.7C274.2 2298 272.7 2291.2 271.9 2284.7C271.1 2278.1 270.6 2273.5 270.3 2265.5C269.9 2257.5 269.9 2241.5 269.8 2236.7Z" fill="#b0b8e6" stroke="#2a2a2a" stroke-width="0.8"/><path d="M288.2 2203.6C288.1 2212.8 288 2243.4 287.7 2258.6C287.3 2273.9 286.9 2286.3 286.1 2295.3C285.3 2304.3 283.7 2306.9 282.8 2312.7C281.9 2318.4 280.8 2325.1 280.6 2330C280.5 2334.9 281.3 2338.4 281.8 2342C282.3 2345.6 283.2 2349.9 283.8 2351.9C284.3 2353.9 284.7 2353.6 284.9 2354L291.9 2354C292.1 2353.6 292.6 2353.9 293.1 2351.9C293.6 2349.9 294.5 2345.6 295.1 2342C295.6 2338.4 296.4 2334.9 296.2 2330C296.1 2325.1 295 2318.4 294 2312.7C293.1 2306.9 291.6 2304.3 290.8 2295.3C290 2286.3 289.5 2273.9 289.2 2258.6C288.8 2243.4 288.8 2212.8 288.7 2203.6Z" fill="#e8a9b9" stroke="#2a2a2a" stroke-width="0.8"/><path d="M307.1 2112.4C307 2121.1 306.9 2150.1 306.6 2164.6C306.2 2179 305.8 2189.3 305 2199.3C304.2 2209.4 302.6 2216.2 301.7 2224.7C300.8 2233.1 299.4 2241.4 299.5 2250C299.7 2258.6 301.7 2267.6 302.5 2276.4C303.2 2285.2 303.9 2293.6 304 2302.8C304.2 2312 303.4 2325.7 303.4 2331.6C303.4 2337.5 304.1 2336.9 304.2 2338L310.4 2338C310.6 2336.9 311.2 2337.5 311.2 2331.6C311.2 2325.7 310.4 2312 310.6 2302.8C310.8 2293.6 311.4 2285.2 312.2 2276.4C312.9 2267.6 315 2258.6 315.1 2250C315.3 2241.4 313.8 2233.1 312.9 2224.7C312 2216.2 310.5 2209.4 309.7 2199.3C308.9 2189.3 308.4 2179 308.1 2164.6C307.7 2150.1 307.7 2121.1 307.6 2112.4Z" fill="#e0788f" stroke="#2a2a2a" stroke-width="0.8"/><path d="M325.7 2170C325.6 2176.7 325.7 2198.9 325.4 2210C325.1 2221.1 324.7 2226.9 323.9 2236.7C323.1 2246.4 321.5 2258 320.6 2268.7C319.7 2279.3 318.6 2292.4 318.4 2300.7C318.2 2308.9 319.1 2312.6 319.6 2318C320.1 2323.4 321 2330.3 321.5 2333.2C322.1 2336.1 322.5 2335 322.7 2335.3L329.7 2335.3C329.9 2335 330.4 2336.1 330.9 2333.2C331.4 2330.3 332.3 2323.4 332.8 2318C333.4 2312.6 334.2 2308.9 334 2300.7C333.8 2292.4 332.7 2279.3 331.8 2268.7C330.9 2258 329.4 2246.4 328.6 2236.7C327.8 2226.9 327.3 2221.1 327 2210C326.7 2198.9 326.8 2176.7 326.7 2170Z" fill="#d83a68" stroke="#2a2a2a" stroke-width="0.8"/><path d="M342.4 2132.7C342.4 2135.1 342.1 2143.1 342.1 2147.1C342.2 2151.1 343.2 2146.2 342.8 2156.7C342.3 2167.2 340.4 2192.2 339.5 2210C338.6 2227.8 337.2 2250.8 337.3 2263.3C337.4 2275.8 339.5 2277.7 340.3 2284.9C341 2292.1 341.7 2299.2 341.8 2306.5C342 2313.9 341.2 2324.1 341.2 2328.9C341.2 2333.7 341.9 2334.3 342 2335.3L348.2 2335.3C348.4 2334.3 349 2333.7 349 2328.9C349 2324.1 348.2 2313.9 348.4 2306.5C348.5 2299.2 349.2 2292.1 349.9 2284.9C350.7 2277.7 352.8 2275.8 352.9 2263.3C353 2250.8 351.6 2227.8 350.7 2210C349.8 2192.2 347.9 2167.2 347.4 2156.7C347 2146.2 348 2151.1 348.1 2147.1C348.1 2143.1 347.8 2135.1 347.8 2132.7Z" fill="#3bb045" stroke="#2a2a2a" stroke-width="0.8"/><path d="M363.8 2166.3C363.7 2170.1 363.6 2182.9 363.2 2189.3C362.9 2195.7 362.5 2197.9 361.7 2204.7C360.8 2211.4 359.3 2221.6 358.4 2230C357.5 2238.4 356.1 2246.1 356.2 2255.3C356.3 2264.5 358.4 2275.3 359.2 2285.3C359.9 2295.2 360.6 2304.6 360.7 2315.2C360.9 2325.7 360.1 2342 360.1 2348.7C360.1 2355.3 360.8 2354 360.9 2355.1L367.1 2355.1C367.2 2354 367.9 2355.3 367.9 2348.7C367.9 2342 367.1 2325.7 367.3 2315.2C367.4 2304.6 368.1 2295.2 368.8 2285.3C369.6 2275.3 371.7 2264.5 371.8 2255.3C371.9 2246.1 370.5 2238.4 369.6 2230C368.7 2221.6 367.2 2211.4 366.3 2204.7C365.5 2197.9 365.1 2195.7 364.8 2189.3C364.4 2182.9 364.3 2170.1 364.2 2166.3Z" fill="#8fcc90" stroke="#2a2a2a" stroke-width="0.8"/><path d="M382.6 2232.4C382.6 2237.1 382.5 2252.7 382.1 2260.6C381.8 2268.4 381.4 2273.1 380.6 2279.3C379.7 2285.6 378.2 2291.8 377.3 2298C376.4 2304.2 375.3 2310.9 375.1 2316.7C374.9 2322.4 375.7 2327.7 376.3 2332.7C376.8 2337.6 377.7 2343.9 378.2 2346.5C378.7 2349.2 379.2 2348.3 379.4 2348.7L386.4 2348.7C386.6 2348.3 387.1 2349.2 387.6 2346.5C388.1 2343.9 389 2337.6 389.5 2332.7C390 2327.7 390.9 2322.4 390.7 2316.7C390.5 2310.9 389.4 2304.2 388.5 2298C387.6 2291.8 386 2285.6 385.2 2279.3C384.4 2273.1 384 2268.4 383.6 2260.6C383.3 2252.7 383.2 2237.1 383.1 2232.4Z" fill="#c5e0c5" stroke="#2a2a2a" stroke-width="0.8"/><path d="M401.5 2144.4C401.5 2151.8 401.4 2176.3 401 2188.6C400.7 2200.8 400.3 2210.4 399.4 2218C398.6 2225.6 397.1 2228.7 396.2 2234C395.3 2239.3 394.2 2244.1 394 2250C393.8 2255.9 394.6 2263.2 395.2 2269.2C395.7 2275.2 396.6 2283.1 397.1 2286.3C397.6 2289.5 398.1 2288 398.3 2288.4L405.3 2288.4C405.5 2288 405.9 2289.5 406.5 2286.3C407 2283.1 407.9 2275.2 408.4 2269.2C408.9 2263.2 409.8 2255.9 409.6 2250C409.4 2244.1 408.3 2239.3 407.4 2234C406.5 2228.7 404.9 2225.6 404.1 2218C403.3 2210.4 402.9 2200.8 402.5 2188.6C402.2 2176.3 402.1 2151.8 402 2144.4Z" fill="#f0cdbf" stroke="#2a2a2a" stroke-width="0.8"/><path d="M420.4 2160.9C420.3 2166.6 420.3 2185.7 419.9 2195.2C419.6 2204.7 419.1 2211.3 418.3 2218C417.5 2224.7 416 2229.6 415.1 2235.3C414.2 2241.1 413 2246.1 412.9 2252.7C412.7 2259.2 413.5 2267.6 414 2274.5C414.6 2281.5 415.5 2290.6 416 2294.3C416.5 2297.9 417 2296 417.2 2296.4L424.2 2296.4C424.4 2296 424.8 2297.9 425.4 2294.3C425.9 2290.6 426.8 2281.5 427.3 2274.5C427.8 2267.6 428.6 2259.2 428.5 2252.7C428.3 2246.1 427.2 2241.1 426.3 2235.3C425.4 2229.6 423.8 2224.7 423 2218C422.2 2211.3 421.8 2204.7 421.4 2195.2C421.1 2185.7 421 2166.6 420.9 2160.9Z" fill="#f0b47c" stroke="#2a2a2a" stroke-width="0.8"/><path d="M439.3 2167.3C439.2 2171.3 439.2 2184.7 438.8 2191.3C438.5 2198 438 2200.7 437.2 2207.3C436.4 2214 434.9 2223.3 434 2231.3C433 2239.3 431.6 2246.3 431.8 2255.3C431.9 2264.3 434 2275.3 434.7 2285.3C435.5 2295.2 436.1 2304.6 436.3 2315.2C436.4 2325.7 435.6 2342 435.7 2348.7C435.7 2355.3 436.3 2354 436.4 2355.1L442.7 2355.1C442.8 2354 443.4 2355.3 443.5 2348.7C443.5 2342 442.7 2325.7 442.8 2315.2C443 2304.6 443.7 2295.2 444.4 2285.3C445.2 2275.3 447.2 2264.3 447.4 2255.3C447.5 2246.3 446.1 2239.3 445.2 2231.3C444.3 2223.3 442.7 2214 441.9 2207.3C441.1 2200.7 440.7 2198 440.3 2191.3C440 2184.7 439.9 2171.3 439.8 2167.3Z" fill="#f2a02e" stroke="#2a2a2a" stroke-width="0.8"/><path d="M456.3 2202C456.3 2204.2 456.7 2208.2 456.1 2215.3C455.5 2222.4 453.8 2234.9 452.8 2244.7C451.9 2254.4 450.5 2266.1 450.7 2274C450.8 2281.9 452.9 2286.1 453.6 2292.1C454.4 2298.1 455 2304.2 455.2 2310.2C455.3 2316.1 454.5 2323.8 454.6 2327.9C454.6 2331.9 455.2 2333.2 455.3 2334.3L461.6 2334.3C461.7 2333.2 462.3 2331.9 462.4 2327.9C462.4 2323.8 461.6 2316.1 461.7 2310.2C461.9 2304.2 462.5 2298.1 463.3 2292.1C464.1 2286.1 466.1 2281.9 466.3 2274C466.4 2266.1 465 2254.4 464.1 2244.7C463.2 2234.9 461.4 2222.4 460.8 2215.3C460.2 2208.2 460.6 2204.2 460.6 2202Z" fill="#3cb6b2" stroke="#2a2a2a" stroke-width="0.8"/><path d="M477.1 2188.7C477 2196.1 477 2221 476.6 2233.5C476.3 2245.9 475.8 2254.8 475 2263.3C474.2 2271.9 472.6 2277.6 471.7 2284.7C470.8 2291.8 469.7 2299.2 469.6 2306C469.4 2312.8 470.2 2319.3 470.7 2325.5C471.2 2331.6 472.2 2339.6 472.7 2342.8C473.2 2346 473.6 2344.6 473.8 2344.9L480.9 2344.9C481.1 2344.6 481.5 2346 482 2342.8C482.6 2339.6 483.5 2331.6 484 2325.5C484.5 2319.3 485.3 2312.8 485.2 2306C485 2299.2 483.9 2291.8 483 2284.7C482.1 2277.6 480.5 2271.9 479.7 2263.3C478.9 2254.8 478.5 2245.9 478.1 2233.5C477.8 2221 477.7 2196.1 477.6 2188.7Z" fill="#8fd6c6" stroke="#2a2a2a" stroke-width="0.8"/><path d="M496 2130C495.9 2135.3 495.8 2153.1 495.5 2162C495.1 2170.9 494.7 2174.7 493.9 2183.3C493.1 2192 491.5 2203.8 490.6 2214C489.7 2224.2 488.3 2234.7 488.4 2244.7C488.6 2254.6 490.7 2264.1 491.4 2273.8C492.2 2283.5 492.8 2292.6 493 2302.9C493.1 2313.2 492.3 2328.9 492.3 2335.3C492.4 2341.8 493 2340.7 493.1 2341.7L499.4 2341.7C499.5 2340.7 500.1 2341.8 500.1 2335.3C500.2 2328.9 499.4 2313.2 499.5 2302.9C499.7 2292.6 500.3 2283.5 501.1 2273.8C501.8 2264.1 503.9 2254.6 504 2244.7C504.2 2234.7 502.8 2224.2 501.9 2214C501 2203.8 499.4 2192 498.6 2183.3C497.8 2174.7 497.3 2170.9 497 2162C496.6 2153.1 496.6 2135.3 496.5 2130Z" fill="#d7ece1" stroke="#2a2a2a" stroke-width="0.8"/><path d="M513.5 2267.1C513.5 2270.4 513.4 2281.6 513.2 2287.2C513.1 2292.8 513.4 2296.6 512.8 2300.7C512.2 2304.7 510.4 2307.8 509.5 2311.3C508.6 2314.9 507.5 2318.8 507.3 2322C507.2 2325.2 508 2328.2 508.5 2330.8C509 2333.4 509.9 2336 510.5 2337.5C511 2338.9 511.4 2339.2 511.6 2339.6L518.6 2339.6C518.8 2339.2 519.3 2338.9 519.8 2337.5C520.3 2336 521.2 2333.4 521.8 2330.8C522.3 2328.2 523.1 2325.2 522.9 2322C522.8 2318.8 521.7 2314.9 520.8 2311.3C519.8 2307.8 518.1 2304.7 517.5 2300.7C516.9 2296.6 517.2 2292.8 517 2287.2C516.9 2281.6 516.8 2270.4 516.7 2267.1Z" fill="#f0dbe0" stroke="#2a2a2a" stroke-width="0.8"/><path d="M531.9 2151.3C531.8 2156.1 531.6 2172.1 531.6 2180.1C531.6 2188.1 532.2 2192.1 531.7 2199.3C531.2 2206.5 529.3 2215.3 528.4 2223.3C527.5 2231.3 526.1 2239.3 526.2 2247.3C526.4 2255.3 528.4 2263.3 529.2 2271.3C529.9 2279.3 530.6 2287.1 530.8 2295.3C530.9 2303.6 530.1 2315.6 530.1 2320.9C530.2 2326.3 530.8 2326.3 530.9 2327.3L537.2 2327.3C537.3 2326.3 537.9 2326.3 537.9 2320.9C538 2315.6 537.2 2303.6 537.3 2295.3C537.5 2287.1 538.1 2279.3 538.9 2271.3C539.6 2263.3 541.7 2255.3 541.8 2247.3C542 2239.3 540.6 2231.3 539.6 2223.3C538.7 2215.3 536.9 2206.5 536.4 2199.3C535.8 2192.1 536.5 2188.1 536.5 2180.1C536.4 2172.1 536.2 2156.1 536.2 2151.3Z" fill="#f2b9d9" stroke="#2a2a2a" stroke-width="0.8"/><path d="M550.3 2244.7C550.2 2247.1 549.9 2255.1 550 2259.1C550 2263.1 551 2264 550.6 2268.7C550.1 2273.4 548.2 2281.1 547.3 2287.3C546.4 2293.6 545.3 2299.4 545.1 2306C545 2312.6 545.8 2320.2 546.3 2326.8C546.8 2333.4 547.7 2342 548.2 2345.5C548.8 2348.9 549.2 2347.2 549.4 2347.6L556.4 2347.6C556.6 2347.2 557.1 2348.9 557.6 2345.5C558.1 2342 559 2333.4 559.6 2326.8C560.1 2320.2 560.9 2312.6 560.7 2306C560.6 2299.4 559.4 2293.6 558.5 2287.3C557.6 2281.1 555.7 2273.4 555.3 2268.7C554.8 2264 555.8 2263.1 555.9 2259.1C555.9 2255.1 555.6 2247.1 555.6 2244.7Z" fill="#e891b9" stroke="#2a2a2a" stroke-width="0.8"/><path d="M569.7 2282C569.6 2283.9 569.4 2290.1 569.4 2293.2C569.3 2296.3 570 2297.4 569.5 2300.7C568.9 2303.9 567.1 2308.7 566.2 2312.7C565.3 2316.7 564.2 2320.6 564 2324.7C563.8 2328.8 564.7 2333.4 565.2 2337.2C565.7 2341 566.6 2345.5 567.1 2347.6C567.7 2349.7 568.1 2349.4 568.3 2349.7L575.3 2349.7C575.5 2349.4 576 2349.7 576.5 2347.6C577 2345.5 577.9 2341 578.4 2337.2C579 2333.4 579.8 2328.8 579.6 2324.7C579.4 2320.6 578.3 2316.7 577.4 2312.7C576.5 2308.7 574.7 2303.9 574.2 2300.7C573.6 2297.4 574.3 2296.3 574.2 2293.2C574.2 2290.1 574 2283.9 573.9 2282Z" fill="#7f7f7f" stroke="#2a2a2a" stroke-width="0.8"/><path d="M590.5 2179.1C590.4 2183.2 590.3 2197.1 590 2204C589.6 2211 589.2 2214.6 588.4 2220.7C587.6 2226.8 586 2234 585.1 2240.7C584.2 2247.3 582.8 2253.2 582.9 2260.7C583 2268.1 585.1 2277.2 585.9 2285.5C586.6 2293.7 587.3 2301.7 587.4 2310.3C587.6 2318.8 586.8 2331.4 586.8 2336.9C586.8 2342.4 587.5 2342.3 587.6 2343.3L593.8 2343.3C594 2342.3 594.6 2342.4 594.6 2336.9C594.6 2331.4 593.8 2318.8 594 2310.3C594.1 2301.7 594.8 2293.7 595.5 2285.5C596.3 2277.2 598.4 2268.1 598.5 2260.7C598.6 2253.2 597.2 2247.3 596.3 2240.7C595.4 2234 593.9 2226.8 593 2220.7C592.2 2214.6 591.8 2211 591.5 2204C591.1 2197.1 591 2183.2 591 2179.1Z" fill="#c2c2c2" stroke="#2a2a2a" stroke-width="0.8"/><path d="M606.9 2240.4C606.9 2242.7 606.6 2250.3 606.6 2254.2C606.7 2258 607.7 2258.7 607.3 2263.3C606.8 2268 604.9 2275.8 604 2282C603.1 2288.2 602 2293.6 601.8 2300.7C601.6 2307.7 602.4 2316.7 603 2324.1C603.5 2331.6 604.4 2341.6 604.9 2345.5C605.4 2349.4 605.9 2347.2 606.1 2347.6L613.1 2347.6C613.3 2347.2 613.8 2349.4 614.3 2345.5C614.8 2341.6 615.7 2331.6 616.2 2324.1C616.7 2316.7 617.6 2307.7 617.4 2300.7C617.2 2293.6 616.1 2288.2 615.2 2282C614.3 2275.8 612.4 2268 611.9 2263.3C611.5 2258.7 612.5 2258 612.6 2254.2C612.6 2250.3 612.3 2242.7 612.3 2240.4Z" fill="#4fc0ee" stroke="#2a2a2a" stroke-width="0.8"/><path d="M114 2322.5h0m1-8h0m0 9.5h0m0 3h0m0.5-14.5h0m0 1h0m0 21.5h0m0 1.5h0m0 2h0m0 0.5h0m0 8.5h0m0.5-67h0m0 13.5h0m0 1.5h0m0 5h0m0 5h0m0 7h0m0 4.5h0m0 4.5h0m0 3.5h0m0 0.5h0m0 8.5h0m0 0.5h0m0 4.5h0m0 5.5h0m0 2h0m0.5-49.5h0m0 14.5h0m0 1.5h0m0 6h0m0 1.5h0m0 1.5h0m0 6.5h0m0 4h0m0 0.5h0m0 3.5h0m0 1h0m0 2h0m0 1.5h0m0 3.5h0m0 5h0m0 1.5h0m0 1h0m0.5-55h0m0 2.5h0m0 3h0m0 3.5h0m0 12h0m0 0.5h0m0 4.5h0m0 1.5h0m0 5.5h0m0 1.5h0m0 5h0m0 0.5h0m0 2h0m0 1.5h0m0 0.5h0m0 0.5h0m0 1.5h0m0 1.5h0m0 4.5h0m0 1h0m0 4.5h0m0.5-161h0m0 87.5h0m0 6h0m0 7.5h0m0 13h0m0 6.5h0m0 3h0m0 1.5h0m0 1.5h0m0 0.5h0m0 0.5h0m0 1h0m0 0.5h0m0 1.5h0m0 3h0m0 0.5h0m0 2h0m0 6h0m0 3.5h0m0 2h0m0 1h0m0 3.5h0m0 6.5h0m0.5-171h0m0 11h0m0 18.5h0m0 36h0m0 3.5h0m0 8.5h0m0 4.5h0m0 34.5h0m0 2h0m0 4.5h0m0 2.5h0m0 0.5h0m0 1.5h0m0 2h0m0 3.5h0m0 2h0m0 0.5h0m0 0.5h0m0 1h0m0 1.5h0m0 0.5h0m0 1.5h0m0 3h0m0 1h0m0 1h0m0 1.5h0m0 1h0m0 1h0m0 1.5h0m0 1.5h0m0 1h0m0 1h0m0 4.5h0m0 3h0m0 4h0m0 0.5h0m0 2h0m0 0.5h0m0 1h0m0.5-172h0m0 11h0m0 4h0m0 14h0m0 8h0m0 16.5h0m0 2.5h0m0 0.5h0m0 11h0m0 4.5h0m0 2h0m0 33h0m0 1h0m0 0.5h0m0 3.5h0m0 0.5h0m0 0.5h0m0 0.5h0m0 3.5h0m0 4h0m0 4h0m0 2.5h0m0 0.5h0m0 2.5h0m0 3.5h0m0 0.5h0m0 0.5h0m0 2h0m0 1.5h0m0 1h0m0 1.5h0m0 1h0m0 1h0m0 0.5h0m0 1h0m0 0.5h0m0 1.5h0m0 1h0m0 1.5h0m0 1h0m0 1h0m0 4.5h0m0 0.5h0m0 1.5h0m0 0.5h0m0 0.5h0m0 1h0m0 1.5h0m0 1.5h0m0 1h0m0 3.5h0m0 0.5h0m0 0.5h0m0 4.5h0m0 1h0m0 3h0m0.5-162.5h0m0 7h0m0 3h0m0 1.5h0m0 25.5h0m0 2h0m0 3h0m0 9.5h0m0 4h0m0 2.5h0m0 2.5h0m0 10.5h0m0 15h0m0 5h0m0 5h0m0 6.5h0m0 2h0m0 8.5h0m0 3.5h0m0 1h0m0 0.5h0m0 5.5h0m0 1.5h0m0 1.5h0m0 1h0m0 0.5h0m0 0.5h0m0 0.5h0m0 1.5h0m0 0.5h0m0 1.5h0m0 1h0m0 1h0m0 0.5h0m0 1.5h0m0 1h0m0 1.5h0m0 2.5h0m0 1h0m0 1h0m0 2.5h0m0 3.5h0m0.5-139.5h0m0 17.5h0m0 58.5h0m0 7h0m0 1h0m0 0.5h0m0 10.5h0m0 8h0m0 2h0m0 4h0m0 1h0m0 2.5h0m0 0.5h0m0 3h0m0 1.5h0m0 1h0m0 1h0m0 0.5h0m0 1.5h0m0 1.5h0m0 2.5h0m0 2h0m0 0.5h0m0 1h0m0 3.5h0m0 0.5h0m0 0.5h0m0 2h0m0 5.5h0m0 3.5h0m0 1.5h0m0 0.5h0m0 4.5h0m0 0.5h0m0.5-72h0m0 11.5h0m0 13h0m0 2.5h0m0 5.5h0m0 1h0m0 4h0m0 1h0m0 7.5h0m0 0.5h0m0 2h0m0 1h0m0 7h0m0 3h0m0 3.5h0m0.5-71.5h0m0 21h0m0 12h0m0 0.5h0m0 6h0m0 2h0m0 1h0m0 2.5h0m0 1.5h0m0 0.5h0m0 3.5h0m0 2h0m0 3h0m0 3h0m0 8.5h0m0 2h0m0.5-46h0m0 3h0m0 3.5h0m0 25h0m0 1.5h0m0 0.5h0m0 7.5h0m0.5-47h0m0 3h0m0 9.5h0m0 8.5h0m0 0.5h0m0 11h0m0 5.5h0m0 1.5h0m0.5-30.5h0m0 24h0m0 23.5h0m0.5-31h0m0 19.5h0m0.5-2h0m10-104h0m0 6.5h0m0.5 7h0m0.5 14.5h0m0 9h0m0.5-40.5h0m0 2h0m0 35.5h0m0 23.5h0m0 1h0m0 5.5h0m0.5-67h0m0 17.5h0m0 14.5h0m0 5h0m0 2h0m0 1h0m0 4.5h0m0 10h0m0 2h0m0 11h0m0.5-74.5h0m0 16h0m0 3.5h0m0 6h0m0 6h0m0 2.5h0m0 1.5h0m0 1h0m0 1.5h0m0 1.5h0m0 8h0m0 2h0m0 18.5h0m0 7.5h0m0 2.5h0m0 10h0m0 3.5h0m0 10h0m0.5-98.5h0m0 5.5h0m0 2.5h0m0 0.5h0m0 10.5h0m0 1h0m0 1.5h0m0 2h0m0 0.5h0m0 2.5h0m0 1h0m0 0.5h0m0 0.5h0m0 2h0m0 2h0m0 15.5h0m0 0.5h0m0 5h0m0 1.5h0m0 3.5h0m0 1.5h0m0 7h0m0 0.5h0m0 6.5h0m0 4h0m0 28h0m0.5-176h0m0 33.5h0m0 0.5h0m0 0.5h0m0 16.5h0m0 5.5h0m0 5.5h0m0 5h0m0 0.5h0m0 5.5h0m0 27.5h0m0 5.5h0m0 4h0m0 2h0m0 4.5h0m0 1h0m0 2h0m0 0.5h0m0 3.5h0m0 1.5h0m0 7h0m0 3h0m0 0.5h0m0 2h0m0 4.5h0m0 0.5h0m0 10.5h0m0 2.5h0m0 4h0m0.5-167h0m0 2h0m0 10.5h0m0 0.5h0m0 17.5h0m0 2h0m0 26.5h0m0 2.5h0m0 27h0m0 1.5h0m0 0.5h0m0 0.5h0m0 3h0m0 6.5h0m0 1.5h0m0 3h0m0 1.5h0m0 3.5h0m0 5.5h0m0 1.5h0m0 0.5h0m0 9.5h0m0 1.5h0m0 1.5h0m0 5h0m0 5.5h0m0 1.5h0m0 8h0m0 3h0m0 8h0m0 1h0m0 16.5h0m0.5-179.5h0m0 4.5h0m0 6h0m0 2.5h0m0 40h0m0 8.5h0m0 1.5h0m0 10.5h0m0 1.5h0m0 1h0m0 13.5h0m0 7h0m0 10.5h0m0 1h0m0 1h0m0 5h0m0 1.5h0m0 2h0m0 2.5h0m0 8.5h0m0 3.5h0m0 6.5h0m0 1.5h0m0 2h0m0 4.5h0m0 1h0m0 3h0m0 7.5h0m0 1.5h0m0 19.5h0m0.5-172h0m0 14h0m0 35h0m0 9h0m0 3.5h0m0 11.5h0m0 13.5h0m0 1.5h0m0 0.5h0m0 6h0m0 0.5h0m0 1.5h0m0 1h0m0 2.5h0m0 3h0m0 3h0m0 0.5h0m0 0.5h0m0 7h0m0 7h0m0 2h0m0 0.5h0m0 3.5h0m0 0.5h0m0 1h0m0 1h0m0 3.5h0m0 2h0m0 0.5h0m0 1.5h0m0 1h0m0 6h0m0 1h0m0 1.5h0m0 1h0m0 1h0m0 31h0m0.5-113.5h0m0 1h0m0 4h0m0 1.5h0m0 1h0m0 7.5h0m0 1h0m0 1.5h0m0 1h0m0 1.5h0m0 3.5h0m0 0.5h0m0 6.5h0m0 5h0m0 3h0m0 1h0m0 6.5h0m0 5.5h0m0 2h0m0 9h0m0 5h0m0 5.5h0m0 1h0m0 1h0m0 2.5h0m0 8h0m0 2h0m0 8.5h0m0 0.5h0m0 6h0m0.5-122h0m0 34h0m0 4h0m0 12h0m0 5.5h0m0 0.5h0m0 1.5h0m0 7h0m0 2.5h0m0 4h0m0 3h0m0 0.5h0m0 0.5h0m0 9.5h0m0 3h0m0 3h0m0 5h0m0 17.5h0m0 6h0m0.5-130h0m0 28h0m0 17h0m0 28.5h0m0 0.5h0m0 3h0m0 1h0m0 1.5h0m0 5h0m0 3.5h0m0 0.5h0m0 10h0m0 3h0m0 17.5h0m0.5-105.5h0m0 44h0m0 8.5h0m0 9h0m0 16h0m0 14h0m0.5-40h0m0 1h0m0 19.5h0m0 13h0m0.5-71h0m0.5 59.5h0m1.5-9h0m8.5 31h0m0.5-38.5h0m0.5-10.5h0m0 3h0m0.5-15h0m0 10h0m0 7h0m0 9h0m0 14h0m0.5-40.5h0m0 11h0m0 16h0m0 2h0m0 11.5h0m0 18.5h0m0.5-76.5h0m0 0.5h0m0 15h0m0 15h0m0 0.5h0m0 2.5h0m0 3h0m0 3h0m0 4.5h0m0 3h0m0 14h0m0.5-80.5h0m0 6h0m0 14h0m0 6h0m0 12.5h0m0 4h0m0 4.5h0m0 3h0m0 5.5h0m0 2.5h0m0 5.5h0m0 3.5h0m0 0.5h0m0 1.5h0m0 0.5h0m0 3.5h0m0 4.5h0m0 2.5h0m0 8.5h0m0 20h0m0.5-105h0m0 29.5h0m0 3h0m0 2h0m0 2h0m0 1h0m0 1.5h0m0 3h0m0 3h0m0 5.5h0m0 1h0m0 2h0m0 0.5h0m0 0.5h0m0 2.5h0m0 1h0m0 3.5h0m0 1h0m0 4h0m0 2h0m0 0.5h0m0 5.5h0m0 9.5h0m0 6.5h0m0 0.5h0m0 6h0m0.5-152h0m0 0.5h0m0 6.5h0m0 50h0m0 11h0m0 17.5h0m0 2h0m0 3h0m0 0.5h0m0 2.5h0m0 6.5h0m0 1.5h0m0 1.5h0m0 4h0m0 2h0m0 0.5h0m0 9h0m0 1h0m0 0.5h0m0 0.5h0m0 1.5h0m0 4.5h0m0 4.5h0m0 4.5h0m0 13.5h0m0.5-135.5h0m0 12.5h0m0 2h0m0 0.5h0m0 1h0m0 16h0m0 5.5h0m0 8h0m0 7h0m0 1h0m0 2h0m0 1h0m0 3h0m0 1h0m0 14h0m0 1h0m0 1h0m0 6h0m0 1h0m0 3h0m0 2h0m0 3h0m0 1h0m0 1.5h0m0 1.5h0m0 1h0m0 1.5h0m0 6h0m0 4.5h0m0 1.5h0m0 1.5h0m0 3.5h0m0 2.5h0m0 1h0m0.5-131h0m0 14h0m0 3h0m0 17h0m0 3h0m0 15h0m0 6.5h0m0 1h0m0 11h0m0 0.5h0m0 5.5h0m0 5.5h0m0 0.5h0m0 1.5h0m0 6h0m0 3.5h0m0 0.5h0m0 3h0m0 1.5h0m0 0.5h0m0 1.5h0m0 2.5h0m0 2h0m0 3.5h0m0 0.5h0m0 3h0m0 1h0m0 1h0m0 1h0m0 1h0m0 0.5h0m0 3h0m0 0.5h0m0 4h0m0 1.5h0m0 4.5h0m0 1h0m0 2.5h0m0 4h0m0 2.5h0m0 2h0m0.5-139.5h0m0 58.5h0m0 5h0m0 15h0m0 0.5h0m0 2h0m0 0.5h0m0 1.5h0m0 5.5h0m0 3h0m0 4.5h0m0 0.5h0m0 5.5h0m0 1h0m0 2h0m0 3h0m0 1h0m0 0.5h0m0 5h0m0 3h0m0 3h0m0 1.5h0m0 6.5h0m0 0.5h0m0 2h0m0 0.5h0m0 7h0m0 8.5h0m0.5-66h0m0 2.5h0m0 1h0m0 1.5h0m0 12.5h0m0 1.5h0m0 1h0m0 3h0m0 2h0m0 2.5h0m0 1.5h0m0 5h0m0 3h0m0 1.5h0m0 4.5h0m0 2h0m0 0.5h0m0 3h0m0 6h0m0 4h0m0 6.5h0m0 7h0m0.5-64.5h0m0 1h0m0 5h0m0 1.5h0m0 5h0m0 2.5h0m0 5.5h0m0 5h0m0 2h0m0 7.5h0m0 1h0m0 7.5h0m0.5-61h0m0 14.5h0m0 4h0m0 1h0m0 10.5h0m0 4.5h0m0 17h0m0 16.5h0m0.5-54h0m0 8.5h0m0 13.5h0m0 6h0m0 3.5h0m0 6h0m0.5-14.5h0m0 2.5h0m0 20.5h0m0 12h0m1-42.5h0m0 16h0m0 8h0m0.5-17.5h0m9.5-34h0m0.5 31.5h0m0 3.5h0m0.5-38h0m0 10h0m0 16.5h0m0.5-63.5h0m0 34.5h0m0 1.5h0m0 24h0m0 0.5h0m0 2.5h0m0 0.5h0m0 19.5h0m0.5-69.5h0m0 8.5h0m0 9h0m0 29.5h0m0 5h0m0 20h0m0 6.5h0m0.5-49h0m0 1.5h0m0 15h0m0 2h0m0 2h0m0 4h0m0 3h0m0 2h0m0 13h0m0 4.5h0m0 5h0m0 5h0m0 6h0m0.5-95.5h0m0 9.5h0m0 2.5h0m0 1.5h0m0 2.5h0m0 5h0m0 1h0m0 2.5h0m0 8.5h0m0 1h0m0 6h0m0 5.5h0m0 4h0m0 3.5h0m0 15h0m0 6h0m0 4h0m0 1h0m0 2h0m0 3h0m0 7.5h0m0 18h0m0 12h0m0.5-165h0m0 1.5h0m0 20.5h0m0 22h0m0 10.5h0m0 1h0m0 18.5h0m0 4h0m0 5h0m0 8.5h0m0 2.5h0m0 3h0m0 7.5h0m0 4.5h0m0 0.5h0m0 2.5h0m0 2h0m0 6h0m0 1h0m0 7.5h0m0 8h0m0 8h0m0 21h0m0 16h0m0.5-179h0m0 23.5h0m0 10h0m0 11.5h0m0 6h0m0 4h0m0 11h0m0 11.5h0m0 7h0m0 0.5h0m0 1.5h0m0 6.5h0m0 4h0m0 1.5h0m0 10.5h0m0 0.5h0m0 2h0m0 0.5h0m0 1.5h0m0 1h0m0 1.5h0m0 1h0m0 2h0m0 1h0m0 15h0m0 14.5h0m0.5-156.5h0m0 3h0m0 4.5h0m0 14h0m0 6h0m0 12h0m0 1h0m0 11h0m0 2.5h0m0 5.5h0m0 4h0m0 0.5h0m0 1h0m0 3h0m0 2.5h0m0 8h0m0 0.5h0m0 4h0m0 3.5h0m0 7h0m0 5.5h0m0 1h0m0 1.5h0m0 0.5h0m0 5h0m0 5h0m0 0.5h0m0 6h0m0 8.5h0m0 0.5h0m0 1.5h0m0 42h0m0.5-175.5h0m0 13h0m0 26h0m0 8.5h0m0 7h0m0 9h0m0 2.5h0m0 3h0m0 1h0m0 1h0m0 2h0m0 1h0m0 1h0m0 1.5h0m0 5.5h0m0 3.5h0m0 1h0m0 4.5h0m0 3.5h0m0 1.5h0m0 10h0m0 1h0m0 5h0m0 3.5h0m0 9h0m0 8h0m0 2h0m0 5.5h0m0 23h0m0.5-100.5h0m0 14.5h0m0 2h0m0 5h0m0 3.5h0m0 2.5h0m0 1h0m0 1.5h0m0 4h0m0 4.5h0m0 4.5h0m0 1h0m0 7h0m0 4h0m0 1h0m0 0.5h0m0 4.5h0m0 15h0m0 6.5h0m0 6h0m0 1h0m0 33.5h0m0.5-179h0m0 25h0m0 15h0m0 5.5h0m0 3.5h0m0 30.5h0m0 10h0m0 2h0m0 5h0m0 4h0m0 8h0m0 0.5h0m0 9h0m0 1.5h0m0 2h0m0 1.5h0m0 8.5h0m0 3h0m0 4.5h0m0.5-91h0m0 12.5h0m0 15.5h0m0 2.5h0m0 9.5h0m0 10h0m0 7h0m0 4.5h0m0 1h0m0 4h0m0 2h0m0 20h0m0.5-119h0m0 37.5h0m0 4h0m0 14h0m0 51h0m0 31h0m0.5-124h0m0 22.5h0m0 15.5h0m0 11h0m0 13.5h0m0 4h0m0 23h0m0 19.5h0m0.5-110h0m0.5 83h0m0 9h0m11-11.5h0m0 18h0m0.5-44h0m0.5 1h0m0 22.5h0m0 29h0m0 2h0m0.5-43h0m0 20.5h0m0 4h0m0 8h0m0 4h0m0 11h0m0.5-60.5h0m0 10h0m0 1.5h0m0 5.5h0m0 5h0m0 2.5h0m0 1.5h0m0 2h0m0 1h0m0 1.5h0m0 3h0m0 0.5h0m0 6.5h0m0 6h0m0 3h0m0 22.5h0m0.5-67.5h0m0 6.5h0m0 1h0m0 4.5h0m0 3.5h0m0 8h0m0 4h0m0 5h0m0 1h0m0 2.5h0m0 7h0m0 2h0m0 2.5h0m0 4.5h0m0 11h0m0.5-75h0m0 13.5h0m0 2.5h0m0 5.5h0m0 1.5h0m0 10h0m0 0.5h0m0 3h0m0 2h0m0 1.5h0m0 3h0m0 3h0m0 0.5h0m0 1h0m0 0.5h0m0 5.5h0m0 1h0m0 9.5h0m0 2h0m0 3.5h0m0 3h0m0.5-135.5h0m0 8h0m0 23h0m0 25h0m0 9h0m0 6.5h0m0 10.5h0m0 4h0m0 1h0m0 3.5h0m0 0.5h0m0 4.5h0m0 5h0m0 3.5h0m0 1h0m0 4.5h0m0 2h0m0 1.5h0m0 10.5h0m0 1.5h0m0 0.5h0m0 0.5h0m0.5-127h0m0 21.5h0m0 38h0m0 2h0m0 9h0m0 13.5h0m0 0.5h0m0 0.5h0m0 1h0m0 2h0m0 2.5h0m0 4h0m0 0.5h0m0 1.5h0m0 3.5h0m0 3h0m0 2h0m0 2.5h0m0 5.5h0m0 0.5h0m0 0.5h0m0 6h0m0 0.5h0m0 1.5h0m0 9h0m0 6.5h0m0 1.5h0m0.5-140.5h0m0 5h0m0 5h0m0 9h0m0 18.5h0m0 2.5h0m0 3h0m0 2.5h0m0 16h0m0 0.5h0m0 27.5h0m0 1h0m0 5h0m0 0.5h0m0 2.5h0m0 4h0m0 2h0m0 1.5h0m0 0.5h0m0 1.5h0m0 0.5h0m0 2.5h0m0 2h0m0 0.5h0m0 2.5h0m0 10h0m0 0.5h0m0 1h0m0 1.5h0m0 1h0m0 9.5h0m0 4h0m0.5-144h0m0 34h0m0 45.5h0m0 4h0m0 5.5h0m0 2.5h0m0 7h0m0 2.5h0m0 1.5h0m0 2h0m0 1h0m0 3.5h0m0 0.5h0m0 1h0m0 3.5h0m0 0.5h0m0 0.5h0m0 6h0m0 2.5h0m0 1h0m0 1.5h0m0 10h0m0 0.5h0m0 0.5h0m0 3.5h0m0.5-51h0m0 3h0m0 1h0m0 5h0m0 1.5h0m0 3h0m0 1h0m0 2h0m0 11h0m0 0.5h0m0 6h0m0 3.5h0m0 1h0m0 3h0m0.5-47h0m0 2.5h0m0 4.5h0m0 4h0m0 2h0m0 3.5h0m0 0.5h0m0 9.5h0m0 2h0m0 0.5h0m0 2.5h0m0 3.5h0m0 0.5h0m0 3.5h0m0 13h0m0 5.5h0m0 4.5h0m0.5-59h0m0 18.5h0m0 2.5h0m0 5h0m0 6.5h0m0.5-36h0m0 14.5h0m0 10.5h0m0 6h0m0 11.5h0m0 5h0m1-26.5h0m0.5 4h0m10.5-43.5h0m0 8.5h0m0 6h0m0 24h0m0.5 45h0m0.5-50h0m0 12h0m0 11h0m0 17h0m0 9h0m0.5-97h0m0 2.5h0m0 23h0m0 3h0m0 20.5h0m0 30.5h0m0.5-62h0m0 6h0m0 21.5h0m0 2.5h0m0 3h0m0 11.5h0m0 1h0m0 2.5h0m0 18h0m0 1.5h0m0.5-67.5h0m0 9h0m0 10h0m0 0.5h0m0 1h0m0 3.5h0m0 4h0m0 2h0m0 7.5h0m0 0.5h0m0 0.5h0m0 7.5h0m0 6.5h0m0 2.5h0m0 1h0m0 5.5h0m0.5-116.5h0m0 56h0m0 7h0m0 2h0m0 6h0m0 7h0m0 3h0m0 1.5h0m0 2h0m0 3h0m0 6h0m0 1h0m0 1h0m0 1.5h0m0 1h0m0 0.5h0m0 1.5h0m0 1.5h0m0 20.5h0m0 2h0m0 6h0m0.5-153.5h0m0 6h0m0 5.5h0m0 3h0m0 8.5h0m0 6h0m0 17h0m0 14.5h0m0 24.5h0m0 1h0m0 9h0m0 8.5h0m0 4h0m0 5.5h0m0 0.5h0m0 5h0m0 3.5h0m0 1.5h0m0 1.5h0m0 5h0m0 7.5h0m0.5-130h0m0 10.5h0m0 45h0m0 7.5h0m0 12.5h0m0 6.5h0m0 4.5h0m0 11.5h0m0 0.5h0m0 4h0m0 6.5h0m0 5.5h0m0 1h0m0 1.5h0m0 4h0m0.5-114.5h0m0 8h0m0 44.5h0m0 36.5h0m0 0.5h0m0 6h0m0 3h0m0 8h0m0 35.5h0m0 0.5h0m0.5-86h0m0 16h0m0 4.5h0m0 8.5h0m0 1h0m0 5h0m0 6h0m0 6.5h0m0 0.5h0m0 1h0m0 7.5h0m0 4.5h0m0 6h0m0 11h0m0.5-72h0m0 1h0m0 7.5h0m0 13h0m0 10.5h0m0 5h0m0 6h0m0 1.5h0m0 4.5h0m0 1h0m0.5-46.5h0m0 9.5h0m0 4.5h0m0 6.5h0m0 2.5h0m0 5h0m0 10.5h0m0 6h0m0 0.5h0m0 2.5h0m0.5-55.5h0m0 26.5h0m0 0.5h0m0 15h0m0 6h0m0 6.5h0m0 2h0m0 13h0m0.5-103h0m0 44h0m0 17.5h0m0 8h0m0 0.5h0m0 20h0m0 3h0m0 12.5h0m0.5-21h0m0 4h0m10.5-44.5h0m1.5-35h0m0 47h0m0 9h0m0.5-26h0m0 58.5h0m0 36h0m0.5-100.5h0m0 11.5h0m0 46.5h0m0 3.5h0m0 1.5h0m0 2.5h0m0 8.5h0m0.5-102h0m0 13h0m0 8h0m0 27.5h0m0 4.5h0m0 0.5h0m0 36h0m0.5-68.5h0m0 6.5h0m0 10.5h0m0 5h0m0 7.5h0m0 9h0m0 11h0m0 7h0m0 10h0m0 3.5h0m0 10h0m0 18h0m0.5-126.5h0m0 11h0m0 2.5h0m0 19.5h0m0 25h0m0 1.5h0m0 13h0m0 2h0m0 4h0m0 1h0m0 1.5h0m0 0.5h0m0 0.5h0m0 0.5h0m0 10.5h0m0 3.5h0m0 6.5h0m0 6.5h0m0 3h0m0 5.5h0m0 8.5h0m0 2h0m0 0.5h0m0 2h0m0.5-173h0m0 8h0m0 30h0m0 4.5h0m0 0.5h0m0 15h0m0 16.5h0m0 4h0m0 4h0m0 26h0m0 0.5h0m0 1.5h0m0 8h0m0 3h0m0 2h0m0 6h0m0 0.5h0m0 14h0m0 11h0m0 5.5h0m0.5-157.5h0m0 15h0m0 11.5h0m0 28h0m0 1.5h0m0 22.5h0m0 15h0m0 9.5h0m0 10h0m0 8h0m0 9.5h0m0 12h0m0 6h0m0 4h0m0 9h0m0 0.5h0m0 25h0m0.5-191h0m0 40.5h0m0 3h0m0 23h0m0 0.5h0m0 5h0m0 9.5h0m0 3h0m0 14h0m0 2h0m0 7.5h0m0 1.5h0m0 1.5h0m0 5.5h0m0 20h0m0 4h0m0 39.5h0m0.5-92.5h0m0 6.5h0m0 26h0m0 6.5h0m0 9.5h0m0 13h0m0 5.5h0m0 1.5h0m0 27h0m0.5-138h0m0 56h0m0 2.5h0m0 4.5h0m0 6h0m0 21h0m0 10h0m0 5.5h0m0 10.5h0m0 5h0m0 2h0m0 3h0m0 6h0m0.5-105h0m0 19h0m0 9h0m0 36.5h0m0 3h0m0 11.5h0m0 39h0m0.5-119.5h0m0 15.5h0m0 50h0m0 4h0m0 15h0m0.5-43.5h0m0 14h0m0 20h0m0.5 12.5h0m0 6h0m0 0.5h0m10.5-87h0m0.5 19.5h0m1-16.5h0m0 11h0m0 24h0m0 9.5h0m0 12h0m0.5-29h0m0.5-6h0m0 3h0m0 6h0m0 0.5h0m0 10.5h0m0.5-64.5h0m0 1.5h0m0 15.5h0m0 11h0m0 21h0m0 6h0m0 2.5h0m0 1.5h0m0 20h0m0.5-138.5h0m0 60.5h0m0 7.5h0m0 1.5h0m0 17h0m0 13.5h0m0 6.5h0m0 5.5h0m0 11h0m0 30.5h0m0.5-126h0m0 33.5h0m0 5h0m0 0.5h0m0 11.5h0m0 3h0m0 3.5h0m0 3.5h0m0 4h0m0 4h0m0 6h0m0 7h0m0 2h0m0 0.5h0m0 14h0m0 10h0m0 1.5h0m0.5-143h0m0 36h0m0 10h0m0 5h0m0 15h0m0 31h0m0 1h0m0 4h0m0 1h0m0 5h0m0 2.5h0m0 6h0m0 8.5h0m0 1.5h0m0 6h0m0 5.5h0m0 14.5h0m0.5-155.5h0m0 28.5h0m0 3h0m0 12h0m0 39h0m0 3.5h0m0 3h0m0 9.5h0m0 0.5h0m0 10h0m0 1.5h0m0 2h0m0 7.5h0m0 5.5h0m0 0.5h0m0 1h0m0 6h0m0 15h0m0 3h0m0 1h0m0.5-141h0m0 29h0m0 26.5h0m0 2.5h0m0 2.5h0m0 4.5h0m0 9.5h0m0 8h0m0 4h0m0 1.5h0m0 2h0m0 5.5h0m0 14h0m0 2.5h0m0 3.5h0m0 4.5h0m0 2h0m0 1h0m0 14.5h0m0 15h0m0.5-75h0m0 1.5h0m0 8h0m0 0.5h0m0 10h0m0 1h0m0 10h0m0 0.5h0m0 1.5h0m0.5-69.5h0m0 39h0m0 5.5h0m0 27h0m0 1.5h0m0 2.5h0m0 13.5h0m0 2.5h0m0.5-104h0m0.5 13h0m0 91.5h0m0 8.5h0m1-61.5h0m0 48.5h0m11 51.5h0m0.5 7h0m0 1h0m0.5-11.5h0m0.5-22.5h0m0 11h0m0 8h0m0.5-8.5h0m0 7.5h0m0 0.5h0m0 7.5h0m0 3.5h0m0 12h0m0 1.5h0m0 1.5h0m0.5-46h0m0 8.5h0m0 10h0m0 5h0m0 3.5h0m0 6.5h0m0 14h0m0 0.5h0m0 13h0m0.5-82.5h0m0 30h0m0 5.5h0m0 2.5h0m0 11h0m0 1h0m0 7h0m0 5.5h0m0 2.5h0m0 2.5h0m0 1.5h0m0 7.5h0m0.5-45.5h0m0 2h0m0 6h0m0 5.5h0m0 6h0m0 0.5h0m0 1h0m0 0.5h0m0 4h0m0 2h0m0 3.5h0m0 19.5h0m0.5-107.5h0m0 16.5h0m0 12h0m0 0.5h0m0 4.5h0m0 14.5h0m0 11.5h0m0 4.5h0m0 4.5h0m0 5h0m0 1.5h0m0 1.5h0m0 2h0m0 1.5h0m0 2h0m0 2.5h0m0 0.5h0m0 1h0m0 3.5h0m0 1h0m0 4h0m0 5h0m0 8h0m0 1h0m0.5-108.5h0m0 26.5h0m0 8h0m0 18.5h0m0 11h0m0 0.5h0m0 6h0m0 4.5h0m0 2.5h0m0 2h0m0 3.5h0m0 1h0m0 2.5h0m0 5h0m0.5-29h0m0 7h0m0 9h0m0 1.5h0m0 8h0m0 0.5h0m0 5h0m0 6.5h0m0 2.5h0m0 1h0m0 4h0m0.5-92.5h0m0 46h0m0 4h0m0 14h0m0 11.5h0m0 0.5h0m0 10.5h0m0.5-106.5h0m0 60h0m0 11.5h0m0 12.5h0m0 14h0m0 6h0m0.5-34.5h0m0.5 17h0m0 5.5h0m0 21h0m0.5-15.5h0m0.5-14.5h0m11.5 1.5h0m0 15h0m0.5-2.5h0m0 0.5h0m0.5-32.5h0m0.5 19h0m0 4h0m0 4h0m0 2h0m0 0.5h0m0.5-20h0m0 2h0m0 7h0m0 3h0m0 7.5h0m0 2h0m0 9h0m0.5-45.5h0m0 13h0m0 8h0m0 3h0m0 6.5h0m0 5.5h0m0 0.5h0m0 1h0m0 3h0m0 1.5h0m0 4h0m0.5-123.5h0m0 31h0m0 40h0m0 35.5h0m0 1.5h0m0 0.5h0m0 0.5h0m0 0.5h0m0 2.5h0m0 0.5h0m0 1h0m0 3h0m0 1h0m0 0.5h0m0 1h0m0 9.5h0m0.5-130h0m0 7h0m0 63h0m0 19h0m0 7.5h0m0 3h0m0 3.5h0m0 1h0m0 2h0m0 4.5h0m0 6.5h0m0 1.5h0m0 2.5h0m0 1h0m0 1h0m0.5-137.5h0m0 6h0m0 19.5h0m0 58.5h0m0 25.5h0m0 3.5h0m0 4.5h0m0 6.5h0m0 1h0m0 0.5h0m0 1.5h0m0 3h0m0 12h0m0 2.5h0m0.5-39.5h0m0 14h0m0 6h0m0 0.5h0m0 2h0m0 6.5h0m0 4h0m0 0.5h0m0.5-41.5h0m0 18h0m0 7.5h0m0 2h0m0 1h0m0 5.5h0m0 0.5h0m0 4h0m0.5-25h0m0 22.5h0m0.5-26.5h0m0 16h0m0 3h0m0.5 13h0m0 6h0m0.5-46h0m0 16h0m1.5-6h0m0 13.5h0m9.5-126.5h0m1 61.5h0m0.5 16h0m0.5-3.5h0m0 11h0m0 13.5h0m0.5-103h0m0 41.5h0m0 4.5h0m0.5-66h0m0 57h0m0 27h0m0 14h0m0 41h0m0.5-93.5h0m0 4h0m0 32.5h0m0 30h0m0.5-143.5h0m0 51.5h0m0 36.5h0m0 11.5h0m0 19.5h0m0.5-112h0m0 25h0m0 21h0m0 29h0m0 20h0m0 2h0m0 23h0m0 29.5h0m0.5-162h0m0 15h0m0 92h0m0 8h0m0 19h0m0.5-29.5h0m0.5-46.5h0m0 53h0m0 18h0m0 5h0m0 7.5h0m0.5-77.5h0m0 36h0m0 26h0m0 16h0m1-40.5h0m0 36h0m13 3h0m0 19.5h0m0 6h0m0.5-1.5h0m0.5-2h0m0.5-19h0m0 16.5h0m0 2.5h0m0 9h0m0 16h0m0.5-11h0m0 6h0m0.5-116h0m0 31h0m0 42h0m0 5h0m0 3h0m0 29.5h0m0 3h0m0.5-123.5h0m0 71h0m0 15.5h0m0 9.5h0m0 1.5h0m0 6.5h0m0 1.5h0m0.5-114h0m0 71h0m0 8.5h0m0 15.5h0m0 5.5h0m0 17.5h0m0 18h0m0.5-30.5h0m0 6h0m0 3.5h0m0 26.5h0m0.5-43h0m0 4.5h0m0 23.5h0m0 7h0m0 8h0m0.5-37h0m0.5 29h0m13-37.5h0m0.5-35.5h0m0 19h0m0.5-93.5h0m0.5 70h0m0 2.5h0m0 55h0m0.5-75h0m0 40.5h0m0 12h0m0 28h0m0.5-160.5h0m0 8.5h0m0 34h0m0 77.5h0m0 4.5h0m0 9h0m0.5-145h0m0 100h0m0 12.5h0m0 18h0m0 6h0m0 10h0m0 15.5h0m0 5.5h0m0 2.5h0m0.5-169.5h0m0 96h0m0 19h0m0 1h0m0 23.5h0m0.5-132h0m0 81h0m0 44h0m0 22h0m0.5-61.5h0m0 42h0m0 55.5h0m0.5-102h0m0 47h0m0 15.5h0m0 9h0m0.5-93.5h0m1 48.5h0m0 24.5h0m0 46.5h0m1-41.5h0m11-57h0m0.5-6.5h0m0.5 33h0m0 29.5h0m0 10.5h0m0.5-31h0m0 4.5h0m0.5 3h0m0 18h0m0 34.5h0m0.5-144.5h0m0 16h0m0 28.5h0m0 1.5h0m0 69.5h0m0.5-112.5h0m0 40.5h0m0 21.5h0m0 7h0m0 3.5h0m0 15h0m0 45.5h0m0.5-134.5h0m0 30.5h0m0 2h0m0 32h0m0 4h0m0 18h0m0 12.5h0m0 2h0m0 10.5h0m0 25.5h0m0 16h0m0.5-77.5h0m0 22h0m0 4h0m0 34.5h0m0.5-115h0m0 17.5h0m0 20h0m0 26.5h0m0.5-10h0m0 42h0m0.5-66h0m0 24h0m0.5 31h0m0.5 25.5h0m0.5-68h0m13 64h0m0 4.5h0m0 24h0m0.5-33h0m0 17h0m0 9h0m0.5-32h0m0 12h0m0 10h0m0 12.5h0m0.5-38h0m0 3h0m0 15h0m0 2h0m0 10.5h0m0 2h0m0 4h0m0 5h0m0 4.5h0m0 10.5h0m0.5-105.5h0m0 20h0m0 12h0m0 26.5h0m0 1h0m0 12h0m0 2h0m0 9.5h0m0 4.5h0m0.5-44h0m0 27h0m0 0.5h0m0 2h0m0 27h0m0.5-61h0m0 11h0m0 23h0m0.5-9.5h0m0 0.5h0m0 10.5h0m0 8.5h0m0.5 3.5h0m0 5.5h0m0.5-21h0m0.5 5h0m0 18.5h0m12-79.5h0m1-27h0m0 18h0m0.5 7.5h0m0.5-16.5h0m0 22h0m0.5-33.5h0m0 51h0m0.5-25.5h0m0 10.5h0m0.5-69h0m0 1.5h0m0 36h0m0 8h0m0 3h0m0 6.5h0m0 9h0m0.5-38.5h0m0 6.5h0m0 17h0m0 22h0m0 13.5h0m0.5-68.5h0m0 5h0m0 12h0m0 10.5h0m0 6h0m0 11h0m0 1.5h0m0 2h0m0.5-64h0m0 23.5h0m0 14.5h0m0 6h0m0.5-8h0m0 11.5h0m0 15.5h0m0 1h0m0 12h0m0.5-20.5h0m0 1.5h0m0 13h0m0.5-35h0m0 10.5h0m0 32.5h0m0.5-19h0m0.5 13.5h0m11.5-11h0m1-14.5h0m0 22h0m1-27.5h0m0 4.5h0m0 27.5h0m0 12.5h0m1-47h0m0 5h0m0 8.5h0m0 2h0m0 11.5h0m0 2h0m0 27h0m0.5-32.5h0m0 3.5h0m0 23h0m0.5-96.5h0m0 9h0m0 63h0m0 0.5h0m0 12.5h0m0 7h0m0.5-70.5h0m0 31.5h0m0 13.5h0m0 4.5h0m0 8.5h0m0.5-27.5h0m0 0.5h0m0 20.5h0m0 5.5h0m0 19h0m0 1h0m0 5.5h0m0.5-27h0m0.5-26h0m0 12.5h0m0 29h0m0 10h0m0.5-75.5h0m0 43h0m0 15.5h0m0 6.5h0m0 3.5h0m0.5-22h0m1.5 8.5h0m12 9.5h0m1-30h0m0 44.5h0m0.5-78.5h0m0 35.5h0m0 5.5h0m0 1h0m0 11.5h0m0 45h0m0 5h0m0.5-146.5h0m0 11h0m0 14.5h0m0 25h0m0 13.5h0m0 4.5h0m0 0.5h0m0 2.5h0m0 18.5h0m0 10.5h0m0 0.5h0m0 10.5h0m0.5-70.5h0m0 19.5h0m0 26.5h0m0 6h0m0 44.5h0m0.5-109h0m0 3h0m0 10.5h0m0 20.5h0m0 47.5h0m0.5-95.5h0m0 12h0m0 27.5h0m0 55h0m0 5.5h0m0.5-19h0m0.5-24.5h0m0 92.5h0m0.5-112h0m0 80h0m0.5-36h0m0 15h0m0.5-107.5h0m0 94.5h0m0.5-2.5h0m11.5-49.5h0m0 7.5h0m0.5 46.5h0m0.5-15.5h0m0.5-8.5h0m0 11h0m0 26h0m0.5-36.5h0m0 15.5h0m0 3.5h0m0.5-37h0m0 45.5h0m0 39h0m0.5-108h0m0 6h0m0 55h0m0 5h0m0 3h0m0 7h0m0 6h0m0 21h0m0 1.5h0m0.5-95h0m0 22.5h0m0 6h0m0 14.5h0m0 60h0m0.5-106.5h0m0 12.5h0m0 47h0m0 0.5h0m0 2.5h0m0.5-59.5h0m0 21h0m0 32h0m0 4h0m0 0.5h0m0 8h0m0 17.5h0m0 1h0m0 8h0m0.5-65h0m0 29.5h0m0 7h0m0 8h0m0.5-43.5h0m0 46h0m1.5-30h0m1.5 29h0m10 51h0m1-26h0m0.5 3.5h0m0 16h0m0.5-47.5h0m0 11.5h0m0 13.5h0m0 7.5h0m0.5-16.5h0m0 0.5h0m0 18.5h0m0.5-26h0m0 27.5h0m0.5-111h0m0 10.5h0m0 24h0m0 36.5h0m0 35.5h0m0 10h0m0 6h0m0.5-99.5h0m0 59.5h0m0 6.5h0m0 2h0m0 2h0m0 3.5h0m0 22.5h0m0 4.5h0m0 7h0m0.5-53.5h0m0 28.5h0m0 4.5h0m0.5-17h0m0 12.5h0m0 1.5h0m0 4.5h0m0 4.5h0m0.5-53h0m0 39h0m0 8.5h0m0 4h0m1-18.5h0m0 10.5h0m1-30.5h0m0 32h0m0 21h0m10-138.5h0m1.5-5h0m0.5 113.5h0m0.5-96.5h0m0 15.5h0m0 29.5h0m0.5 46.5h0m0.5-96.5h0m0 46h0m0 87h0m0.5-201h0m0 90h0m0 31h0m0.5-115.5h0m0 14h0m0 55.5h0m0 11.5h0m0 4h0m0 30.5h0m0 16h0m0 14h0m0 19.5h0m0 21h0m0 11.5h0m0.5-194.5h0m0 29.5h0m0 80.5h0m0 9.5h0m0 1h0m0 0.5h0m0 2.5h0m0 1.5h0m0 0.5h0m0.5-125h0m0 97h0m0 4h0m0 8.5h0m0.5-28h0m0 18.5h0m0 2.5h0m0.5-40.5h0m0 21h0m0 20h0m0.5-17h0m0.5 30.5h0m0.5-81h0m0 62.5h0m0.5-16.5h0m0 33.5h0m13 64.5h0m1-8.5h0m0 5.5h0m0 5h0m0.5-18.5h0m0 9.5h0m0 0.5h0m0 1h0m0 1h0m0 0.5h0m0 0.5h0m0 8h0m0 1.5h0m0.5-9h0m0 4h0m0 1h0m0 5.5h0m0.5-40.5h0m0 27.5h0m0 1.5h0m0 0.5h0m0 0.5h0m0 8h0m0 7.5h0m0.5-65.5h0m0 19.5h0m0 26.5h0m0 1.5h0m0 1.5h0m0 1.5h0m0 3.5h0m0 1h0m0.5-33.5h0m0 10h0m0 4.5h0m0 5h0m0 3h0m0 4.5h0m0 1.5h0m0.5 0.5h0m0 2h0m0.5 4.5h0m0.5-17.5h0m0 17h0m0 9.5h0m13.5-103h0m0 33h0m0.5-56.5h0m0 38h0m0 10.5h0m0 21.5h0m1-93.5h0m0 26.5h0m0 5h0m0 65.5h0m0.5-92.5h0m0 19.5h0m0 31.5h0m0 8h0m0 17.5h0m0 21h0m0.5-77h0m0 3h0m0 13h0m0 6h0m0 6.5h0m0 3.5h0m0 69h0m0.5-147h0m0 24.5h0m0 4.5h0m0 2.5h0m0 19.5h0m0 2h0m0 12h0m0 4.5h0m0 59.5h0m0.5-144h0m0 102h0m0 2.5h0m0 27.5h0m0.5-70h0m0 39.5h0m0 14h0m0.5-37.5h0m0.5-11.5h0m0 2h0m0 5h0m0 34h0m0 30h0m0.5-50.5h0m0 23h0m12.5 59h0m1-18h0m0 25.5h0m0.5-18h0m0 11.5h0m0.5 4.5h0m0.5-39h0m0 23.5h0m0 7.5h0m0 0.5h0m0.5-52h0m0 29.5h0m0 5h0m0 1h0m0 16.5h0m0 4.5h0m0 2h0m0 1h0m0.5-33h0m0 7.5h0m0 12h0m0.5-67.5h0m0 3.5h0m0 9h0m0 35.5h0m0 1.5h0m0 16.5h0m0 1.5h0m0.5-36h0m0 1h0m0 12h0m0 4.5h0m0 6h0m0 2.5h0m0 17h0m0.5-48.5h0m0 9h0m0 3h0m0 2h0m0 14h0m0 4h0m0 26h0m0.5-8.5h0m0 5.5h0m0.5-38h0m0 28h0m0.5-40.5h0m1 24h0m12.5 36.5h0m0.5-19h0m0 25h0m0 3h0m0.5-26h0m0 1h0m0.5-8h0m0 8.5h0m0 8h0m0 0.5h0m0.5-21h0m0 7h0m0 0.5h0m0 4.5h0m0 2.5h0m0 2.5h0m0 3.5h0m0.5-37.5h0m0 27h0m0.5-32h0m0 4.5h0m0 3.5h0m0 23.5h0m0 3h0m0 3.5h0m0 8.5h0m0 0.5h0m0 1h0m0 1h0m0.5-30h0m0 10.5h0m0 14.5h0m0 8.5h0m0.5-37h0m0 9.5h0m0 0.5h0m0 5h0m0 4.5h0m0 1.5h0m0 12.5h0m0.5-15h0m0 4h0m0 10h0m0 1.5h0m0 3h0m1-21h0m0 2h0m13-35.5h0m0.5-9h0m0 7h0m0.5-14h0m0.5-50.5h0m0 40.5h0m0 28h0m0.5-49.5h0m0 46h0m0 14.5h0m0.5-65.5h0m0 2.5h0m0 4h0m0 4h0m0 6.5h0m0 27.5h0m0 14h0m0 36h0m0.5-135.5h0m0 15h0m0 18.5h0m0 17h0m0 6.5h0m0 66.5h0m0.5-108h0m0 6.5h0m0 15h0m0 10.5h0m0 4.5h0m0 14.5h0m0 10.5h0m0 0.5h0m0 40h0m0.5-129h0m0 35h0m0 33h0m0 10.5h0m0.5-53h0m0 13.5h0m0 8.5h0m0 15.5h0m0 43.5h0m0.5-18.5h0m0.5-71.5h0m0 37h0m0 20.5h0m0 15h0m0.5-13h0m0.5 5.5h0m13 35h0m0 21.5h0m0 12h0m0.5-31.5h0m0 7.5h0m0 1h0m0.5 27.5h0m0.5-76h0m0 16.5h0m0 8h0m0 20.5h0m0 8.5h0m0.5-54h0m0 25h0m0 10.5h0m0.5-48.5h0m0 13h0m0 23h0m0 6h0m0 5.5h0m0 0.5h0m0 1.5h0m0 7.5h0m0.5-58h0m0 25.5h0m0 26h0m0 20h0m0 16.5h0m0 6.5h0m0.5-61h0m0 1h0m0 13.5h0m0 11h0m0 3h0m0 5.5h0m0 20h0m0.5-49h0m0 6h0m0 13.5h0m0 2h0m0 11h0m0 0.5h0m0 1h0m0.5-43.5h0m0 24.5h0m0.5 17.5h0m2-17h0" fill="none" stroke="#0a0a14" stroke-width="1.5" stroke-linecap="round"/><path d="M109.3 2100.7V2368.4H618.7" fill="none" stroke="#222" stroke-width="1"/><path d="M109.3 2291.6H618" fill="none" stroke="#222" stroke-width="1" stroke-dasharray="3.6 2.6"/><text transform="translate(101.5 2155.5) scale(1.08 1)" font-size="19" text-anchor="end" fill="#222">2.0</text><text transform="translate(101.5 2207.7) scale(1.08 1)" font-size="19" text-anchor="end" fill="#222">1.5</text><text transform="translate(101.5 2259.5) scale(1.08 1)" font-size="19" text-anchor="end" fill="#222">1.0</text><text transform="translate(101.5 2311.2) scale(1.08 1)" font-size="19" text-anchor="end" fill="#222">0.5</text><text transform="translate(101.5 2362.9) scale(1.08 1)" font-size="19" text-anchor="end" fill="#222">0.0</text><text transform="translate(124.8 2376.6) rotate(-90) scale(1.08 1)" font-size="17.8" text-anchor="end" fill="#222">0</text><text transform="translate(143.7 2376.6) rotate(-90) scale(1.08 1)" font-size="17.8" text-anchor="end" fill="#222">1</text><text transform="translate(162.6 2376.6) rotate(-90) scale(1.08 1)" font-size="17.8" text-anchor="end" fill="#222">2</text><text transform="translate(181.5 2376.6) rotate(-90) scale(1.08 1)" font-size="17.8" text-anchor="end" fill="#222">3</text><text transform="translate(200.4 2376.6) rotate(-90) scale(1.08 1)" font-size="17.8" text-anchor="end" fill="#222">4</text><text transform="translate(219.3 2376.6) rotate(-90) scale(1.08 1)" font-size="17.8" text-anchor="end" fill="#222">5</text><text transform="translate(238.2 2376.6) rotate(-90) scale(1.08 1)" font-size="17.8" text-anchor="end" fill="#222">6</text><text transform="translate(257 2376.6) rotate(-90) scale(1.08 1)" font-size="17.8" text-anchor="end" fill="#222">7</text><text transform="translate(275.9 2376.6) rotate(-90) scale(1.08 1)" font-size="17.8" text-anchor="end" fill="#222">8</text><text transform="translate(294.8 2376.6) rotate(-90) scale(1.08 1)" font-size="17.8" text-anchor="end" fill="#222">9</text><text transform="translate(313.7 2376.6) rotate(-90) scale(1.08 1)" font-size="17.8" text-anchor="end" fill="#222">10a</text><text transform="translate(332.6 2376.6) rotate(-90) scale(1.08 1)" font-size="17.8" text-anchor="end" fill="#222">10b</text><text transform="translate(351.5 2376.6) rotate(-90) scale(1.08 1)" font-size="17.8" text-anchor="end" fill="#222">11</text><text transform="translate(370.4 2376.6) rotate(-90) scale(1.08 1)" font-size="17.8" text-anchor="end" fill="#222">12</text><text transform="translate(389.3 2376.6) rotate(-90) scale(1.08 1)" font-size="17.8" text-anchor="end" fill="#222">13</text><text transform="translate(408.2 2376.6) rotate(-90) scale(1.08 1)" font-size="17.8" text-anchor="end" fill="#222">14</text><text transform="translate(427.1 2376.6) rotate(-90) scale(1.08 1)" font-size="17.8" text-anchor="end" fill="#222">15</text><text transform="translate(446 2376.6) rotate(-90) scale(1.08 1)" font-size="17.8" text-anchor="end" fill="#222">16</text><text transform="translate(464.9 2376.6) rotate(-90) scale(1.08 1)" font-size="17.8" text-anchor="end" fill="#222">17</text><text transform="translate(483.8 2376.6) rotate(-90) scale(1.08 1)" font-size="17.8" text-anchor="end" fill="#222">18</text><text transform="translate(502.6 2376.6) rotate(-90) scale(1.08 1)" font-size="17.8" text-anchor="end" fill="#222">19</text><text transform="translate(521.5 2376.6) rotate(-90) scale(1.08 1)" font-size="17.8" text-anchor="end" fill="#222">20</text><text transform="translate(540.4 2376.6) rotate(-90) scale(1.08 1)" font-size="17.8" text-anchor="end" fill="#222">21</text><text transform="translate(559.3 2376.6) rotate(-90) scale(1.08 1)" font-size="17.8" text-anchor="end" fill="#222">22</text><text transform="translate(578.2 2376.6) rotate(-90) scale(1.08 1)" font-size="17.8" text-anchor="end" fill="#222">23</text><text transform="translate(597.1 2376.6) rotate(-90) scale(1.08 1)" font-size="17.8" text-anchor="end" fill="#222">24</text><text transform="translate(616 2376.6) rotate(-90) scale(1.08 1)" font-size="17.8" text-anchor="end" fill="#222">25</text><path d="M109.3 2148.7h-4.5M109.3 2200.9h-4.5M109.3 2252.7h-4.5M109.3 2304.4h-4.5M109.3 2356.1h-4.5M118.4 2368.4v4.5M137.3 2368.4v4.5M156.2 2368.4v4.5M175.1 2368.4v4.5M194 2368.4v4.5M212.9 2368.4v4.5M231.8 2368.4v4.5M250.6 2368.4v4.5M269.5 2368.4v4.5M288.4 2368.4v4.5M307.3 2368.4v4.5M326.2 2368.4v4.5M345.1 2368.4v4.5M364 2368.4v4.5M382.9 2368.4v4.5M401.8 2368.4v4.5M420.7 2368.4v4.5M439.6 2368.4v4.5M458.5 2368.4v4.5M477.4 2368.4v4.5M496.2 2368.4v4.5M515.1 2368.4v4.5M534 2368.4v4.5M552.9 2368.4v4.5M571.8 2368.4v4.5M590.7 2368.4v4.5M609.6 2368.4v4.5" fill="none" stroke="#222" stroke-width="1"/><text transform="translate(56.3 2234) rotate(-90) scale(1.08 1)" font-size="19.6" text-anchor="middle" fill="#222">Normalized biotin</text><text transform="translate(364.3 2434.5) scale(1.08 1)" font-size="19.6" text-anchor="middle" fill="#222">Leiden cluster</text></g><g id="panel_L"><g transform="translate(330 1612.1) scale(0.342 0.365)" fill="none" stroke-linecap="round" stroke-width="2.4" stroke="#d2d2d2"><use href="#u0"/><use href="#u6"/><use href="#u10b"/><use href="#u11"/><use href="#u13"/><use href="#u14"/><use href="#u16"/><use href="#u17"/><use href="#u18"/><use href="#u20"/><use href="#u22"/><use href="#u23"/><use href="#u25"/></g><g transform="translate(330 1612.1) scale(0.342 0.365)" fill="none" stroke-linecap="round" stroke-width="2.4" stroke="#1f7fbf"><use href="#u1"/><use href="#u2"/><use href="#u3"/><use href="#u4"/><use href="#u5"/><use href="#u7"/><use href="#u8"/><use href="#u9"/><use href="#u10a"/><use href="#u12"/><use href="#u15"/><use href="#u19"/><use href="#u21"/><use href="#u24"/></g><path d="M790 2203h0m14.5-5.5h0m16.5-19h0m3-2h0m5.5 44h0m11 12h0m6.5 151.5h0m0.5-113h0m0.5-2h0m2.5-3h0m0.5 3.5h0m1-6h0m3 11h0m2 1h0m0.5-6.5h0m3-2h0m0.5-1.5h0m1.5 3h0m2 1.5h0m0.5-1h0m2.5-2.5h0m1-0.5h0m0.5-4h0m3 5h0m0.5-1.5h0m1 2h0m0.5 6h0m2 2.5h0m1-3.5h0m8 6.5h0m6-15h0m4.5 1h0m2.5 10.5h0m4-1.5h0m2.5-5h0m0.5-1.5h0m2 2h0m0.5 5h0m1.5 3.5h0m0.5-6h0m1 3.5h0m4.5 10h0m3 1h0m0 1h0m32.5-43h0m0.5-4h0m3 1.5h0m0.5-2h0m0.5 1.5h0m2 1h0" fill="none" stroke="#1f7fbf" stroke-width="2.7" stroke-linecap="round"/><text transform="translate(848 2097) scale(1.08 1)" font-size="19.4" text-anchor="middle">TCR rearrangement</text><circle cx="713.6" cy="2128.4" r="3.4" fill="#1f7fbf"/><circle cx="838.4" cy="2128.4" r="4" fill="#d2d2d2"/><text transform="translate(723.7 2135.3) scale(1.08 1)" font-size="19.6">Detected</text><text transform="translate(848 2135.3) scale(1.08 1)" font-size="19.6">Not detected</text><text transform="translate(717.3 2375.3) rotate(-90) scale(1.08 1)" font-size="19">UMAP2</text><text transform="translate(750.9 2418) scale(1.08 1)" font-size="19">UMAP1</text><line x1="709.3" y1="2411.6" x2="709.3" y2="2394" stroke="#000" stroke-width="1.1"/><path d="M709.3 2387 L712.7 2396.5 L709.3 2394 L705.9 2396.5 Z" fill="#000"/><line x1="708.7" y1="2411" x2="730.6" y2="2411" stroke="#000" stroke-width="1.1"/><path d="M737.6 2411 L728.1 2414.4 L730.6 2411 L728.1 2407.6 Z" fill="#000"/></g><text transform="translate(0 24) scale(1.08 1)" font-size="29.6" font-weight="bold">A</text><text transform="translate(1373 24) scale(1.08 1)" font-size="29.6" font-weight="bold">B</text><text transform="translate(0 732.5) scale(1.08 1)" font-size="29.6" font-weight="bold">C</text><text transform="translate(504 732.5) scale(1.08 1)" font-size="29.6" font-weight="bold">D</text><text transform="translate(1179 732.5) scale(1.08 1)" font-size="29.6" font-weight="bold">E</text><text transform="translate(503 1210) scale(1.08 1)" font-size="29.6" font-weight="bold">F</text><text transform="translate(1018 1212) scale(1.08 1)" font-size="29.6" font-weight="bold">G</text><text transform="translate(1722 1212) scale(1.08 1)" font-size="29.6" font-weight="bold">H</text><text transform="translate(1 1673.5) scale(1.08 1)" font-size="29.6" font-weight="bold">I</text><text transform="translate(1047 1676) scale(1.08 1)" font-size="29.6" font-weight="bold">J</text><text transform="translate(0 2086) scale(1.08 1)" font-size="29.6" font-weight="bold">K</text><text transform="translate(674 2086) scale(1.08 1)" font-size="29.6" font-weight="bold">L</text></svg></body></html>
